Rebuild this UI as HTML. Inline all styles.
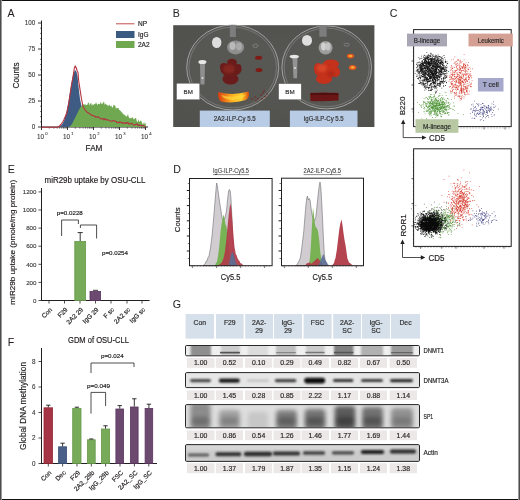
<!DOCTYPE html>
<html><head><meta charset="utf-8"><style>
html,body{margin:0;padding:0;background:#fff;}
body{width:520px;height:500px;overflow:hidden;}
svg{display:block;font-family:"Liberation Sans", sans-serif;will-change:transform;}
text:not([stroke]){stroke:#231f20;stroke-width:0.18px;}
</style></head><body>
<svg width="520" height="500" viewBox="0 0 520 500">
<rect x="0" y="0" width="520" height="500" fill="#ffffff"/>
<text x="7.6" y="16.6" font-size="10.6" text-anchor="start" fill="#231f20" font-weight="normal" stroke="#231f20" stroke-width="0.05" >A</text>
<line x1="41.5" y1="20.5" x2="41.5" y2="127" stroke="#231f20" stroke-width="1" />
<line x1="41" y1="127" x2="148" y2="127" stroke="#231f20" stroke-width="1" />
<line x1="38" y1="127.0" x2="41.5" y2="127.0" stroke="#231f20" stroke-width="0.9" />
<line x1="40" y1="121.8" x2="41.5" y2="121.8" stroke="#231f20" stroke-width="0.6" />
<line x1="40" y1="116.6" x2="41.5" y2="116.6" stroke="#231f20" stroke-width="0.6" />
<line x1="40" y1="111.4" x2="41.5" y2="111.4" stroke="#231f20" stroke-width="0.6" />
<line x1="40" y1="106.2" x2="41.5" y2="106.2" stroke="#231f20" stroke-width="0.6" />
<line x1="38" y1="101.0" x2="41.5" y2="101.0" stroke="#231f20" stroke-width="0.9" />
<line x1="40" y1="95.8" x2="41.5" y2="95.8" stroke="#231f20" stroke-width="0.6" />
<line x1="40" y1="90.6" x2="41.5" y2="90.6" stroke="#231f20" stroke-width="0.6" />
<line x1="40" y1="85.4" x2="41.5" y2="85.4" stroke="#231f20" stroke-width="0.6" />
<line x1="40" y1="80.19999999999999" x2="41.5" y2="80.19999999999999" stroke="#231f20" stroke-width="0.6" />
<line x1="38" y1="75.0" x2="41.5" y2="75.0" stroke="#231f20" stroke-width="0.9" />
<line x1="40" y1="69.8" x2="41.5" y2="69.8" stroke="#231f20" stroke-width="0.6" />
<line x1="40" y1="64.6" x2="41.5" y2="64.6" stroke="#231f20" stroke-width="0.6" />
<line x1="40" y1="59.39999999999999" x2="41.5" y2="59.39999999999999" stroke="#231f20" stroke-width="0.6" />
<line x1="40" y1="54.2" x2="41.5" y2="54.2" stroke="#231f20" stroke-width="0.6" />
<line x1="38" y1="49.0" x2="41.5" y2="49.0" stroke="#231f20" stroke-width="0.9" />
<line x1="40" y1="43.8" x2="41.5" y2="43.8" stroke="#231f20" stroke-width="0.6" />
<line x1="40" y1="38.599999999999994" x2="41.5" y2="38.599999999999994" stroke="#231f20" stroke-width="0.6" />
<line x1="40" y1="33.39999999999999" x2="41.5" y2="33.39999999999999" stroke="#231f20" stroke-width="0.6" />
<line x1="40" y1="28.200000000000003" x2="41.5" y2="28.200000000000003" stroke="#231f20" stroke-width="0.6" />
<line x1="38" y1="23.0" x2="41.5" y2="23.0" stroke="#231f20" stroke-width="0.9" />
<text x="35.2" y="25.3" font-size="6.3" text-anchor="end" fill="#333" font-weight="normal" stroke="#333" stroke-width="0.08" >100</text>
<text x="35.2" y="51.3" font-size="6.3" text-anchor="end" fill="#333" font-weight="normal" stroke="#333" stroke-width="0.08" >75</text>
<text x="35.2" y="77.3" font-size="6.3" text-anchor="end" fill="#333" font-weight="normal" stroke="#333" stroke-width="0.08" >50</text>
<text x="35.2" y="103.3" font-size="6.3" text-anchor="end" fill="#333" font-weight="normal" stroke="#333" stroke-width="0.08" >25</text>
<text x="35.2" y="129.3" font-size="6.3" text-anchor="end" fill="#333" font-weight="normal" stroke="#333" stroke-width="0.08" >0</text>
<line x1="41.5" y1="127" x2="41.5" y2="130" stroke="#231f20" stroke-width="0.9" />
<line x1="49.32677988726351" y1="127" x2="49.32677988726351" y2="128.8" stroke="#231f20" stroke-width="0.5" />
<line x1="53.90515262271123" y1="127" x2="53.90515262271123" y2="128.8" stroke="#231f20" stroke-width="0.5" />
<line x1="57.153559774527025" y1="127" x2="57.153559774527025" y2="128.8" stroke="#231f20" stroke-width="0.5" />
<line x1="59.67322011273649" y1="127" x2="59.67322011273649" y2="128.8" stroke="#231f20" stroke-width="0.5" />
<line x1="61.73193250997473" y1="127" x2="61.73193250997473" y2="128.8" stroke="#231f20" stroke-width="0.5" />
<line x1="63.47254904037068" y1="127" x2="63.47254904037068" y2="128.8" stroke="#231f20" stroke-width="0.5" />
<line x1="64.98033966179054" y1="127" x2="64.98033966179054" y2="128.8" stroke="#231f20" stroke-width="0.5" />
<line x1="66.31030524542246" y1="127" x2="66.31030524542246" y2="128.8" stroke="#231f20" stroke-width="0.5" />
<line x1="67.5" y1="127" x2="67.5" y2="130" stroke="#231f20" stroke-width="0.9" />
<line x1="75.32677988726351" y1="127" x2="75.32677988726351" y2="128.8" stroke="#231f20" stroke-width="0.5" />
<line x1="79.90515262271123" y1="127" x2="79.90515262271123" y2="128.8" stroke="#231f20" stroke-width="0.5" />
<line x1="83.15355977452703" y1="127" x2="83.15355977452703" y2="128.8" stroke="#231f20" stroke-width="0.5" />
<line x1="85.67322011273649" y1="127" x2="85.67322011273649" y2="128.8" stroke="#231f20" stroke-width="0.5" />
<line x1="87.73193250997474" y1="127" x2="87.73193250997474" y2="128.8" stroke="#231f20" stroke-width="0.5" />
<line x1="89.47254904037068" y1="127" x2="89.47254904037068" y2="128.8" stroke="#231f20" stroke-width="0.5" />
<line x1="90.98033966179054" y1="127" x2="90.98033966179054" y2="128.8" stroke="#231f20" stroke-width="0.5" />
<line x1="92.31030524542246" y1="127" x2="92.31030524542246" y2="128.8" stroke="#231f20" stroke-width="0.5" />
<line x1="93.5" y1="127" x2="93.5" y2="130" stroke="#231f20" stroke-width="0.9" />
<line x1="101.32677988726351" y1="127" x2="101.32677988726351" y2="128.8" stroke="#231f20" stroke-width="0.5" />
<line x1="105.90515262271123" y1="127" x2="105.90515262271123" y2="128.8" stroke="#231f20" stroke-width="0.5" />
<line x1="109.15355977452703" y1="127" x2="109.15355977452703" y2="128.8" stroke="#231f20" stroke-width="0.5" />
<line x1="111.67322011273649" y1="127" x2="111.67322011273649" y2="128.8" stroke="#231f20" stroke-width="0.5" />
<line x1="113.73193250997474" y1="127" x2="113.73193250997474" y2="128.8" stroke="#231f20" stroke-width="0.5" />
<line x1="115.47254904037068" y1="127" x2="115.47254904037068" y2="128.8" stroke="#231f20" stroke-width="0.5" />
<line x1="116.98033966179054" y1="127" x2="116.98033966179054" y2="128.8" stroke="#231f20" stroke-width="0.5" />
<line x1="118.31030524542246" y1="127" x2="118.31030524542246" y2="128.8" stroke="#231f20" stroke-width="0.5" />
<line x1="119.5" y1="127" x2="119.5" y2="130" stroke="#231f20" stroke-width="0.9" />
<line x1="127.32677988726351" y1="127" x2="127.32677988726351" y2="128.8" stroke="#231f20" stroke-width="0.5" />
<line x1="131.90515262271123" y1="127" x2="131.90515262271123" y2="128.8" stroke="#231f20" stroke-width="0.5" />
<line x1="135.15355977452703" y1="127" x2="135.15355977452703" y2="128.8" stroke="#231f20" stroke-width="0.5" />
<line x1="137.6732201127365" y1="127" x2="137.6732201127365" y2="128.8" stroke="#231f20" stroke-width="0.5" />
<line x1="139.73193250997474" y1="127" x2="139.73193250997474" y2="128.8" stroke="#231f20" stroke-width="0.5" />
<line x1="141.47254904037067" y1="127" x2="141.47254904037067" y2="128.8" stroke="#231f20" stroke-width="0.5" />
<line x1="142.98033966179054" y1="127" x2="142.98033966179054" y2="128.8" stroke="#231f20" stroke-width="0.5" />
<line x1="144.31030524542246" y1="127" x2="144.31030524542246" y2="128.8" stroke="#231f20" stroke-width="0.5" />
<line x1="145.5" y1="127" x2="145.5" y2="130" stroke="#231f20" stroke-width="0.9" />
<text x="40.5" y="138.5" font-size="6.3" text-anchor="middle" fill="#333" font-weight="normal" stroke="#333" stroke-width="0.08" >10</text>
<text x="45.3" y="135.2" font-size="4.2" text-anchor="start" fill="#333" font-weight="normal" stroke="#333" stroke-width="0.05" >0</text>
<text x="66.5" y="138.5" font-size="6.3" text-anchor="middle" fill="#333" font-weight="normal" stroke="#333" stroke-width="0.08" >10</text>
<text x="71.3" y="135.2" font-size="4.2" text-anchor="start" fill="#333" font-weight="normal" stroke="#333" stroke-width="0.05" >1</text>
<text x="92.5" y="138.5" font-size="6.3" text-anchor="middle" fill="#333" font-weight="normal" stroke="#333" stroke-width="0.08" >10</text>
<text x="97.3" y="135.2" font-size="4.2" text-anchor="start" fill="#333" font-weight="normal" stroke="#333" stroke-width="0.05" >2</text>
<text x="118.5" y="138.5" font-size="6.3" text-anchor="middle" fill="#333" font-weight="normal" stroke="#333" stroke-width="0.08" >10</text>
<text x="123.3" y="135.2" font-size="4.2" text-anchor="start" fill="#333" font-weight="normal" stroke="#333" stroke-width="0.05" >3</text>
<text x="144.5" y="138.5" font-size="6.3" text-anchor="middle" fill="#333" font-weight="normal" stroke="#333" stroke-width="0.08" >10</text>
<text x="149.3" y="135.2" font-size="4.2" text-anchor="start" fill="#333" font-weight="normal" stroke="#333" stroke-width="0.05" >4</text>
<text x="94" y="150.5" font-size="8.2" text-anchor="middle" fill="#231f20" font-weight="normal" stroke="#231f20" stroke-width="0.18" >FAM</text>
<text transform="translate(18.8,75.5) rotate(-90)" font-size="8.2" text-anchor="middle" fill="#231f20">Counts</text>
<line x1="116" y1="23.8" x2="134.5" y2="23.8" stroke="#c0504d" stroke-width="1" />
<rect x="116" y="31" width="18.5" height="7" fill="#3b5a82" />
<rect x="116" y="41" width="18.5" height="7" fill="#6fa84f" />
<text x="138" y="26.2" font-size="6.5" text-anchor="start" fill="#231f20" font-weight="normal" stroke="#231f20" stroke-width="0.18" >NP</text>
<text x="138" y="37" font-size="6.5" text-anchor="start" fill="#231f20" font-weight="normal" stroke="#231f20" stroke-width="0.18" >IgG</text>
<text x="138" y="47" font-size="6.5" text-anchor="start" fill="#231f20" font-weight="normal" stroke="#231f20" stroke-width="0.18" >2A2</text>
<polygon points="57.0,127.0 60.0,126.5 62.0,124.5 64.0,121.0 66.0,114.0 68.0,104.0 70.0,92.0 72.0,80.0 73.5,73.0 75.2,70.0 76.5,72.0 77.5,76.0 78.7,88.0 80.0,99.0 81.5,106.0 83.0,114.0 84.0,120.0 86.0,127.0" fill="#3d5b83"/>
<polygon points="68.0,127.0 70.0,126.5 72.0,124.0 74.5,119.0 76.0,116.0 78.0,112.0 80.0,108.0 82.0,105.5 83.0,104.8 84.0,104.0 84.8,105.1 85.6,104.3 86.4,105.1 87.2,105.1 88.0,102.8 88.8,102.5 89.6,105.6 90.4,103.2 91.2,103.0 92.0,106.0 92.8,103.8 93.6,105.2 94.4,103.7 95.2,104.2 96.0,102.2 96.8,104.1 97.6,104.9 98.4,103.5 99.2,104.2 100.0,103.9 100.8,101.5 101.6,104.3 102.4,103.7 103.2,102.6 104.0,101.5 104.8,104.9 105.6,103.4 106.4,104.5 107.2,105.5 108.0,105.1 108.8,106.2 109.6,104.4 110.4,106.4 111.2,105.2 112.0,107.5 112.8,107.6 113.6,104.7 114.4,105.2 115.2,105.8 116.0,109.1 116.8,107.3 117.6,108.4 118.4,107.8 119.2,109.8 120.0,110.5 120.8,110.9 121.6,112.3 122.4,112.8 123.2,114.5 124.0,114.1 124.8,115.6 125.6,115.7 126.4,116.7 127.2,115.8 128.0,114.2 128.8,117.3 129.6,118.2 130.4,118.3 131.2,117.4 132.0,118.4 132.8,116.7 133.6,119.6 134.4,119.0 135.2,118.2 136.0,117.8 136.8,121.3 137.6,122.3 138.4,119.1 139.2,122.3 140.0,121.1 140.8,120.5 141.6,121.5 142.4,123.8 143.2,124.6 144.0,121.7 144.8,124.4 145.6,122.5 146.0,126.5 146.5,127.0" fill="#70a852"/>
<polyline points="41.5,127.2 57.0,127.2 59.0,126.5 61.0,124.5 63.0,121.5 64.0,119.5 66.8,113.0 69.0,102.0 71.0,88.0 73.0,76.8 74.4,68.0 75.2,65.9 76.3,68.0 77.2,71.0 78.0,72.6 78.7,81.0 80.0,89.4 81.5,99.0 83.0,106.5 84.5,109.0 85.5,110.5 86.4,111.5 87.5,112.6 88.5,112.8 89.5,114.0 90.6,114.0 91.7,115.5 92.7,115.3 93.8,116.1 94.8,116.0 95.9,117.4 97.0,117.2 98.0,116.5 99.0,117.7 100.0,118.0 101.0,119.1 102.0,118.7 103.0,118.6 104.0,119.8 105.0,118.6 106.0,119.8 107.0,119.9 108.0,119.7 109.0,120.4 110.0,120.8 111.0,121.1 112.0,121.3 113.0,120.4 114.0,120.8 115.0,121.4 116.0,121.2 117.0,122.8 118.0,122.2 119.0,122.8 120.0,121.7 121.0,122.4 122.0,123.3 123.0,122.3 124.0,123.3 125.0,123.5 126.0,122.5 127.0,123.2 128.0,122.4 129.0,124.3 130.0,123.8 131.0,123.4 132.0,123.6 133.0,124.3 134.0,125.2 135.0,124.9 136.0,124.1 137.0,123.9 138.0,125.6 139.0,124.9 140.0,125.2 141.0,125.7 142.0,125.5 143.0,125.3 144.0,126.2 145.5,127.0" fill="none" stroke="#b5323f" stroke-width="1.1" stroke-linejoin="round"/>
<text x="172.8" y="16.7" font-size="10.6" text-anchor="start" fill="#231f20" font-weight="normal" stroke="#231f20" stroke-width="0.05" >B</text>
<g>
<defs><radialGradient id="phbg" cx="0.5" cy="0.5" r="0.7"><stop offset="0" stop-color="#575754"/><stop offset="1" stop-color="#50504d"/></radialGradient><filter id="bb" x="-20%" y="-20%" width="140%" height="140%"><feGaussianBlur stdDeviation="0.6"/></filter><filter id="bb2" x="-20%" y="-20%" width="140%" height="140%"><feGaussianBlur stdDeviation="1"/></filter></defs>
<rect x="173.2" y="25.2" width="201.2" height="101.8" fill="url(#phbg)"/>
<ellipse cx="232.7" cy="67.5" rx="46" ry="42.5" fill="#575754" stroke="#a9a9a9" stroke-width="0.9"/>
<ellipse cx="232.7" cy="67.5" rx="43.8" ry="40.3" fill="none" stroke="#858585" stroke-width="0.7"/>
<ellipse cx="326.7" cy="67.4" rx="44.8" ry="41.5" fill="#575754" stroke="#a9a9a9" stroke-width="0.9"/>
<ellipse cx="326.7" cy="67.4" rx="42.599999999999994" ry="39.3" fill="none" stroke="#858585" stroke-width="0.7"/>
<rect x="229.9" y="25.2" width="6" height="11.8" fill="#7d7d7d" filter="url(#bb)"/>
<ellipse cx="216.7" cy="42.5" rx="4.7" ry="5.5" fill="#dedede" filter="url(#bb)"/>
<ellipse cx="235.6" cy="47.4" rx="8.5" ry="7" fill="#8e8e8e" filter="url(#bb)"/>
<ellipse cx="232.5" cy="46" rx="3" ry="4" fill="#b9b9b9" filter="url(#bb)"/>
<ellipse cx="239" cy="46.5" rx="3" ry="4" fill="#a9a9a9" filter="url(#bb)"/>
<ellipse cx="255.4" cy="45.8" rx="2.6" ry="1.6" fill="none" stroke="#858585" stroke-width="0.8"/>
<path d="M198.5,61 L206.5,61 L205,64 L204.5,84.5 L200.5,84.5 L200,64 Z" fill="#8f8f8f" filter="url(#bb)"/>
<ellipse cx="202.4" cy="62" rx="4" ry="2" fill="#e8e8e8" filter="url(#bb)"/>
<circle cx="202.5" cy="78" r="1" fill="#ddd"/>
<g fill="#6a1f1a" filter="url(#bb)"><ellipse cx="232" cy="62.5" rx="5" ry="3.8"/><ellipse cx="231" cy="70" rx="10.5" ry="6.5"/><ellipse cx="230.5" cy="79" rx="8" ry="5.5"/><ellipse cx="224" cy="67" rx="4" ry="4"/><ellipse cx="238" cy="68" rx="3.5" ry="4"/></g>
<ellipse cx="229" cy="69" rx="6" ry="4.5" fill="#8a2c20" opacity="0.8" filter="url(#bb2)"/>
<ellipse cx="258.6" cy="57.7" rx="3.6" ry="2" fill="#7d1c12" filter="url(#bb)"/>
<ellipse cx="259" cy="70" rx="3.4" ry="2" fill="#7d1c12" filter="url(#bb)"/>
<defs><linearGradient id="bmg" x1="0" x2="1" y1="0" y2="0"><stop offset="0" stop-color="#d83c10"/><stop offset="0.45" stop-color="#ffb020"/><stop offset="0.75" stop-color="#ffd030"/><stop offset="1" stop-color="#d84a10"/></linearGradient></defs>
<path d="M218.5,92 Q233,96 248.5,91.5 Q250.5,97 246,100 Q233,104 221,101.5 Q217,98 218.5,92 Z" fill="url(#bmg)" filter="url(#bb)"/>
<path d="M221,95 Q233,98.5 246,94.5 Q245,98 233,100 Q223,99.5 221,95 Z" fill="#ffe040" opacity="0.6" filter="url(#bb)"/>
<circle cx="255" cy="97" r="0.7" fill="#7a1c10"/>
<circle cx="258" cy="98.5" r="0.7" fill="#7a1c10"/>
<circle cx="261" cy="95" r="0.7" fill="#7a1c10"/>
<circle cx="263" cy="93" r="0.7" fill="#7a1c10"/>
<circle cx="265" cy="96.5" r="0.7" fill="#7a1c10"/>
<circle cx="262" cy="99" r="0.7" fill="#7a1c10"/>
<circle cx="267" cy="94" r="0.7" fill="#7a1c10"/>
<circle cx="256" cy="100.5" r="0.7" fill="#7a1c10"/>
<circle cx="264" cy="91" r="0.7" fill="#7a1c10"/>
<circle cx="252" cy="99" r="0.7" fill="#7a1c10"/>
<rect x="319.3" y="25.2" width="7.3" height="11.5" fill="#7d7d7d" filter="url(#bb)"/>
<ellipse cx="307" cy="40.4" rx="5" ry="5.4" fill="#e0e0e0" filter="url(#bb)"/>
<ellipse cx="325.6" cy="47.7" rx="7" ry="6.7" fill="#9c9c9c" filter="url(#bb)"/>
<ellipse cx="323.5" cy="46.5" rx="2.5" ry="4" fill="#d0d0d0" filter="url(#bb)"/>
<ellipse cx="328" cy="46.5" rx="2.5" ry="4" fill="#c4c4c4" filter="url(#bb)"/>
<ellipse cx="346.7" cy="44.7" rx="2.6" ry="1.5" fill="none" stroke="#858585" stroke-width="0.8"/>
<path d="M289.5,56 L299.5,56 L297.5,59 L297,78.2 L293.5,78.2 L292.5,59 Z" fill="#939393" filter="url(#bb)"/>
<ellipse cx="294.2" cy="56.5" rx="4.5" ry="1.8" fill="#e8e8e8" filter="url(#bb)"/>
<circle cx="295" cy="68" r="1" fill="#ddd"/>
<g fill="#c4301e" filter="url(#bb)"><ellipse cx="331" cy="64" rx="8" ry="4.5"/><ellipse cx="326.5" cy="71" rx="12" ry="7"/><ellipse cx="324" cy="79" rx="8" ry="5"/><ellipse cx="318" cy="68" rx="4" ry="5"/><ellipse cx="336" cy="72" rx="4" ry="5"/></g>
<ellipse cx="322" cy="68" rx="5" ry="4" fill="#e0502e" opacity="0.7" filter="url(#bb2)"/>
<ellipse cx="331" cy="74" rx="4" ry="3" fill="#a82818" opacity="0.6" filter="url(#bb2)"/>
<ellipse cx="350.4" cy="56.1" rx="3.6" ry="2.3" fill="#e05a1a" filter="url(#bb)"/>
<ellipse cx="350.4" cy="56.1" rx="1.8" ry="1" fill="#ffb040" filter="url(#bb)"/>
<ellipse cx="352.6" cy="67.4" rx="3.8" ry="2.5" fill="#e05a1a" filter="url(#bb)"/>
<ellipse cx="352.6" cy="67.4" rx="2" ry="1.1" fill="#ffb040" filter="url(#bb)"/>
<path d="M310,93 Q324,92 338.7,93 L338.5,100.5 Q324,101.8 310.5,101 Z" fill="#6a1812" filter="url(#bb)"/>
<rect x="311" y="93" width="27" height="2" fill="#4a0e0a" opacity="0.7" filter="url(#bb)"/>
<rect x="176.5" y="83.2" width="23.3" height="16.6" fill="#ffffff" stroke="#444" stroke-width="0.4"/>
<text x="188.2" y="93.9" font-size="6.2" text-anchor="middle" fill="#333" font-weight="normal" stroke="#333" stroke-width="0.18" >BM</text>
<rect x="278.6" y="83.6" width="22.7" height="16.2" fill="#ffffff" stroke="#444" stroke-width="0.4"/>
<text x="290" y="94.1" font-size="6.2" text-anchor="middle" fill="#333" font-weight="normal" stroke="#333" stroke-width="0.18" >BM</text>
<rect x="199.8" y="110.6" width="70" height="16.4" fill="#b9cce5"/>
<text x="234.8" y="121" font-size="6.4" text-anchor="middle" fill="#333" font-weight="normal" stroke="#333" stroke-width="0.18" textLength="42" lengthAdjust="spacingAndGlyphs" >2A2-ILP-Cy 5.5</text>
<rect x="289.9" y="110.6" width="67.6" height="16.4" fill="#b9cce5"/>
<text x="323.7" y="121" font-size="6.4" text-anchor="middle" fill="#333" font-weight="normal" stroke="#333" stroke-width="0.18" textLength="40" lengthAdjust="spacingAndGlyphs" >IgG-ILP-Cy 5.5</text>
</g>
<text x="389.8" y="17.4" font-size="10.6" text-anchor="start" fill="#231f20" font-weight="normal" stroke="#231f20" stroke-width="0.05" >C</text>
<rect x="413.6" y="29.6" width="97.6" height="97" fill="none" stroke="#231f20" stroke-width="1"/>
<line x1="411.5" y1="37.5" x2="414" y2="37.5" stroke="#231f20" stroke-width="0.7" />
<line x1="411.5" y1="61" x2="414" y2="61" stroke="#231f20" stroke-width="0.7" />
<line x1="411.5" y1="85" x2="414" y2="85" stroke="#231f20" stroke-width="0.7" />
<line x1="411.5" y1="109" x2="414" y2="109" stroke="#231f20" stroke-width="0.7" />
<line x1="412.8" y1="32" x2="414" y2="32" stroke="#231f20" stroke-width="0.4" />
<line x1="412.8" y1="36" x2="414" y2="36" stroke="#231f20" stroke-width="0.4" />
<line x1="412.8" y1="40" x2="414" y2="40" stroke="#231f20" stroke-width="0.4" />
<line x1="412.8" y1="44" x2="414" y2="44" stroke="#231f20" stroke-width="0.4" />
<line x1="412.8" y1="48" x2="414" y2="48" stroke="#231f20" stroke-width="0.4" />
<line x1="412.8" y1="52" x2="414" y2="52" stroke="#231f20" stroke-width="0.4" />
<line x1="412.8" y1="56" x2="414" y2="56" stroke="#231f20" stroke-width="0.4" />
<line x1="412.8" y1="60" x2="414" y2="60" stroke="#231f20" stroke-width="0.4" />
<line x1="412.8" y1="64" x2="414" y2="64" stroke="#231f20" stroke-width="0.4" />
<line x1="412.8" y1="68" x2="414" y2="68" stroke="#231f20" stroke-width="0.4" />
<line x1="412.8" y1="72" x2="414" y2="72" stroke="#231f20" stroke-width="0.4" />
<line x1="412.8" y1="76" x2="414" y2="76" stroke="#231f20" stroke-width="0.4" />
<line x1="412.8" y1="80" x2="414" y2="80" stroke="#231f20" stroke-width="0.4" />
<line x1="412.8" y1="84" x2="414" y2="84" stroke="#231f20" stroke-width="0.4" />
<line x1="412.8" y1="88" x2="414" y2="88" stroke="#231f20" stroke-width="0.4" />
<line x1="412.8" y1="92" x2="414" y2="92" stroke="#231f20" stroke-width="0.4" />
<line x1="412.8" y1="96" x2="414" y2="96" stroke="#231f20" stroke-width="0.4" />
<line x1="412.8" y1="100" x2="414" y2="100" stroke="#231f20" stroke-width="0.4" />
<line x1="412.8" y1="104" x2="414" y2="104" stroke="#231f20" stroke-width="0.4" />
<line x1="412.8" y1="108" x2="414" y2="108" stroke="#231f20" stroke-width="0.4" />
<line x1="412.8" y1="112" x2="414" y2="112" stroke="#231f20" stroke-width="0.4" />
<line x1="412.8" y1="116" x2="414" y2="116" stroke="#231f20" stroke-width="0.4" />
<line x1="412.8" y1="120" x2="414" y2="120" stroke="#231f20" stroke-width="0.4" />
<line x1="412.8" y1="124" x2="414" y2="124" stroke="#231f20" stroke-width="0.4" />
<line x1="421" y1="127.3" x2="421" y2="129.5" stroke="#231f20" stroke-width="0.6" />
<line x1="442" y1="127.3" x2="442" y2="129.5" stroke="#231f20" stroke-width="0.6" />
<line x1="457" y1="127.3" x2="457" y2="129.5" stroke="#231f20" stroke-width="0.6" />
<line x1="484" y1="127.3" x2="484" y2="129.5" stroke="#231f20" stroke-width="0.6" />
<line x1="505" y1="127.3" x2="505" y2="129.5" stroke="#231f20" stroke-width="0.6" />
<line x1="416" y1="127.3" x2="416" y2="128.5" stroke="#231f20" stroke-width="0.4" />
<line x1="419" y1="127.3" x2="419" y2="128.5" stroke="#231f20" stroke-width="0.4" />
<line x1="422" y1="127.3" x2="422" y2="128.5" stroke="#231f20" stroke-width="0.4" />
<line x1="425" y1="127.3" x2="425" y2="128.5" stroke="#231f20" stroke-width="0.4" />
<line x1="428" y1="127.3" x2="428" y2="128.5" stroke="#231f20" stroke-width="0.4" />
<line x1="431" y1="127.3" x2="431" y2="128.5" stroke="#231f20" stroke-width="0.4" />
<line x1="434" y1="127.3" x2="434" y2="128.5" stroke="#231f20" stroke-width="0.4" />
<line x1="437" y1="127.3" x2="437" y2="128.5" stroke="#231f20" stroke-width="0.4" />
<line x1="440" y1="127.3" x2="440" y2="128.5" stroke="#231f20" stroke-width="0.4" />
<line x1="443" y1="127.3" x2="443" y2="128.5" stroke="#231f20" stroke-width="0.4" />
<line x1="446" y1="127.3" x2="446" y2="128.5" stroke="#231f20" stroke-width="0.4" />
<line x1="449" y1="127.3" x2="449" y2="128.5" stroke="#231f20" stroke-width="0.4" />
<line x1="452" y1="127.3" x2="452" y2="128.5" stroke="#231f20" stroke-width="0.4" />
<line x1="455" y1="127.3" x2="455" y2="128.5" stroke="#231f20" stroke-width="0.4" />
<line x1="458" y1="127.3" x2="458" y2="128.5" stroke="#231f20" stroke-width="0.4" />
<line x1="461" y1="127.3" x2="461" y2="128.5" stroke="#231f20" stroke-width="0.4" />
<line x1="464" y1="127.3" x2="464" y2="128.5" stroke="#231f20" stroke-width="0.4" />
<line x1="467" y1="127.3" x2="467" y2="128.5" stroke="#231f20" stroke-width="0.4" />
<line x1="470" y1="127.3" x2="470" y2="128.5" stroke="#231f20" stroke-width="0.4" />
<line x1="473" y1="127.3" x2="473" y2="128.5" stroke="#231f20" stroke-width="0.4" />
<line x1="476" y1="127.3" x2="476" y2="128.5" stroke="#231f20" stroke-width="0.4" />
<line x1="479" y1="127.3" x2="479" y2="128.5" stroke="#231f20" stroke-width="0.4" />
<line x1="482" y1="127.3" x2="482" y2="128.5" stroke="#231f20" stroke-width="0.4" />
<line x1="485" y1="127.3" x2="485" y2="128.5" stroke="#231f20" stroke-width="0.4" />
<line x1="488" y1="127.3" x2="488" y2="128.5" stroke="#231f20" stroke-width="0.4" />
<line x1="491" y1="127.3" x2="491" y2="128.5" stroke="#231f20" stroke-width="0.4" />
<line x1="494" y1="127.3" x2="494" y2="128.5" stroke="#231f20" stroke-width="0.4" />
<line x1="497" y1="127.3" x2="497" y2="128.5" stroke="#231f20" stroke-width="0.4" />
<line x1="500" y1="127.3" x2="500" y2="128.5" stroke="#231f20" stroke-width="0.4" />
<line x1="503" y1="127.3" x2="503" y2="128.5" stroke="#231f20" stroke-width="0.4" />
<line x1="506" y1="127.3" x2="506" y2="128.5" stroke="#231f20" stroke-width="0.4" />
<line x1="509" y1="127.3" x2="509" y2="128.5" stroke="#231f20" stroke-width="0.4" />
<path d="M420.2,75.7h0.8v0.8h-0.8zM420.7,70.9h0.8v0.8h-0.8zM435.2,81.7h0.8v0.8h-0.8zM437.1,76.0h0.8v0.8h-0.8zM442.9,80.2h0.8v0.8h-0.8zM446.2,69.5h0.8v0.8h-0.8zM424.9,60.0h0.8v0.8h-0.8zM428.7,70.9h0.8v0.8h-0.8zM434.1,79.5h0.8v0.8h-0.8zM418.3,77.7h0.8v0.8h-0.8zM421.1,70.0h0.8v0.8h-0.8zM424.6,73.8h0.8v0.8h-0.8zM448.0,71.2h0.8v0.8h-0.8zM429.2,77.8h0.8v0.8h-0.8zM430.7,75.2h0.8v0.8h-0.8zM436.1,63.6h0.8v0.8h-0.8zM445.8,66.9h0.8v0.8h-0.8zM439.8,65.2h0.8v0.8h-0.8zM441.2,70.1h0.8v0.8h-0.8zM432.8,62.8h0.8v0.8h-0.8zM439.2,77.1h0.8v0.8h-0.8zM436.3,76.7h0.8v0.8h-0.8zM433.8,73.6h0.8v0.8h-0.8zM423.0,67.5h0.8v0.8h-0.8zM436.5,86.9h0.8v0.8h-0.8zM438.9,79.5h0.8v0.8h-0.8zM433.4,80.9h0.8v0.8h-0.8zM426.8,87.3h0.8v0.8h-0.8zM433.8,82.5h0.8v0.8h-0.8zM442.8,81.4h0.8v0.8h-0.8zM433.1,79.6h0.8v0.8h-0.8zM430.6,74.9h0.8v0.8h-0.8zM441.0,78.7h0.8v0.8h-0.8zM424.1,80.7h0.8v0.8h-0.8zM439.8,68.9h0.8v0.8h-0.8zM433.4,76.6h0.8v0.8h-0.8zM443.0,62.6h0.8v0.8h-0.8zM430.5,52.8h0.8v0.8h-0.8zM436.8,89.8h0.8v0.8h-0.8zM428.3,73.6h0.8v0.8h-0.8zM446.3,75.9h0.8v0.8h-0.8zM430.8,90.0h0.8v0.8h-0.8zM425.0,66.2h0.8v0.8h-0.8zM438.0,75.1h0.8v0.8h-0.8zM419.0,65.7h0.8v0.8h-0.8zM436.5,68.1h0.8v0.8h-0.8zM438.3,72.4h0.8v0.8h-0.8zM435.3,80.7h0.8v0.8h-0.8zM427.8,69.4h0.8v0.8h-0.8zM445.0,69.5h0.8v0.8h-0.8zM427.4,58.8h0.8v0.8h-0.8zM446.3,73.5h0.8v0.8h-0.8zM426.4,52.3h0.8v0.8h-0.8zM418.5,73.2h0.8v0.8h-0.8zM424.4,89.8h0.8v0.8h-0.8zM430.3,53.4h0.8v0.8h-0.8zM430.4,55.9h0.8v0.8h-0.8zM425.4,81.3h0.8v0.8h-0.8zM441.7,62.8h0.8v0.8h-0.8zM439.3,60.8h0.8v0.8h-0.8zM425.9,64.9h0.8v0.8h-0.8zM441.3,78.0h0.8v0.8h-0.8zM445.7,70.8h0.8v0.8h-0.8zM430.5,59.2h0.8v0.8h-0.8zM417.0,78.3h0.8v0.8h-0.8zM443.5,74.2h0.8v0.8h-0.8zM425.3,72.4h0.8v0.8h-0.8zM421.4,60.9h0.8v0.8h-0.8zM431.5,72.7h0.8v0.8h-0.8zM433.2,78.3h0.8v0.8h-0.8zM439.9,64.7h0.8v0.8h-0.8zM425.5,85.1h0.8v0.8h-0.8zM434.7,82.7h0.8v0.8h-0.8zM436.8,65.6h0.8v0.8h-0.8zM424.3,66.6h0.8v0.8h-0.8zM439.3,56.2h0.8v0.8h-0.8zM427.9,54.2h0.8v0.8h-0.8zM424.4,74.2h0.8v0.8h-0.8zM433.4,81.4h0.8v0.8h-0.8zM426.3,85.8h0.8v0.8h-0.8zM441.2,70.2h0.8v0.8h-0.8zM433.1,69.5h0.8v0.8h-0.8zM428.8,59.4h0.8v0.8h-0.8zM436.8,72.3h0.8v0.8h-0.8zM429.8,72.1h0.8v0.8h-0.8zM433.0,73.7h0.8v0.8h-0.8zM425.4,63.9h0.8v0.8h-0.8zM436.4,56.1h0.8v0.8h-0.8zM429.3,65.4h0.8v0.8h-0.8zM441.4,72.3h0.8v0.8h-0.8zM430.3,65.1h0.8v0.8h-0.8zM427.8,58.8h0.8v0.8h-0.8zM422.7,62.3h0.8v0.8h-0.8zM434.7,68.9h0.8v0.8h-0.8zM443.8,64.9h0.8v0.8h-0.8zM420.5,58.3h0.8v0.8h-0.8zM422.8,81.7h0.8v0.8h-0.8zM439.8,67.9h0.8v0.8h-0.8zM428.1,65.8h0.8v0.8h-0.8zM424.7,61.4h0.8v0.8h-0.8zM435.6,92.1h0.8v0.8h-0.8zM418.8,67.9h0.8v0.8h-0.8zM424.9,88.0h0.8v0.8h-0.8zM439.2,76.8h0.8v0.8h-0.8zM419.2,66.7h0.8v0.8h-0.8zM432.6,68.2h0.8v0.8h-0.8zM433.0,65.8h0.8v0.8h-0.8zM435.0,76.6h0.8v0.8h-0.8zM418.0,69.8h0.8v0.8h-0.8zM440.1,67.9h0.8v0.8h-0.8zM434.9,70.1h0.8v0.8h-0.8zM428.0,87.7h0.8v0.8h-0.8zM424.4,61.4h0.8v0.8h-0.8zM428.5,80.3h0.8v0.8h-0.8zM440.0,56.6h0.8v0.8h-0.8zM443.4,68.7h0.8v0.8h-0.8zM426.7,68.7h0.8v0.8h-0.8zM430.1,70.2h0.8v0.8h-0.8zM440.5,69.4h0.8v0.8h-0.8zM421.4,66.5h0.8v0.8h-0.8zM430.5,68.4h0.8v0.8h-0.8zM445.5,66.9h0.8v0.8h-0.8zM430.2,83.9h0.8v0.8h-0.8zM437.7,54.6h0.8v0.8h-0.8zM423.5,72.9h0.8v0.8h-0.8zM436.0,68.8h0.8v0.8h-0.8zM431.8,69.6h0.8v0.8h-0.8zM428.3,62.4h0.8v0.8h-0.8zM423.6,83.6h0.8v0.8h-0.8zM439.5,80.8h0.8v0.8h-0.8zM431.5,77.9h0.8v0.8h-0.8zM425.1,79.0h0.8v0.8h-0.8zM426.3,70.3h0.8v0.8h-0.8zM423.9,60.8h0.8v0.8h-0.8zM438.6,60.0h0.8v0.8h-0.8zM430.7,56.0h0.8v0.8h-0.8zM437.4,66.6h0.8v0.8h-0.8zM435.1,92.6h0.8v0.8h-0.8zM435.1,67.9h0.8v0.8h-0.8zM431.2,76.6h0.8v0.8h-0.8zM436.1,61.8h0.8v0.8h-0.8zM421.8,79.6h0.8v0.8h-0.8zM437.0,72.2h0.8v0.8h-0.8zM435.0,70.7h0.8v0.8h-0.8zM420.0,71.0h0.8v0.8h-0.8zM432.7,75.0h0.8v0.8h-0.8zM433.0,72.9h0.8v0.8h-0.8zM427.2,69.1h0.8v0.8h-0.8zM434.2,78.9h0.8v0.8h-0.8zM434.2,69.9h0.8v0.8h-0.8zM443.6,77.4h0.8v0.8h-0.8zM426.8,82.2h0.8v0.8h-0.8zM422.3,70.4h0.8v0.8h-0.8zM427.3,55.7h0.8v0.8h-0.8zM435.5,81.9h0.8v0.8h-0.8zM433.1,76.9h0.8v0.8h-0.8zM430.1,71.4h0.8v0.8h-0.8zM427.9,56.7h0.8v0.8h-0.8zM425.8,64.3h0.8v0.8h-0.8zM444.3,69.8h0.8v0.8h-0.8zM430.7,88.9h0.8v0.8h-0.8zM434.6,63.0h0.8v0.8h-0.8zM442.4,61.6h0.8v0.8h-0.8zM432.3,62.2h0.8v0.8h-0.8zM431.0,68.0h0.8v0.8h-0.8zM440.4,72.2h0.8v0.8h-0.8zM423.8,60.6h0.8v0.8h-0.8zM426.7,61.6h0.8v0.8h-0.8zM426.0,61.2h0.8v0.8h-0.8zM443.2,71.5h0.8v0.8h-0.8zM427.5,56.3h0.8v0.8h-0.8zM421.8,61.3h0.8v0.8h-0.8zM431.1,82.7h0.8v0.8h-0.8zM428.7,74.8h0.8v0.8h-0.8zM431.4,87.4h0.8v0.8h-0.8zM442.0,68.9h0.8v0.8h-0.8zM443.5,71.1h0.8v0.8h-0.8zM421.1,62.7h0.8v0.8h-0.8zM446.4,76.7h0.8v0.8h-0.8zM436.8,82.9h0.8v0.8h-0.8zM429.2,69.2h0.8v0.8h-0.8zM420.6,69.3h0.8v0.8h-0.8zM426.9,77.6h0.8v0.8h-0.8zM429.1,85.1h0.8v0.8h-0.8zM431.2,72.9h0.8v0.8h-0.8zM438.9,84.8h0.8v0.8h-0.8zM420.3,82.6h0.8v0.8h-0.8zM446.1,70.3h0.8v0.8h-0.8zM443.5,78.6h0.8v0.8h-0.8zM438.3,70.1h0.8v0.8h-0.8zM417.0,68.9h0.8v0.8h-0.8zM443.9,69.5h0.8v0.8h-0.8zM428.3,68.6h0.8v0.8h-0.8zM432.2,74.3h0.8v0.8h-0.8zM427.6,70.7h0.8v0.8h-0.8zM424.5,73.9h0.8v0.8h-0.8zM423.4,66.0h0.8v0.8h-0.8zM445.1,71.3h0.8v0.8h-0.8zM430.8,62.7h0.8v0.8h-0.8zM434.3,56.4h0.8v0.8h-0.8zM427.2,77.8h0.8v0.8h-0.8zM422.6,64.6h0.8v0.8h-0.8zM431.6,64.7h0.8v0.8h-0.8zM446.6,60.9h0.8v0.8h-0.8zM434.3,72.3h0.8v0.8h-0.8zM428.4,67.9h0.8v0.8h-0.8zM428.1,70.4h0.8v0.8h-0.8zM419.6,66.8h0.8v0.8h-0.8zM424.4,80.2h0.8v0.8h-0.8zM431.0,53.7h0.8v0.8h-0.8zM435.5,73.9h0.8v0.8h-0.8zM432.1,65.0h0.8v0.8h-0.8zM425.2,75.4h0.8v0.8h-0.8zM423.4,57.5h0.8v0.8h-0.8zM426.6,82.9h0.8v0.8h-0.8zM425.2,75.2h0.8v0.8h-0.8zM443.6,81.6h0.8v0.8h-0.8zM422.1,66.7h0.8v0.8h-0.8zM428.5,63.2h0.8v0.8h-0.8zM434.2,85.1h0.8v0.8h-0.8zM438.0,75.9h0.8v0.8h-0.8zM430.6,76.4h0.8v0.8h-0.8zM423.7,83.1h0.8v0.8h-0.8zM428.6,58.4h0.8v0.8h-0.8zM445.5,62.1h0.8v0.8h-0.8zM433.9,63.3h0.8v0.8h-0.8zM427.2,82.7h0.8v0.8h-0.8zM431.6,80.9h0.8v0.8h-0.8zM426.2,78.6h0.8v0.8h-0.8zM435.4,84.4h0.8v0.8h-0.8zM434.8,58.6h0.8v0.8h-0.8zM436.8,84.3h0.8v0.8h-0.8zM437.3,65.1h0.8v0.8h-0.8zM420.7,67.8h0.8v0.8h-0.8zM443.3,68.5h0.8v0.8h-0.8zM419.0,67.0h0.8v0.8h-0.8zM434.4,73.5h0.8v0.8h-0.8zM439.9,77.4h0.8v0.8h-0.8zM439.3,83.3h0.8v0.8h-0.8zM433.8,86.2h0.8v0.8h-0.8zM419.2,69.5h0.8v0.8h-0.8zM444.0,68.5h0.8v0.8h-0.8zM421.1,72.0h0.8v0.8h-0.8zM438.4,66.7h0.8v0.8h-0.8zM437.6,57.5h0.8v0.8h-0.8zM437.9,58.3h0.8v0.8h-0.8zM441.5,68.3h0.8v0.8h-0.8zM434.4,61.3h0.8v0.8h-0.8zM427.3,74.3h0.8v0.8h-0.8zM428.7,74.9h0.8v0.8h-0.8zM434.0,81.5h0.8v0.8h-0.8zM440.1,75.5h0.8v0.8h-0.8zM440.5,81.0h0.8v0.8h-0.8zM440.0,75.7h0.8v0.8h-0.8zM418.4,62.4h0.8v0.8h-0.8zM434.0,78.3h0.8v0.8h-0.8zM432.6,85.9h0.8v0.8h-0.8zM434.3,79.2h0.8v0.8h-0.8zM437.4,84.8h0.8v0.8h-0.8zM436.0,59.6h0.8v0.8h-0.8zM430.5,89.8h0.8v0.8h-0.8zM417.6,66.4h0.8v0.8h-0.8zM424.1,72.5h0.8v0.8h-0.8zM434.4,61.0h0.8v0.8h-0.8zM421.6,69.4h0.8v0.8h-0.8zM427.0,63.4h0.8v0.8h-0.8zM440.4,72.2h0.8v0.8h-0.8zM428.6,56.8h0.8v0.8h-0.8zM434.2,76.4h0.8v0.8h-0.8zM439.0,61.9h0.8v0.8h-0.8zM421.5,57.7h0.8v0.8h-0.8zM440.0,85.6h0.8v0.8h-0.8zM446.4,71.7h0.8v0.8h-0.8zM436.9,75.2h0.8v0.8h-0.8zM430.8,67.4h0.8v0.8h-0.8zM442.4,67.8h0.8v0.8h-0.8zM436.3,64.3h0.8v0.8h-0.8zM434.4,69.5h0.8v0.8h-0.8zM434.0,65.7h0.8v0.8h-0.8zM438.9,85.0h0.8v0.8h-0.8zM428.4,80.5h0.8v0.8h-0.8zM418.7,74.7h0.8v0.8h-0.8zM423.1,83.6h0.8v0.8h-0.8zM416.0,76.0h0.8v0.8h-0.8zM437.7,57.9h0.8v0.8h-0.8zM429.9,63.9h0.8v0.8h-0.8zM420.4,65.8h0.8v0.8h-0.8zM433.4,64.5h0.8v0.8h-0.8zM426.4,66.0h0.8v0.8h-0.8zM428.9,81.3h0.8v0.8h-0.8zM422.1,80.6h0.8v0.8h-0.8zM430.5,61.6h0.8v0.8h-0.8zM441.7,67.1h0.8v0.8h-0.8zM433.1,67.9h0.8v0.8h-0.8zM433.8,74.8h0.8v0.8h-0.8zM434.9,80.1h0.8v0.8h-0.8zM437.7,59.4h0.8v0.8h-0.8zM434.0,76.0h0.8v0.8h-0.8zM428.6,73.8h0.8v0.8h-0.8zM420.1,70.5h0.8v0.8h-0.8zM432.9,56.0h0.8v0.8h-0.8zM430.4,72.3h0.8v0.8h-0.8zM419.9,81.4h0.8v0.8h-0.8zM425.4,60.1h0.8v0.8h-0.8zM438.9,72.5h0.8v0.8h-0.8zM438.9,78.5h0.8v0.8h-0.8zM417.4,70.5h0.8v0.8h-0.8zM438.0,83.4h0.8v0.8h-0.8zM439.9,64.5h0.8v0.8h-0.8zM440.1,84.1h0.8v0.8h-0.8zM441.5,70.5h0.8v0.8h-0.8zM435.7,85.9h0.8v0.8h-0.8zM427.2,66.2h0.8v0.8h-0.8zM420.1,64.4h0.8v0.8h-0.8zM424.8,86.2h0.8v0.8h-0.8zM443.1,85.2h0.8v0.8h-0.8zM440.2,83.3h0.8v0.8h-0.8zM425.2,68.5h0.8v0.8h-0.8zM445.1,61.1h0.8v0.8h-0.8zM440.4,81.8h0.8v0.8h-0.8zM428.0,88.4h0.8v0.8h-0.8zM434.5,65.0h0.8v0.8h-0.8zM428.2,70.3h0.8v0.8h-0.8zM446.5,70.0h0.8v0.8h-0.8zM427.6,64.3h0.8v0.8h-0.8zM424.1,79.6h0.8v0.8h-0.8zM431.9,70.0h0.8v0.8h-0.8zM437.4,80.4h0.8v0.8h-0.8zM426.9,68.9h0.8v0.8h-0.8zM424.3,67.6h0.8v0.8h-0.8zM430.2,69.5h0.8v0.8h-0.8zM442.1,68.2h0.8v0.8h-0.8zM423.3,73.4h0.8v0.8h-0.8zM432.1,57.3h0.8v0.8h-0.8zM414.8,73.3h0.8v0.8h-0.8zM424.7,76.8h0.8v0.8h-0.8zM419.4,65.2h0.8v0.8h-0.8zM418.4,78.6h0.8v0.8h-0.8zM430.4,74.3h0.8v0.8h-0.8zM430.4,60.3h0.8v0.8h-0.8zM431.6,62.7h0.8v0.8h-0.8zM438.2,79.4h0.8v0.8h-0.8zM421.6,71.3h0.8v0.8h-0.8zM424.8,70.2h0.8v0.8h-0.8zM428.4,81.5h0.8v0.8h-0.8zM444.8,61.6h0.8v0.8h-0.8zM425.2,58.7h0.8v0.8h-0.8zM434.0,87.8h0.8v0.8h-0.8zM416.6,63.6h0.8v0.8h-0.8zM439.7,81.2h0.8v0.8h-0.8zM431.7,71.4h0.8v0.8h-0.8zM430.1,74.8h0.8v0.8h-0.8zM441.7,62.1h0.8v0.8h-0.8zM429.3,69.9h0.8v0.8h-0.8zM445.3,74.8h0.8v0.8h-0.8zM446.7,63.5h0.8v0.8h-0.8zM425.9,72.7h0.8v0.8h-0.8zM436.9,66.6h0.8v0.8h-0.8zM435.7,63.5h0.8v0.8h-0.8zM442.8,58.7h0.8v0.8h-0.8zM435.2,85.7h0.8v0.8h-0.8zM435.9,73.2h0.8v0.8h-0.8zM430.2,61.2h0.8v0.8h-0.8zM430.5,66.6h0.8v0.8h-0.8zM426.7,55.2h0.8v0.8h-0.8zM432.8,80.6h0.8v0.8h-0.8zM430.0,64.6h0.8v0.8h-0.8zM424.3,57.0h0.8v0.8h-0.8zM422.4,82.7h0.8v0.8h-0.8zM432.4,79.8h0.8v0.8h-0.8zM442.2,65.2h0.8v0.8h-0.8zM445.9,82.4h0.8v0.8h-0.8zM421.9,76.0h0.8v0.8h-0.8zM425.6,66.4h0.8v0.8h-0.8zM431.4,88.6h0.8v0.8h-0.8zM431.7,63.3h0.8v0.8h-0.8zM429.4,85.0h0.8v0.8h-0.8zM433.8,71.3h0.8v0.8h-0.8zM420.6,74.7h0.8v0.8h-0.8zM425.3,71.5h0.8v0.8h-0.8zM421.1,67.0h0.8v0.8h-0.8zM433.8,58.2h0.8v0.8h-0.8zM418.0,70.9h0.8v0.8h-0.8zM436.2,69.7h0.8v0.8h-0.8zM432.4,65.6h0.8v0.8h-0.8zM419.6,77.1h0.8v0.8h-0.8zM434.6,55.7h0.8v0.8h-0.8zM433.7,85.8h0.8v0.8h-0.8zM429.6,71.5h0.8v0.8h-0.8zM419.6,64.5h0.8v0.8h-0.8zM433.8,77.4h0.8v0.8h-0.8zM422.7,76.1h0.8v0.8h-0.8zM430.2,90.1h0.8v0.8h-0.8zM421.0,65.7h0.8v0.8h-0.8zM433.3,63.6h0.8v0.8h-0.8zM439.4,74.1h0.8v0.8h-0.8zM423.9,62.9h0.8v0.8h-0.8zM444.4,81.1h0.8v0.8h-0.8zM434.9,79.1h0.8v0.8h-0.8zM438.7,56.1h0.8v0.8h-0.8zM439.6,75.4h0.8v0.8h-0.8zM433.9,71.0h0.8v0.8h-0.8zM417.8,72.6h0.8v0.8h-0.8zM419.1,75.8h0.8v0.8h-0.8zM438.1,73.5h0.8v0.8h-0.8zM425.8,76.9h0.8v0.8h-0.8zM427.8,73.8h0.8v0.8h-0.8zM432.6,55.3h0.8v0.8h-0.8zM432.3,79.1h0.8v0.8h-0.8zM417.3,75.7h0.8v0.8h-0.8zM425.6,79.6h0.8v0.8h-0.8zM440.1,74.1h0.8v0.8h-0.8zM430.0,69.0h0.8v0.8h-0.8zM439.7,60.3h0.8v0.8h-0.8zM438.0,64.8h0.8v0.8h-0.8zM420.7,83.4h0.8v0.8h-0.8zM433.3,81.5h0.8v0.8h-0.8zM434.9,78.2h0.8v0.8h-0.8zM433.6,82.6h0.8v0.8h-0.8zM444.8,70.8h0.8v0.8h-0.8zM435.3,66.2h0.8v0.8h-0.8zM428.4,61.9h0.8v0.8h-0.8zM431.3,73.2h0.8v0.8h-0.8zM419.3,83.1h0.8v0.8h-0.8zM430.0,63.5h0.8v0.8h-0.8zM439.5,67.5h0.8v0.8h-0.8zM432.8,56.1h0.8v0.8h-0.8zM427.7,80.8h0.8v0.8h-0.8zM443.2,79.5h0.8v0.8h-0.8zM428.5,71.1h0.8v0.8h-0.8zM426.1,76.5h0.8v0.8h-0.8zM429.9,70.2h0.8v0.8h-0.8zM428.1,81.3h0.8v0.8h-0.8zM429.7,63.6h0.8v0.8h-0.8zM429.6,56.7h0.8v0.8h-0.8zM429.0,87.0h0.8v0.8h-0.8zM424.0,77.6h0.8v0.8h-0.8zM429.5,80.5h0.8v0.8h-0.8zM432.0,74.4h0.8v0.8h-0.8zM418.8,64.8h0.8v0.8h-0.8zM438.3,70.3h0.8v0.8h-0.8zM433.7,83.7h0.8v0.8h-0.8zM423.7,55.3h0.8v0.8h-0.8zM429.1,68.4h0.8v0.8h-0.8zM423.0,76.5h0.8v0.8h-0.8zM426.6,82.5h0.8v0.8h-0.8zM430.6,77.1h0.8v0.8h-0.8zM437.9,84.7h0.8v0.8h-0.8zM431.7,75.7h0.8v0.8h-0.8zM438.5,83.1h0.8v0.8h-0.8zM428.2,59.2h0.8v0.8h-0.8zM425.0,77.8h0.8v0.8h-0.8zM440.5,76.0h0.8v0.8h-0.8zM422.8,65.3h0.8v0.8h-0.8zM428.2,79.2h0.8v0.8h-0.8zM440.2,63.1h0.8v0.8h-0.8zM430.6,86.5h0.8v0.8h-0.8zM419.3,58.6h0.8v0.8h-0.8zM423.3,82.9h0.8v0.8h-0.8zM423.8,62.0h0.8v0.8h-0.8zM423.9,77.2h0.8v0.8h-0.8zM438.8,63.3h0.8v0.8h-0.8zM433.5,70.0h0.8v0.8h-0.8zM428.3,81.5h0.8v0.8h-0.8zM436.5,70.6h0.8v0.8h-0.8zM428.6,64.1h0.8v0.8h-0.8zM441.8,71.6h0.8v0.8h-0.8zM419.1,72.1h0.8v0.8h-0.8zM421.9,67.9h0.8v0.8h-0.8zM438.9,69.7h0.8v0.8h-0.8zM423.7,84.9h0.8v0.8h-0.8zM426.9,56.0h0.8v0.8h-0.8zM445.8,67.6h0.8v0.8h-0.8zM419.5,72.3h0.8v0.8h-0.8zM426.5,77.9h0.8v0.8h-0.8zM432.0,78.7h0.8v0.8h-0.8zM429.1,77.1h0.8v0.8h-0.8zM434.4,72.9h0.8v0.8h-0.8zM442.2,81.1h0.8v0.8h-0.8zM433.0,59.0h0.8v0.8h-0.8zM439.1,86.2h0.8v0.8h-0.8zM431.3,83.6h0.8v0.8h-0.8zM434.0,61.5h0.8v0.8h-0.8zM429.9,62.8h0.8v0.8h-0.8zM424.3,86.2h0.8v0.8h-0.8zM424.2,67.5h0.8v0.8h-0.8zM428.2,57.1h0.8v0.8h-0.8zM436.8,77.9h0.8v0.8h-0.8zM428.4,64.7h0.8v0.8h-0.8zM418.5,62.3h0.8v0.8h-0.8zM435.9,70.5h0.8v0.8h-0.8zM425.9,64.3h0.8v0.8h-0.8zM447.3,63.1h0.8v0.8h-0.8zM433.3,73.5h0.8v0.8h-0.8zM428.5,87.0h0.8v0.8h-0.8zM430.7,73.3h0.8v0.8h-0.8zM422.3,68.5h0.8v0.8h-0.8zM436.1,54.9h0.8v0.8h-0.8zM429.8,80.8h0.8v0.8h-0.8zM439.4,70.4h0.8v0.8h-0.8zM427.7,59.3h0.8v0.8h-0.8zM433.3,75.6h0.8v0.8h-0.8zM437.4,68.4h0.8v0.8h-0.8zM430.9,73.1h0.8v0.8h-0.8zM427.3,69.3h0.8v0.8h-0.8zM432.8,82.8h0.8v0.8h-0.8zM426.8,77.8h0.8v0.8h-0.8zM437.5,65.7h0.8v0.8h-0.8zM435.1,73.8h0.8v0.8h-0.8zM435.8,88.2h0.8v0.8h-0.8zM422.1,72.6h0.8v0.8h-0.8zM440.9,75.7h0.8v0.8h-0.8zM425.3,60.3h0.8v0.8h-0.8zM443.6,55.1h0.8v0.8h-0.8zM418.6,77.2h0.8v0.8h-0.8zM436.5,72.5h0.8v0.8h-0.8zM433.7,73.9h0.8v0.8h-0.8zM427.3,84.2h0.8v0.8h-0.8zM437.6,72.0h0.8v0.8h-0.8zM418.1,68.7h0.8v0.8h-0.8zM434.5,58.4h0.8v0.8h-0.8zM438.2,56.4h0.8v0.8h-0.8zM435.7,71.1h0.8v0.8h-0.8zM429.7,63.9h0.8v0.8h-0.8zM432.8,70.5h0.8v0.8h-0.8zM425.2,77.9h0.8v0.8h-0.8zM424.5,58.9h0.8v0.8h-0.8zM426.7,78.9h0.8v0.8h-0.8zM438.4,65.9h0.8v0.8h-0.8zM431.2,63.9h0.8v0.8h-0.8zM431.0,58.9h0.8v0.8h-0.8zM435.1,74.9h0.8v0.8h-0.8zM425.5,81.4h0.8v0.8h-0.8zM425.0,76.9h0.8v0.8h-0.8zM416.2,67.2h0.8v0.8h-0.8zM425.0,87.8h0.8v0.8h-0.8zM441.2,80.9h0.8v0.8h-0.8zM433.4,83.0h0.8v0.8h-0.8zM430.0,65.3h0.8v0.8h-0.8zM439.8,68.1h0.8v0.8h-0.8zM435.0,81.0h0.8v0.8h-0.8zM425.8,63.8h0.8v0.8h-0.8zM428.2,66.5h0.8v0.8h-0.8zM438.0,61.7h0.8v0.8h-0.8zM419.2,71.1h0.8v0.8h-0.8zM427.6,59.7h0.8v0.8h-0.8zM427.0,62.4h0.8v0.8h-0.8zM422.2,63.4h0.8v0.8h-0.8zM429.7,71.3h0.8v0.8h-0.8zM422.6,64.5h0.8v0.8h-0.8zM434.9,69.6h0.8v0.8h-0.8zM430.9,61.9h0.8v0.8h-0.8zM430.4,55.6h0.8v0.8h-0.8zM443.3,85.9h0.8v0.8h-0.8zM424.6,72.0h0.8v0.8h-0.8zM443.1,65.8h0.8v0.8h-0.8zM434.6,59.3h0.8v0.8h-0.8zM440.1,60.5h0.8v0.8h-0.8zM431.4,86.2h0.8v0.8h-0.8zM435.5,66.1h0.8v0.8h-0.8zM429.1,86.7h0.8v0.8h-0.8zM433.9,59.2h0.8v0.8h-0.8zM432.3,89.0h0.8v0.8h-0.8zM419.1,66.8h0.8v0.8h-0.8zM432.9,65.9h0.8v0.8h-0.8zM439.7,73.8h0.8v0.8h-0.8zM441.0,58.6h0.8v0.8h-0.8zM420.4,82.7h0.8v0.8h-0.8zM418.4,57.3h0.8v0.8h-0.8zM435.0,86.4h0.8v0.8h-0.8zM441.0,60.4h0.8v0.8h-0.8zM430.2,72.2h0.8v0.8h-0.8zM427.5,79.0h0.8v0.8h-0.8zM422.0,63.0h0.8v0.8h-0.8zM433.3,76.2h0.8v0.8h-0.8zM434.2,74.9h0.8v0.8h-0.8zM441.9,66.7h0.8v0.8h-0.8zM444.4,71.0h0.8v0.8h-0.8zM430.8,61.8h0.8v0.8h-0.8zM439.2,83.5h0.8v0.8h-0.8zM420.2,78.4h0.8v0.8h-0.8zM415.8,70.7h0.8v0.8h-0.8zM424.3,83.9h0.8v0.8h-0.8zM428.1,89.9h0.8v0.8h-0.8zM428.4,87.3h0.8v0.8h-0.8zM438.9,67.6h0.8v0.8h-0.8zM431.0,58.3h0.8v0.8h-0.8zM425.1,75.7h0.8v0.8h-0.8zM417.9,77.8h0.8v0.8h-0.8zM428.0,63.7h0.8v0.8h-0.8zM427.4,74.5h0.8v0.8h-0.8zM424.6,76.0h0.8v0.8h-0.8zM437.0,57.6h0.8v0.8h-0.8zM442.6,81.1h0.8v0.8h-0.8zM438.0,76.3h0.8v0.8h-0.8zM427.2,62.2h0.8v0.8h-0.8zM444.9,59.6h0.8v0.8h-0.8zM423.1,73.5h0.8v0.8h-0.8zM424.3,73.4h0.8v0.8h-0.8zM445.1,68.5h0.8v0.8h-0.8zM440.9,71.0h0.8v0.8h-0.8zM427.3,55.7h0.8v0.8h-0.8zM439.6,75.8h0.8v0.8h-0.8zM434.8,90.7h0.8v0.8h-0.8zM433.8,81.8h0.8v0.8h-0.8zM431.3,67.1h0.8v0.8h-0.8zM436.9,82.7h0.8v0.8h-0.8zM431.2,86.3h0.8v0.8h-0.8zM429.8,54.7h0.8v0.8h-0.8zM446.5,73.3h0.8v0.8h-0.8zM446.1,65.2h0.8v0.8h-0.8zM421.0,68.6h0.8v0.8h-0.8zM441.5,81.5h0.8v0.8h-0.8zM440.0,81.6h0.8v0.8h-0.8zM433.8,74.4h0.8v0.8h-0.8zM432.6,63.7h0.8v0.8h-0.8zM429.1,73.2h0.8v0.8h-0.8zM421.6,67.0h0.8v0.8h-0.8zM433.9,67.6h0.8v0.8h-0.8zM441.5,69.3h0.8v0.8h-0.8zM420.6,80.2h0.8v0.8h-0.8zM430.8,72.0h0.8v0.8h-0.8zM439.2,84.8h0.8v0.8h-0.8zM436.6,80.7h0.8v0.8h-0.8zM435.3,72.3h0.8v0.8h-0.8zM421.0,55.8h0.8v0.8h-0.8zM440.8,74.8h0.8v0.8h-0.8zM443.1,83.2h0.8v0.8h-0.8zM427.2,81.1h0.8v0.8h-0.8zM440.5,67.7h0.8v0.8h-0.8zM417.7,71.4h0.8v0.8h-0.8zM431.0,63.0h0.8v0.8h-0.8zM425.7,79.1h0.8v0.8h-0.8zM422.7,76.4h0.8v0.8h-0.8zM445.9,77.1h0.8v0.8h-0.8zM422.6,68.2h0.8v0.8h-0.8zM432.1,75.8h0.8v0.8h-0.8zM424.8,72.3h0.8v0.8h-0.8zM431.5,58.5h0.8v0.8h-0.8zM432.3,71.3h0.8v0.8h-0.8zM419.8,62.2h0.8v0.8h-0.8zM426.0,78.6h0.8v0.8h-0.8zM423.1,63.3h0.8v0.8h-0.8zM417.4,69.8h0.8v0.8h-0.8zM435.0,73.0h0.8v0.8h-0.8zM434.3,60.2h0.8v0.8h-0.8zM437.1,63.5h0.8v0.8h-0.8zM446.2,82.0h0.8v0.8h-0.8zM435.2,63.7h0.8v0.8h-0.8zM434.7,55.9h0.8v0.8h-0.8zM445.2,77.6h0.8v0.8h-0.8zM417.0,65.6h0.8v0.8h-0.8zM430.4,69.9h0.8v0.8h-0.8zM430.9,71.1h0.8v0.8h-0.8zM430.8,61.6h0.8v0.8h-0.8zM433.7,70.0h0.8v0.8h-0.8zM433.4,60.4h0.8v0.8h-0.8zM423.3,74.9h0.8v0.8h-0.8zM437.3,77.8h0.8v0.8h-0.8zM441.6,82.2h0.8v0.8h-0.8zM425.9,60.0h0.8v0.8h-0.8zM425.8,88.7h0.8v0.8h-0.8zM417.5,64.9h0.8v0.8h-0.8zM416.8,67.4h0.8v0.8h-0.8zM441.5,83.2h0.8v0.8h-0.8zM423.6,75.8h0.8v0.8h-0.8zM425.5,57.7h0.8v0.8h-0.8zM421.3,81.9h0.8v0.8h-0.8zM442.3,81.5h0.8v0.8h-0.8zM434.2,81.7h0.8v0.8h-0.8zM435.4,79.3h0.8v0.8h-0.8zM423.4,79.6h0.8v0.8h-0.8zM435.7,63.8h0.8v0.8h-0.8zM439.0,70.4h0.8v0.8h-0.8zM429.4,64.3h0.8v0.8h-0.8zM424.6,67.3h0.8v0.8h-0.8zM443.0,77.4h0.8v0.8h-0.8zM420.0,77.7h0.8v0.8h-0.8zM416.2,64.3h0.8v0.8h-0.8zM425.4,72.1h0.8v0.8h-0.8zM431.6,67.0h0.8v0.8h-0.8zM445.5,75.2h0.8v0.8h-0.8zM421.9,66.3h0.8v0.8h-0.8zM444.6,66.5h0.8v0.8h-0.8zM432.8,67.1h0.8v0.8h-0.8zM434.7,82.9h0.8v0.8h-0.8zM428.1,68.2h0.8v0.8h-0.8zM442.2,62.2h0.8v0.8h-0.8zM428.0,61.0h0.8v0.8h-0.8zM428.0,87.2h0.8v0.8h-0.8zM430.5,63.3h0.8v0.8h-0.8zM424.8,69.6h0.8v0.8h-0.8zM429.6,79.8h0.8v0.8h-0.8zM430.4,80.7h0.8v0.8h-0.8zM429.7,84.1h0.8v0.8h-0.8zM440.2,58.9h0.8v0.8h-0.8zM423.3,63.4h0.8v0.8h-0.8zM424.4,58.1h0.8v0.8h-0.8zM432.8,61.9h0.8v0.8h-0.8zM422.2,84.4h0.8v0.8h-0.8zM432.4,81.9h0.8v0.8h-0.8zM442.1,66.8h0.8v0.8h-0.8zM423.8,67.5h0.8v0.8h-0.8zM445.2,85.1h0.8v0.8h-0.8zM429.7,68.2h0.8v0.8h-0.8zM427.6,69.5h0.8v0.8h-0.8zM439.3,70.8h0.8v0.8h-0.8zM430.0,68.4h0.8v0.8h-0.8zM443.7,74.2h0.8v0.8h-0.8zM439.6,59.0h0.8v0.8h-0.8zM428.4,71.0h0.8v0.8h-0.8zM423.4,69.9h0.8v0.8h-0.8zM425.8,71.5h0.8v0.8h-0.8zM428.4,71.8h0.8v0.8h-0.8zM419.5,72.7h0.8v0.8h-0.8zM436.4,78.1h0.8v0.8h-0.8zM423.8,87.0h0.8v0.8h-0.8zM444.4,66.5h0.8v0.8h-0.8zM441.8,56.4h0.8v0.8h-0.8zM421.0,63.5h0.8v0.8h-0.8zM422.5,62.2h0.8v0.8h-0.8zM416.7,69.4h0.8v0.8h-0.8zM436.1,72.6h0.8v0.8h-0.8zM433.2,71.8h0.8v0.8h-0.8zM436.8,59.9h0.8v0.8h-0.8zM432.1,55.5h0.8v0.8h-0.8zM434.8,71.5h0.8v0.8h-0.8zM435.1,64.1h0.8v0.8h-0.8zM426.7,81.1h0.8v0.8h-0.8zM430.6,85.1h0.8v0.8h-0.8zM423.9,70.0h0.8v0.8h-0.8zM432.8,87.2h0.8v0.8h-0.8zM433.7,76.8h0.8v0.8h-0.8zM433.3,61.3h0.8v0.8h-0.8zM432.4,85.7h0.8v0.8h-0.8zM431.0,90.3h0.8v0.8h-0.8zM434.0,78.4h0.8v0.8h-0.8zM429.6,56.1h0.8v0.8h-0.8zM434.5,57.6h0.8v0.8h-0.8zM431.7,79.4h0.8v0.8h-0.8zM419.0,80.4h0.8v0.8h-0.8zM445.3,61.2h0.8v0.8h-0.8zM427.8,75.3h0.8v0.8h-0.8zM425.4,83.3h0.8v0.8h-0.8zM426.8,76.9h0.8v0.8h-0.8zM418.9,73.8h0.8v0.8h-0.8zM441.5,72.5h0.8v0.8h-0.8zM435.7,68.5h0.8v0.8h-0.8zM436.2,90.9h0.8v0.8h-0.8zM423.8,85.7h0.8v0.8h-0.8zM439.9,83.8h0.8v0.8h-0.8zM439.4,82.3h0.8v0.8h-0.8zM441.8,60.4h0.8v0.8h-0.8zM428.6,75.1h0.8v0.8h-0.8zM429.3,89.9h0.8v0.8h-0.8zM430.0,74.0h0.8v0.8h-0.8zM429.4,78.2h0.8v0.8h-0.8zM420.1,68.0h0.8v0.8h-0.8zM432.3,58.6h0.8v0.8h-0.8zM432.1,75.4h0.8v0.8h-0.8zM426.3,87.3h0.8v0.8h-0.8zM435.6,79.2h0.8v0.8h-0.8zM424.3,67.6h0.8v0.8h-0.8zM422.7,74.2h0.8v0.8h-0.8zM437.4,61.2h0.8v0.8h-0.8zM433.5,71.2h0.8v0.8h-0.8zM432.2,60.4h0.8v0.8h-0.8zM437.6,85.3h0.8v0.8h-0.8zM431.9,73.2h0.8v0.8h-0.8zM417.8,71.6h0.8v0.8h-0.8zM425.7,73.0h0.8v0.8h-0.8zM438.2,73.6h0.8v0.8h-0.8zM425.9,65.4h0.8v0.8h-0.8zM428.0,80.8h0.8v0.8h-0.8zM439.1,63.4h0.8v0.8h-0.8zM423.4,74.0h0.8v0.8h-0.8zM437.8,66.9h0.8v0.8h-0.8zM435.1,67.6h0.8v0.8h-0.8zM416.3,70.5h0.8v0.8h-0.8zM430.4,63.5h0.8v0.8h-0.8zM426.8,68.2h0.8v0.8h-0.8zM441.4,79.8h0.8v0.8h-0.8zM426.4,80.3h0.8v0.8h-0.8zM422.8,70.6h0.8v0.8h-0.8zM441.6,71.6h0.8v0.8h-0.8zM424.2,62.0h0.8v0.8h-0.8zM439.1,77.3h0.8v0.8h-0.8zM438.7,69.9h0.8v0.8h-0.8zM428.1,73.0h0.8v0.8h-0.8zM437.6,58.1h0.8v0.8h-0.8zM431.1,87.4h0.8v0.8h-0.8zM417.4,65.4h0.8v0.8h-0.8zM421.9,72.2h0.8v0.8h-0.8zM422.1,71.3h0.8v0.8h-0.8zM433.7,79.0h0.8v0.8h-0.8zM444.3,69.4h0.8v0.8h-0.8zM426.3,57.2h0.8v0.8h-0.8zM433.0,66.2h0.8v0.8h-0.8zM434.5,63.1h0.8v0.8h-0.8zM443.6,73.6h0.8v0.8h-0.8zM425.1,83.1h0.8v0.8h-0.8zM441.1,66.3h0.8v0.8h-0.8zM444.6,78.2h0.8v0.8h-0.8zM437.6,63.9h0.8v0.8h-0.8zM436.4,85.3h0.8v0.8h-0.8zM429.0,68.6h0.8v0.8h-0.8zM431.1,67.9h0.8v0.8h-0.8zM434.3,56.5h0.8v0.8h-0.8zM418.7,64.4h0.8v0.8h-0.8zM425.7,77.6h0.8v0.8h-0.8zM436.7,72.4h0.8v0.8h-0.8zM424.3,59.2h0.8v0.8h-0.8zM428.0,60.1h0.8v0.8h-0.8zM436.4,85.4h0.8v0.8h-0.8zM426.2,56.5h0.8v0.8h-0.8zM438.8,66.1h0.8v0.8h-0.8zM444.1,66.8h0.8v0.8h-0.8zM428.0,78.7h0.8v0.8h-0.8zM420.0,69.5h0.8v0.8h-0.8zM421.5,68.8h0.8v0.8h-0.8zM431.3,63.2h0.8v0.8h-0.8zM432.0,81.9h0.8v0.8h-0.8zM433.7,72.8h0.8v0.8h-0.8zM443.6,66.7h0.8v0.8h-0.8zM423.7,77.1h0.8v0.8h-0.8zM436.1,70.0h0.8v0.8h-0.8zM420.1,77.6h0.8v0.8h-0.8zM423.0,59.1h0.8v0.8h-0.8zM435.6,68.1h0.8v0.8h-0.8zM426.3,70.4h0.8v0.8h-0.8zM431.8,68.0h0.8v0.8h-0.8zM429.6,87.8h0.8v0.8h-0.8zM430.4,62.2h0.8v0.8h-0.8zM429.2,61.7h0.8v0.8h-0.8zM428.5,73.1h0.8v0.8h-0.8zM433.7,69.3h0.8v0.8h-0.8zM437.7,75.0h0.8v0.8h-0.8zM437.4,78.8h0.8v0.8h-0.8zM421.0,65.3h0.8v0.8h-0.8zM426.3,58.1h0.8v0.8h-0.8zM443.8,75.9h0.8v0.8h-0.8zM430.2,71.8h0.8v0.8h-0.8zM439.1,76.0h0.8v0.8h-0.8zM445.1,66.6h0.8v0.8h-0.8zM421.3,72.5h0.8v0.8h-0.8zM438.2,79.0h0.8v0.8h-0.8zM433.9,86.8h0.8v0.8h-0.8zM419.9,81.7h0.8v0.8h-0.8zM430.9,87.2h0.8v0.8h-0.8zM425.8,79.2h0.8v0.8h-0.8zM424.5,74.0h0.8v0.8h-0.8zM427.4,85.6h0.8v0.8h-0.8zM421.4,75.0h0.8v0.8h-0.8zM421.8,82.9h0.8v0.8h-0.8zM443.5,69.4h0.8v0.8h-0.8zM431.0,62.0h0.8v0.8h-0.8zM429.2,55.0h0.8v0.8h-0.8zM421.6,76.6h0.8v0.8h-0.8zM433.1,83.7h0.8v0.8h-0.8zM425.0,83.5h0.8v0.8h-0.8zM440.7,72.7h0.8v0.8h-0.8zM427.1,66.9h0.8v0.8h-0.8zM418.4,83.1h0.8v0.8h-0.8zM443.7,77.2h0.8v0.8h-0.8zM437.0,57.8h0.8v0.8h-0.8zM428.2,55.2h0.8v0.8h-0.8zM431.3,58.2h0.8v0.8h-0.8zM420.3,66.1h0.8v0.8h-0.8zM436.2,71.0h0.8v0.8h-0.8zM429.4,55.0h0.8v0.8h-0.8zM430.0,83.3h0.8v0.8h-0.8zM437.2,83.4h0.8v0.8h-0.8zM440.7,62.8h0.8v0.8h-0.8zM426.6,74.7h0.8v0.8h-0.8zM425.7,66.1h0.8v0.8h-0.8zM418.5,64.2h0.8v0.8h-0.8zM423.1,84.8h0.8v0.8h-0.8zM426.9,57.2h0.8v0.8h-0.8zM435.6,62.5h0.8v0.8h-0.8zM429.8,71.0h0.8v0.8h-0.8zM422.7,82.1h0.8v0.8h-0.8zM442.4,58.1h0.8v0.8h-0.8zM431.5,78.2h0.8v0.8h-0.8zM435.1,56.3h0.8v0.8h-0.8zM430.6,83.4h0.8v0.8h-0.8zM437.3,56.4h0.8v0.8h-0.8zM434.5,85.7h0.8v0.8h-0.8zM435.7,66.7h0.8v0.8h-0.8zM424.9,72.8h0.8v0.8h-0.8zM420.5,65.3h0.8v0.8h-0.8zM437.9,70.9h0.8v0.8h-0.8zM441.4,87.8h0.8v0.8h-0.8zM427.1,79.7h0.8v0.8h-0.8zM442.7,63.6h0.8v0.8h-0.8zM435.4,80.1h0.8v0.8h-0.8zM441.5,60.7h0.8v0.8h-0.8zM432.8,81.7h0.8v0.8h-0.8zM444.9,76.4h0.8v0.8h-0.8zM443.1,77.2h0.8v0.8h-0.8zM433.4,73.1h0.8v0.8h-0.8zM423.4,84.2h0.8v0.8h-0.8zM434.8,73.1h0.8v0.8h-0.8zM444.2,73.5h0.8v0.8h-0.8zM424.9,57.9h0.8v0.8h-0.8zM427.3,81.8h0.8v0.8h-0.8zM425.8,80.2h0.8v0.8h-0.8zM431.6,80.3h0.8v0.8h-0.8zM427.2,84.2h0.8v0.8h-0.8zM431.0,76.7h0.8v0.8h-0.8zM424.4,70.9h0.8v0.8h-0.8zM440.6,62.2h0.8v0.8h-0.8zM428.2,61.0h0.8v0.8h-0.8zM424.6,76.5h0.8v0.8h-0.8zM421.1,69.2h0.8v0.8h-0.8zM435.0,54.7h0.8v0.8h-0.8zM430.9,73.8h0.8v0.8h-0.8zM434.8,58.3h0.8v0.8h-0.8zM441.4,58.7h0.8v0.8h-0.8zM426.5,58.0h0.8v0.8h-0.8zM423.6,78.6h0.8v0.8h-0.8zM444.3,57.3h0.8v0.8h-0.8zM437.0,74.8h0.8v0.8h-0.8zM441.3,69.3h0.8v0.8h-0.8zM438.2,62.1h0.8v0.8h-0.8zM434.8,71.3h0.8v0.8h-0.8zM436.7,79.9h0.8v0.8h-0.8zM429.3,68.4h0.8v0.8h-0.8zM420.3,77.2h0.8v0.8h-0.8zM421.7,63.9h0.8v0.8h-0.8zM442.2,62.3h0.8v0.8h-0.8zM433.3,81.9h0.8v0.8h-0.8zM421.3,65.0h0.8v0.8h-0.8zM437.5,72.3h0.8v0.8h-0.8zM442.8,78.1h0.8v0.8h-0.8zM424.2,86.5h0.8v0.8h-0.8zM427.0,65.3h0.8v0.8h-0.8zM436.5,57.5h0.8v0.8h-0.8zM444.4,74.9h0.8v0.8h-0.8zM435.4,77.2h0.8v0.8h-0.8zM416.5,74.5h0.8v0.8h-0.8zM428.4,79.1h0.8v0.8h-0.8zM424.2,61.6h0.8v0.8h-0.8zM433.5,70.5h0.8v0.8h-0.8zM434.4,64.5h0.8v0.8h-0.8zM430.5,66.3h0.8v0.8h-0.8zM432.0,80.1h0.8v0.8h-0.8zM442.6,63.9h0.8v0.8h-0.8zM432.1,80.5h0.8v0.8h-0.8zM439.3,57.7h0.8v0.8h-0.8zM425.5,64.1h0.8v0.8h-0.8zM429.3,58.6h0.8v0.8h-0.8zM423.3,80.2h0.8v0.8h-0.8zM433.4,72.2h0.8v0.8h-0.8zM429.1,76.6h0.8v0.8h-0.8zM418.7,61.5h0.8v0.8h-0.8zM417.2,71.5h0.8v0.8h-0.8zM425.2,68.2h0.8v0.8h-0.8zM445.5,80.4h0.8v0.8h-0.8zM436.2,72.7h0.8v0.8h-0.8zM421.7,60.6h0.8v0.8h-0.8zM432.5,54.2h0.8v0.8h-0.8zM434.8,76.7h0.8v0.8h-0.8zM433.4,72.0h0.8v0.8h-0.8zM433.5,72.9h0.8v0.8h-0.8zM438.1,60.1h0.8v0.8h-0.8zM437.0,77.1h0.8v0.8h-0.8zM433.1,76.3h0.8v0.8h-0.8zM434.4,77.6h0.8v0.8h-0.8zM422.6,69.1h0.8v0.8h-0.8zM422.0,70.9h0.8v0.8h-0.8zM429.4,71.9h0.8v0.8h-0.8zM431.0,72.4h0.8v0.8h-0.8zM439.4,63.5h0.8v0.8h-0.8zM436.0,69.3h0.8v0.8h-0.8zM422.9,80.7h0.8v0.8h-0.8zM433.6,69.9h0.8v0.8h-0.8zM429.9,80.1h0.8v0.8h-0.8zM427.5,57.1h0.8v0.8h-0.8zM435.3,82.0h0.8v0.8h-0.8zM441.9,82.1h0.8v0.8h-0.8zM430.7,55.8h0.8v0.8h-0.8zM446.7,66.7h0.8v0.8h-0.8zM416.8,62.2h0.8v0.8h-0.8zM423.1,56.5h0.8v0.8h-0.8zM436.9,79.6h0.8v0.8h-0.8zM432.1,68.1h0.8v0.8h-0.8zM426.8,65.6h0.8v0.8h-0.8zM435.3,83.2h0.8v0.8h-0.8zM441.0,57.2h0.8v0.8h-0.8zM429.4,64.6h0.8v0.8h-0.8zM434.7,66.2h0.8v0.8h-0.8zM431.7,71.5h0.8v0.8h-0.8zM439.1,71.6h0.8v0.8h-0.8zM429.1,68.1h0.8v0.8h-0.8zM430.3,64.9h0.8v0.8h-0.8zM440.9,57.4h0.8v0.8h-0.8zM425.0,75.7h0.8v0.8h-0.8zM431.0,59.4h0.8v0.8h-0.8zM429.4,65.8h0.8v0.8h-0.8zM434.2,82.0h0.8v0.8h-0.8zM432.5,73.5h0.8v0.8h-0.8zM430.1,58.0h0.8v0.8h-0.8zM424.3,54.8h0.8v0.8h-0.8zM441.1,74.1h0.8v0.8h-0.8zM436.2,60.3h0.8v0.8h-0.8zM428.7,74.9h0.8v0.8h-0.8zM430.4,69.9h0.8v0.8h-0.8zM433.1,74.6h0.8v0.8h-0.8zM427.6,70.6h0.8v0.8h-0.8zM429.3,75.4h0.8v0.8h-0.8zM424.9,57.0h0.8v0.8h-0.8zM420.0,63.7h0.8v0.8h-0.8zM425.0,55.7h0.8v0.8h-0.8zM424.0,61.6h0.8v0.8h-0.8zM441.3,72.3h0.8v0.8h-0.8zM420.0,70.7h0.8v0.8h-0.8zM435.4,73.3h0.8v0.8h-0.8zM443.9,70.6h0.8v0.8h-0.8zM429.4,81.1h0.8v0.8h-0.8zM419.9,82.3h0.8v0.8h-0.8zM423.3,72.5h0.8v0.8h-0.8zM434.0,71.5h0.8v0.8h-0.8zM428.8,73.8h0.8v0.8h-0.8zM436.8,80.0h0.8v0.8h-0.8zM421.6,62.7h0.8v0.8h-0.8zM421.5,84.5h0.8v0.8h-0.8zM431.8,72.8h0.8v0.8h-0.8zM434.5,75.4h0.8v0.8h-0.8zM442.7,60.5h0.8v0.8h-0.8zM433.8,83.1h0.8v0.8h-0.8zM429.3,69.5h0.8v0.8h-0.8zM439.5,83.7h0.8v0.8h-0.8zM433.1,73.0h0.8v0.8h-0.8zM441.6,62.8h0.8v0.8h-0.8zM432.1,74.1h0.8v0.8h-0.8zM427.1,87.3h0.8v0.8h-0.8zM435.1,87.4h0.8v0.8h-0.8zM443.4,66.8h0.8v0.8h-0.8zM425.4,86.9h0.8v0.8h-0.8zM440.6,74.4h0.8v0.8h-0.8zM439.4,82.9h0.8v0.8h-0.8zM431.6,83.8h0.8v0.8h-0.8zM429.3,77.3h0.8v0.8h-0.8zM427.4,79.6h0.8v0.8h-0.8zM427.4,57.6h0.8v0.8h-0.8zM435.9,75.1h0.8v0.8h-0.8zM436.0,61.2h0.8v0.8h-0.8zM428.0,76.0h0.8v0.8h-0.8zM443.8,69.1h0.8v0.8h-0.8zM421.2,62.8h0.8v0.8h-0.8z" fill="#1a1a1a" opacity="1"/>
<path d="M432.3,67.7h0.9v0.9h-0.9zM432.5,67.9h0.9v0.9h-0.9zM439.7,60.5h0.9v0.9h-0.9zM431.3,72.7h0.9v0.9h-0.9zM429.4,62.4h0.9v0.9h-0.9zM438.4,59.5h0.9v0.9h-0.9zM432.8,62.6h0.9v0.9h-0.9zM431.9,75.1h0.9v0.9h-0.9zM428.3,69.4h0.9v0.9h-0.9zM420.8,63.6h0.9v0.9h-0.9zM425.5,61.5h0.9v0.9h-0.9zM421.7,68.5h0.9v0.9h-0.9zM435.9,68.5h0.9v0.9h-0.9zM426.7,57.9h0.9v0.9h-0.9zM429.0,75.7h0.9v0.9h-0.9zM432.9,69.6h0.9v0.9h-0.9zM421.0,69.8h0.9v0.9h-0.9zM426.1,67.9h0.9v0.9h-0.9zM437.8,65.9h0.9v0.9h-0.9zM434.3,62.1h0.9v0.9h-0.9zM436.6,64.5h0.9v0.9h-0.9zM440.0,62.5h0.9v0.9h-0.9zM427.3,68.6h0.9v0.9h-0.9zM437.2,59.0h0.9v0.9h-0.9zM430.6,61.2h0.9v0.9h-0.9zM435.7,66.4h0.9v0.9h-0.9zM422.5,68.0h0.9v0.9h-0.9zM441.2,71.8h0.9v0.9h-0.9zM423.5,64.8h0.9v0.9h-0.9zM429.1,63.3h0.9v0.9h-0.9zM431.9,68.5h0.9v0.9h-0.9zM425.3,72.9h0.9v0.9h-0.9zM424.0,62.1h0.9v0.9h-0.9zM435.5,59.5h0.9v0.9h-0.9zM440.9,60.8h0.9v0.9h-0.9zM426.6,73.7h0.9v0.9h-0.9zM426.5,67.5h0.9v0.9h-0.9zM424.1,79.3h0.9v0.9h-0.9zM428.4,62.6h0.9v0.9h-0.9zM428.7,61.3h0.9v0.9h-0.9zM436.0,69.8h0.9v0.9h-0.9zM438.7,73.7h0.9v0.9h-0.9zM424.6,65.0h0.9v0.9h-0.9zM436.6,71.6h0.9v0.9h-0.9zM430.4,61.3h0.9v0.9h-0.9zM422.5,74.1h0.9v0.9h-0.9zM442.3,68.3h0.9v0.9h-0.9zM436.6,59.7h0.9v0.9h-0.9zM423.2,64.1h0.9v0.9h-0.9zM431.9,75.5h0.9v0.9h-0.9zM427.3,67.6h0.9v0.9h-0.9zM436.5,75.6h0.9v0.9h-0.9zM432.4,60.7h0.9v0.9h-0.9zM427.7,63.1h0.9v0.9h-0.9zM430.4,71.8h0.9v0.9h-0.9zM444.8,73.0h0.9v0.9h-0.9zM427.2,57.9h0.9v0.9h-0.9zM433.9,77.3h0.9v0.9h-0.9zM433.3,60.5h0.9v0.9h-0.9zM431.6,72.2h0.9v0.9h-0.9zM432.7,66.2h0.9v0.9h-0.9zM436.5,63.1h0.9v0.9h-0.9zM424.0,65.0h0.9v0.9h-0.9zM421.8,69.7h0.9v0.9h-0.9zM422.5,71.5h0.9v0.9h-0.9zM431.2,77.6h0.9v0.9h-0.9zM438.1,69.0h0.9v0.9h-0.9zM425.3,58.7h0.9v0.9h-0.9zM424.3,62.8h0.9v0.9h-0.9zM420.4,70.2h0.9v0.9h-0.9zM423.5,73.7h0.9v0.9h-0.9zM431.3,63.2h0.9v0.9h-0.9zM437.1,66.3h0.9v0.9h-0.9zM423.0,64.5h0.9v0.9h-0.9zM432.3,73.1h0.9v0.9h-0.9zM426.1,61.0h0.9v0.9h-0.9zM428.0,62.0h0.9v0.9h-0.9zM435.7,76.5h0.9v0.9h-0.9zM434.7,65.6h0.9v0.9h-0.9zM430.0,75.6h0.9v0.9h-0.9zM435.0,66.0h0.9v0.9h-0.9zM437.6,76.2h0.9v0.9h-0.9zM440.9,67.7h0.9v0.9h-0.9zM423.2,71.5h0.9v0.9h-0.9zM434.5,60.5h0.9v0.9h-0.9zM422.0,73.8h0.9v0.9h-0.9zM437.9,61.1h0.9v0.9h-0.9zM438.8,67.1h0.9v0.9h-0.9zM429.0,64.9h0.9v0.9h-0.9zM428.2,63.2h0.9v0.9h-0.9zM429.3,65.6h0.9v0.9h-0.9zM430.8,72.7h0.9v0.9h-0.9zM430.9,75.9h0.9v0.9h-0.9zM435.1,57.4h0.9v0.9h-0.9zM435.1,74.0h0.9v0.9h-0.9zM424.2,65.5h0.9v0.9h-0.9zM432.4,58.6h0.9v0.9h-0.9zM431.8,66.1h0.9v0.9h-0.9zM431.6,63.1h0.9v0.9h-0.9zM421.3,66.9h0.9v0.9h-0.9zM425.7,65.0h0.9v0.9h-0.9zM438.3,64.9h0.9v0.9h-0.9zM443.4,68.6h0.9v0.9h-0.9zM426.4,63.2h0.9v0.9h-0.9zM441.2,72.1h0.9v0.9h-0.9zM429.2,66.3h0.9v0.9h-0.9zM423.7,73.6h0.9v0.9h-0.9zM433.2,73.6h0.9v0.9h-0.9zM432.6,64.9h0.9v0.9h-0.9zM442.4,64.8h0.9v0.9h-0.9zM433.5,67.5h0.9v0.9h-0.9zM421.8,63.0h0.9v0.9h-0.9zM421.5,69.0h0.9v0.9h-0.9zM426.9,71.1h0.9v0.9h-0.9zM428.4,55.4h0.9v0.9h-0.9zM436.4,61.0h0.9v0.9h-0.9zM426.8,68.1h0.9v0.9h-0.9zM440.6,63.9h0.9v0.9h-0.9zM428.6,78.3h0.9v0.9h-0.9zM435.1,71.1h0.9v0.9h-0.9zM437.6,76.9h0.9v0.9h-0.9zM431.1,60.5h0.9v0.9h-0.9zM425.4,62.4h0.9v0.9h-0.9zM425.3,58.7h0.9v0.9h-0.9zM429.8,58.7h0.9v0.9h-0.9zM435.1,66.6h0.9v0.9h-0.9zM427.2,71.8h0.9v0.9h-0.9zM426.7,69.8h0.9v0.9h-0.9zM420.3,69.1h0.9v0.9h-0.9zM424.6,58.8h0.9v0.9h-0.9zM442.0,67.9h0.9v0.9h-0.9zM428.5,72.0h0.9v0.9h-0.9zM434.8,63.3h0.9v0.9h-0.9zM419.9,70.6h0.9v0.9h-0.9zM425.8,60.6h0.9v0.9h-0.9zM427.8,60.9h0.9v0.9h-0.9zM421.8,63.4h0.9v0.9h-0.9zM429.2,69.8h0.9v0.9h-0.9zM429.1,78.3h0.9v0.9h-0.9zM442.3,72.8h0.9v0.9h-0.9zM431.8,70.9h0.9v0.9h-0.9zM429.7,58.8h0.9v0.9h-0.9zM420.7,73.0h0.9v0.9h-0.9zM424.4,60.4h0.9v0.9h-0.9zM439.0,77.1h0.9v0.9h-0.9zM427.4,75.1h0.9v0.9h-0.9zM429.3,62.2h0.9v0.9h-0.9zM429.2,61.7h0.9v0.9h-0.9zM440.8,62.3h0.9v0.9h-0.9zM428.9,73.8h0.9v0.9h-0.9zM423.8,75.0h0.9v0.9h-0.9zM435.1,69.7h0.9v0.9h-0.9zM425.3,73.2h0.9v0.9h-0.9zM424.4,66.9h0.9v0.9h-0.9zM435.9,66.6h0.9v0.9h-0.9zM435.4,61.5h0.9v0.9h-0.9zM426.1,63.0h0.9v0.9h-0.9zM440.7,72.0h0.9v0.9h-0.9zM436.3,69.0h0.9v0.9h-0.9zM433.1,62.4h0.9v0.9h-0.9zM441.4,68.5h0.9v0.9h-0.9zM436.4,73.4h0.9v0.9h-0.9zM422.0,60.5h0.9v0.9h-0.9zM432.8,65.7h0.9v0.9h-0.9zM440.6,67.3h0.9v0.9h-0.9zM420.1,67.0h0.9v0.9h-0.9zM440.3,66.1h0.9v0.9h-0.9zM435.8,71.4h0.9v0.9h-0.9zM437.0,62.5h0.9v0.9h-0.9zM426.1,67.6h0.9v0.9h-0.9zM442.0,64.2h0.9v0.9h-0.9zM419.7,67.7h0.9v0.9h-0.9zM431.7,68.7h0.9v0.9h-0.9zM441.6,74.0h0.9v0.9h-0.9zM426.6,67.0h0.9v0.9h-0.9zM421.3,75.5h0.9v0.9h-0.9zM439.9,70.7h0.9v0.9h-0.9zM429.5,75.9h0.9v0.9h-0.9zM435.7,76.3h0.9v0.9h-0.9zM436.2,76.7h0.9v0.9h-0.9zM440.1,70.9h0.9v0.9h-0.9zM422.1,76.1h0.9v0.9h-0.9zM425.4,60.3h0.9v0.9h-0.9zM431.9,77.7h0.9v0.9h-0.9zM428.5,73.0h0.9v0.9h-0.9zM435.7,72.3h0.9v0.9h-0.9zM420.0,65.6h0.9v0.9h-0.9zM436.9,65.3h0.9v0.9h-0.9zM423.7,71.3h0.9v0.9h-0.9zM428.4,64.1h0.9v0.9h-0.9zM432.5,73.8h0.9v0.9h-0.9zM428.0,66.7h0.9v0.9h-0.9zM424.1,71.3h0.9v0.9h-0.9zM426.6,62.0h0.9v0.9h-0.9zM434.5,66.4h0.9v0.9h-0.9zM441.7,63.8h0.9v0.9h-0.9zM437.2,63.3h0.9v0.9h-0.9zM424.2,60.9h0.9v0.9h-0.9zM426.1,70.3h0.9v0.9h-0.9zM431.6,77.5h0.9v0.9h-0.9zM432.7,58.8h0.9v0.9h-0.9zM426.2,63.8h0.9v0.9h-0.9zM436.9,78.4h0.9v0.9h-0.9zM426.4,77.4h0.9v0.9h-0.9zM440.9,61.3h0.9v0.9h-0.9zM431.7,73.8h0.9v0.9h-0.9zM442.9,67.0h0.9v0.9h-0.9zM430.4,77.8h0.9v0.9h-0.9zM432.3,65.3h0.9v0.9h-0.9zM438.4,76.5h0.9v0.9h-0.9zM437.7,69.2h0.9v0.9h-0.9zM420.6,70.5h0.9v0.9h-0.9zM440.6,62.8h0.9v0.9h-0.9zM430.5,60.5h0.9v0.9h-0.9zM420.9,68.6h0.9v0.9h-0.9zM437.0,66.6h0.9v0.9h-0.9zM433.6,65.5h0.9v0.9h-0.9zM430.9,59.0h0.9v0.9h-0.9zM443.3,72.8h0.9v0.9h-0.9zM430.7,67.2h0.9v0.9h-0.9zM426.1,69.7h0.9v0.9h-0.9zM437.4,60.4h0.9v0.9h-0.9zM438.9,67.0h0.9v0.9h-0.9zM437.8,62.3h0.9v0.9h-0.9zM432.0,76.7h0.9v0.9h-0.9zM421.7,62.6h0.9v0.9h-0.9zM430.7,64.8h0.9v0.9h-0.9zM429.8,70.8h0.9v0.9h-0.9zM430.5,74.2h0.9v0.9h-0.9zM433.2,74.6h0.9v0.9h-0.9zM432.1,71.8h0.9v0.9h-0.9zM435.1,62.5h0.9v0.9h-0.9zM439.7,65.3h0.9v0.9h-0.9zM430.8,69.5h0.9v0.9h-0.9zM421.9,70.2h0.9v0.9h-0.9zM440.8,68.8h0.9v0.9h-0.9zM438.5,64.4h0.9v0.9h-0.9zM435.8,73.6h0.9v0.9h-0.9zM434.5,67.2h0.9v0.9h-0.9zM441.4,69.4h0.9v0.9h-0.9zM434.7,77.2h0.9v0.9h-0.9zM432.9,74.8h0.9v0.9h-0.9zM440.3,71.1h0.9v0.9h-0.9zM433.1,77.1h0.9v0.9h-0.9zM422.9,71.4h0.9v0.9h-0.9zM431.8,75.7h0.9v0.9h-0.9zM432.5,69.7h0.9v0.9h-0.9zM441.3,70.3h0.9v0.9h-0.9zM428.6,75.5h0.9v0.9h-0.9zM426.8,74.0h0.9v0.9h-0.9zM423.1,65.7h0.9v0.9h-0.9zM438.9,74.7h0.9v0.9h-0.9zM427.0,65.7h0.9v0.9h-0.9zM425.1,68.2h0.9v0.9h-0.9zM420.6,68.8h0.9v0.9h-0.9zM431.7,61.5h0.9v0.9h-0.9zM425.0,67.3h0.9v0.9h-0.9zM433.3,58.4h0.9v0.9h-0.9zM431.9,58.8h0.9v0.9h-0.9zM424.7,73.6h0.9v0.9h-0.9zM420.7,69.3h0.9v0.9h-0.9zM425.9,72.4h0.9v0.9h-0.9zM435.3,62.3h0.9v0.9h-0.9zM428.6,67.6h0.9v0.9h-0.9zM420.4,67.7h0.9v0.9h-0.9zM430.3,60.2h0.9v0.9h-0.9zM435.8,77.5h0.9v0.9h-0.9zM440.6,67.1h0.9v0.9h-0.9zM424.2,75.5h0.9v0.9h-0.9zM434.1,65.8h0.9v0.9h-0.9zM430.7,58.7h0.9v0.9h-0.9zM429.4,64.9h0.9v0.9h-0.9zM427.0,77.8h0.9v0.9h-0.9zM425.5,69.8h0.9v0.9h-0.9zM430.7,60.1h0.9v0.9h-0.9zM436.3,65.6h0.9v0.9h-0.9zM426.9,57.5h0.9v0.9h-0.9zM421.4,65.6h0.9v0.9h-0.9zM425.0,69.7h0.9v0.9h-0.9zM425.6,60.8h0.9v0.9h-0.9zM434.1,63.8h0.9v0.9h-0.9zM427.7,72.7h0.9v0.9h-0.9zM429.3,70.7h0.9v0.9h-0.9zM428.3,73.8h0.9v0.9h-0.9zM431.4,67.4h0.9v0.9h-0.9zM428.0,71.2h0.9v0.9h-0.9zM429.2,62.6h0.9v0.9h-0.9zM433.4,65.2h0.9v0.9h-0.9zM431.9,64.2h0.9v0.9h-0.9zM438.7,72.6h0.9v0.9h-0.9zM425.8,62.8h0.9v0.9h-0.9zM440.1,70.3h0.9v0.9h-0.9zM435.8,67.3h0.9v0.9h-0.9zM425.1,62.0h0.9v0.9h-0.9zM434.5,74.6h0.9v0.9h-0.9zM438.7,64.6h0.9v0.9h-0.9zM442.9,67.8h0.9v0.9h-0.9zM434.5,71.2h0.9v0.9h-0.9zM428.5,67.1h0.9v0.9h-0.9zM440.0,66.9h0.9v0.9h-0.9zM434.9,62.4h0.9v0.9h-0.9zM440.9,62.7h0.9v0.9h-0.9zM431.3,57.7h0.9v0.9h-0.9zM432.6,73.7h0.9v0.9h-0.9zM440.2,73.2h0.9v0.9h-0.9zM435.0,69.0h0.9v0.9h-0.9zM434.7,60.1h0.9v0.9h-0.9zM428.4,67.1h0.9v0.9h-0.9zM436.8,67.6h0.9v0.9h-0.9zM436.8,65.4h0.9v0.9h-0.9zM435.9,64.3h0.9v0.9h-0.9zM435.8,75.1h0.9v0.9h-0.9zM429.8,77.8h0.9v0.9h-0.9zM427.3,68.1h0.9v0.9h-0.9zM442.9,68.5h0.9v0.9h-0.9zM430.7,71.9h0.9v0.9h-0.9zM422.7,71.3h0.9v0.9h-0.9zM435.9,69.5h0.9v0.9h-0.9zM430.2,76.6h0.9v0.9h-0.9zM427.0,68.7h0.9v0.9h-0.9zM426.1,73.9h0.9v0.9h-0.9zM423.2,68.6h0.9v0.9h-0.9zM429.8,58.0h0.9v0.9h-0.9zM431.4,57.7h0.9v0.9h-0.9zM435.3,65.3h0.9v0.9h-0.9zM440.0,61.9h0.9v0.9h-0.9zM437.2,60.4h0.9v0.9h-0.9zM427.4,66.1h0.9v0.9h-0.9zM422.1,64.0h0.9v0.9h-0.9zM422.7,72.1h0.9v0.9h-0.9zM424.6,68.7h0.9v0.9h-0.9zM422.5,62.4h0.9v0.9h-0.9zM422.5,65.2h0.9v0.9h-0.9zM429.5,76.8h0.9v0.9h-0.9zM439.2,62.8h0.9v0.9h-0.9zM424.5,59.8h0.9v0.9h-0.9zM421.7,66.3h0.9v0.9h-0.9zM430.7,76.9h0.9v0.9h-0.9zM432.0,60.4h0.9v0.9h-0.9zM422.5,64.5h0.9v0.9h-0.9zM429.2,63.9h0.9v0.9h-0.9zM426.2,66.5h0.9v0.9h-0.9zM435.9,61.5h0.9v0.9h-0.9zM424.8,63.0h0.9v0.9h-0.9zM425.0,71.5h0.9v0.9h-0.9zM433.8,69.6h0.9v0.9h-0.9zM428.4,62.2h0.9v0.9h-0.9zM442.7,65.0h0.9v0.9h-0.9zM430.1,78.5h0.9v0.9h-0.9zM420.6,69.1h0.9v0.9h-0.9zM433.2,77.1h0.9v0.9h-0.9zM426.2,78.9h0.9v0.9h-0.9zM436.0,72.5h0.9v0.9h-0.9zM435.9,69.7h0.9v0.9h-0.9zM431.1,70.0h0.9v0.9h-0.9zM437.6,66.6h0.9v0.9h-0.9zM425.1,74.4h0.9v0.9h-0.9zM422.6,74.2h0.9v0.9h-0.9zM430.8,73.3h0.9v0.9h-0.9zM426.4,73.6h0.9v0.9h-0.9zM431.4,72.9h0.9v0.9h-0.9zM433.6,61.3h0.9v0.9h-0.9zM427.7,75.6h0.9v0.9h-0.9zM426.6,58.8h0.9v0.9h-0.9zM426.9,61.6h0.9v0.9h-0.9zM427.0,63.6h0.9v0.9h-0.9zM433.5,78.0h0.9v0.9h-0.9zM429.0,78.3h0.9v0.9h-0.9zM436.0,57.4h0.9v0.9h-0.9zM423.2,62.5h0.9v0.9h-0.9zM420.2,63.8h0.9v0.9h-0.9zM431.3,59.8h0.9v0.9h-0.9zM437.5,63.9h0.9v0.9h-0.9zM426.6,69.9h0.9v0.9h-0.9zM434.7,68.3h0.9v0.9h-0.9zM439.5,71.1h0.9v0.9h-0.9zM421.2,65.7h0.9v0.9h-0.9zM428.1,64.4h0.9v0.9h-0.9zM424.1,67.9h0.9v0.9h-0.9zM439.1,66.1h0.9v0.9h-0.9z" fill="#111" opacity="1"/>
<path d="M451.4,81.4h0.75v0.75h-0.75zM466.1,79.7h0.75v0.75h-0.75zM458.5,95.3h0.75v0.75h-0.75zM452.5,74.1h0.75v0.75h-0.75zM464.7,89.3h0.75v0.75h-0.75zM470.9,86.2h0.75v0.75h-0.75zM467.8,85.7h0.75v0.75h-0.75zM460.6,77.4h0.75v0.75h-0.75zM469.8,85.7h0.75v0.75h-0.75zM471.1,77.5h0.75v0.75h-0.75zM465.5,86.9h0.75v0.75h-0.75zM457.1,74.2h0.75v0.75h-0.75zM459.3,75.7h0.75v0.75h-0.75zM453.8,86.6h0.75v0.75h-0.75zM454.0,72.0h0.75v0.75h-0.75zM458.3,59.8h0.75v0.75h-0.75zM468.5,76.8h0.75v0.75h-0.75zM456.5,63.8h0.75v0.75h-0.75zM463.4,84.0h0.75v0.75h-0.75zM463.0,66.2h0.75v0.75h-0.75zM469.2,81.8h0.75v0.75h-0.75zM461.3,91.0h0.75v0.75h-0.75zM451.9,90.7h0.75v0.75h-0.75zM464.3,94.0h0.75v0.75h-0.75zM464.8,80.9h0.75v0.75h-0.75zM467.5,83.3h0.75v0.75h-0.75zM461.1,86.1h0.75v0.75h-0.75zM448.6,81.3h0.75v0.75h-0.75zM465.2,94.6h0.75v0.75h-0.75zM459.9,59.8h0.75v0.75h-0.75zM465.3,79.4h0.75v0.75h-0.75zM460.0,80.0h0.75v0.75h-0.75zM470.8,83.7h0.75v0.75h-0.75zM458.8,79.0h0.75v0.75h-0.75zM455.4,95.0h0.75v0.75h-0.75zM460.9,90.9h0.75v0.75h-0.75zM451.5,81.1h0.75v0.75h-0.75zM463.6,74.2h0.75v0.75h-0.75zM457.4,95.8h0.75v0.75h-0.75zM449.0,77.2h0.75v0.75h-0.75zM458.7,71.7h0.75v0.75h-0.75zM456.0,63.8h0.75v0.75h-0.75zM466.9,91.7h0.75v0.75h-0.75zM449.3,86.8h0.75v0.75h-0.75zM450.5,72.6h0.75v0.75h-0.75zM460.4,68.6h0.75v0.75h-0.75zM450.6,69.1h0.75v0.75h-0.75zM456.7,86.9h0.75v0.75h-0.75zM459.2,63.5h0.75v0.75h-0.75zM468.4,69.2h0.75v0.75h-0.75zM467.5,69.5h0.75v0.75h-0.75zM458.0,82.2h0.75v0.75h-0.75zM456.2,87.6h0.75v0.75h-0.75zM452.1,75.4h0.75v0.75h-0.75zM465.5,88.2h0.75v0.75h-0.75zM460.2,89.5h0.75v0.75h-0.75zM455.8,93.2h0.75v0.75h-0.75zM456.4,93.9h0.75v0.75h-0.75zM460.6,62.8h0.75v0.75h-0.75zM467.1,81.3h0.75v0.75h-0.75zM456.3,81.3h0.75v0.75h-0.75zM460.4,88.3h0.75v0.75h-0.75zM460.6,78.7h0.75v0.75h-0.75zM462.2,90.8h0.75v0.75h-0.75zM461.8,95.0h0.75v0.75h-0.75zM463.8,89.5h0.75v0.75h-0.75zM451.9,68.1h0.75v0.75h-0.75zM466.9,64.0h0.75v0.75h-0.75zM461.1,92.4h0.75v0.75h-0.75zM456.2,66.6h0.75v0.75h-0.75zM467.7,76.7h0.75v0.75h-0.75zM459.4,69.8h0.75v0.75h-0.75zM453.9,79.0h0.75v0.75h-0.75zM461.3,92.9h0.75v0.75h-0.75zM460.0,82.1h0.75v0.75h-0.75zM467.3,73.7h0.75v0.75h-0.75zM451.4,91.2h0.75v0.75h-0.75zM465.9,89.2h0.75v0.75h-0.75zM464.8,66.7h0.75v0.75h-0.75zM456.5,73.6h0.75v0.75h-0.75zM455.0,84.7h0.75v0.75h-0.75zM461.5,72.4h0.75v0.75h-0.75zM461.5,88.0h0.75v0.75h-0.75zM469.6,84.6h0.75v0.75h-0.75zM466.6,67.7h0.75v0.75h-0.75zM458.7,85.1h0.75v0.75h-0.75zM467.1,65.4h0.75v0.75h-0.75zM466.5,80.7h0.75v0.75h-0.75zM464.2,79.6h0.75v0.75h-0.75zM458.6,86.6h0.75v0.75h-0.75zM462.5,88.5h0.75v0.75h-0.75zM466.7,87.5h0.75v0.75h-0.75zM453.9,76.6h0.75v0.75h-0.75zM462.3,67.0h0.75v0.75h-0.75zM455.5,70.2h0.75v0.75h-0.75zM453.7,85.3h0.75v0.75h-0.75zM458.7,69.4h0.75v0.75h-0.75zM465.4,67.2h0.75v0.75h-0.75zM468.2,75.1h0.75v0.75h-0.75zM452.2,68.3h0.75v0.75h-0.75zM461.9,74.0h0.75v0.75h-0.75zM461.8,80.8h0.75v0.75h-0.75zM465.5,79.5h0.75v0.75h-0.75zM450.9,65.3h0.75v0.75h-0.75zM469.5,74.9h0.75v0.75h-0.75zM461.5,97.3h0.75v0.75h-0.75zM455.6,80.2h0.75v0.75h-0.75zM454.9,76.6h0.75v0.75h-0.75zM460.1,82.8h0.75v0.75h-0.75zM468.6,77.8h0.75v0.75h-0.75zM465.4,74.9h0.75v0.75h-0.75zM451.4,68.4h0.75v0.75h-0.75zM464.1,79.6h0.75v0.75h-0.75zM464.5,64.1h0.75v0.75h-0.75zM456.0,89.7h0.75v0.75h-0.75zM456.5,79.6h0.75v0.75h-0.75zM454.6,69.9h0.75v0.75h-0.75zM453.3,89.0h0.75v0.75h-0.75zM466.3,89.9h0.75v0.75h-0.75zM459.9,90.1h0.75v0.75h-0.75zM467.4,88.4h0.75v0.75h-0.75zM452.2,74.9h0.75v0.75h-0.75zM454.5,74.1h0.75v0.75h-0.75zM466.3,78.8h0.75v0.75h-0.75zM452.5,78.8h0.75v0.75h-0.75zM461.7,89.2h0.75v0.75h-0.75zM455.6,87.2h0.75v0.75h-0.75zM455.7,91.8h0.75v0.75h-0.75zM453.9,86.7h0.75v0.75h-0.75zM458.7,74.8h0.75v0.75h-0.75zM460.0,98.2h0.75v0.75h-0.75zM463.3,89.4h0.75v0.75h-0.75zM457.9,96.3h0.75v0.75h-0.75zM454.0,67.1h0.75v0.75h-0.75zM453.2,71.7h0.75v0.75h-0.75zM465.9,74.8h0.75v0.75h-0.75zM454.1,81.2h0.75v0.75h-0.75zM460.5,90.5h0.75v0.75h-0.75zM458.9,67.0h0.75v0.75h-0.75zM458.8,69.7h0.75v0.75h-0.75zM459.5,81.2h0.75v0.75h-0.75zM452.1,90.1h0.75v0.75h-0.75zM463.2,75.2h0.75v0.75h-0.75zM458.1,86.4h0.75v0.75h-0.75zM458.3,80.8h0.75v0.75h-0.75zM458.6,85.1h0.75v0.75h-0.75zM466.9,90.3h0.75v0.75h-0.75zM450.6,67.2h0.75v0.75h-0.75zM463.2,86.1h0.75v0.75h-0.75zM466.2,74.2h0.75v0.75h-0.75zM456.8,84.9h0.75v0.75h-0.75zM451.2,74.0h0.75v0.75h-0.75zM459.5,92.8h0.75v0.75h-0.75zM457.0,74.3h0.75v0.75h-0.75zM465.1,64.8h0.75v0.75h-0.75zM467.0,80.6h0.75v0.75h-0.75zM455.1,89.1h0.75v0.75h-0.75zM451.3,76.9h0.75v0.75h-0.75zM465.3,65.2h0.75v0.75h-0.75zM463.5,70.4h0.75v0.75h-0.75zM461.0,77.7h0.75v0.75h-0.75zM452.6,66.8h0.75v0.75h-0.75zM461.3,90.6h0.75v0.75h-0.75zM451.5,76.8h0.75v0.75h-0.75zM455.5,63.6h0.75v0.75h-0.75zM459.4,83.0h0.75v0.75h-0.75zM461.3,81.1h0.75v0.75h-0.75zM457.3,75.5h0.75v0.75h-0.75zM468.2,76.0h0.75v0.75h-0.75zM468.2,62.2h0.75v0.75h-0.75zM461.1,89.8h0.75v0.75h-0.75zM452.0,72.7h0.75v0.75h-0.75zM460.1,61.6h0.75v0.75h-0.75zM460.2,68.0h0.75v0.75h-0.75zM460.5,80.6h0.75v0.75h-0.75zM465.9,85.7h0.75v0.75h-0.75zM455.4,83.6h0.75v0.75h-0.75zM449.2,75.5h0.75v0.75h-0.75zM464.8,73.4h0.75v0.75h-0.75zM461.8,77.7h0.75v0.75h-0.75zM455.7,94.9h0.75v0.75h-0.75zM460.8,83.7h0.75v0.75h-0.75zM462.3,78.0h0.75v0.75h-0.75zM464.1,63.9h0.75v0.75h-0.75zM468.3,78.9h0.75v0.75h-0.75zM459.2,82.2h0.75v0.75h-0.75zM469.8,74.7h0.75v0.75h-0.75zM461.2,85.9h0.75v0.75h-0.75zM462.1,80.6h0.75v0.75h-0.75zM467.2,73.5h0.75v0.75h-0.75zM456.6,67.8h0.75v0.75h-0.75zM469.1,77.5h0.75v0.75h-0.75zM456.2,65.7h0.75v0.75h-0.75zM456.2,81.2h0.75v0.75h-0.75zM462.1,90.5h0.75v0.75h-0.75zM454.1,97.8h0.75v0.75h-0.75zM457.1,67.9h0.75v0.75h-0.75zM463.6,97.7h0.75v0.75h-0.75zM467.4,71.4h0.75v0.75h-0.75zM456.3,77.3h0.75v0.75h-0.75zM456.1,92.0h0.75v0.75h-0.75zM459.0,65.8h0.75v0.75h-0.75zM463.4,74.2h0.75v0.75h-0.75zM452.1,68.1h0.75v0.75h-0.75zM456.2,76.6h0.75v0.75h-0.75zM463.0,75.7h0.75v0.75h-0.75zM458.7,92.5h0.75v0.75h-0.75zM459.8,83.9h0.75v0.75h-0.75zM463.2,87.8h0.75v0.75h-0.75zM456.8,69.3h0.75v0.75h-0.75zM470.3,83.7h0.75v0.75h-0.75zM450.0,86.3h0.75v0.75h-0.75zM460.9,82.4h0.75v0.75h-0.75zM459.7,73.1h0.75v0.75h-0.75zM458.9,85.0h0.75v0.75h-0.75zM464.5,66.9h0.75v0.75h-0.75zM463.3,82.5h0.75v0.75h-0.75zM461.2,77.8h0.75v0.75h-0.75zM454.2,95.7h0.75v0.75h-0.75zM458.9,97.6h0.75v0.75h-0.75zM459.2,96.3h0.75v0.75h-0.75zM464.4,92.5h0.75v0.75h-0.75zM459.6,64.8h0.75v0.75h-0.75zM449.9,90.4h0.75v0.75h-0.75zM470.3,68.5h0.75v0.75h-0.75zM456.3,61.2h0.75v0.75h-0.75zM459.6,95.5h0.75v0.75h-0.75zM460.5,79.5h0.75v0.75h-0.75zM461.4,96.3h0.75v0.75h-0.75zM464.9,74.2h0.75v0.75h-0.75zM457.1,64.9h0.75v0.75h-0.75zM462.8,75.0h0.75v0.75h-0.75zM451.4,84.2h0.75v0.75h-0.75zM458.2,86.4h0.75v0.75h-0.75zM459.7,75.8h0.75v0.75h-0.75zM455.8,84.8h0.75v0.75h-0.75zM459.1,72.2h0.75v0.75h-0.75zM466.0,90.0h0.75v0.75h-0.75zM460.5,78.9h0.75v0.75h-0.75zM457.7,88.7h0.75v0.75h-0.75zM465.3,86.3h0.75v0.75h-0.75zM467.5,93.4h0.75v0.75h-0.75zM457.6,59.1h0.75v0.75h-0.75zM460.4,83.5h0.75v0.75h-0.75zM469.0,77.5h0.75v0.75h-0.75zM462.0,66.6h0.75v0.75h-0.75zM464.3,83.5h0.75v0.75h-0.75zM462.1,81.3h0.75v0.75h-0.75zM460.0,69.0h0.75v0.75h-0.75zM463.3,90.6h0.75v0.75h-0.75zM456.0,82.3h0.75v0.75h-0.75zM461.8,81.6h0.75v0.75h-0.75zM458.1,79.5h0.75v0.75h-0.75zM457.3,63.3h0.75v0.75h-0.75zM463.4,88.8h0.75v0.75h-0.75zM461.1,76.8h0.75v0.75h-0.75zM469.3,77.3h0.75v0.75h-0.75zM468.8,67.2h0.75v0.75h-0.75zM461.4,65.9h0.75v0.75h-0.75zM464.6,68.6h0.75v0.75h-0.75zM454.1,75.9h0.75v0.75h-0.75zM468.5,73.3h0.75v0.75h-0.75zM455.4,93.2h0.75v0.75h-0.75zM449.8,76.1h0.75v0.75h-0.75zM463.4,81.8h0.75v0.75h-0.75zM464.3,92.3h0.75v0.75h-0.75zM465.2,70.9h0.75v0.75h-0.75zM453.4,85.9h0.75v0.75h-0.75zM463.5,91.1h0.75v0.75h-0.75zM449.1,79.4h0.75v0.75h-0.75zM472.0,68.6h0.75v0.75h-0.75zM469.1,90.7h0.75v0.75h-0.75zM461.2,70.8h0.75v0.75h-0.75zM452.5,82.9h0.75v0.75h-0.75zM451.4,83.1h0.75v0.75h-0.75zM454.1,67.0h0.75v0.75h-0.75zM465.1,69.5h0.75v0.75h-0.75zM463.6,96.0h0.75v0.75h-0.75zM470.5,86.4h0.75v0.75h-0.75zM458.9,77.3h0.75v0.75h-0.75zM450.9,84.4h0.75v0.75h-0.75zM470.7,86.1h0.75v0.75h-0.75zM466.9,88.0h0.75v0.75h-0.75zM451.8,73.7h0.75v0.75h-0.75zM461.4,87.5h0.75v0.75h-0.75zM453.0,79.8h0.75v0.75h-0.75zM461.8,61.3h0.75v0.75h-0.75zM457.6,78.0h0.75v0.75h-0.75zM453.8,73.7h0.75v0.75h-0.75zM464.3,86.0h0.75v0.75h-0.75zM463.6,68.0h0.75v0.75h-0.75zM460.9,87.5h0.75v0.75h-0.75zM456.6,79.6h0.75v0.75h-0.75zM464.8,79.0h0.75v0.75h-0.75zM451.3,78.8h0.75v0.75h-0.75zM470.0,75.8h0.75v0.75h-0.75zM451.3,77.7h0.75v0.75h-0.75zM471.7,80.3h0.75v0.75h-0.75zM465.1,71.9h0.75v0.75h-0.75zM459.0,74.7h0.75v0.75h-0.75zM460.1,72.8h0.75v0.75h-0.75zM464.7,67.8h0.75v0.75h-0.75zM464.1,93.4h0.75v0.75h-0.75zM463.8,59.4h0.75v0.75h-0.75zM465.3,85.9h0.75v0.75h-0.75zM450.1,91.6h0.75v0.75h-0.75zM461.9,67.7h0.75v0.75h-0.75zM463.6,84.6h0.75v0.75h-0.75zM466.4,91.4h0.75v0.75h-0.75zM457.6,59.3h0.75v0.75h-0.75zM465.9,91.3h0.75v0.75h-0.75zM459.7,60.0h0.75v0.75h-0.75zM457.1,76.2h0.75v0.75h-0.75zM450.5,70.1h0.75v0.75h-0.75zM459.2,90.8h0.75v0.75h-0.75zM457.3,88.3h0.75v0.75h-0.75zM467.9,68.8h0.75v0.75h-0.75zM465.6,66.2h0.75v0.75h-0.75zM463.9,73.8h0.75v0.75h-0.75zM459.8,85.5h0.75v0.75h-0.75zM466.5,93.9h0.75v0.75h-0.75zM459.8,72.0h0.75v0.75h-0.75zM459.5,78.2h0.75v0.75h-0.75zM451.8,78.6h0.75v0.75h-0.75zM465.4,87.4h0.75v0.75h-0.75zM459.7,65.8h0.75v0.75h-0.75zM463.2,64.6h0.75v0.75h-0.75zM463.2,66.8h0.75v0.75h-0.75zM458.8,68.4h0.75v0.75h-0.75zM454.7,81.2h0.75v0.75h-0.75zM466.3,70.7h0.75v0.75h-0.75zM456.3,80.4h0.75v0.75h-0.75zM456.0,69.9h0.75v0.75h-0.75zM466.5,90.9h0.75v0.75h-0.75zM461.4,67.4h0.75v0.75h-0.75zM455.0,71.1h0.75v0.75h-0.75zM467.2,86.7h0.75v0.75h-0.75zM458.7,68.7h0.75v0.75h-0.75zM457.8,81.5h0.75v0.75h-0.75zM465.6,70.3h0.75v0.75h-0.75zM465.5,76.8h0.75v0.75h-0.75zM455.8,85.9h0.75v0.75h-0.75zM451.9,84.0h0.75v0.75h-0.75zM452.4,70.0h0.75v0.75h-0.75zM456.3,76.5h0.75v0.75h-0.75zM450.4,74.6h0.75v0.75h-0.75zM464.5,87.6h0.75v0.75h-0.75zM460.8,87.6h0.75v0.75h-0.75zM461.1,91.8h0.75v0.75h-0.75zM467.7,65.3h0.75v0.75h-0.75zM452.5,87.4h0.75v0.75h-0.75zM462.9,77.6h0.75v0.75h-0.75zM460.7,61.8h0.75v0.75h-0.75zM471.0,82.7h0.75v0.75h-0.75zM460.2,80.2h0.75v0.75h-0.75zM455.3,61.4h0.75v0.75h-0.75zM458.3,74.1h0.75v0.75h-0.75zM463.5,63.0h0.75v0.75h-0.75zM464.7,65.6h0.75v0.75h-0.75zM460.4,79.0h0.75v0.75h-0.75zM453.2,84.8h0.75v0.75h-0.75zM454.3,78.5h0.75v0.75h-0.75zM459.3,77.1h0.75v0.75h-0.75zM458.8,79.5h0.75v0.75h-0.75zM450.7,83.1h0.75v0.75h-0.75zM451.7,91.7h0.75v0.75h-0.75zM451.0,76.6h0.75v0.75h-0.75zM452.3,89.5h0.75v0.75h-0.75zM471.4,77.5h0.75v0.75h-0.75zM454.6,93.8h0.75v0.75h-0.75zM463.8,66.5h0.75v0.75h-0.75zM458.1,77.7h0.75v0.75h-0.75zM455.6,77.7h0.75v0.75h-0.75zM455.5,93.3h0.75v0.75h-0.75zM456.9,76.2h0.75v0.75h-0.75zM452.0,87.3h0.75v0.75h-0.75zM452.0,71.4h0.75v0.75h-0.75zM455.1,78.6h0.75v0.75h-0.75zM454.7,72.5h0.75v0.75h-0.75zM453.9,78.9h0.75v0.75h-0.75zM456.0,76.5h0.75v0.75h-0.75zM450.1,79.1h0.75v0.75h-0.75zM465.6,62.6h0.75v0.75h-0.75zM451.9,85.5h0.75v0.75h-0.75zM459.5,78.2h0.75v0.75h-0.75zM453.8,91.9h0.75v0.75h-0.75zM459.4,61.5h0.75v0.75h-0.75zM453.8,74.7h0.75v0.75h-0.75zM459.2,83.5h0.75v0.75h-0.75zM457.3,85.7h0.75v0.75h-0.75zM452.8,74.4h0.75v0.75h-0.75zM454.4,93.2h0.75v0.75h-0.75zM460.5,76.3h0.75v0.75h-0.75zM466.2,77.6h0.75v0.75h-0.75zM459.7,67.4h0.75v0.75h-0.75zM468.6,93.7h0.75v0.75h-0.75zM451.7,83.4h0.75v0.75h-0.75zM459.9,72.0h0.75v0.75h-0.75zM463.8,80.0h0.75v0.75h-0.75zM465.6,83.8h0.75v0.75h-0.75zM465.1,82.0h0.75v0.75h-0.75zM461.2,70.9h0.75v0.75h-0.75zM455.5,87.6h0.75v0.75h-0.75zM461.0,74.7h0.75v0.75h-0.75zM467.9,76.5h0.75v0.75h-0.75zM456.0,66.7h0.75v0.75h-0.75zM462.7,85.1h0.75v0.75h-0.75zM460.1,82.2h0.75v0.75h-0.75zM457.4,60.0h0.75v0.75h-0.75zM465.9,87.8h0.75v0.75h-0.75zM455.2,78.3h0.75v0.75h-0.75zM461.1,69.9h0.75v0.75h-0.75zM461.2,98.0h0.75v0.75h-0.75zM470.3,70.9h0.75v0.75h-0.75zM461.8,92.6h0.75v0.75h-0.75zM459.8,79.6h0.75v0.75h-0.75zM464.9,87.8h0.75v0.75h-0.75zM455.0,82.0h0.75v0.75h-0.75zM457.6,82.3h0.75v0.75h-0.75zM463.4,92.1h0.75v0.75h-0.75zM468.8,78.8h0.75v0.75h-0.75zM462.6,82.6h0.75v0.75h-0.75zM463.1,65.3h0.75v0.75h-0.75zM454.3,92.1h0.75v0.75h-0.75zM449.9,77.4h0.75v0.75h-0.75zM462.3,70.2h0.75v0.75h-0.75zM451.4,66.0h0.75v0.75h-0.75zM461.2,85.0h0.75v0.75h-0.75zM462.9,70.0h0.75v0.75h-0.75zM451.0,87.7h0.75v0.75h-0.75z" fill="#d63a2c" opacity="1"/>
<path d="M455.6,87.2h0.75v0.75h-0.75zM454.3,83.9h0.75v0.75h-0.75zM452.6,86.4h0.75v0.75h-0.75zM459.5,92.7h0.75v0.75h-0.75zM465.1,79.0h0.75v0.75h-0.75zM458.3,83.3h0.75v0.75h-0.75zM459.8,69.9h0.75v0.75h-0.75zM463.7,54.2h0.75v0.75h-0.75zM459.7,99.7h0.75v0.75h-0.75zM463.2,64.6h0.75v0.75h-0.75zM466.5,80.4h0.75v0.75h-0.75zM456.5,72.5h0.75v0.75h-0.75zM460.8,87.0h0.75v0.75h-0.75zM459.5,96.1h0.75v0.75h-0.75zM456.4,87.1h0.75v0.75h-0.75zM450.9,59.4h0.75v0.75h-0.75zM459.5,81.4h0.75v0.75h-0.75zM471.2,75.4h0.75v0.75h-0.75zM461.8,66.7h0.75v0.75h-0.75zM460.3,84.3h0.75v0.75h-0.75zM457.8,89.0h0.75v0.75h-0.75zM468.5,84.7h0.75v0.75h-0.75zM459.9,76.9h0.75v0.75h-0.75zM463.8,68.8h0.75v0.75h-0.75zM465.9,73.0h0.75v0.75h-0.75zM461.9,67.9h0.75v0.75h-0.75zM454.6,70.8h0.75v0.75h-0.75zM463.3,79.3h0.75v0.75h-0.75zM460.7,88.6h0.75v0.75h-0.75zM454.9,87.6h0.75v0.75h-0.75zM456.7,70.0h0.75v0.75h-0.75zM457.0,89.3h0.75v0.75h-0.75zM470.0,73.4h0.75v0.75h-0.75zM453.8,63.2h0.75v0.75h-0.75zM460.4,83.1h0.75v0.75h-0.75zM462.5,81.3h0.75v0.75h-0.75zM468.4,79.3h0.75v0.75h-0.75zM462.6,76.1h0.75v0.75h-0.75zM454.5,56.6h0.75v0.75h-0.75zM460.3,72.8h0.75v0.75h-0.75zM457.0,72.6h0.75v0.75h-0.75zM460.4,79.8h0.75v0.75h-0.75zM446.7,74.9h0.75v0.75h-0.75zM462.7,81.9h0.75v0.75h-0.75zM458.7,80.3h0.75v0.75h-0.75zM450.5,82.1h0.75v0.75h-0.75zM458.4,79.2h0.75v0.75h-0.75zM463.9,79.8h0.75v0.75h-0.75zM453.2,58.8h0.75v0.75h-0.75zM457.2,78.4h0.75v0.75h-0.75zM461.3,88.6h0.75v0.75h-0.75zM462.3,81.6h0.75v0.75h-0.75zM449.5,86.2h0.75v0.75h-0.75zM461.0,99.1h0.75v0.75h-0.75zM464.5,71.0h0.75v0.75h-0.75zM460.6,84.8h0.75v0.75h-0.75zM454.4,62.3h0.75v0.75h-0.75zM462.6,73.2h0.75v0.75h-0.75zM458.9,79.4h0.75v0.75h-0.75zM458.3,86.4h0.75v0.75h-0.75zM461.7,81.3h0.75v0.75h-0.75zM465.1,78.1h0.75v0.75h-0.75zM452.6,78.6h0.75v0.75h-0.75zM452.1,80.8h0.75v0.75h-0.75zM453.0,78.3h0.75v0.75h-0.75zM467.5,85.3h0.75v0.75h-0.75zM455.3,64.5h0.75v0.75h-0.75zM457.4,88.8h0.75v0.75h-0.75zM463.4,63.4h0.75v0.75h-0.75zM465.1,81.4h0.75v0.75h-0.75zM464.5,92.4h0.75v0.75h-0.75zM455.1,84.2h0.75v0.75h-0.75zM461.1,89.3h0.75v0.75h-0.75zM458.3,64.7h0.75v0.75h-0.75zM461.1,88.4h0.75v0.75h-0.75zM458.5,76.1h0.75v0.75h-0.75zM461.1,77.3h0.75v0.75h-0.75zM457.6,74.5h0.75v0.75h-0.75zM468.9,74.3h0.75v0.75h-0.75zM461.2,90.2h0.75v0.75h-0.75z" fill="#d63a2c" opacity="1"/>
<path d="M436.4,112.9h0.75v0.75h-0.75zM431.9,97.1h0.75v0.75h-0.75zM438.8,108.8h0.75v0.75h-0.75zM439.8,108.3h0.75v0.75h-0.75zM436.7,103.1h0.75v0.75h-0.75zM432.6,104.9h0.75v0.75h-0.75zM435.1,110.5h0.75v0.75h-0.75zM441.7,100.0h0.75v0.75h-0.75zM442.2,105.9h0.75v0.75h-0.75zM445.0,113.3h0.75v0.75h-0.75zM441.3,97.5h0.75v0.75h-0.75zM442.0,98.6h0.75v0.75h-0.75zM448.0,102.9h0.75v0.75h-0.75zM436.5,114.9h0.75v0.75h-0.75zM426.1,106.3h0.75v0.75h-0.75zM430.7,103.6h0.75v0.75h-0.75zM432.5,109.4h0.75v0.75h-0.75zM435.7,107.8h0.75v0.75h-0.75zM441.9,97.8h0.75v0.75h-0.75zM446.9,104.9h0.75v0.75h-0.75zM426.8,102.9h0.75v0.75h-0.75zM443.5,111.0h0.75v0.75h-0.75zM433.2,106.6h0.75v0.75h-0.75zM439.3,111.2h0.75v0.75h-0.75zM436.8,110.9h0.75v0.75h-0.75zM431.9,102.6h0.75v0.75h-0.75zM442.1,109.7h0.75v0.75h-0.75zM437.4,109.1h0.75v0.75h-0.75zM439.1,109.9h0.75v0.75h-0.75zM445.5,108.7h0.75v0.75h-0.75zM443.2,104.2h0.75v0.75h-0.75zM434.1,94.7h0.75v0.75h-0.75zM440.5,106.3h0.75v0.75h-0.75zM441.3,97.0h0.75v0.75h-0.75zM434.5,103.4h0.75v0.75h-0.75zM425.8,110.6h0.75v0.75h-0.75zM445.8,99.9h0.75v0.75h-0.75zM440.7,114.6h0.75v0.75h-0.75zM429.7,111.0h0.75v0.75h-0.75zM428.7,100.9h0.75v0.75h-0.75zM439.1,112.1h0.75v0.75h-0.75zM429.4,102.5h0.75v0.75h-0.75zM430.4,111.6h0.75v0.75h-0.75zM434.0,109.0h0.75v0.75h-0.75zM442.1,111.9h0.75v0.75h-0.75zM440.5,107.8h0.75v0.75h-0.75zM445.5,108.5h0.75v0.75h-0.75zM429.4,103.5h0.75v0.75h-0.75zM443.8,106.8h0.75v0.75h-0.75zM435.4,107.4h0.75v0.75h-0.75zM441.0,108.4h0.75v0.75h-0.75zM436.0,112.0h0.75v0.75h-0.75zM443.5,108.1h0.75v0.75h-0.75zM428.7,112.4h0.75v0.75h-0.75zM442.9,105.8h0.75v0.75h-0.75zM429.7,105.0h0.75v0.75h-0.75zM434.4,102.1h0.75v0.75h-0.75zM444.5,106.7h0.75v0.75h-0.75zM446.0,101.4h0.75v0.75h-0.75zM436.5,112.9h0.75v0.75h-0.75zM439.9,102.6h0.75v0.75h-0.75zM431.8,103.2h0.75v0.75h-0.75zM437.2,109.5h0.75v0.75h-0.75zM438.7,109.9h0.75v0.75h-0.75zM443.4,106.7h0.75v0.75h-0.75zM446.4,109.8h0.75v0.75h-0.75zM436.5,105.3h0.75v0.75h-0.75zM437.6,102.5h0.75v0.75h-0.75zM428.8,106.3h0.75v0.75h-0.75zM434.3,109.0h0.75v0.75h-0.75zM433.8,106.6h0.75v0.75h-0.75zM439.1,103.8h0.75v0.75h-0.75zM439.0,102.6h0.75v0.75h-0.75zM434.9,110.1h0.75v0.75h-0.75zM440.3,106.1h0.75v0.75h-0.75zM432.5,109.6h0.75v0.75h-0.75zM444.7,107.2h0.75v0.75h-0.75zM445.1,111.9h0.75v0.75h-0.75zM430.9,114.7h0.75v0.75h-0.75zM433.8,104.9h0.75v0.75h-0.75zM441.9,105.7h0.75v0.75h-0.75zM439.5,103.6h0.75v0.75h-0.75zM430.8,106.2h0.75v0.75h-0.75zM430.4,112.7h0.75v0.75h-0.75zM439.3,113.0h0.75v0.75h-0.75zM429.4,95.9h0.75v0.75h-0.75zM422.5,104.3h0.75v0.75h-0.75zM429.1,107.9h0.75v0.75h-0.75zM428.0,99.3h0.75v0.75h-0.75zM439.6,104.2h0.75v0.75h-0.75zM442.2,110.1h0.75v0.75h-0.75zM440.1,100.1h0.75v0.75h-0.75zM431.9,117.3h0.75v0.75h-0.75zM436.2,107.6h0.75v0.75h-0.75zM438.5,106.0h0.75v0.75h-0.75zM436.6,103.3h0.75v0.75h-0.75zM434.2,96.2h0.75v0.75h-0.75zM448.8,105.6h0.75v0.75h-0.75zM428.9,108.7h0.75v0.75h-0.75zM442.1,99.0h0.75v0.75h-0.75zM434.2,113.5h0.75v0.75h-0.75zM441.3,108.2h0.75v0.75h-0.75zM444.3,105.5h0.75v0.75h-0.75zM435.7,114.0h0.75v0.75h-0.75zM436.5,105.7h0.75v0.75h-0.75zM441.9,106.3h0.75v0.75h-0.75zM429.5,115.4h0.75v0.75h-0.75zM437.2,114.9h0.75v0.75h-0.75zM441.1,101.6h0.75v0.75h-0.75zM448.0,105.3h0.75v0.75h-0.75zM432.0,106.0h0.75v0.75h-0.75zM423.4,108.1h0.75v0.75h-0.75zM432.8,104.9h0.75v0.75h-0.75zM431.8,109.4h0.75v0.75h-0.75zM440.1,111.4h0.75v0.75h-0.75zM448.8,107.5h0.75v0.75h-0.75zM438.3,107.6h0.75v0.75h-0.75zM432.3,103.4h0.75v0.75h-0.75zM442.7,101.9h0.75v0.75h-0.75zM424.8,104.4h0.75v0.75h-0.75zM439.4,113.3h0.75v0.75h-0.75zM432.9,101.5h0.75v0.75h-0.75zM438.3,105.3h0.75v0.75h-0.75zM439.3,103.6h0.75v0.75h-0.75zM439.0,103.3h0.75v0.75h-0.75zM444.2,107.5h0.75v0.75h-0.75zM441.5,103.9h0.75v0.75h-0.75zM428.1,106.2h0.75v0.75h-0.75zM437.3,111.5h0.75v0.75h-0.75zM444.1,105.9h0.75v0.75h-0.75zM437.4,101.2h0.75v0.75h-0.75zM437.4,107.1h0.75v0.75h-0.75zM434.9,100.8h0.75v0.75h-0.75zM446.2,101.5h0.75v0.75h-0.75zM448.6,111.9h0.75v0.75h-0.75zM447.9,101.9h0.75v0.75h-0.75zM441.8,99.3h0.75v0.75h-0.75zM435.2,98.6h0.75v0.75h-0.75zM432.8,103.6h0.75v0.75h-0.75zM444.0,111.3h0.75v0.75h-0.75zM435.2,104.7h0.75v0.75h-0.75zM431.4,100.5h0.75v0.75h-0.75zM425.8,105.0h0.75v0.75h-0.75zM441.5,102.3h0.75v0.75h-0.75zM440.0,100.4h0.75v0.75h-0.75zM431.0,103.4h0.75v0.75h-0.75zM443.4,103.5h0.75v0.75h-0.75zM442.6,104.3h0.75v0.75h-0.75zM430.3,96.2h0.75v0.75h-0.75zM434.4,101.3h0.75v0.75h-0.75zM443.5,108.2h0.75v0.75h-0.75zM426.8,110.1h0.75v0.75h-0.75zM430.7,107.2h0.75v0.75h-0.75zM427.0,102.5h0.75v0.75h-0.75zM441.0,107.2h0.75v0.75h-0.75zM440.5,109.0h0.75v0.75h-0.75zM441.0,116.4h0.75v0.75h-0.75zM435.8,108.7h0.75v0.75h-0.75zM439.8,105.3h0.75v0.75h-0.75zM439.6,107.2h0.75v0.75h-0.75zM442.9,107.5h0.75v0.75h-0.75zM437.9,108.3h0.75v0.75h-0.75zM447.0,106.3h0.75v0.75h-0.75zM441.5,106.7h0.75v0.75h-0.75zM424.6,101.6h0.75v0.75h-0.75zM431.5,99.2h0.75v0.75h-0.75zM433.5,97.4h0.75v0.75h-0.75zM439.3,103.4h0.75v0.75h-0.75zM445.5,107.8h0.75v0.75h-0.75zM429.2,104.9h0.75v0.75h-0.75zM437.8,102.7h0.75v0.75h-0.75zM435.1,100.7h0.75v0.75h-0.75zM432.7,107.3h0.75v0.75h-0.75zM435.3,111.8h0.75v0.75h-0.75zM423.6,102.1h0.75v0.75h-0.75zM435.1,113.1h0.75v0.75h-0.75zM444.7,109.6h0.75v0.75h-0.75zM443.8,113.6h0.75v0.75h-0.75zM441.9,104.8h0.75v0.75h-0.75zM438.6,102.4h0.75v0.75h-0.75zM436.0,107.7h0.75v0.75h-0.75zM434.2,106.4h0.75v0.75h-0.75zM434.6,99.6h0.75v0.75h-0.75zM428.0,109.2h0.75v0.75h-0.75zM437.6,109.9h0.75v0.75h-0.75zM436.7,105.8h0.75v0.75h-0.75zM439.1,104.3h0.75v0.75h-0.75zM446.4,110.7h0.75v0.75h-0.75zM440.0,100.8h0.75v0.75h-0.75zM433.9,106.8h0.75v0.75h-0.75zM444.9,105.6h0.75v0.75h-0.75zM437.1,108.3h0.75v0.75h-0.75zM438.1,105.1h0.75v0.75h-0.75zM430.0,111.7h0.75v0.75h-0.75zM436.9,103.3h0.75v0.75h-0.75zM436.6,99.4h0.75v0.75h-0.75zM426.3,97.2h0.75v0.75h-0.75zM439.6,99.4h0.75v0.75h-0.75zM437.9,100.1h0.75v0.75h-0.75zM425.6,102.8h0.75v0.75h-0.75zM432.4,102.4h0.75v0.75h-0.75zM448.4,106.7h0.75v0.75h-0.75zM433.3,109.9h0.75v0.75h-0.75zM435.1,111.5h0.75v0.75h-0.75zM427.0,110.9h0.75v0.75h-0.75zM430.1,102.2h0.75v0.75h-0.75zM438.4,100.5h0.75v0.75h-0.75zM426.5,103.8h0.75v0.75h-0.75zM435.2,97.8h0.75v0.75h-0.75zM443.4,101.7h0.75v0.75h-0.75zM433.0,104.5h0.75v0.75h-0.75zM437.4,110.7h0.75v0.75h-0.75zM423.1,105.7h0.75v0.75h-0.75zM442.8,106.8h0.75v0.75h-0.75zM436.6,100.3h0.75v0.75h-0.75zM439.2,103.3h0.75v0.75h-0.75zM437.9,100.5h0.75v0.75h-0.75zM435.0,104.9h0.75v0.75h-0.75zM427.4,110.6h0.75v0.75h-0.75zM436.2,99.4h0.75v0.75h-0.75zM435.4,106.2h0.75v0.75h-0.75zM434.8,100.6h0.75v0.75h-0.75zM435.5,99.1h0.75v0.75h-0.75zM426.2,111.2h0.75v0.75h-0.75zM448.1,114.6h0.75v0.75h-0.75zM430.9,102.9h0.75v0.75h-0.75zM444.2,103.3h0.75v0.75h-0.75zM434.7,105.5h0.75v0.75h-0.75zM439.7,99.1h0.75v0.75h-0.75zM437.2,108.0h0.75v0.75h-0.75zM423.7,111.0h0.75v0.75h-0.75zM442.0,101.7h0.75v0.75h-0.75zM448.9,107.6h0.75v0.75h-0.75zM440.1,113.0h0.75v0.75h-0.75zM420.3,105.6h0.75v0.75h-0.75zM443.9,112.4h0.75v0.75h-0.75zM436.8,104.7h0.75v0.75h-0.75zM432.0,104.0h0.75v0.75h-0.75zM431.4,94.1h0.75v0.75h-0.75zM433.2,100.8h0.75v0.75h-0.75zM433.1,103.4h0.75v0.75h-0.75zM433.8,106.1h0.75v0.75h-0.75zM436.6,103.9h0.75v0.75h-0.75zM433.0,105.1h0.75v0.75h-0.75zM435.0,105.0h0.75v0.75h-0.75zM446.0,106.8h0.75v0.75h-0.75zM434.4,95.7h0.75v0.75h-0.75zM442.7,110.9h0.75v0.75h-0.75zM434.4,103.3h0.75v0.75h-0.75zM440.1,108.3h0.75v0.75h-0.75zM425.7,104.4h0.75v0.75h-0.75zM434.9,99.5h0.75v0.75h-0.75zM446.2,109.2h0.75v0.75h-0.75zM433.0,105.4h0.75v0.75h-0.75zM433.4,103.2h0.75v0.75h-0.75zM434.4,110.5h0.75v0.75h-0.75zM437.0,103.3h0.75v0.75h-0.75zM432.5,106.8h0.75v0.75h-0.75zM431.3,97.8h0.75v0.75h-0.75zM436.1,113.2h0.75v0.75h-0.75zM432.6,106.4h0.75v0.75h-0.75zM435.7,111.5h0.75v0.75h-0.75zM440.1,99.5h0.75v0.75h-0.75zM448.3,105.6h0.75v0.75h-0.75zM431.0,103.2h0.75v0.75h-0.75zM437.4,110.8h0.75v0.75h-0.75zM435.2,102.0h0.75v0.75h-0.75zM445.6,113.1h0.75v0.75h-0.75zM434.7,106.3h0.75v0.75h-0.75zM439.4,104.1h0.75v0.75h-0.75zM431.0,110.6h0.75v0.75h-0.75zM429.9,96.8h0.75v0.75h-0.75zM440.8,111.2h0.75v0.75h-0.75zM442.3,101.9h0.75v0.75h-0.75zM435.4,100.4h0.75v0.75h-0.75zM433.6,93.8h0.75v0.75h-0.75zM431.3,112.2h0.75v0.75h-0.75zM429.4,113.9h0.75v0.75h-0.75zM438.1,96.2h0.75v0.75h-0.75zM443.1,101.0h0.75v0.75h-0.75zM440.6,104.7h0.75v0.75h-0.75zM434.7,104.8h0.75v0.75h-0.75zM428.4,101.9h0.75v0.75h-0.75zM434.4,114.2h0.75v0.75h-0.75zM433.3,107.2h0.75v0.75h-0.75zM440.0,111.5h0.75v0.75h-0.75zM435.5,106.6h0.75v0.75h-0.75zM427.3,106.9h0.75v0.75h-0.75zM434.8,106.4h0.75v0.75h-0.75zM433.6,103.5h0.75v0.75h-0.75zM443.5,110.2h0.75v0.75h-0.75zM436.6,105.0h0.75v0.75h-0.75zM438.3,105.3h0.75v0.75h-0.75zM439.9,109.3h0.75v0.75h-0.75zM440.1,98.0h0.75v0.75h-0.75zM436.7,100.5h0.75v0.75h-0.75zM440.0,104.2h0.75v0.75h-0.75zM439.0,105.2h0.75v0.75h-0.75zM443.2,112.2h0.75v0.75h-0.75zM438.2,98.5h0.75v0.75h-0.75zM437.1,115.2h0.75v0.75h-0.75zM432.6,105.3h0.75v0.75h-0.75zM441.3,106.8h0.75v0.75h-0.75zM428.5,113.6h0.75v0.75h-0.75zM443.1,97.5h0.75v0.75h-0.75zM436.3,105.1h0.75v0.75h-0.75zM436.7,102.5h0.75v0.75h-0.75zM446.6,108.7h0.75v0.75h-0.75zM437.2,107.9h0.75v0.75h-0.75zM442.0,101.9h0.75v0.75h-0.75zM434.7,111.5h0.75v0.75h-0.75zM443.3,107.6h0.75v0.75h-0.75zM429.3,97.9h0.75v0.75h-0.75zM446.9,112.7h0.75v0.75h-0.75zM440.5,107.6h0.75v0.75h-0.75zM435.0,108.1h0.75v0.75h-0.75zM445.0,109.4h0.75v0.75h-0.75zM433.6,107.4h0.75v0.75h-0.75zM433.7,105.4h0.75v0.75h-0.75zM430.0,94.3h0.75v0.75h-0.75zM430.3,106.6h0.75v0.75h-0.75zM432.0,108.3h0.75v0.75h-0.75zM433.5,107.2h0.75v0.75h-0.75zM434.2,112.6h0.75v0.75h-0.75zM434.6,105.8h0.75v0.75h-0.75zM444.6,112.9h0.75v0.75h-0.75zM429.6,112.8h0.75v0.75h-0.75zM430.2,101.1h0.75v0.75h-0.75zM431.7,110.6h0.75v0.75h-0.75zM430.3,108.5h0.75v0.75h-0.75zM439.9,104.8h0.75v0.75h-0.75zM440.2,115.7h0.75v0.75h-0.75zM447.7,101.7h0.75v0.75h-0.75zM438.9,103.9h0.75v0.75h-0.75zM436.3,103.2h0.75v0.75h-0.75zM440.8,101.7h0.75v0.75h-0.75zM429.1,106.0h0.75v0.75h-0.75zM439.3,111.6h0.75v0.75h-0.75zM441.6,101.6h0.75v0.75h-0.75zM431.2,107.3h0.75v0.75h-0.75zM438.9,109.3h0.75v0.75h-0.75zM445.8,95.0h0.75v0.75h-0.75zM433.2,108.4h0.75v0.75h-0.75zM430.2,113.8h0.75v0.75h-0.75zM436.7,108.6h0.75v0.75h-0.75zM435.9,107.5h0.75v0.75h-0.75zM439.8,108.4h0.75v0.75h-0.75zM428.3,96.6h0.75v0.75h-0.75zM436.7,109.6h0.75v0.75h-0.75zM435.6,105.0h0.75v0.75h-0.75zM444.2,108.9h0.75v0.75h-0.75zM431.1,106.6h0.75v0.75h-0.75zM435.9,106.1h0.75v0.75h-0.75zM436.8,108.6h0.75v0.75h-0.75zM437.2,107.4h0.75v0.75h-0.75zM437.5,104.8h0.75v0.75h-0.75zM433.6,107.1h0.75v0.75h-0.75zM440.2,113.4h0.75v0.75h-0.75zM453.4,102.6h0.75v0.75h-0.75zM433.0,110.8h0.75v0.75h-0.75zM434.6,106.4h0.75v0.75h-0.75zM429.1,108.7h0.75v0.75h-0.75zM427.8,110.6h0.75v0.75h-0.75zM431.9,106.9h0.75v0.75h-0.75zM443.7,101.8h0.75v0.75h-0.75zM436.5,116.0h0.75v0.75h-0.75zM428.2,106.4h0.75v0.75h-0.75zM424.4,107.5h0.75v0.75h-0.75zM436.2,100.4h0.75v0.75h-0.75zM429.6,111.8h0.75v0.75h-0.75zM441.6,100.0h0.75v0.75h-0.75zM442.6,101.4h0.75v0.75h-0.75zM432.1,107.7h0.75v0.75h-0.75zM436.5,108.3h0.75v0.75h-0.75zM444.3,102.8h0.75v0.75h-0.75zM440.8,107.2h0.75v0.75h-0.75zM426.5,109.6h0.75v0.75h-0.75zM443.8,99.2h0.75v0.75h-0.75zM435.2,110.5h0.75v0.75h-0.75zM443.1,104.1h0.75v0.75h-0.75zM435.8,104.4h0.75v0.75h-0.75zM429.3,106.3h0.75v0.75h-0.75zM450.9,99.0h0.75v0.75h-0.75zM437.1,101.3h0.75v0.75h-0.75zM447.0,97.9h0.75v0.75h-0.75zM443.1,107.9h0.75v0.75h-0.75zM431.7,104.3h0.75v0.75h-0.75zM437.7,114.0h0.75v0.75h-0.75zM439.1,111.5h0.75v0.75h-0.75zM444.2,106.3h0.75v0.75h-0.75zM437.5,105.5h0.75v0.75h-0.75zM447.9,112.1h0.75v0.75h-0.75zM443.6,102.7h0.75v0.75h-0.75zM435.5,109.5h0.75v0.75h-0.75zM436.1,99.3h0.75v0.75h-0.75zM427.6,108.0h0.75v0.75h-0.75zM442.2,108.4h0.75v0.75h-0.75zM447.3,98.3h0.75v0.75h-0.75zM425.7,106.3h0.75v0.75h-0.75zM442.9,101.7h0.75v0.75h-0.75zM438.9,107.4h0.75v0.75h-0.75zM434.2,101.7h0.75v0.75h-0.75zM435.1,105.4h0.75v0.75h-0.75zM442.0,104.3h0.75v0.75h-0.75zM431.0,100.6h0.75v0.75h-0.75zM434.2,108.2h0.75v0.75h-0.75zM431.7,104.0h0.75v0.75h-0.75zM440.6,107.0h0.75v0.75h-0.75zM450.5,108.1h0.75v0.75h-0.75zM441.3,115.9h0.75v0.75h-0.75zM425.0,97.4h0.75v0.75h-0.75zM432.1,106.3h0.75v0.75h-0.75zM444.8,109.0h0.75v0.75h-0.75zM433.7,98.8h0.75v0.75h-0.75zM439.5,104.4h0.75v0.75h-0.75zM430.8,99.7h0.75v0.75h-0.75zM441.6,104.3h0.75v0.75h-0.75zM438.3,105.1h0.75v0.75h-0.75zM432.1,103.3h0.75v0.75h-0.75zM433.0,105.3h0.75v0.75h-0.75zM432.5,108.5h0.75v0.75h-0.75zM430.5,106.7h0.75v0.75h-0.75zM437.8,108.5h0.75v0.75h-0.75zM439.1,103.4h0.75v0.75h-0.75zM434.6,103.6h0.75v0.75h-0.75zM435.4,107.5h0.75v0.75h-0.75zM429.0,103.2h0.75v0.75h-0.75zM421.3,104.8h0.75v0.75h-0.75zM430.8,105.2h0.75v0.75h-0.75zM439.2,111.7h0.75v0.75h-0.75zM436.7,99.9h0.75v0.75h-0.75zM433.2,107.9h0.75v0.75h-0.75zM428.2,101.7h0.75v0.75h-0.75zM435.3,108.1h0.75v0.75h-0.75zM445.4,107.9h0.75v0.75h-0.75zM445.6,101.9h0.75v0.75h-0.75zM431.0,97.2h0.75v0.75h-0.75zM431.1,108.3h0.75v0.75h-0.75zM436.2,114.6h0.75v0.75h-0.75zM434.1,100.2h0.75v0.75h-0.75zM439.6,95.2h0.75v0.75h-0.75zM441.4,106.6h0.75v0.75h-0.75zM426.9,107.1h0.75v0.75h-0.75zM437.4,110.8h0.75v0.75h-0.75zM434.2,102.2h0.75v0.75h-0.75zM435.9,104.1h0.75v0.75h-0.75zM429.1,109.2h0.75v0.75h-0.75zM442.1,101.3h0.75v0.75h-0.75zM432.1,99.5h0.75v0.75h-0.75zM432.7,101.4h0.75v0.75h-0.75zM435.6,107.9h0.75v0.75h-0.75zM445.5,100.2h0.75v0.75h-0.75zM430.7,99.1h0.75v0.75h-0.75zM435.4,108.4h0.75v0.75h-0.75zM429.9,104.5h0.75v0.75h-0.75zM429.2,97.8h0.75v0.75h-0.75zM432.1,108.5h0.75v0.75h-0.75zM433.2,96.1h0.75v0.75h-0.75zM429.0,103.0h0.75v0.75h-0.75zM448.4,98.8h0.75v0.75h-0.75zM443.8,109.0h0.75v0.75h-0.75zM437.2,107.0h0.75v0.75h-0.75zM443.9,104.2h0.75v0.75h-0.75zM430.4,106.9h0.75v0.75h-0.75zM436.7,106.8h0.75v0.75h-0.75zM432.7,104.4h0.75v0.75h-0.75zM442.6,105.2h0.75v0.75h-0.75zM435.3,107.7h0.75v0.75h-0.75zM433.8,103.7h0.75v0.75h-0.75zM447.1,113.2h0.75v0.75h-0.75zM424.3,102.0h0.75v0.75h-0.75zM437.9,108.5h0.75v0.75h-0.75zM428.2,102.1h0.75v0.75h-0.75zM440.3,110.7h0.75v0.75h-0.75zM429.9,103.5h0.75v0.75h-0.75zM434.2,110.4h0.75v0.75h-0.75zM439.3,107.0h0.75v0.75h-0.75zM448.5,108.9h0.75v0.75h-0.75zM437.0,112.8h0.75v0.75h-0.75zM447.1,112.2h0.75v0.75h-0.75zM448.6,107.1h0.75v0.75h-0.75zM423.1,103.5h0.75v0.75h-0.75zM437.8,105.1h0.75v0.75h-0.75zM441.7,106.7h0.75v0.75h-0.75zM449.5,108.2h0.75v0.75h-0.75zM443.0,111.3h0.75v0.75h-0.75zM446.5,103.1h0.75v0.75h-0.75zM446.4,105.4h0.75v0.75h-0.75zM438.7,111.6h0.75v0.75h-0.75zM430.0,108.7h0.75v0.75h-0.75zM432.1,117.2h0.75v0.75h-0.75zM447.1,105.2h0.75v0.75h-0.75zM421.0,105.8h0.75v0.75h-0.75zM438.9,105.1h0.75v0.75h-0.75zM439.3,104.1h0.75v0.75h-0.75zM441.1,107.6h0.75v0.75h-0.75zM431.9,109.6h0.75v0.75h-0.75zM440.5,104.8h0.75v0.75h-0.75zM432.3,101.1h0.75v0.75h-0.75zM442.2,103.4h0.75v0.75h-0.75zM441.9,101.8h0.75v0.75h-0.75zM430.1,95.8h0.75v0.75h-0.75zM433.1,102.1h0.75v0.75h-0.75zM443.9,107.3h0.75v0.75h-0.75zM432.4,103.8h0.75v0.75h-0.75zM436.0,105.2h0.75v0.75h-0.75zM436.9,111.1h0.75v0.75h-0.75zM426.9,106.4h0.75v0.75h-0.75zM437.6,109.5h0.75v0.75h-0.75zM436.4,101.7h0.75v0.75h-0.75zM442.3,111.0h0.75v0.75h-0.75zM431.9,110.8h0.75v0.75h-0.75zM438.6,101.2h0.75v0.75h-0.75zM440.1,104.6h0.75v0.75h-0.75zM439.0,111.1h0.75v0.75h-0.75zM443.3,110.2h0.75v0.75h-0.75zM432.7,104.7h0.75v0.75h-0.75zM436.9,103.6h0.75v0.75h-0.75zM431.8,105.9h0.75v0.75h-0.75zM440.4,104.6h0.75v0.75h-0.75zM429.5,110.8h0.75v0.75h-0.75zM433.0,114.1h0.75v0.75h-0.75zM439.0,106.8h0.75v0.75h-0.75zM445.3,106.1h0.75v0.75h-0.75zM429.0,106.4h0.75v0.75h-0.75zM423.9,107.3h0.75v0.75h-0.75zM437.8,108.2h0.75v0.75h-0.75zM437.1,114.7h0.75v0.75h-0.75zM438.2,103.4h0.75v0.75h-0.75zM442.1,104.8h0.75v0.75h-0.75zM435.0,105.3h0.75v0.75h-0.75zM433.0,105.4h0.75v0.75h-0.75zM435.4,103.1h0.75v0.75h-0.75zM431.7,103.9h0.75v0.75h-0.75zM421.2,106.9h0.75v0.75h-0.75zM436.1,102.2h0.75v0.75h-0.75zM436.8,114.4h0.75v0.75h-0.75zM437.6,103.0h0.75v0.75h-0.75zM439.0,101.8h0.75v0.75h-0.75zM424.5,101.5h0.75v0.75h-0.75zM440.5,104.1h0.75v0.75h-0.75zM440.2,108.6h0.75v0.75h-0.75zM423.7,97.9h0.75v0.75h-0.75zM430.7,98.9h0.75v0.75h-0.75zM440.2,100.7h0.75v0.75h-0.75zM428.7,111.6h0.75v0.75h-0.75zM427.2,98.7h0.75v0.75h-0.75zM444.3,105.5h0.75v0.75h-0.75zM435.1,107.7h0.75v0.75h-0.75zM432.1,103.5h0.75v0.75h-0.75zM433.9,110.8h0.75v0.75h-0.75zM435.7,98.4h0.75v0.75h-0.75zM427.9,107.3h0.75v0.75h-0.75zM427.0,98.0h0.75v0.75h-0.75zM431.9,97.1h0.75v0.75h-0.75zM437.7,115.0h0.75v0.75h-0.75zM448.9,105.9h0.75v0.75h-0.75zM445.9,106.2h0.75v0.75h-0.75zM436.4,108.4h0.75v0.75h-0.75zM436.8,103.0h0.75v0.75h-0.75zM435.9,103.8h0.75v0.75h-0.75zM438.7,110.3h0.75v0.75h-0.75zM428.4,102.6h0.75v0.75h-0.75zM428.7,113.0h0.75v0.75h-0.75zM441.2,106.2h0.75v0.75h-0.75zM430.0,109.7h0.75v0.75h-0.75zM429.3,97.3h0.75v0.75h-0.75zM431.5,111.2h0.75v0.75h-0.75zM435.6,103.0h0.75v0.75h-0.75zM432.3,109.4h0.75v0.75h-0.75zM430.5,102.1h0.75v0.75h-0.75zM439.8,108.1h0.75v0.75h-0.75zM435.7,107.4h0.75v0.75h-0.75zM438.8,95.5h0.75v0.75h-0.75zM436.5,102.2h0.75v0.75h-0.75zM435.6,105.0h0.75v0.75h-0.75zM438.2,109.2h0.75v0.75h-0.75zM430.0,101.9h0.75v0.75h-0.75zM433.3,104.9h0.75v0.75h-0.75zM426.2,105.5h0.75v0.75h-0.75zM441.4,102.3h0.75v0.75h-0.75zM424.5,108.7h0.75v0.75h-0.75zM445.5,107.4h0.75v0.75h-0.75zM446.4,110.8h0.75v0.75h-0.75zM435.9,103.9h0.75v0.75h-0.75zM451.9,108.7h0.75v0.75h-0.75zM434.0,111.5h0.75v0.75h-0.75zM431.4,103.3h0.75v0.75h-0.75zM445.5,110.1h0.75v0.75h-0.75zM433.5,110.0h0.75v0.75h-0.75zM441.8,94.9h0.75v0.75h-0.75zM435.7,109.8h0.75v0.75h-0.75zM438.1,100.4h0.75v0.75h-0.75zM441.9,102.7h0.75v0.75h-0.75zM442.0,106.9h0.75v0.75h-0.75zM443.9,101.8h0.75v0.75h-0.75zM448.9,104.2h0.75v0.75h-0.75zM435.3,102.9h0.75v0.75h-0.75zM435.9,106.1h0.75v0.75h-0.75zM434.7,108.5h0.75v0.75h-0.75z" fill="#55993f" opacity="1"/>
<path d="M419.0,104.0h0.75v0.75h-0.75zM445.0,104.3h0.75v0.75h-0.75zM438.6,95.5h0.75v0.75h-0.75zM434.4,102.9h0.75v0.75h-0.75zM446.7,106.7h0.75v0.75h-0.75zM436.8,100.6h0.75v0.75h-0.75zM428.3,105.5h0.75v0.75h-0.75zM450.7,92.7h0.75v0.75h-0.75zM453.9,110.1h0.75v0.75h-0.75zM441.1,103.0h0.75v0.75h-0.75zM433.5,97.6h0.75v0.75h-0.75zM443.6,104.4h0.75v0.75h-0.75zM417.0,102.3h0.75v0.75h-0.75zM431.5,101.3h0.75v0.75h-0.75zM457.6,113.2h0.75v0.75h-0.75zM448.5,114.8h0.75v0.75h-0.75zM445.7,92.1h0.75v0.75h-0.75zM446.6,106.3h0.75v0.75h-0.75zM452.8,109.1h0.75v0.75h-0.75zM421.5,118.6h0.75v0.75h-0.75zM424.8,113.5h0.75v0.75h-0.75zM442.0,102.1h0.75v0.75h-0.75zM413.5,99.9h0.75v0.75h-0.75zM427.7,104.6h0.75v0.75h-0.75zM435.1,117.0h0.75v0.75h-0.75zM441.8,113.9h0.75v0.75h-0.75zM425.1,102.8h0.75v0.75h-0.75zM447.1,112.5h0.75v0.75h-0.75zM444.6,102.7h0.75v0.75h-0.75zM426.2,118.0h0.75v0.75h-0.75zM430.0,103.1h0.75v0.75h-0.75zM453.7,106.3h0.75v0.75h-0.75zM430.5,111.6h0.75v0.75h-0.75zM435.0,114.7h0.75v0.75h-0.75zM435.9,100.1h0.75v0.75h-0.75zM463.2,114.3h0.75v0.75h-0.75zM438.7,104.9h0.75v0.75h-0.75zM423.0,101.7h0.75v0.75h-0.75zM423.7,111.6h0.75v0.75h-0.75zM449.9,103.4h0.75v0.75h-0.75zM431.9,108.3h0.75v0.75h-0.75zM436.9,109.3h0.75v0.75h-0.75zM442.3,108.5h0.75v0.75h-0.75zM443.8,98.8h0.75v0.75h-0.75zM444.6,91.8h0.75v0.75h-0.75zM438.2,103.7h0.75v0.75h-0.75zM440.9,104.3h0.75v0.75h-0.75zM439.5,93.3h0.75v0.75h-0.75zM431.4,100.1h0.75v0.75h-0.75zM440.8,106.8h0.75v0.75h-0.75zM432.1,101.9h0.75v0.75h-0.75zM429.3,104.6h0.75v0.75h-0.75zM441.3,110.3h0.75v0.75h-0.75zM435.2,98.2h0.75v0.75h-0.75zM428.0,110.3h0.75v0.75h-0.75zM425.6,103.0h0.75v0.75h-0.75zM412.4,111.4h0.75v0.75h-0.75zM437.1,100.9h0.75v0.75h-0.75zM434.3,109.4h0.75v0.75h-0.75zM435.4,106.8h0.75v0.75h-0.75zM436.6,97.2h0.75v0.75h-0.75zM418.3,112.0h0.75v0.75h-0.75zM430.8,113.1h0.75v0.75h-0.75zM448.5,102.1h0.75v0.75h-0.75zM429.7,101.5h0.75v0.75h-0.75zM453.8,105.5h0.75v0.75h-0.75zM433.9,111.4h0.75v0.75h-0.75zM426.9,101.3h0.75v0.75h-0.75zM430.5,105.0h0.75v0.75h-0.75zM423.1,101.0h0.75v0.75h-0.75z" fill="#55993f" opacity="1"/>
<path d="M490.9,113.9h0.75v0.75h-0.75zM474.1,100.8h0.75v0.75h-0.75zM482.3,112.9h0.75v0.75h-0.75zM482.0,102.9h0.75v0.75h-0.75zM479.8,116.0h0.75v0.75h-0.75zM474.0,114.2h0.75v0.75h-0.75zM486.4,111.7h0.75v0.75h-0.75zM488.0,107.0h0.75v0.75h-0.75zM482.2,117.6h0.75v0.75h-0.75zM480.5,107.6h0.75v0.75h-0.75zM473.9,107.4h0.75v0.75h-0.75zM487.8,115.1h0.75v0.75h-0.75zM487.2,112.3h0.75v0.75h-0.75zM486.8,111.0h0.75v0.75h-0.75zM489.5,108.9h0.75v0.75h-0.75zM490.0,109.2h0.75v0.75h-0.75zM472.7,103.8h0.75v0.75h-0.75zM481.8,107.5h0.75v0.75h-0.75zM475.2,106.1h0.75v0.75h-0.75zM484.2,111.3h0.75v0.75h-0.75zM488.5,105.7h0.75v0.75h-0.75zM485.5,114.1h0.75v0.75h-0.75zM485.3,117.4h0.75v0.75h-0.75zM480.0,109.5h0.75v0.75h-0.75zM484.2,107.7h0.75v0.75h-0.75zM482.7,110.6h0.75v0.75h-0.75zM482.8,107.3h0.75v0.75h-0.75zM480.2,109.2h0.75v0.75h-0.75zM473.2,110.3h0.75v0.75h-0.75zM476.0,108.4h0.75v0.75h-0.75zM476.1,110.0h0.75v0.75h-0.75zM480.6,108.4h0.75v0.75h-0.75zM478.3,110.0h0.75v0.75h-0.75zM493.2,101.5h0.75v0.75h-0.75zM486.3,110.5h0.75v0.75h-0.75zM480.6,103.9h0.75v0.75h-0.75zM493.1,110.3h0.75v0.75h-0.75zM489.4,107.9h0.75v0.75h-0.75zM478.1,114.3h0.75v0.75h-0.75zM487.7,108.2h0.75v0.75h-0.75zM481.6,112.3h0.75v0.75h-0.75zM477.9,105.8h0.75v0.75h-0.75zM482.8,114.0h0.75v0.75h-0.75zM488.5,110.3h0.75v0.75h-0.75zM491.6,108.9h0.75v0.75h-0.75zM479.9,119.8h0.75v0.75h-0.75zM479.9,112.2h0.75v0.75h-0.75zM486.6,110.1h0.75v0.75h-0.75zM484.5,112.6h0.75v0.75h-0.75zM486.6,107.0h0.75v0.75h-0.75zM483.1,115.6h0.75v0.75h-0.75zM487.7,107.6h0.75v0.75h-0.75zM483.5,105.2h0.75v0.75h-0.75zM474.9,107.2h0.75v0.75h-0.75zM493.2,106.8h0.75v0.75h-0.75zM470.5,109.1h0.75v0.75h-0.75zM478.7,112.8h0.75v0.75h-0.75zM490.9,108.1h0.75v0.75h-0.75zM483.8,105.6h0.75v0.75h-0.75zM490.7,106.4h0.75v0.75h-0.75zM483.3,120.0h0.75v0.75h-0.75zM477.2,110.3h0.75v0.75h-0.75zM482.8,111.6h0.75v0.75h-0.75zM486.0,116.1h0.75v0.75h-0.75zM486.2,112.2h0.75v0.75h-0.75zM475.3,111.3h0.75v0.75h-0.75zM474.7,114.9h0.75v0.75h-0.75zM482.7,113.8h0.75v0.75h-0.75zM480.0,110.6h0.75v0.75h-0.75zM483.6,112.0h0.75v0.75h-0.75zM482.4,107.0h0.75v0.75h-0.75zM480.7,106.7h0.75v0.75h-0.75zM477.3,104.3h0.75v0.75h-0.75zM473.8,117.8h0.75v0.75h-0.75zM478.4,104.7h0.75v0.75h-0.75zM489.4,110.8h0.75v0.75h-0.75zM482.3,114.5h0.75v0.75h-0.75zM494.9,105.8h0.75v0.75h-0.75zM492.1,112.1h0.75v0.75h-0.75zM490.4,107.2h0.75v0.75h-0.75zM493.7,114.7h0.75v0.75h-0.75zM491.6,103.5h0.75v0.75h-0.75zM485.2,108.8h0.75v0.75h-0.75zM484.5,105.8h0.75v0.75h-0.75zM487.2,112.8h0.75v0.75h-0.75zM482.5,109.3h0.75v0.75h-0.75zM472.2,112.0h0.75v0.75h-0.75zM475.0,109.7h0.75v0.75h-0.75zM483.1,116.3h0.75v0.75h-0.75zM482.9,109.4h0.75v0.75h-0.75zM487.8,109.4h0.75v0.75h-0.75zM497.9,108.8h0.75v0.75h-0.75zM493.4,104.3h0.75v0.75h-0.75zM477.3,112.4h0.75v0.75h-0.75zM474.4,118.2h0.75v0.75h-0.75zM486.5,109.9h0.75v0.75h-0.75zM494.3,107.3h0.75v0.75h-0.75zM470.8,108.2h0.75v0.75h-0.75zM469.9,112.9h0.75v0.75h-0.75zM489.3,111.5h0.75v0.75h-0.75zM472.8,105.8h0.75v0.75h-0.75zM474.3,112.7h0.75v0.75h-0.75zM489.6,108.6h0.75v0.75h-0.75zM483.5,110.6h0.75v0.75h-0.75zM487.8,105.6h0.75v0.75h-0.75zM477.0,113.0h0.75v0.75h-0.75zM486.3,111.7h0.75v0.75h-0.75zM483.4,112.9h0.75v0.75h-0.75zM486.1,106.9h0.75v0.75h-0.75zM494.0,114.4h0.75v0.75h-0.75zM481.6,109.1h0.75v0.75h-0.75zM478.5,103.4h0.75v0.75h-0.75zM476.4,103.2h0.75v0.75h-0.75zM478.9,111.0h0.75v0.75h-0.75zM482.7,103.2h0.75v0.75h-0.75zM481.8,106.8h0.75v0.75h-0.75zM476.1,114.4h0.75v0.75h-0.75zM476.4,113.6h0.75v0.75h-0.75zM472.3,110.8h0.75v0.75h-0.75zM478.6,113.8h0.75v0.75h-0.75zM485.7,106.1h0.75v0.75h-0.75zM487.2,115.2h0.75v0.75h-0.75zM491.6,116.1h0.75v0.75h-0.75zM480.8,119.1h0.75v0.75h-0.75zM479.3,109.0h0.75v0.75h-0.75zM473.2,108.6h0.75v0.75h-0.75zM473.8,110.1h0.75v0.75h-0.75zM471.8,117.8h0.75v0.75h-0.75zM488.3,116.7h0.75v0.75h-0.75zM490.6,110.3h0.75v0.75h-0.75zM486.2,110.5h0.75v0.75h-0.75zM471.0,104.4h0.75v0.75h-0.75zM480.6,113.8h0.75v0.75h-0.75zM474.2,110.4h0.75v0.75h-0.75zM479.4,112.9h0.75v0.75h-0.75zM488.0,104.9h0.75v0.75h-0.75zM475.8,116.1h0.75v0.75h-0.75zM489.9,109.5h0.75v0.75h-0.75zM488.5,109.9h0.75v0.75h-0.75zM486.2,107.8h0.75v0.75h-0.75z" fill="#35357f" opacity="1"/>
<rect x="407" y="33.6" width="40" height="12.8" fill="#a9a7b5" />
<text x="427" y="42.7" font-size="6.8" text-anchor="middle" fill="#2a2a2a" font-weight="normal" stroke="#2a2a2a" stroke-width="0.18" textLength="26.5" lengthAdjust="spacingAndGlyphs" >B-lineage</text>
<rect x="468.5" y="33.6" width="44.3" height="12.8" fill="#d5a094" />
<text x="490.8" y="42.7" font-size="6.8" text-anchor="middle" fill="#2a2a2a" font-weight="normal" stroke="#2a2a2a" stroke-width="0.18" textLength="26" lengthAdjust="spacingAndGlyphs" >Leukemic</text>
<rect x="477.9" y="78" width="25.6" height="13.5" fill="#a7a9cc" />
<text x="490.7" y="87.3" font-size="6.8" text-anchor="middle" fill="#2a2a2a" font-weight="normal" stroke="#2a2a2a" stroke-width="0.18" textLength="16" lengthAdjust="spacingAndGlyphs" >T cell</text>
<rect x="415.5" y="119.2" width="42.9" height="13.6" fill="#b8c8a3" />
<text x="437" y="128.6" font-size="6.8" text-anchor="middle" fill="#2a2a2a" font-weight="normal" stroke="#2a2a2a" stroke-width="0.18" textLength="28" lengthAdjust="spacingAndGlyphs" >M-lineage</text>
<text transform="translate(405,106) rotate(-90)" font-size="8" text-anchor="middle" fill="#231f20">B220</text>
<line x1="403.2" y1="122" x2="403.2" y2="137.6" stroke="#231f20" stroke-width="0.8" />
<line x1="403.2" y1="137.6" x2="423.5" y2="137.6" stroke="#231f20" stroke-width="0.8" />
<path d="M403.2,119.5 L401,124 L405.4,124 Z" fill="#231f20"/>
<path d="M426.5,137.6 L422,135.4 L422,139.8 Z" fill="#231f20"/>
<text x="429" y="140.5" font-size="8.2" text-anchor="start" fill="#231f20" font-weight="normal" stroke="#231f20" stroke-width="0.18" textLength="16" lengthAdjust="spacingAndGlyphs" >CD5</text>
<rect x="413.6" y="148.8" width="97.6" height="97.6" fill="none" stroke="#231f20" stroke-width="1"/>
<line x1="411.5" y1="178.7" x2="414" y2="178.7" stroke="#231f20" stroke-width="0.7" />
<line x1="411.5" y1="203.6" x2="414" y2="203.6" stroke="#231f20" stroke-width="0.7" />
<line x1="411.5" y1="225.8" x2="414" y2="225.8" stroke="#231f20" stroke-width="0.7" />
<line x1="412.8" y1="151" x2="414" y2="151" stroke="#231f20" stroke-width="0.4" />
<line x1="412.8" y1="155" x2="414" y2="155" stroke="#231f20" stroke-width="0.4" />
<line x1="412.8" y1="159" x2="414" y2="159" stroke="#231f20" stroke-width="0.4" />
<line x1="412.8" y1="163" x2="414" y2="163" stroke="#231f20" stroke-width="0.4" />
<line x1="412.8" y1="167" x2="414" y2="167" stroke="#231f20" stroke-width="0.4" />
<line x1="412.8" y1="171" x2="414" y2="171" stroke="#231f20" stroke-width="0.4" />
<line x1="412.8" y1="175" x2="414" y2="175" stroke="#231f20" stroke-width="0.4" />
<line x1="412.8" y1="179" x2="414" y2="179" stroke="#231f20" stroke-width="0.4" />
<line x1="412.8" y1="183" x2="414" y2="183" stroke="#231f20" stroke-width="0.4" />
<line x1="412.8" y1="187" x2="414" y2="187" stroke="#231f20" stroke-width="0.4" />
<line x1="412.8" y1="191" x2="414" y2="191" stroke="#231f20" stroke-width="0.4" />
<line x1="412.8" y1="195" x2="414" y2="195" stroke="#231f20" stroke-width="0.4" />
<line x1="412.8" y1="199" x2="414" y2="199" stroke="#231f20" stroke-width="0.4" />
<line x1="412.8" y1="203" x2="414" y2="203" stroke="#231f20" stroke-width="0.4" />
<line x1="412.8" y1="207" x2="414" y2="207" stroke="#231f20" stroke-width="0.4" />
<line x1="412.8" y1="211" x2="414" y2="211" stroke="#231f20" stroke-width="0.4" />
<line x1="412.8" y1="215" x2="414" y2="215" stroke="#231f20" stroke-width="0.4" />
<line x1="412.8" y1="219" x2="414" y2="219" stroke="#231f20" stroke-width="0.4" />
<line x1="412.8" y1="223" x2="414" y2="223" stroke="#231f20" stroke-width="0.4" />
<line x1="412.8" y1="227" x2="414" y2="227" stroke="#231f20" stroke-width="0.4" />
<line x1="412.8" y1="231" x2="414" y2="231" stroke="#231f20" stroke-width="0.4" />
<line x1="412.8" y1="235" x2="414" y2="235" stroke="#231f20" stroke-width="0.4" />
<line x1="412.8" y1="239" x2="414" y2="239" stroke="#231f20" stroke-width="0.4" />
<line x1="412.8" y1="243" x2="414" y2="243" stroke="#231f20" stroke-width="0.4" />
<line x1="420.6" y1="246.6" x2="420.6" y2="248.8" stroke="#231f20" stroke-width="0.6" />
<line x1="441.7" y1="246.6" x2="441.7" y2="248.8" stroke="#231f20" stroke-width="0.6" />
<line x1="456" y1="246.6" x2="456" y2="248.8" stroke="#231f20" stroke-width="0.6" />
<line x1="484" y1="246.6" x2="484" y2="248.8" stroke="#231f20" stroke-width="0.6" />
<line x1="504" y1="246.6" x2="504" y2="248.8" stroke="#231f20" stroke-width="0.6" />
<line x1="416" y1="246.6" x2="416" y2="247.8" stroke="#231f20" stroke-width="0.4" />
<line x1="419" y1="246.6" x2="419" y2="247.8" stroke="#231f20" stroke-width="0.4" />
<line x1="422" y1="246.6" x2="422" y2="247.8" stroke="#231f20" stroke-width="0.4" />
<line x1="425" y1="246.6" x2="425" y2="247.8" stroke="#231f20" stroke-width="0.4" />
<line x1="428" y1="246.6" x2="428" y2="247.8" stroke="#231f20" stroke-width="0.4" />
<line x1="431" y1="246.6" x2="431" y2="247.8" stroke="#231f20" stroke-width="0.4" />
<line x1="434" y1="246.6" x2="434" y2="247.8" stroke="#231f20" stroke-width="0.4" />
<line x1="437" y1="246.6" x2="437" y2="247.8" stroke="#231f20" stroke-width="0.4" />
<line x1="440" y1="246.6" x2="440" y2="247.8" stroke="#231f20" stroke-width="0.4" />
<line x1="443" y1="246.6" x2="443" y2="247.8" stroke="#231f20" stroke-width="0.4" />
<line x1="446" y1="246.6" x2="446" y2="247.8" stroke="#231f20" stroke-width="0.4" />
<line x1="449" y1="246.6" x2="449" y2="247.8" stroke="#231f20" stroke-width="0.4" />
<line x1="452" y1="246.6" x2="452" y2="247.8" stroke="#231f20" stroke-width="0.4" />
<line x1="455" y1="246.6" x2="455" y2="247.8" stroke="#231f20" stroke-width="0.4" />
<line x1="458" y1="246.6" x2="458" y2="247.8" stroke="#231f20" stroke-width="0.4" />
<line x1="461" y1="246.6" x2="461" y2="247.8" stroke="#231f20" stroke-width="0.4" />
<line x1="464" y1="246.6" x2="464" y2="247.8" stroke="#231f20" stroke-width="0.4" />
<line x1="467" y1="246.6" x2="467" y2="247.8" stroke="#231f20" stroke-width="0.4" />
<line x1="470" y1="246.6" x2="470" y2="247.8" stroke="#231f20" stroke-width="0.4" />
<line x1="473" y1="246.6" x2="473" y2="247.8" stroke="#231f20" stroke-width="0.4" />
<line x1="476" y1="246.6" x2="476" y2="247.8" stroke="#231f20" stroke-width="0.4" />
<line x1="479" y1="246.6" x2="479" y2="247.8" stroke="#231f20" stroke-width="0.4" />
<line x1="482" y1="246.6" x2="482" y2="247.8" stroke="#231f20" stroke-width="0.4" />
<line x1="485" y1="246.6" x2="485" y2="247.8" stroke="#231f20" stroke-width="0.4" />
<line x1="488" y1="246.6" x2="488" y2="247.8" stroke="#231f20" stroke-width="0.4" />
<line x1="491" y1="246.6" x2="491" y2="247.8" stroke="#231f20" stroke-width="0.4" />
<line x1="494" y1="246.6" x2="494" y2="247.8" stroke="#231f20" stroke-width="0.4" />
<line x1="497" y1="246.6" x2="497" y2="247.8" stroke="#231f20" stroke-width="0.4" />
<line x1="500" y1="246.6" x2="500" y2="247.8" stroke="#231f20" stroke-width="0.4" />
<line x1="503" y1="246.6" x2="503" y2="247.8" stroke="#231f20" stroke-width="0.4" />
<line x1="506" y1="246.6" x2="506" y2="247.8" stroke="#231f20" stroke-width="0.4" />
<line x1="509" y1="246.6" x2="509" y2="247.8" stroke="#231f20" stroke-width="0.4" />
<path d="M462.3,216.7h0.75v0.75h-0.75zM457.2,193.9h0.75v0.75h-0.75zM459.5,220.4h0.75v0.75h-0.75zM464.0,192.3h0.75v0.75h-0.75zM456.0,202.2h0.75v0.75h-0.75zM465.2,204.0h0.75v0.75h-0.75zM458.5,200.8h0.75v0.75h-0.75zM462.1,196.2h0.75v0.75h-0.75zM459.7,205.9h0.75v0.75h-0.75zM468.9,204.1h0.75v0.75h-0.75zM466.8,194.1h0.75v0.75h-0.75zM464.5,205.6h0.75v0.75h-0.75zM457.3,202.7h0.75v0.75h-0.75zM465.4,200.9h0.75v0.75h-0.75zM463.4,218.9h0.75v0.75h-0.75zM466.4,220.4h0.75v0.75h-0.75zM452.9,205.6h0.75v0.75h-0.75zM455.1,212.0h0.75v0.75h-0.75zM460.2,205.6h0.75v0.75h-0.75zM463.5,198.0h0.75v0.75h-0.75zM461.7,196.5h0.75v0.75h-0.75zM471.9,200.6h0.75v0.75h-0.75zM462.8,186.3h0.75v0.75h-0.75zM453.5,194.1h0.75v0.75h-0.75zM463.3,211.5h0.75v0.75h-0.75zM462.6,197.4h0.75v0.75h-0.75zM471.5,194.9h0.75v0.75h-0.75zM454.9,207.4h0.75v0.75h-0.75zM454.4,205.2h0.75v0.75h-0.75zM465.4,203.5h0.75v0.75h-0.75zM462.3,204.1h0.75v0.75h-0.75zM453.6,202.3h0.75v0.75h-0.75zM452.2,196.6h0.75v0.75h-0.75zM459.3,216.5h0.75v0.75h-0.75zM453.6,197.1h0.75v0.75h-0.75zM460.6,208.7h0.75v0.75h-0.75zM450.0,220.4h0.75v0.75h-0.75zM454.2,213.3h0.75v0.75h-0.75zM458.5,207.2h0.75v0.75h-0.75zM468.0,211.6h0.75v0.75h-0.75zM462.3,193.7h0.75v0.75h-0.75zM458.7,188.9h0.75v0.75h-0.75zM473.3,189.9h0.75v0.75h-0.75zM467.5,200.9h0.75v0.75h-0.75zM465.9,196.0h0.75v0.75h-0.75zM456.3,207.8h0.75v0.75h-0.75zM462.9,199.2h0.75v0.75h-0.75zM467.8,211.9h0.75v0.75h-0.75zM462.6,191.9h0.75v0.75h-0.75zM461.3,200.4h0.75v0.75h-0.75zM458.5,211.1h0.75v0.75h-0.75zM456.6,205.5h0.75v0.75h-0.75zM463.9,207.5h0.75v0.75h-0.75zM461.5,191.7h0.75v0.75h-0.75zM456.0,227.9h0.75v0.75h-0.75zM451.7,199.1h0.75v0.75h-0.75zM463.5,204.8h0.75v0.75h-0.75zM467.4,188.8h0.75v0.75h-0.75zM466.8,194.7h0.75v0.75h-0.75zM452.7,207.9h0.75v0.75h-0.75zM463.8,196.5h0.75v0.75h-0.75zM456.0,200.7h0.75v0.75h-0.75zM460.3,201.6h0.75v0.75h-0.75zM458.1,179.7h0.75v0.75h-0.75zM466.9,206.0h0.75v0.75h-0.75zM455.7,186.8h0.75v0.75h-0.75zM457.0,198.6h0.75v0.75h-0.75zM446.5,215.2h0.75v0.75h-0.75zM462.9,200.4h0.75v0.75h-0.75zM461.6,205.8h0.75v0.75h-0.75zM465.6,205.6h0.75v0.75h-0.75zM464.6,219.4h0.75v0.75h-0.75zM459.1,198.5h0.75v0.75h-0.75zM455.6,200.2h0.75v0.75h-0.75zM456.1,202.7h0.75v0.75h-0.75zM460.9,208.7h0.75v0.75h-0.75zM452.2,212.9h0.75v0.75h-0.75zM458.6,201.8h0.75v0.75h-0.75zM460.3,183.1h0.75v0.75h-0.75zM464.1,185.9h0.75v0.75h-0.75zM466.0,204.5h0.75v0.75h-0.75zM467.5,210.8h0.75v0.75h-0.75zM461.8,217.5h0.75v0.75h-0.75zM457.5,218.2h0.75v0.75h-0.75zM459.0,205.6h0.75v0.75h-0.75zM455.6,207.9h0.75v0.75h-0.75zM464.4,198.7h0.75v0.75h-0.75zM453.2,201.7h0.75v0.75h-0.75zM462.6,201.9h0.75v0.75h-0.75zM455.8,195.2h0.75v0.75h-0.75zM454.7,216.8h0.75v0.75h-0.75zM453.4,199.9h0.75v0.75h-0.75zM468.1,211.5h0.75v0.75h-0.75zM465.2,202.4h0.75v0.75h-0.75zM461.3,205.7h0.75v0.75h-0.75zM467.7,212.4h0.75v0.75h-0.75zM462.0,192.3h0.75v0.75h-0.75zM459.4,201.5h0.75v0.75h-0.75zM457.7,194.0h0.75v0.75h-0.75zM454.8,201.1h0.75v0.75h-0.75zM456.2,206.6h0.75v0.75h-0.75zM465.0,207.0h0.75v0.75h-0.75zM457.8,218.5h0.75v0.75h-0.75zM465.8,189.1h0.75v0.75h-0.75zM455.9,204.4h0.75v0.75h-0.75zM454.1,209.8h0.75v0.75h-0.75zM453.4,182.9h0.75v0.75h-0.75zM464.5,209.6h0.75v0.75h-0.75zM451.2,202.5h0.75v0.75h-0.75zM469.0,193.2h0.75v0.75h-0.75zM455.4,190.1h0.75v0.75h-0.75zM457.3,185.2h0.75v0.75h-0.75zM459.6,188.4h0.75v0.75h-0.75zM457.0,225.1h0.75v0.75h-0.75zM453.0,211.1h0.75v0.75h-0.75zM469.8,181.3h0.75v0.75h-0.75zM460.6,203.0h0.75v0.75h-0.75zM457.0,210.6h0.75v0.75h-0.75zM457.1,206.1h0.75v0.75h-0.75zM458.1,201.4h0.75v0.75h-0.75zM452.4,224.8h0.75v0.75h-0.75zM461.4,192.0h0.75v0.75h-0.75zM468.2,220.1h0.75v0.75h-0.75zM459.9,196.4h0.75v0.75h-0.75zM454.2,214.6h0.75v0.75h-0.75zM459.3,195.7h0.75v0.75h-0.75zM465.0,201.1h0.75v0.75h-0.75zM456.8,222.1h0.75v0.75h-0.75zM462.8,216.0h0.75v0.75h-0.75zM460.4,216.0h0.75v0.75h-0.75zM457.7,212.4h0.75v0.75h-0.75zM466.3,199.8h0.75v0.75h-0.75zM452.2,207.2h0.75v0.75h-0.75zM458.4,208.9h0.75v0.75h-0.75zM456.0,207.7h0.75v0.75h-0.75zM461.7,227.1h0.75v0.75h-0.75zM469.1,208.3h0.75v0.75h-0.75zM468.7,198.0h0.75v0.75h-0.75zM466.2,205.4h0.75v0.75h-0.75zM466.7,207.4h0.75v0.75h-0.75zM459.8,195.8h0.75v0.75h-0.75zM466.7,204.6h0.75v0.75h-0.75zM463.2,208.3h0.75v0.75h-0.75zM448.0,207.3h0.75v0.75h-0.75zM457.4,206.6h0.75v0.75h-0.75zM465.3,185.6h0.75v0.75h-0.75zM458.4,202.2h0.75v0.75h-0.75zM460.7,212.6h0.75v0.75h-0.75zM456.7,200.2h0.75v0.75h-0.75zM466.1,185.5h0.75v0.75h-0.75zM471.5,195.2h0.75v0.75h-0.75zM466.9,205.5h0.75v0.75h-0.75zM468.7,214.8h0.75v0.75h-0.75zM462.3,186.3h0.75v0.75h-0.75zM460.2,206.3h0.75v0.75h-0.75zM464.8,191.1h0.75v0.75h-0.75zM456.7,194.7h0.75v0.75h-0.75zM462.8,194.7h0.75v0.75h-0.75zM458.0,212.1h0.75v0.75h-0.75zM455.7,215.9h0.75v0.75h-0.75zM462.0,200.8h0.75v0.75h-0.75zM465.2,208.8h0.75v0.75h-0.75zM459.3,197.0h0.75v0.75h-0.75zM459.2,206.4h0.75v0.75h-0.75zM465.8,206.6h0.75v0.75h-0.75zM458.6,189.4h0.75v0.75h-0.75zM460.8,207.1h0.75v0.75h-0.75zM466.9,198.8h0.75v0.75h-0.75zM451.8,210.2h0.75v0.75h-0.75zM460.9,190.9h0.75v0.75h-0.75zM467.7,213.1h0.75v0.75h-0.75zM459.9,205.8h0.75v0.75h-0.75zM454.5,212.2h0.75v0.75h-0.75zM458.3,198.2h0.75v0.75h-0.75zM460.1,191.6h0.75v0.75h-0.75zM463.1,220.3h0.75v0.75h-0.75zM467.2,183.5h0.75v0.75h-0.75zM459.3,196.5h0.75v0.75h-0.75zM465.2,182.3h0.75v0.75h-0.75zM449.0,196.8h0.75v0.75h-0.75zM465.6,202.0h0.75v0.75h-0.75zM473.2,196.5h0.75v0.75h-0.75zM460.4,201.6h0.75v0.75h-0.75zM453.9,213.3h0.75v0.75h-0.75zM454.4,191.6h0.75v0.75h-0.75zM458.8,198.0h0.75v0.75h-0.75zM466.9,198.8h0.75v0.75h-0.75zM463.4,198.9h0.75v0.75h-0.75zM466.9,203.9h0.75v0.75h-0.75zM463.8,187.2h0.75v0.75h-0.75zM464.8,197.3h0.75v0.75h-0.75zM464.1,208.7h0.75v0.75h-0.75zM461.3,214.5h0.75v0.75h-0.75zM463.3,194.7h0.75v0.75h-0.75zM460.6,204.8h0.75v0.75h-0.75zM452.7,208.1h0.75v0.75h-0.75zM467.6,206.6h0.75v0.75h-0.75zM459.9,207.7h0.75v0.75h-0.75zM466.7,198.6h0.75v0.75h-0.75zM466.3,196.5h0.75v0.75h-0.75zM462.1,208.5h0.75v0.75h-0.75zM452.1,208.4h0.75v0.75h-0.75zM463.7,186.8h0.75v0.75h-0.75zM458.5,196.5h0.75v0.75h-0.75zM454.6,206.4h0.75v0.75h-0.75zM455.7,202.9h0.75v0.75h-0.75zM454.5,199.5h0.75v0.75h-0.75zM469.3,208.6h0.75v0.75h-0.75zM453.0,192.5h0.75v0.75h-0.75zM461.7,186.9h0.75v0.75h-0.75zM465.3,203.4h0.75v0.75h-0.75zM459.6,203.5h0.75v0.75h-0.75zM458.0,191.2h0.75v0.75h-0.75zM460.3,209.9h0.75v0.75h-0.75zM461.7,184.9h0.75v0.75h-0.75zM458.1,203.1h0.75v0.75h-0.75zM451.0,215.4h0.75v0.75h-0.75zM453.9,202.1h0.75v0.75h-0.75zM452.8,211.0h0.75v0.75h-0.75zM454.5,193.2h0.75v0.75h-0.75zM467.9,191.6h0.75v0.75h-0.75zM456.3,207.9h0.75v0.75h-0.75zM464.5,186.1h0.75v0.75h-0.75zM463.7,200.6h0.75v0.75h-0.75zM469.2,187.0h0.75v0.75h-0.75zM463.5,207.6h0.75v0.75h-0.75zM458.6,198.6h0.75v0.75h-0.75zM463.1,196.5h0.75v0.75h-0.75zM459.3,195.2h0.75v0.75h-0.75zM459.7,209.7h0.75v0.75h-0.75zM451.4,201.9h0.75v0.75h-0.75zM459.4,218.0h0.75v0.75h-0.75zM454.1,214.7h0.75v0.75h-0.75zM456.9,207.4h0.75v0.75h-0.75zM460.8,205.8h0.75v0.75h-0.75zM459.6,193.1h0.75v0.75h-0.75zM465.9,218.5h0.75v0.75h-0.75zM459.6,201.2h0.75v0.75h-0.75zM460.8,189.7h0.75v0.75h-0.75zM453.4,206.1h0.75v0.75h-0.75zM465.5,201.5h0.75v0.75h-0.75zM456.5,191.6h0.75v0.75h-0.75zM455.6,209.3h0.75v0.75h-0.75zM462.4,189.0h0.75v0.75h-0.75zM453.2,205.2h0.75v0.75h-0.75zM459.0,220.5h0.75v0.75h-0.75zM467.5,205.9h0.75v0.75h-0.75zM456.0,204.4h0.75v0.75h-0.75zM454.9,195.3h0.75v0.75h-0.75zM464.5,209.8h0.75v0.75h-0.75zM462.7,219.0h0.75v0.75h-0.75zM456.6,210.5h0.75v0.75h-0.75zM459.9,206.1h0.75v0.75h-0.75zM460.4,208.4h0.75v0.75h-0.75zM454.5,188.4h0.75v0.75h-0.75zM459.8,207.8h0.75v0.75h-0.75zM457.5,201.5h0.75v0.75h-0.75zM451.0,211.2h0.75v0.75h-0.75zM460.2,218.0h0.75v0.75h-0.75zM457.9,201.7h0.75v0.75h-0.75zM458.3,216.4h0.75v0.75h-0.75zM462.4,207.3h0.75v0.75h-0.75zM452.4,193.2h0.75v0.75h-0.75zM452.3,199.9h0.75v0.75h-0.75zM464.5,204.2h0.75v0.75h-0.75zM452.0,222.1h0.75v0.75h-0.75zM452.0,215.6h0.75v0.75h-0.75zM465.9,206.4h0.75v0.75h-0.75zM468.9,193.4h0.75v0.75h-0.75zM457.4,199.5h0.75v0.75h-0.75zM462.3,201.5h0.75v0.75h-0.75zM469.7,200.6h0.75v0.75h-0.75zM460.5,190.9h0.75v0.75h-0.75zM461.4,211.1h0.75v0.75h-0.75zM457.8,190.0h0.75v0.75h-0.75zM450.8,213.3h0.75v0.75h-0.75zM463.8,206.3h0.75v0.75h-0.75zM463.3,208.3h0.75v0.75h-0.75zM464.8,187.4h0.75v0.75h-0.75zM461.7,210.3h0.75v0.75h-0.75zM464.7,213.4h0.75v0.75h-0.75zM455.9,205.0h0.75v0.75h-0.75zM450.2,215.9h0.75v0.75h-0.75zM451.5,208.7h0.75v0.75h-0.75zM456.9,194.3h0.75v0.75h-0.75zM455.6,199.0h0.75v0.75h-0.75zM460.4,214.3h0.75v0.75h-0.75zM457.1,211.1h0.75v0.75h-0.75zM461.6,223.9h0.75v0.75h-0.75zM456.3,205.5h0.75v0.75h-0.75zM463.5,204.9h0.75v0.75h-0.75zM464.3,196.9h0.75v0.75h-0.75zM459.0,196.5h0.75v0.75h-0.75zM457.8,193.7h0.75v0.75h-0.75zM461.3,190.8h0.75v0.75h-0.75zM456.0,208.2h0.75v0.75h-0.75zM453.1,191.3h0.75v0.75h-0.75zM459.4,192.1h0.75v0.75h-0.75zM451.8,220.5h0.75v0.75h-0.75zM462.4,198.7h0.75v0.75h-0.75zM458.3,187.0h0.75v0.75h-0.75zM457.1,179.2h0.75v0.75h-0.75zM463.7,198.3h0.75v0.75h-0.75zM464.9,203.6h0.75v0.75h-0.75zM461.4,212.0h0.75v0.75h-0.75zM457.8,196.9h0.75v0.75h-0.75zM456.3,220.3h0.75v0.75h-0.75zM454.8,191.4h0.75v0.75h-0.75zM465.7,184.0h0.75v0.75h-0.75zM469.7,192.8h0.75v0.75h-0.75zM466.6,202.4h0.75v0.75h-0.75zM459.8,191.4h0.75v0.75h-0.75zM468.2,201.4h0.75v0.75h-0.75zM451.8,208.1h0.75v0.75h-0.75zM458.4,207.9h0.75v0.75h-0.75zM457.2,206.2h0.75v0.75h-0.75zM462.4,203.5h0.75v0.75h-0.75zM450.4,206.4h0.75v0.75h-0.75zM466.7,208.3h0.75v0.75h-0.75zM463.8,211.4h0.75v0.75h-0.75zM456.8,213.1h0.75v0.75h-0.75zM460.2,192.9h0.75v0.75h-0.75zM451.7,212.0h0.75v0.75h-0.75zM462.8,209.7h0.75v0.75h-0.75zM459.6,184.6h0.75v0.75h-0.75zM464.3,202.6h0.75v0.75h-0.75zM457.6,196.4h0.75v0.75h-0.75zM459.6,184.3h0.75v0.75h-0.75zM462.3,210.3h0.75v0.75h-0.75zM465.2,200.1h0.75v0.75h-0.75zM455.3,188.5h0.75v0.75h-0.75zM455.7,219.8h0.75v0.75h-0.75zM464.9,204.0h0.75v0.75h-0.75zM461.3,211.3h0.75v0.75h-0.75zM460.0,205.2h0.75v0.75h-0.75zM462.0,197.4h0.75v0.75h-0.75zM454.6,196.5h0.75v0.75h-0.75zM468.5,188.4h0.75v0.75h-0.75zM458.2,198.5h0.75v0.75h-0.75zM460.8,198.6h0.75v0.75h-0.75zM464.8,200.0h0.75v0.75h-0.75zM458.9,209.9h0.75v0.75h-0.75zM450.7,212.5h0.75v0.75h-0.75zM467.5,190.9h0.75v0.75h-0.75zM460.6,195.6h0.75v0.75h-0.75zM456.8,210.3h0.75v0.75h-0.75zM448.6,209.7h0.75v0.75h-0.75zM462.3,203.2h0.75v0.75h-0.75zM472.6,199.9h0.75v0.75h-0.75zM451.3,205.5h0.75v0.75h-0.75zM461.7,196.9h0.75v0.75h-0.75zM471.0,189.5h0.75v0.75h-0.75zM466.2,212.1h0.75v0.75h-0.75zM447.9,203.0h0.75v0.75h-0.75zM461.8,214.3h0.75v0.75h-0.75zM465.3,216.4h0.75v0.75h-0.75zM460.1,200.5h0.75v0.75h-0.75zM458.1,207.9h0.75v0.75h-0.75zM456.5,191.8h0.75v0.75h-0.75zM470.9,214.2h0.75v0.75h-0.75zM466.1,201.6h0.75v0.75h-0.75zM456.0,198.1h0.75v0.75h-0.75zM456.6,196.2h0.75v0.75h-0.75zM450.7,207.7h0.75v0.75h-0.75zM460.6,210.9h0.75v0.75h-0.75zM461.4,196.0h0.75v0.75h-0.75zM469.5,213.8h0.75v0.75h-0.75zM461.7,212.0h0.75v0.75h-0.75zM457.3,209.8h0.75v0.75h-0.75zM454.5,212.2h0.75v0.75h-0.75zM463.8,211.9h0.75v0.75h-0.75zM461.9,204.6h0.75v0.75h-0.75zM460.1,210.2h0.75v0.75h-0.75zM456.5,209.5h0.75v0.75h-0.75zM466.0,191.2h0.75v0.75h-0.75zM450.4,204.5h0.75v0.75h-0.75zM459.3,194.8h0.75v0.75h-0.75zM454.9,191.1h0.75v0.75h-0.75zM451.7,198.1h0.75v0.75h-0.75zM454.2,184.9h0.75v0.75h-0.75zM457.1,217.6h0.75v0.75h-0.75zM466.9,202.2h0.75v0.75h-0.75zM462.4,200.8h0.75v0.75h-0.75zM460.5,195.2h0.75v0.75h-0.75zM461.6,192.6h0.75v0.75h-0.75zM456.2,200.8h0.75v0.75h-0.75zM456.5,222.7h0.75v0.75h-0.75zM456.9,191.4h0.75v0.75h-0.75zM462.6,209.0h0.75v0.75h-0.75zM463.8,202.2h0.75v0.75h-0.75zM452.4,198.2h0.75v0.75h-0.75zM453.2,201.1h0.75v0.75h-0.75zM469.8,201.2h0.75v0.75h-0.75zM458.9,213.5h0.75v0.75h-0.75zM451.7,209.2h0.75v0.75h-0.75zM459.1,195.9h0.75v0.75h-0.75zM459.4,192.9h0.75v0.75h-0.75zM464.4,204.5h0.75v0.75h-0.75zM456.7,207.2h0.75v0.75h-0.75zM467.8,198.2h0.75v0.75h-0.75zM465.3,194.6h0.75v0.75h-0.75zM451.8,190.7h0.75v0.75h-0.75zM464.3,207.2h0.75v0.75h-0.75zM455.5,208.9h0.75v0.75h-0.75zM458.1,204.2h0.75v0.75h-0.75zM457.5,179.7h0.75v0.75h-0.75zM459.4,209.4h0.75v0.75h-0.75zM452.8,217.5h0.75v0.75h-0.75zM458.8,220.0h0.75v0.75h-0.75zM461.6,215.3h0.75v0.75h-0.75zM460.7,188.2h0.75v0.75h-0.75zM469.9,217.3h0.75v0.75h-0.75zM465.0,194.3h0.75v0.75h-0.75zM466.2,193.3h0.75v0.75h-0.75zM461.4,212.1h0.75v0.75h-0.75zM464.1,193.4h0.75v0.75h-0.75zM462.9,205.0h0.75v0.75h-0.75zM461.0,215.5h0.75v0.75h-0.75zM457.6,194.0h0.75v0.75h-0.75zM446.3,215.7h0.75v0.75h-0.75zM453.7,214.6h0.75v0.75h-0.75zM460.1,214.7h0.75v0.75h-0.75zM460.5,207.6h0.75v0.75h-0.75zM458.0,207.0h0.75v0.75h-0.75zM452.7,211.9h0.75v0.75h-0.75zM451.6,196.3h0.75v0.75h-0.75zM457.7,203.2h0.75v0.75h-0.75zM460.7,193.0h0.75v0.75h-0.75zM456.1,201.2h0.75v0.75h-0.75zM454.6,211.4h0.75v0.75h-0.75zM458.3,207.0h0.75v0.75h-0.75zM452.3,210.6h0.75v0.75h-0.75zM466.0,188.2h0.75v0.75h-0.75zM469.1,192.3h0.75v0.75h-0.75zM452.2,209.5h0.75v0.75h-0.75zM468.2,210.2h0.75v0.75h-0.75zM460.0,195.3h0.75v0.75h-0.75zM455.5,203.7h0.75v0.75h-0.75zM463.1,193.2h0.75v0.75h-0.75zM465.7,181.3h0.75v0.75h-0.75zM462.4,193.6h0.75v0.75h-0.75zM449.8,221.9h0.75v0.75h-0.75zM463.5,199.8h0.75v0.75h-0.75zM451.8,215.3h0.75v0.75h-0.75zM461.4,195.0h0.75v0.75h-0.75zM445.6,209.4h0.75v0.75h-0.75zM463.0,207.8h0.75v0.75h-0.75zM456.7,183.6h0.75v0.75h-0.75zM466.3,200.2h0.75v0.75h-0.75zM457.2,209.0h0.75v0.75h-0.75zM456.8,220.2h0.75v0.75h-0.75zM462.9,213.2h0.75v0.75h-0.75zM463.7,200.7h0.75v0.75h-0.75zM456.7,193.5h0.75v0.75h-0.75zM466.8,201.5h0.75v0.75h-0.75zM448.1,202.5h0.75v0.75h-0.75zM460.9,197.5h0.75v0.75h-0.75zM463.2,193.9h0.75v0.75h-0.75zM474.4,200.1h0.75v0.75h-0.75zM454.3,202.6h0.75v0.75h-0.75zM459.4,211.0h0.75v0.75h-0.75zM460.0,208.9h0.75v0.75h-0.75zM460.3,199.8h0.75v0.75h-0.75zM455.2,194.3h0.75v0.75h-0.75zM461.3,190.2h0.75v0.75h-0.75zM464.5,200.1h0.75v0.75h-0.75zM464.9,211.1h0.75v0.75h-0.75zM468.4,197.0h0.75v0.75h-0.75zM463.0,196.9h0.75v0.75h-0.75zM454.5,203.1h0.75v0.75h-0.75zM455.8,210.5h0.75v0.75h-0.75zM451.9,203.8h0.75v0.75h-0.75zM466.4,205.9h0.75v0.75h-0.75zM453.8,197.7h0.75v0.75h-0.75zM454.5,216.7h0.75v0.75h-0.75zM460.2,181.5h0.75v0.75h-0.75zM456.8,198.6h0.75v0.75h-0.75zM459.1,200.5h0.75v0.75h-0.75zM461.1,194.5h0.75v0.75h-0.75zM460.2,197.8h0.75v0.75h-0.75zM457.8,199.1h0.75v0.75h-0.75zM463.9,205.4h0.75v0.75h-0.75zM464.3,195.5h0.75v0.75h-0.75zM450.9,199.1h0.75v0.75h-0.75zM464.3,202.6h0.75v0.75h-0.75zM459.2,186.3h0.75v0.75h-0.75zM462.7,194.4h0.75v0.75h-0.75zM450.2,204.4h0.75v0.75h-0.75zM458.2,214.4h0.75v0.75h-0.75zM455.1,187.6h0.75v0.75h-0.75zM458.1,217.7h0.75v0.75h-0.75zM459.8,208.8h0.75v0.75h-0.75zM451.9,203.9h0.75v0.75h-0.75zM454.4,183.2h0.75v0.75h-0.75zM461.9,214.0h0.75v0.75h-0.75zM455.7,203.3h0.75v0.75h-0.75zM463.0,200.7h0.75v0.75h-0.75zM459.5,205.8h0.75v0.75h-0.75zM456.8,190.9h0.75v0.75h-0.75zM458.7,225.3h0.75v0.75h-0.75z" fill="#d63a2c" opacity="1"/>
<path d="M459.9,191.2h0.75v0.75h-0.75zM462.6,216.9h0.75v0.75h-0.75zM471.4,207.9h0.75v0.75h-0.75zM460.2,196.2h0.75v0.75h-0.75zM456.6,186.0h0.75v0.75h-0.75zM448.6,175.8h0.75v0.75h-0.75zM467.2,198.9h0.75v0.75h-0.75zM466.9,181.0h0.75v0.75h-0.75zM461.7,199.4h0.75v0.75h-0.75zM464.6,196.5h0.75v0.75h-0.75zM466.5,212.7h0.75v0.75h-0.75zM469.3,172.4h0.75v0.75h-0.75zM451.4,218.4h0.75v0.75h-0.75zM478.1,206.6h0.75v0.75h-0.75zM457.6,215.7h0.75v0.75h-0.75zM461.5,202.7h0.75v0.75h-0.75zM469.5,200.9h0.75v0.75h-0.75zM448.1,191.0h0.75v0.75h-0.75zM464.4,189.0h0.75v0.75h-0.75zM462.7,192.9h0.75v0.75h-0.75zM463.9,193.3h0.75v0.75h-0.75zM466.4,195.3h0.75v0.75h-0.75zM452.4,206.9h0.75v0.75h-0.75zM462.6,201.9h0.75v0.75h-0.75zM449.4,194.3h0.75v0.75h-0.75zM466.9,203.7h0.75v0.75h-0.75zM451.6,216.5h0.75v0.75h-0.75zM463.0,199.7h0.75v0.75h-0.75zM456.8,198.3h0.75v0.75h-0.75zM463.5,169.7h0.75v0.75h-0.75zM457.5,183.5h0.75v0.75h-0.75zM463.0,201.5h0.75v0.75h-0.75zM460.2,205.4h0.75v0.75h-0.75zM471.8,224.5h0.75v0.75h-0.75zM451.2,223.1h0.75v0.75h-0.75zM460.8,177.6h0.75v0.75h-0.75zM469.2,189.5h0.75v0.75h-0.75zM455.5,212.0h0.75v0.75h-0.75zM458.6,202.1h0.75v0.75h-0.75zM468.7,204.6h0.75v0.75h-0.75zM441.4,195.0h0.75v0.75h-0.75zM450.6,183.5h0.75v0.75h-0.75zM450.9,202.5h0.75v0.75h-0.75zM460.7,196.9h0.75v0.75h-0.75zM467.4,201.7h0.75v0.75h-0.75zM458.1,213.3h0.75v0.75h-0.75zM463.9,203.1h0.75v0.75h-0.75zM467.8,210.3h0.75v0.75h-0.75zM461.4,200.5h0.75v0.75h-0.75zM456.9,187.6h0.75v0.75h-0.75zM476.5,204.4h0.75v0.75h-0.75zM443.6,201.8h0.75v0.75h-0.75zM454.8,186.9h0.75v0.75h-0.75zM457.5,203.7h0.75v0.75h-0.75zM467.4,197.0h0.75v0.75h-0.75zM458.6,206.8h0.75v0.75h-0.75zM443.5,179.0h0.75v0.75h-0.75zM449.6,213.6h0.75v0.75h-0.75zM457.4,185.1h0.75v0.75h-0.75zM453.5,182.7h0.75v0.75h-0.75zM461.9,198.3h0.75v0.75h-0.75zM463.2,207.6h0.75v0.75h-0.75zM465.2,204.3h0.75v0.75h-0.75zM455.5,203.6h0.75v0.75h-0.75zM459.2,200.0h0.75v0.75h-0.75zM469.5,189.4h0.75v0.75h-0.75zM463.9,205.5h0.75v0.75h-0.75zM460.2,192.8h0.75v0.75h-0.75zM459.8,196.4h0.75v0.75h-0.75zM452.4,186.4h0.75v0.75h-0.75zM448.0,194.1h0.75v0.75h-0.75zM478.9,186.0h0.75v0.75h-0.75zM467.6,204.9h0.75v0.75h-0.75zM468.6,214.3h0.75v0.75h-0.75zM461.2,207.6h0.75v0.75h-0.75zM461.2,200.8h0.75v0.75h-0.75zM459.7,208.5h0.75v0.75h-0.75zM447.2,196.4h0.75v0.75h-0.75zM458.9,188.7h0.75v0.75h-0.75zM459.5,222.6h0.75v0.75h-0.75z" fill="#d63a2c" opacity="1"/>
<path d="M445.0,220.1h0.75v0.75h-0.75zM442.5,224.0h0.75v0.75h-0.75zM437.0,216.1h0.75v0.75h-0.75zM445.2,218.0h0.75v0.75h-0.75zM447.4,219.6h0.75v0.75h-0.75zM427.0,212.1h0.75v0.75h-0.75zM434.3,207.5h0.75v0.75h-0.75zM440.4,219.0h0.75v0.75h-0.75zM448.4,215.1h0.75v0.75h-0.75zM439.2,224.9h0.75v0.75h-0.75zM446.8,214.0h0.75v0.75h-0.75zM453.0,216.7h0.75v0.75h-0.75zM450.4,219.0h0.75v0.75h-0.75zM437.7,212.5h0.75v0.75h-0.75zM440.0,237.3h0.75v0.75h-0.75zM436.0,231.5h0.75v0.75h-0.75zM451.4,218.3h0.75v0.75h-0.75zM449.8,230.5h0.75v0.75h-0.75zM438.6,217.4h0.75v0.75h-0.75zM449.8,223.4h0.75v0.75h-0.75zM457.7,224.0h0.75v0.75h-0.75zM432.0,220.7h0.75v0.75h-0.75zM431.7,226.2h0.75v0.75h-0.75zM446.6,218.2h0.75v0.75h-0.75zM434.0,227.1h0.75v0.75h-0.75zM438.0,229.4h0.75v0.75h-0.75zM433.3,219.1h0.75v0.75h-0.75zM436.7,213.9h0.75v0.75h-0.75zM436.1,226.4h0.75v0.75h-0.75zM426.8,229.6h0.75v0.75h-0.75zM449.6,218.7h0.75v0.75h-0.75zM438.3,222.7h0.75v0.75h-0.75zM444.6,218.6h0.75v0.75h-0.75zM434.3,219.3h0.75v0.75h-0.75zM437.7,226.4h0.75v0.75h-0.75zM441.7,222.7h0.75v0.75h-0.75zM428.0,218.4h0.75v0.75h-0.75zM438.0,217.5h0.75v0.75h-0.75zM440.1,219.0h0.75v0.75h-0.75zM429.1,227.5h0.75v0.75h-0.75zM448.3,217.6h0.75v0.75h-0.75zM446.0,214.7h0.75v0.75h-0.75zM431.2,219.7h0.75v0.75h-0.75zM453.4,220.4h0.75v0.75h-0.75zM429.1,222.8h0.75v0.75h-0.75zM436.6,216.2h0.75v0.75h-0.75zM444.0,209.2h0.75v0.75h-0.75zM427.1,211.2h0.75v0.75h-0.75zM449.8,221.9h0.75v0.75h-0.75zM436.5,216.6h0.75v0.75h-0.75zM446.5,229.8h0.75v0.75h-0.75zM435.6,223.1h0.75v0.75h-0.75zM459.9,225.4h0.75v0.75h-0.75zM438.7,223.6h0.75v0.75h-0.75zM442.2,225.9h0.75v0.75h-0.75zM444.2,217.9h0.75v0.75h-0.75zM440.4,223.9h0.75v0.75h-0.75zM436.0,221.8h0.75v0.75h-0.75zM434.2,229.8h0.75v0.75h-0.75zM453.7,215.4h0.75v0.75h-0.75zM448.1,222.5h0.75v0.75h-0.75zM442.1,219.6h0.75v0.75h-0.75zM443.5,228.2h0.75v0.75h-0.75zM431.8,228.3h0.75v0.75h-0.75zM439.3,213.9h0.75v0.75h-0.75zM441.0,225.7h0.75v0.75h-0.75zM440.7,223.4h0.75v0.75h-0.75zM438.8,217.7h0.75v0.75h-0.75zM449.3,215.0h0.75v0.75h-0.75zM449.3,223.7h0.75v0.75h-0.75zM439.2,219.8h0.75v0.75h-0.75zM439.2,221.1h0.75v0.75h-0.75zM441.1,220.4h0.75v0.75h-0.75zM426.3,207.0h0.75v0.75h-0.75zM444.1,217.1h0.75v0.75h-0.75zM437.0,220.2h0.75v0.75h-0.75zM432.8,231.9h0.75v0.75h-0.75zM441.4,220.2h0.75v0.75h-0.75zM433.2,227.4h0.75v0.75h-0.75zM447.1,231.4h0.75v0.75h-0.75zM448.4,215.9h0.75v0.75h-0.75zM431.6,230.6h0.75v0.75h-0.75zM436.2,220.7h0.75v0.75h-0.75zM440.2,224.8h0.75v0.75h-0.75zM445.7,214.4h0.75v0.75h-0.75zM436.5,209.7h0.75v0.75h-0.75zM445.8,220.3h0.75v0.75h-0.75zM428.3,228.4h0.75v0.75h-0.75zM441.5,214.6h0.75v0.75h-0.75zM438.2,217.4h0.75v0.75h-0.75zM442.3,222.8h0.75v0.75h-0.75zM437.0,224.3h0.75v0.75h-0.75zM421.3,219.1h0.75v0.75h-0.75zM446.5,227.8h0.75v0.75h-0.75zM447.7,214.4h0.75v0.75h-0.75zM428.4,219.1h0.75v0.75h-0.75zM459.1,223.2h0.75v0.75h-0.75zM435.7,210.1h0.75v0.75h-0.75zM442.6,218.4h0.75v0.75h-0.75zM445.3,222.7h0.75v0.75h-0.75zM423.3,220.5h0.75v0.75h-0.75zM447.5,217.4h0.75v0.75h-0.75zM432.2,213.6h0.75v0.75h-0.75zM431.1,236.0h0.75v0.75h-0.75zM452.3,217.3h0.75v0.75h-0.75zM452.0,214.2h0.75v0.75h-0.75zM437.2,216.3h0.75v0.75h-0.75zM439.9,225.7h0.75v0.75h-0.75zM457.0,226.2h0.75v0.75h-0.75zM440.5,222.4h0.75v0.75h-0.75zM439.6,223.8h0.75v0.75h-0.75zM434.7,223.0h0.75v0.75h-0.75zM444.9,227.6h0.75v0.75h-0.75zM435.0,224.1h0.75v0.75h-0.75zM443.5,215.9h0.75v0.75h-0.75zM426.1,217.6h0.75v0.75h-0.75zM448.0,219.4h0.75v0.75h-0.75zM458.8,225.0h0.75v0.75h-0.75zM435.8,220.6h0.75v0.75h-0.75zM444.8,224.5h0.75v0.75h-0.75zM439.5,224.3h0.75v0.75h-0.75zM442.6,218.1h0.75v0.75h-0.75zM427.6,222.4h0.75v0.75h-0.75zM438.2,220.9h0.75v0.75h-0.75zM437.1,226.4h0.75v0.75h-0.75zM449.5,216.6h0.75v0.75h-0.75zM430.8,223.3h0.75v0.75h-0.75zM451.9,224.0h0.75v0.75h-0.75zM445.0,211.9h0.75v0.75h-0.75zM437.1,225.1h0.75v0.75h-0.75zM444.1,221.2h0.75v0.75h-0.75zM445.7,226.9h0.75v0.75h-0.75zM441.9,216.5h0.75v0.75h-0.75zM430.5,222.6h0.75v0.75h-0.75zM440.0,220.0h0.75v0.75h-0.75zM449.7,216.9h0.75v0.75h-0.75zM439.2,225.5h0.75v0.75h-0.75zM434.5,207.0h0.75v0.75h-0.75zM437.1,226.6h0.75v0.75h-0.75zM436.6,219.6h0.75v0.75h-0.75zM427.1,229.1h0.75v0.75h-0.75zM427.9,216.8h0.75v0.75h-0.75zM439.9,234.1h0.75v0.75h-0.75zM442.1,216.5h0.75v0.75h-0.75zM429.8,219.2h0.75v0.75h-0.75zM431.9,217.1h0.75v0.75h-0.75zM441.6,229.2h0.75v0.75h-0.75zM432.8,230.2h0.75v0.75h-0.75zM426.4,234.0h0.75v0.75h-0.75zM436.3,218.7h0.75v0.75h-0.75zM437.6,222.7h0.75v0.75h-0.75zM440.8,219.0h0.75v0.75h-0.75zM435.9,217.6h0.75v0.75h-0.75zM441.7,217.7h0.75v0.75h-0.75zM436.0,211.7h0.75v0.75h-0.75zM441.4,224.4h0.75v0.75h-0.75zM433.4,227.8h0.75v0.75h-0.75zM440.9,221.9h0.75v0.75h-0.75zM428.3,225.3h0.75v0.75h-0.75zM450.8,233.9h0.75v0.75h-0.75zM436.6,220.8h0.75v0.75h-0.75zM446.8,224.7h0.75v0.75h-0.75zM436.4,221.6h0.75v0.75h-0.75zM448.6,224.9h0.75v0.75h-0.75zM440.8,228.0h0.75v0.75h-0.75zM430.0,224.1h0.75v0.75h-0.75zM436.2,218.8h0.75v0.75h-0.75zM447.3,232.6h0.75v0.75h-0.75zM444.7,222.0h0.75v0.75h-0.75zM453.7,226.2h0.75v0.75h-0.75zM424.5,217.2h0.75v0.75h-0.75zM436.2,216.8h0.75v0.75h-0.75zM430.0,225.5h0.75v0.75h-0.75zM442.6,232.6h0.75v0.75h-0.75zM439.2,222.0h0.75v0.75h-0.75zM435.7,227.9h0.75v0.75h-0.75zM450.9,232.2h0.75v0.75h-0.75zM449.0,217.5h0.75v0.75h-0.75zM450.5,215.4h0.75v0.75h-0.75zM436.7,220.1h0.75v0.75h-0.75zM457.1,216.7h0.75v0.75h-0.75zM433.9,222.9h0.75v0.75h-0.75zM450.3,225.0h0.75v0.75h-0.75zM445.6,215.9h0.75v0.75h-0.75zM438.5,229.7h0.75v0.75h-0.75zM442.2,217.2h0.75v0.75h-0.75zM438.8,230.1h0.75v0.75h-0.75zM454.4,224.1h0.75v0.75h-0.75zM435.3,232.3h0.75v0.75h-0.75zM436.7,222.1h0.75v0.75h-0.75zM444.7,221.4h0.75v0.75h-0.75zM440.2,231.9h0.75v0.75h-0.75zM443.9,212.2h0.75v0.75h-0.75zM437.1,230.0h0.75v0.75h-0.75zM440.2,214.8h0.75v0.75h-0.75zM448.4,224.6h0.75v0.75h-0.75zM441.8,225.1h0.75v0.75h-0.75zM438.7,222.6h0.75v0.75h-0.75zM445.9,217.8h0.75v0.75h-0.75zM450.9,214.7h0.75v0.75h-0.75zM457.0,221.9h0.75v0.75h-0.75zM444.3,213.6h0.75v0.75h-0.75zM447.4,216.1h0.75v0.75h-0.75zM445.2,221.6h0.75v0.75h-0.75zM435.5,232.9h0.75v0.75h-0.75zM442.8,218.1h0.75v0.75h-0.75zM438.9,223.6h0.75v0.75h-0.75zM441.9,227.0h0.75v0.75h-0.75zM437.3,222.9h0.75v0.75h-0.75zM437.9,217.0h0.75v0.75h-0.75zM447.6,216.3h0.75v0.75h-0.75zM429.5,225.7h0.75v0.75h-0.75zM437.8,225.1h0.75v0.75h-0.75zM445.5,224.8h0.75v0.75h-0.75zM442.2,231.5h0.75v0.75h-0.75zM433.8,229.0h0.75v0.75h-0.75zM440.5,223.4h0.75v0.75h-0.75zM438.5,227.1h0.75v0.75h-0.75zM445.2,218.7h0.75v0.75h-0.75zM442.0,224.7h0.75v0.75h-0.75zM440.6,237.5h0.75v0.75h-0.75zM445.9,219.1h0.75v0.75h-0.75zM449.2,223.3h0.75v0.75h-0.75zM437.9,219.4h0.75v0.75h-0.75zM429.8,226.5h0.75v0.75h-0.75zM452.9,221.1h0.75v0.75h-0.75zM435.8,210.5h0.75v0.75h-0.75zM432.7,221.6h0.75v0.75h-0.75zM437.0,220.6h0.75v0.75h-0.75zM435.5,220.6h0.75v0.75h-0.75zM440.0,222.8h0.75v0.75h-0.75zM442.4,222.8h0.75v0.75h-0.75zM435.7,219.8h0.75v0.75h-0.75zM432.7,218.4h0.75v0.75h-0.75zM441.4,224.4h0.75v0.75h-0.75zM431.7,215.5h0.75v0.75h-0.75zM437.7,213.8h0.75v0.75h-0.75zM439.5,220.3h0.75v0.75h-0.75zM436.3,231.9h0.75v0.75h-0.75zM438.5,223.1h0.75v0.75h-0.75zM428.5,226.9h0.75v0.75h-0.75zM444.0,222.8h0.75v0.75h-0.75zM425.8,221.1h0.75v0.75h-0.75zM436.6,224.1h0.75v0.75h-0.75zM441.4,218.1h0.75v0.75h-0.75zM438.1,229.4h0.75v0.75h-0.75zM449.7,210.5h0.75v0.75h-0.75zM438.3,225.5h0.75v0.75h-0.75zM438.5,223.5h0.75v0.75h-0.75zM439.2,232.0h0.75v0.75h-0.75zM446.9,220.3h0.75v0.75h-0.75zM452.0,225.7h0.75v0.75h-0.75zM454.0,218.6h0.75v0.75h-0.75zM430.4,226.6h0.75v0.75h-0.75zM441.8,210.3h0.75v0.75h-0.75zM442.1,216.3h0.75v0.75h-0.75zM438.1,222.2h0.75v0.75h-0.75zM431.2,229.5h0.75v0.75h-0.75zM431.9,221.7h0.75v0.75h-0.75zM441.6,218.3h0.75v0.75h-0.75zM435.8,226.9h0.75v0.75h-0.75zM429.6,221.4h0.75v0.75h-0.75zM453.4,216.5h0.75v0.75h-0.75zM430.1,218.2h0.75v0.75h-0.75zM419.7,216.4h0.75v0.75h-0.75zM432.7,216.0h0.75v0.75h-0.75zM434.8,225.1h0.75v0.75h-0.75zM441.6,214.7h0.75v0.75h-0.75zM451.0,215.0h0.75v0.75h-0.75zM452.3,218.2h0.75v0.75h-0.75zM434.5,218.4h0.75v0.75h-0.75zM452.0,222.1h0.75v0.75h-0.75zM441.1,210.6h0.75v0.75h-0.75zM441.1,219.2h0.75v0.75h-0.75zM438.6,216.2h0.75v0.75h-0.75zM429.4,229.4h0.75v0.75h-0.75zM434.0,225.1h0.75v0.75h-0.75zM445.5,222.3h0.75v0.75h-0.75zM442.3,225.4h0.75v0.75h-0.75zM438.7,220.7h0.75v0.75h-0.75zM443.7,222.5h0.75v0.75h-0.75zM438.9,203.8h0.75v0.75h-0.75zM441.0,213.2h0.75v0.75h-0.75zM450.0,229.3h0.75v0.75h-0.75zM443.1,222.9h0.75v0.75h-0.75zM426.1,220.1h0.75v0.75h-0.75zM435.4,233.0h0.75v0.75h-0.75zM431.4,235.7h0.75v0.75h-0.75zM439.9,208.0h0.75v0.75h-0.75zM454.8,219.8h0.75v0.75h-0.75zM444.0,228.4h0.75v0.75h-0.75zM429.5,218.1h0.75v0.75h-0.75zM442.3,229.5h0.75v0.75h-0.75zM440.0,225.1h0.75v0.75h-0.75zM428.1,224.6h0.75v0.75h-0.75zM434.4,219.0h0.75v0.75h-0.75zM442.1,227.1h0.75v0.75h-0.75zM436.2,224.1h0.75v0.75h-0.75zM439.0,225.3h0.75v0.75h-0.75zM437.9,230.4h0.75v0.75h-0.75zM433.6,214.5h0.75v0.75h-0.75zM450.9,216.6h0.75v0.75h-0.75zM446.2,225.8h0.75v0.75h-0.75zM428.7,219.4h0.75v0.75h-0.75zM437.7,220.5h0.75v0.75h-0.75zM430.2,222.4h0.75v0.75h-0.75zM442.8,214.1h0.75v0.75h-0.75zM441.4,222.7h0.75v0.75h-0.75zM428.5,220.8h0.75v0.75h-0.75zM448.0,226.1h0.75v0.75h-0.75zM433.1,216.2h0.75v0.75h-0.75zM441.4,223.8h0.75v0.75h-0.75zM447.3,221.7h0.75v0.75h-0.75zM447.2,216.9h0.75v0.75h-0.75zM454.9,220.0h0.75v0.75h-0.75zM434.0,217.5h0.75v0.75h-0.75zM427.7,216.3h0.75v0.75h-0.75zM438.8,224.3h0.75v0.75h-0.75zM449.5,215.5h0.75v0.75h-0.75zM435.5,225.6h0.75v0.75h-0.75zM448.8,226.0h0.75v0.75h-0.75zM443.0,213.6h0.75v0.75h-0.75zM437.0,210.9h0.75v0.75h-0.75zM435.8,229.1h0.75v0.75h-0.75zM452.7,219.2h0.75v0.75h-0.75zM445.5,229.7h0.75v0.75h-0.75zM433.0,212.1h0.75v0.75h-0.75zM436.1,207.3h0.75v0.75h-0.75zM446.1,220.3h0.75v0.75h-0.75zM438.7,221.3h0.75v0.75h-0.75zM444.5,220.7h0.75v0.75h-0.75zM431.7,225.0h0.75v0.75h-0.75zM436.8,222.7h0.75v0.75h-0.75zM435.7,220.9h0.75v0.75h-0.75zM429.1,221.6h0.75v0.75h-0.75zM438.5,227.7h0.75v0.75h-0.75zM434.8,215.1h0.75v0.75h-0.75zM446.0,208.0h0.75v0.75h-0.75zM445.4,220.2h0.75v0.75h-0.75zM437.3,221.4h0.75v0.75h-0.75zM438.6,214.8h0.75v0.75h-0.75zM446.0,214.9h0.75v0.75h-0.75zM441.6,219.4h0.75v0.75h-0.75zM435.1,216.6h0.75v0.75h-0.75zM442.7,218.4h0.75v0.75h-0.75zM450.7,226.3h0.75v0.75h-0.75zM437.3,227.2h0.75v0.75h-0.75zM423.0,231.7h0.75v0.75h-0.75zM430.9,212.4h0.75v0.75h-0.75zM448.9,210.1h0.75v0.75h-0.75zM435.1,222.8h0.75v0.75h-0.75zM425.2,219.7h0.75v0.75h-0.75zM447.4,216.0h0.75v0.75h-0.75zM451.6,214.9h0.75v0.75h-0.75zM451.3,223.3h0.75v0.75h-0.75zM441.6,219.1h0.75v0.75h-0.75zM433.2,227.5h0.75v0.75h-0.75zM431.8,220.6h0.75v0.75h-0.75zM445.9,223.7h0.75v0.75h-0.75zM445.7,216.6h0.75v0.75h-0.75zM431.1,222.1h0.75v0.75h-0.75zM439.4,227.6h0.75v0.75h-0.75zM425.9,220.5h0.75v0.75h-0.75zM443.6,217.6h0.75v0.75h-0.75zM428.5,220.8h0.75v0.75h-0.75zM448.3,216.2h0.75v0.75h-0.75zM433.7,214.1h0.75v0.75h-0.75zM433.1,209.1h0.75v0.75h-0.75zM449.4,228.3h0.75v0.75h-0.75zM436.4,224.4h0.75v0.75h-0.75zM454.4,229.4h0.75v0.75h-0.75zM448.2,216.1h0.75v0.75h-0.75zM435.9,221.1h0.75v0.75h-0.75zM452.3,216.2h0.75v0.75h-0.75zM445.9,228.4h0.75v0.75h-0.75zM446.9,220.9h0.75v0.75h-0.75zM436.0,225.4h0.75v0.75h-0.75zM438.4,223.3h0.75v0.75h-0.75zM437.1,217.5h0.75v0.75h-0.75zM437.4,214.4h0.75v0.75h-0.75zM447.8,212.0h0.75v0.75h-0.75zM443.7,218.1h0.75v0.75h-0.75zM444.6,210.2h0.75v0.75h-0.75zM440.9,221.3h0.75v0.75h-0.75zM451.5,227.5h0.75v0.75h-0.75zM443.7,220.5h0.75v0.75h-0.75zM441.3,227.6h0.75v0.75h-0.75zM450.8,224.9h0.75v0.75h-0.75zM450.0,211.3h0.75v0.75h-0.75zM448.1,233.9h0.75v0.75h-0.75zM442.0,217.3h0.75v0.75h-0.75zM451.5,209.0h0.75v0.75h-0.75zM450.1,213.5h0.75v0.75h-0.75zM444.8,213.7h0.75v0.75h-0.75zM452.3,221.5h0.75v0.75h-0.75zM436.8,221.0h0.75v0.75h-0.75zM451.4,231.0h0.75v0.75h-0.75zM443.0,219.8h0.75v0.75h-0.75zM452.5,222.2h0.75v0.75h-0.75zM437.1,233.7h0.75v0.75h-0.75zM429.5,223.4h0.75v0.75h-0.75zM453.4,224.3h0.75v0.75h-0.75zM443.5,227.5h0.75v0.75h-0.75zM434.4,221.5h0.75v0.75h-0.75zM441.3,228.1h0.75v0.75h-0.75zM445.2,222.2h0.75v0.75h-0.75zM451.1,230.3h0.75v0.75h-0.75zM432.8,238.3h0.75v0.75h-0.75zM444.7,218.7h0.75v0.75h-0.75zM454.6,206.0h0.75v0.75h-0.75zM432.9,223.6h0.75v0.75h-0.75zM437.0,214.3h0.75v0.75h-0.75zM440.0,231.5h0.75v0.75h-0.75zM442.4,227.3h0.75v0.75h-0.75zM447.6,221.8h0.75v0.75h-0.75zM442.4,217.7h0.75v0.75h-0.75zM443.8,227.1h0.75v0.75h-0.75zM440.7,221.7h0.75v0.75h-0.75zM445.7,222.5h0.75v0.75h-0.75zM444.4,210.2h0.75v0.75h-0.75zM445.0,211.6h0.75v0.75h-0.75zM446.8,220.9h0.75v0.75h-0.75zM438.8,214.1h0.75v0.75h-0.75zM448.9,219.3h0.75v0.75h-0.75zM438.9,209.9h0.75v0.75h-0.75zM453.4,218.5h0.75v0.75h-0.75zM435.9,229.3h0.75v0.75h-0.75zM446.1,206.3h0.75v0.75h-0.75zM441.2,231.5h0.75v0.75h-0.75zM440.2,217.2h0.75v0.75h-0.75zM448.1,226.7h0.75v0.75h-0.75zM435.5,217.6h0.75v0.75h-0.75zM437.9,218.5h0.75v0.75h-0.75zM432.7,217.5h0.75v0.75h-0.75zM446.8,211.9h0.75v0.75h-0.75zM449.4,225.0h0.75v0.75h-0.75zM447.4,226.7h0.75v0.75h-0.75zM435.9,211.9h0.75v0.75h-0.75zM450.2,221.5h0.75v0.75h-0.75zM445.1,227.9h0.75v0.75h-0.75zM432.3,221.3h0.75v0.75h-0.75zM441.5,215.6h0.75v0.75h-0.75zM435.4,221.7h0.75v0.75h-0.75zM444.4,229.7h0.75v0.75h-0.75zM448.3,230.8h0.75v0.75h-0.75zM438.4,223.3h0.75v0.75h-0.75zM441.4,219.7h0.75v0.75h-0.75zM437.9,230.1h0.75v0.75h-0.75zM452.6,222.0h0.75v0.75h-0.75zM422.1,214.2h0.75v0.75h-0.75zM435.6,232.3h0.75v0.75h-0.75zM449.8,220.1h0.75v0.75h-0.75zM447.1,223.7h0.75v0.75h-0.75zM441.0,220.9h0.75v0.75h-0.75zM434.9,215.1h0.75v0.75h-0.75zM440.6,214.8h0.75v0.75h-0.75zM444.4,219.7h0.75v0.75h-0.75zM435.5,223.8h0.75v0.75h-0.75zM436.1,219.3h0.75v0.75h-0.75zM434.8,225.6h0.75v0.75h-0.75zM442.6,220.3h0.75v0.75h-0.75zM440.1,224.6h0.75v0.75h-0.75zM438.2,210.1h0.75v0.75h-0.75zM454.0,222.2h0.75v0.75h-0.75zM447.1,216.1h0.75v0.75h-0.75zM430.0,214.5h0.75v0.75h-0.75zM445.8,218.9h0.75v0.75h-0.75zM440.2,218.5h0.75v0.75h-0.75zM430.1,231.8h0.75v0.75h-0.75zM434.6,215.2h0.75v0.75h-0.75zM433.2,223.4h0.75v0.75h-0.75zM450.4,222.6h0.75v0.75h-0.75zM444.5,219.8h0.75v0.75h-0.75zM451.3,223.0h0.75v0.75h-0.75zM444.5,214.8h0.75v0.75h-0.75zM450.3,225.7h0.75v0.75h-0.75zM438.0,217.1h0.75v0.75h-0.75zM444.7,213.5h0.75v0.75h-0.75zM442.2,216.4h0.75v0.75h-0.75zM433.8,228.3h0.75v0.75h-0.75zM433.9,210.0h0.75v0.75h-0.75zM452.2,217.4h0.75v0.75h-0.75zM449.4,221.4h0.75v0.75h-0.75zM434.4,211.2h0.75v0.75h-0.75zM440.0,223.1h0.75v0.75h-0.75zM436.7,218.9h0.75v0.75h-0.75zM435.6,220.5h0.75v0.75h-0.75zM442.3,219.9h0.75v0.75h-0.75zM426.6,216.2h0.75v0.75h-0.75zM438.4,218.2h0.75v0.75h-0.75zM427.6,217.4h0.75v0.75h-0.75zM429.9,210.6h0.75v0.75h-0.75zM443.9,215.1h0.75v0.75h-0.75zM449.2,228.0h0.75v0.75h-0.75zM427.3,222.5h0.75v0.75h-0.75zM429.8,224.5h0.75v0.75h-0.75zM448.8,229.6h0.75v0.75h-0.75zM450.1,212.1h0.75v0.75h-0.75zM442.8,211.4h0.75v0.75h-0.75zM444.2,226.1h0.75v0.75h-0.75zM439.8,226.3h0.75v0.75h-0.75zM434.9,217.9h0.75v0.75h-0.75zM432.4,209.5h0.75v0.75h-0.75zM441.7,221.0h0.75v0.75h-0.75zM433.4,215.6h0.75v0.75h-0.75zM429.9,225.4h0.75v0.75h-0.75zM445.1,217.7h0.75v0.75h-0.75zM438.1,218.1h0.75v0.75h-0.75zM434.5,223.2h0.75v0.75h-0.75zM448.0,208.1h0.75v0.75h-0.75zM447.3,215.3h0.75v0.75h-0.75zM438.3,211.9h0.75v0.75h-0.75zM437.1,220.1h0.75v0.75h-0.75zM438.7,237.2h0.75v0.75h-0.75zM437.9,219.2h0.75v0.75h-0.75zM438.5,223.7h0.75v0.75h-0.75zM446.2,225.5h0.75v0.75h-0.75zM440.6,222.2h0.75v0.75h-0.75zM423.8,221.4h0.75v0.75h-0.75zM433.6,222.5h0.75v0.75h-0.75z" fill="#55993f" opacity="1"/>
<path d="M423.9,203.8h0.7v0.7h-0.7zM442.6,213.4h0.7v0.7h-0.7zM455.5,221.7h0.7v0.7h-0.7zM429.2,222.5h0.7v0.7h-0.7zM438.0,209.7h0.7v0.7h-0.7zM446.8,209.4h0.7v0.7h-0.7zM459.2,223.7h0.7v0.7h-0.7zM430.6,213.4h0.7v0.7h-0.7zM445.9,201.8h0.7v0.7h-0.7zM433.9,201.8h0.7v0.7h-0.7zM436.9,214.9h0.7v0.7h-0.7zM452.0,212.9h0.7v0.7h-0.7zM434.7,227.4h0.7v0.7h-0.7zM425.9,226.1h0.7v0.7h-0.7zM430.9,204.5h0.7v0.7h-0.7zM444.7,220.2h0.7v0.7h-0.7zM428.6,229.2h0.7v0.7h-0.7zM453.8,208.5h0.7v0.7h-0.7zM427.8,214.0h0.7v0.7h-0.7zM432.5,208.2h0.7v0.7h-0.7zM442.4,214.9h0.7v0.7h-0.7zM437.0,214.7h0.7v0.7h-0.7zM437.1,206.8h0.7v0.7h-0.7zM423.9,210.8h0.7v0.7h-0.7zM430.4,224.0h0.7v0.7h-0.7zM439.5,207.3h0.7v0.7h-0.7zM421.6,227.0h0.7v0.7h-0.7zM440.0,222.6h0.7v0.7h-0.7zM420.6,213.9h0.7v0.7h-0.7zM444.8,228.4h0.7v0.7h-0.7zM429.8,215.3h0.7v0.7h-0.7zM432.8,217.6h0.7v0.7h-0.7zM431.7,218.7h0.7v0.7h-0.7zM434.6,226.5h0.7v0.7h-0.7zM431.2,207.9h0.7v0.7h-0.7zM421.0,217.5h0.7v0.7h-0.7zM412.6,204.9h0.7v0.7h-0.7zM439.3,230.2h0.7v0.7h-0.7zM411.0,208.6h0.7v0.7h-0.7zM434.6,214.3h0.7v0.7h-0.7zM455.1,220.7h0.7v0.7h-0.7zM430.3,226.9h0.7v0.7h-0.7zM447.6,221.6h0.7v0.7h-0.7zM423.7,220.3h0.7v0.7h-0.7zM460.5,215.4h0.7v0.7h-0.7zM446.0,202.7h0.7v0.7h-0.7zM428.8,210.6h0.7v0.7h-0.7zM443.2,231.0h0.7v0.7h-0.7zM429.4,222.8h0.7v0.7h-0.7zM443.0,209.3h0.7v0.7h-0.7zM442.6,214.8h0.7v0.7h-0.7zM441.0,209.0h0.7v0.7h-0.7zM443.7,222.6h0.7v0.7h-0.7zM437.5,211.3h0.7v0.7h-0.7zM415.5,205.1h0.7v0.7h-0.7zM448.7,217.0h0.7v0.7h-0.7zM429.9,224.3h0.7v0.7h-0.7zM441.3,206.6h0.7v0.7h-0.7zM432.3,220.7h0.7v0.7h-0.7zM437.8,210.3h0.7v0.7h-0.7z" fill="#333" opacity="1"/>
<path d="M445.2,216.9h0.8v0.8h-0.8zM432.3,221.6h0.8v0.8h-0.8zM423.8,219.8h0.8v0.8h-0.8zM426.4,222.5h0.8v0.8h-0.8zM432.7,228.6h0.8v0.8h-0.8zM431.4,229.0h0.8v0.8h-0.8zM432.9,223.4h0.8v0.8h-0.8zM428.2,217.4h0.8v0.8h-0.8zM418.6,222.3h0.8v0.8h-0.8zM428.5,224.5h0.8v0.8h-0.8zM431.9,215.8h0.8v0.8h-0.8zM424.7,216.6h0.8v0.8h-0.8zM436.5,222.0h0.8v0.8h-0.8zM430.4,217.7h0.8v0.8h-0.8zM420.7,219.5h0.8v0.8h-0.8zM428.8,225.1h0.8v0.8h-0.8zM419.0,224.4h0.8v0.8h-0.8zM423.6,219.8h0.8v0.8h-0.8zM427.2,220.3h0.8v0.8h-0.8zM432.7,227.4h0.8v0.8h-0.8zM431.9,219.7h0.8v0.8h-0.8zM432.4,224.6h0.8v0.8h-0.8zM435.5,224.1h0.8v0.8h-0.8zM418.4,218.5h0.8v0.8h-0.8zM426.7,227.6h0.8v0.8h-0.8zM428.6,227.6h0.8v0.8h-0.8zM431.5,216.2h0.8v0.8h-0.8zM429.8,225.6h0.8v0.8h-0.8zM432.3,214.6h0.8v0.8h-0.8zM432.4,219.4h0.8v0.8h-0.8zM415.0,219.5h0.8v0.8h-0.8zM415.9,215.7h0.8v0.8h-0.8zM436.8,225.0h0.8v0.8h-0.8zM442.6,224.5h0.8v0.8h-0.8zM435.8,210.4h0.8v0.8h-0.8zM430.0,217.9h0.8v0.8h-0.8zM436.7,222.1h0.8v0.8h-0.8zM431.0,225.0h0.8v0.8h-0.8zM425.5,223.8h0.8v0.8h-0.8zM445.7,217.5h0.8v0.8h-0.8zM430.7,225.5h0.8v0.8h-0.8zM425.8,222.4h0.8v0.8h-0.8zM417.7,220.3h0.8v0.8h-0.8zM429.9,228.8h0.8v0.8h-0.8zM436.2,219.5h0.8v0.8h-0.8zM421.9,232.7h0.8v0.8h-0.8zM435.8,212.2h0.8v0.8h-0.8zM427.2,217.8h0.8v0.8h-0.8zM425.4,213.3h0.8v0.8h-0.8zM426.7,219.9h0.8v0.8h-0.8zM428.0,228.4h0.8v0.8h-0.8zM431.2,216.0h0.8v0.8h-0.8zM417.5,219.8h0.8v0.8h-0.8zM437.7,227.9h0.8v0.8h-0.8zM425.6,229.1h0.8v0.8h-0.8zM432.7,219.4h0.8v0.8h-0.8zM432.7,222.3h0.8v0.8h-0.8zM421.9,220.4h0.8v0.8h-0.8zM430.8,230.0h0.8v0.8h-0.8zM422.5,224.1h0.8v0.8h-0.8zM429.9,222.5h0.8v0.8h-0.8zM421.2,229.7h0.8v0.8h-0.8zM438.8,231.6h0.8v0.8h-0.8zM433.0,231.0h0.8v0.8h-0.8zM433.5,228.3h0.8v0.8h-0.8zM427.4,224.1h0.8v0.8h-0.8zM427.5,217.0h0.8v0.8h-0.8zM426.7,216.7h0.8v0.8h-0.8zM422.0,220.7h0.8v0.8h-0.8zM425.6,234.2h0.8v0.8h-0.8zM442.3,228.8h0.8v0.8h-0.8zM435.4,218.1h0.8v0.8h-0.8zM431.8,214.9h0.8v0.8h-0.8zM425.4,220.2h0.8v0.8h-0.8zM427.2,227.6h0.8v0.8h-0.8zM424.3,236.2h0.8v0.8h-0.8zM426.2,227.6h0.8v0.8h-0.8zM418.7,227.9h0.8v0.8h-0.8zM421.2,224.0h0.8v0.8h-0.8zM429.8,227.4h0.8v0.8h-0.8zM434.2,225.0h0.8v0.8h-0.8zM428.8,233.7h0.8v0.8h-0.8zM426.6,223.0h0.8v0.8h-0.8zM426.5,223.6h0.8v0.8h-0.8zM423.1,220.6h0.8v0.8h-0.8zM433.4,219.7h0.8v0.8h-0.8zM433.1,219.7h0.8v0.8h-0.8zM439.9,222.1h0.8v0.8h-0.8zM442.2,225.6h0.8v0.8h-0.8zM428.9,228.1h0.8v0.8h-0.8zM438.1,231.3h0.8v0.8h-0.8zM439.7,227.8h0.8v0.8h-0.8zM421.6,228.1h0.8v0.8h-0.8zM429.2,225.1h0.8v0.8h-0.8zM438.8,218.9h0.8v0.8h-0.8zM433.8,221.2h0.8v0.8h-0.8zM439.6,223.9h0.8v0.8h-0.8zM437.3,229.8h0.8v0.8h-0.8zM419.2,224.7h0.8v0.8h-0.8zM419.1,219.0h0.8v0.8h-0.8zM434.1,216.3h0.8v0.8h-0.8zM424.8,220.3h0.8v0.8h-0.8zM432.1,224.8h0.8v0.8h-0.8zM433.0,220.1h0.8v0.8h-0.8zM424.5,225.1h0.8v0.8h-0.8zM423.7,218.4h0.8v0.8h-0.8zM434.7,218.4h0.8v0.8h-0.8zM423.4,229.1h0.8v0.8h-0.8zM429.5,210.5h0.8v0.8h-0.8zM424.5,233.6h0.8v0.8h-0.8zM434.7,226.9h0.8v0.8h-0.8zM432.0,212.7h0.8v0.8h-0.8zM436.8,224.4h0.8v0.8h-0.8zM428.1,213.9h0.8v0.8h-0.8zM425.3,222.2h0.8v0.8h-0.8zM428.0,224.1h0.8v0.8h-0.8zM427.0,228.3h0.8v0.8h-0.8zM434.1,216.4h0.8v0.8h-0.8zM425.5,225.1h0.8v0.8h-0.8zM425.8,230.5h0.8v0.8h-0.8zM425.9,224.1h0.8v0.8h-0.8zM434.0,216.5h0.8v0.8h-0.8zM438.5,221.6h0.8v0.8h-0.8zM424.7,218.9h0.8v0.8h-0.8zM417.8,215.2h0.8v0.8h-0.8zM440.2,222.1h0.8v0.8h-0.8zM427.7,223.8h0.8v0.8h-0.8zM433.7,218.4h0.8v0.8h-0.8zM428.2,224.3h0.8v0.8h-0.8zM436.8,224.2h0.8v0.8h-0.8zM441.4,221.6h0.8v0.8h-0.8zM427.3,215.1h0.8v0.8h-0.8zM429.4,226.3h0.8v0.8h-0.8zM428.0,221.8h0.8v0.8h-0.8zM422.8,219.5h0.8v0.8h-0.8zM426.6,222.3h0.8v0.8h-0.8zM437.2,225.6h0.8v0.8h-0.8zM436.1,229.2h0.8v0.8h-0.8zM426.4,230.1h0.8v0.8h-0.8zM430.0,215.5h0.8v0.8h-0.8zM425.4,222.3h0.8v0.8h-0.8zM429.3,227.5h0.8v0.8h-0.8zM421.2,223.3h0.8v0.8h-0.8zM431.5,218.5h0.8v0.8h-0.8zM431.4,222.7h0.8v0.8h-0.8zM432.3,216.1h0.8v0.8h-0.8zM433.3,221.2h0.8v0.8h-0.8zM423.7,210.6h0.8v0.8h-0.8zM428.3,220.7h0.8v0.8h-0.8zM440.1,229.6h0.8v0.8h-0.8zM432.5,224.1h0.8v0.8h-0.8zM433.1,214.6h0.8v0.8h-0.8zM439.5,220.9h0.8v0.8h-0.8zM424.4,222.7h0.8v0.8h-0.8zM421.4,214.1h0.8v0.8h-0.8zM433.7,231.5h0.8v0.8h-0.8zM429.7,220.9h0.8v0.8h-0.8zM431.9,219.9h0.8v0.8h-0.8zM430.5,224.9h0.8v0.8h-0.8zM428.0,220.4h0.8v0.8h-0.8zM430.1,223.0h0.8v0.8h-0.8zM434.3,214.4h0.8v0.8h-0.8zM421.7,220.0h0.8v0.8h-0.8zM433.0,215.5h0.8v0.8h-0.8zM438.0,230.5h0.8v0.8h-0.8zM424.4,228.8h0.8v0.8h-0.8zM414.9,222.1h0.8v0.8h-0.8zM418.2,228.5h0.8v0.8h-0.8zM435.4,225.4h0.8v0.8h-0.8zM425.4,216.4h0.8v0.8h-0.8zM432.4,219.7h0.8v0.8h-0.8zM434.2,213.8h0.8v0.8h-0.8zM432.4,225.4h0.8v0.8h-0.8zM424.4,219.2h0.8v0.8h-0.8zM417.3,222.6h0.8v0.8h-0.8zM421.4,222.0h0.8v0.8h-0.8zM416.5,215.9h0.8v0.8h-0.8zM434.2,213.0h0.8v0.8h-0.8zM429.0,230.4h0.8v0.8h-0.8zM434.9,215.2h0.8v0.8h-0.8zM444.8,219.4h0.8v0.8h-0.8zM435.8,227.7h0.8v0.8h-0.8zM427.0,225.9h0.8v0.8h-0.8zM430.4,220.5h0.8v0.8h-0.8zM430.1,228.3h0.8v0.8h-0.8zM435.8,219.0h0.8v0.8h-0.8zM434.8,228.9h0.8v0.8h-0.8zM430.0,224.5h0.8v0.8h-0.8zM431.9,214.1h0.8v0.8h-0.8zM435.2,228.8h0.8v0.8h-0.8zM422.3,216.0h0.8v0.8h-0.8zM427.8,223.6h0.8v0.8h-0.8zM434.9,221.1h0.8v0.8h-0.8zM429.4,216.9h0.8v0.8h-0.8zM431.2,218.1h0.8v0.8h-0.8zM436.2,226.2h0.8v0.8h-0.8zM417.7,224.2h0.8v0.8h-0.8zM421.5,227.6h0.8v0.8h-0.8zM421.9,229.3h0.8v0.8h-0.8zM436.6,233.1h0.8v0.8h-0.8zM431.4,222.6h0.8v0.8h-0.8zM437.6,215.6h0.8v0.8h-0.8zM428.8,220.6h0.8v0.8h-0.8zM428.7,213.6h0.8v0.8h-0.8zM417.4,212.9h0.8v0.8h-0.8zM439.4,220.5h0.8v0.8h-0.8zM433.5,221.6h0.8v0.8h-0.8zM427.4,229.4h0.8v0.8h-0.8zM412.9,221.1h0.8v0.8h-0.8zM423.6,217.2h0.8v0.8h-0.8zM417.8,213.8h0.8v0.8h-0.8zM420.7,228.3h0.8v0.8h-0.8zM424.3,219.7h0.8v0.8h-0.8zM427.9,225.7h0.8v0.8h-0.8zM436.3,223.3h0.8v0.8h-0.8zM429.1,225.2h0.8v0.8h-0.8zM423.5,223.5h0.8v0.8h-0.8zM440.9,218.7h0.8v0.8h-0.8zM423.1,213.8h0.8v0.8h-0.8zM429.5,225.7h0.8v0.8h-0.8zM426.1,220.5h0.8v0.8h-0.8zM437.3,222.5h0.8v0.8h-0.8zM434.0,220.3h0.8v0.8h-0.8zM438.2,227.3h0.8v0.8h-0.8zM428.1,219.0h0.8v0.8h-0.8zM433.9,222.7h0.8v0.8h-0.8zM428.6,214.0h0.8v0.8h-0.8zM429.3,218.0h0.8v0.8h-0.8zM421.0,221.0h0.8v0.8h-0.8zM431.3,221.6h0.8v0.8h-0.8zM425.7,226.4h0.8v0.8h-0.8zM430.9,220.4h0.8v0.8h-0.8zM433.2,224.0h0.8v0.8h-0.8zM435.6,226.9h0.8v0.8h-0.8zM434.4,219.2h0.8v0.8h-0.8zM438.4,227.9h0.8v0.8h-0.8zM425.5,229.2h0.8v0.8h-0.8zM429.9,216.9h0.8v0.8h-0.8zM429.0,215.4h0.8v0.8h-0.8zM437.1,215.5h0.8v0.8h-0.8zM439.4,217.7h0.8v0.8h-0.8zM428.3,229.4h0.8v0.8h-0.8zM431.7,213.5h0.8v0.8h-0.8zM428.3,212.5h0.8v0.8h-0.8zM433.9,216.9h0.8v0.8h-0.8zM428.7,221.7h0.8v0.8h-0.8zM418.8,224.3h0.8v0.8h-0.8zM441.6,217.5h0.8v0.8h-0.8zM425.3,224.5h0.8v0.8h-0.8zM437.7,217.7h0.8v0.8h-0.8zM430.7,224.4h0.8v0.8h-0.8zM436.6,218.0h0.8v0.8h-0.8zM419.9,218.2h0.8v0.8h-0.8zM431.9,219.0h0.8v0.8h-0.8zM425.7,222.5h0.8v0.8h-0.8zM424.3,219.2h0.8v0.8h-0.8zM430.9,220.4h0.8v0.8h-0.8zM431.9,228.2h0.8v0.8h-0.8zM437.2,223.1h0.8v0.8h-0.8zM443.6,220.4h0.8v0.8h-0.8zM435.6,232.4h0.8v0.8h-0.8zM430.8,227.0h0.8v0.8h-0.8zM426.2,219.5h0.8v0.8h-0.8zM430.9,225.2h0.8v0.8h-0.8zM432.0,226.2h0.8v0.8h-0.8zM431.7,222.2h0.8v0.8h-0.8zM425.3,222.1h0.8v0.8h-0.8zM429.9,222.6h0.8v0.8h-0.8zM422.1,229.5h0.8v0.8h-0.8zM437.1,223.9h0.8v0.8h-0.8zM426.3,228.6h0.8v0.8h-0.8zM428.0,221.4h0.8v0.8h-0.8zM433.7,219.7h0.8v0.8h-0.8zM430.5,220.1h0.8v0.8h-0.8zM433.8,225.0h0.8v0.8h-0.8zM434.6,225.1h0.8v0.8h-0.8zM431.9,224.8h0.8v0.8h-0.8zM435.1,217.6h0.8v0.8h-0.8zM421.7,223.1h0.8v0.8h-0.8zM430.8,221.4h0.8v0.8h-0.8zM440.0,225.3h0.8v0.8h-0.8zM438.3,223.3h0.8v0.8h-0.8zM420.4,215.4h0.8v0.8h-0.8zM437.1,223.0h0.8v0.8h-0.8zM426.4,229.7h0.8v0.8h-0.8zM441.5,224.9h0.8v0.8h-0.8zM438.5,221.1h0.8v0.8h-0.8zM423.3,214.0h0.8v0.8h-0.8zM437.2,214.5h0.8v0.8h-0.8zM427.0,223.2h0.8v0.8h-0.8zM433.7,212.8h0.8v0.8h-0.8zM428.2,218.4h0.8v0.8h-0.8zM439.7,221.8h0.8v0.8h-0.8zM425.3,231.9h0.8v0.8h-0.8zM430.8,227.0h0.8v0.8h-0.8zM432.0,222.0h0.8v0.8h-0.8zM434.8,219.0h0.8v0.8h-0.8zM420.4,219.3h0.8v0.8h-0.8zM434.0,220.8h0.8v0.8h-0.8zM437.0,226.6h0.8v0.8h-0.8zM431.2,228.7h0.8v0.8h-0.8zM432.3,224.5h0.8v0.8h-0.8zM427.9,222.3h0.8v0.8h-0.8zM429.3,228.4h0.8v0.8h-0.8zM440.5,228.6h0.8v0.8h-0.8zM431.5,222.2h0.8v0.8h-0.8zM431.5,219.8h0.8v0.8h-0.8zM429.7,221.1h0.8v0.8h-0.8zM429.5,210.2h0.8v0.8h-0.8zM429.8,226.3h0.8v0.8h-0.8zM422.5,232.2h0.8v0.8h-0.8zM430.8,219.8h0.8v0.8h-0.8zM439.4,217.8h0.8v0.8h-0.8zM436.1,230.4h0.8v0.8h-0.8zM434.5,223.5h0.8v0.8h-0.8zM425.0,222.1h0.8v0.8h-0.8zM431.3,228.1h0.8v0.8h-0.8zM414.9,226.1h0.8v0.8h-0.8zM422.2,219.6h0.8v0.8h-0.8zM429.1,219.5h0.8v0.8h-0.8zM433.9,214.2h0.8v0.8h-0.8zM433.0,217.5h0.8v0.8h-0.8zM427.3,222.4h0.8v0.8h-0.8zM420.3,225.0h0.8v0.8h-0.8zM444.2,219.4h0.8v0.8h-0.8zM423.7,230.8h0.8v0.8h-0.8zM441.0,212.0h0.8v0.8h-0.8zM427.4,218.5h0.8v0.8h-0.8zM430.9,222.3h0.8v0.8h-0.8zM422.9,220.5h0.8v0.8h-0.8zM437.2,217.9h0.8v0.8h-0.8zM431.3,226.2h0.8v0.8h-0.8zM441.4,225.1h0.8v0.8h-0.8zM431.4,217.8h0.8v0.8h-0.8zM431.5,229.9h0.8v0.8h-0.8zM432.9,229.3h0.8v0.8h-0.8zM426.6,227.0h0.8v0.8h-0.8zM428.1,219.1h0.8v0.8h-0.8zM425.6,229.2h0.8v0.8h-0.8zM433.7,221.9h0.8v0.8h-0.8zM428.1,227.1h0.8v0.8h-0.8zM426.8,228.8h0.8v0.8h-0.8zM431.9,219.9h0.8v0.8h-0.8zM428.5,217.3h0.8v0.8h-0.8zM422.6,220.2h0.8v0.8h-0.8zM426.5,220.9h0.8v0.8h-0.8zM424.7,219.3h0.8v0.8h-0.8zM432.0,215.8h0.8v0.8h-0.8zM430.5,223.8h0.8v0.8h-0.8zM437.7,228.9h0.8v0.8h-0.8zM439.6,227.9h0.8v0.8h-0.8zM435.0,225.4h0.8v0.8h-0.8zM429.0,222.2h0.8v0.8h-0.8zM429.0,217.6h0.8v0.8h-0.8zM437.6,219.1h0.8v0.8h-0.8zM432.4,218.3h0.8v0.8h-0.8zM422.0,228.8h0.8v0.8h-0.8zM430.7,214.6h0.8v0.8h-0.8zM434.3,227.7h0.8v0.8h-0.8zM427.9,226.6h0.8v0.8h-0.8zM438.7,229.1h0.8v0.8h-0.8zM434.1,227.0h0.8v0.8h-0.8zM440.9,224.0h0.8v0.8h-0.8zM428.0,221.4h0.8v0.8h-0.8zM430.0,213.0h0.8v0.8h-0.8zM429.6,221.9h0.8v0.8h-0.8zM429.3,227.0h0.8v0.8h-0.8zM439.9,224.1h0.8v0.8h-0.8zM424.4,220.2h0.8v0.8h-0.8zM429.9,219.0h0.8v0.8h-0.8zM429.3,225.7h0.8v0.8h-0.8zM431.3,233.7h0.8v0.8h-0.8zM418.6,223.6h0.8v0.8h-0.8zM437.0,217.0h0.8v0.8h-0.8zM436.3,225.7h0.8v0.8h-0.8zM438.0,217.5h0.8v0.8h-0.8zM422.0,231.2h0.8v0.8h-0.8zM430.6,214.2h0.8v0.8h-0.8zM428.9,231.3h0.8v0.8h-0.8zM422.5,214.3h0.8v0.8h-0.8zM413.9,222.0h0.8v0.8h-0.8zM429.1,219.3h0.8v0.8h-0.8zM425.9,221.3h0.8v0.8h-0.8zM425.4,219.7h0.8v0.8h-0.8zM436.4,222.9h0.8v0.8h-0.8zM433.3,212.9h0.8v0.8h-0.8zM423.5,228.2h0.8v0.8h-0.8zM430.7,228.3h0.8v0.8h-0.8zM419.8,226.2h0.8v0.8h-0.8zM425.9,222.8h0.8v0.8h-0.8zM425.0,217.7h0.8v0.8h-0.8zM422.5,222.1h0.8v0.8h-0.8zM436.8,217.0h0.8v0.8h-0.8zM425.6,217.5h0.8v0.8h-0.8zM424.0,226.4h0.8v0.8h-0.8zM426.8,217.7h0.8v0.8h-0.8zM434.5,224.6h0.8v0.8h-0.8zM432.1,223.6h0.8v0.8h-0.8zM425.7,227.1h0.8v0.8h-0.8zM425.5,224.0h0.8v0.8h-0.8zM430.8,229.0h0.8v0.8h-0.8zM428.6,227.1h0.8v0.8h-0.8zM418.1,223.5h0.8v0.8h-0.8zM431.1,223.3h0.8v0.8h-0.8zM415.9,226.7h0.8v0.8h-0.8zM425.5,219.1h0.8v0.8h-0.8zM440.4,221.6h0.8v0.8h-0.8zM436.1,213.6h0.8v0.8h-0.8zM434.5,223.9h0.8v0.8h-0.8zM431.8,217.7h0.8v0.8h-0.8zM432.2,221.8h0.8v0.8h-0.8zM439.0,220.1h0.8v0.8h-0.8zM418.8,228.5h0.8v0.8h-0.8zM422.4,221.7h0.8v0.8h-0.8zM434.9,231.8h0.8v0.8h-0.8zM433.6,226.7h0.8v0.8h-0.8zM431.1,223.5h0.8v0.8h-0.8zM429.4,224.6h0.8v0.8h-0.8zM423.7,224.0h0.8v0.8h-0.8zM437.8,223.7h0.8v0.8h-0.8zM428.8,226.9h0.8v0.8h-0.8zM423.9,221.7h0.8v0.8h-0.8zM445.2,227.3h0.8v0.8h-0.8zM435.1,222.3h0.8v0.8h-0.8zM425.0,216.9h0.8v0.8h-0.8zM430.1,229.8h0.8v0.8h-0.8zM429.5,227.4h0.8v0.8h-0.8zM428.0,223.5h0.8v0.8h-0.8zM430.8,218.1h0.8v0.8h-0.8zM436.3,222.9h0.8v0.8h-0.8zM433.7,219.1h0.8v0.8h-0.8zM436.0,219.3h0.8v0.8h-0.8zM432.6,220.8h0.8v0.8h-0.8zM424.9,226.1h0.8v0.8h-0.8zM432.8,212.2h0.8v0.8h-0.8zM434.7,227.3h0.8v0.8h-0.8zM431.2,224.8h0.8v0.8h-0.8zM431.9,224.6h0.8v0.8h-0.8zM427.6,228.5h0.8v0.8h-0.8zM438.4,218.5h0.8v0.8h-0.8zM430.4,218.1h0.8v0.8h-0.8zM426.9,228.1h0.8v0.8h-0.8zM430.2,224.1h0.8v0.8h-0.8zM427.4,235.5h0.8v0.8h-0.8zM437.9,225.1h0.8v0.8h-0.8zM431.3,232.3h0.8v0.8h-0.8zM438.1,224.6h0.8v0.8h-0.8zM428.8,216.9h0.8v0.8h-0.8zM439.1,232.0h0.8v0.8h-0.8zM445.9,224.5h0.8v0.8h-0.8zM436.0,212.6h0.8v0.8h-0.8zM434.5,219.0h0.8v0.8h-0.8zM424.5,218.6h0.8v0.8h-0.8zM424.1,220.3h0.8v0.8h-0.8zM433.7,219.3h0.8v0.8h-0.8zM427.6,222.2h0.8v0.8h-0.8zM443.6,227.1h0.8v0.8h-0.8zM425.8,227.2h0.8v0.8h-0.8zM441.2,222.2h0.8v0.8h-0.8zM434.9,228.7h0.8v0.8h-0.8zM420.5,223.8h0.8v0.8h-0.8zM429.2,227.4h0.8v0.8h-0.8zM438.9,220.5h0.8v0.8h-0.8zM419.8,220.4h0.8v0.8h-0.8zM430.1,219.5h0.8v0.8h-0.8zM431.7,216.8h0.8v0.8h-0.8zM433.6,226.9h0.8v0.8h-0.8zM443.5,222.4h0.8v0.8h-0.8zM436.8,219.3h0.8v0.8h-0.8zM425.4,218.8h0.8v0.8h-0.8zM429.2,216.2h0.8v0.8h-0.8zM428.0,223.0h0.8v0.8h-0.8zM431.2,220.7h0.8v0.8h-0.8zM428.6,228.9h0.8v0.8h-0.8zM431.8,228.8h0.8v0.8h-0.8zM422.0,225.5h0.8v0.8h-0.8zM423.9,216.2h0.8v0.8h-0.8zM434.9,224.3h0.8v0.8h-0.8zM434.7,226.3h0.8v0.8h-0.8zM416.8,225.9h0.8v0.8h-0.8zM442.7,223.9h0.8v0.8h-0.8zM436.4,230.5h0.8v0.8h-0.8zM427.9,222.2h0.8v0.8h-0.8zM428.3,228.7h0.8v0.8h-0.8zM431.8,221.6h0.8v0.8h-0.8zM437.0,228.8h0.8v0.8h-0.8zM432.5,230.0h0.8v0.8h-0.8zM421.2,222.6h0.8v0.8h-0.8zM421.0,232.8h0.8v0.8h-0.8zM428.2,228.0h0.8v0.8h-0.8zM433.1,226.9h0.8v0.8h-0.8zM436.7,228.8h0.8v0.8h-0.8zM435.2,223.5h0.8v0.8h-0.8zM434.9,213.0h0.8v0.8h-0.8zM423.9,230.6h0.8v0.8h-0.8zM433.7,215.6h0.8v0.8h-0.8zM421.5,216.7h0.8v0.8h-0.8zM427.3,227.5h0.8v0.8h-0.8zM429.8,227.0h0.8v0.8h-0.8zM421.3,222.4h0.8v0.8h-0.8zM431.1,225.2h0.8v0.8h-0.8zM434.8,223.6h0.8v0.8h-0.8zM435.4,229.4h0.8v0.8h-0.8zM433.3,216.7h0.8v0.8h-0.8zM425.5,218.5h0.8v0.8h-0.8zM440.4,227.1h0.8v0.8h-0.8zM430.4,219.9h0.8v0.8h-0.8zM426.1,230.7h0.8v0.8h-0.8zM428.8,219.8h0.8v0.8h-0.8zM424.8,226.5h0.8v0.8h-0.8zM417.6,220.1h0.8v0.8h-0.8zM434.1,227.2h0.8v0.8h-0.8zM433.9,221.4h0.8v0.8h-0.8zM435.5,231.7h0.8v0.8h-0.8zM424.3,218.6h0.8v0.8h-0.8zM427.6,223.5h0.8v0.8h-0.8zM426.5,219.7h0.8v0.8h-0.8zM415.0,227.6h0.8v0.8h-0.8zM423.0,223.1h0.8v0.8h-0.8zM426.6,226.6h0.8v0.8h-0.8zM421.8,217.1h0.8v0.8h-0.8zM430.5,223.3h0.8v0.8h-0.8zM426.7,225.0h0.8v0.8h-0.8zM426.6,221.1h0.8v0.8h-0.8zM422.1,222.8h0.8v0.8h-0.8zM436.1,222.2h0.8v0.8h-0.8zM429.5,228.0h0.8v0.8h-0.8zM427.2,219.6h0.8v0.8h-0.8zM430.6,231.7h0.8v0.8h-0.8zM427.4,222.6h0.8v0.8h-0.8zM432.1,220.6h0.8v0.8h-0.8zM427.5,229.6h0.8v0.8h-0.8zM418.5,225.5h0.8v0.8h-0.8zM436.1,229.4h0.8v0.8h-0.8zM431.5,225.5h0.8v0.8h-0.8zM426.2,214.0h0.8v0.8h-0.8zM431.4,223.9h0.8v0.8h-0.8zM432.8,229.9h0.8v0.8h-0.8zM446.8,225.7h0.8v0.8h-0.8zM441.4,224.0h0.8v0.8h-0.8zM432.3,217.9h0.8v0.8h-0.8zM431.7,219.9h0.8v0.8h-0.8zM431.4,215.9h0.8v0.8h-0.8zM437.4,215.1h0.8v0.8h-0.8zM433.2,212.3h0.8v0.8h-0.8zM430.0,224.4h0.8v0.8h-0.8zM435.5,231.0h0.8v0.8h-0.8zM421.9,222.3h0.8v0.8h-0.8zM428.4,223.2h0.8v0.8h-0.8zM438.1,219.8h0.8v0.8h-0.8zM423.0,219.7h0.8v0.8h-0.8zM435.9,218.9h0.8v0.8h-0.8zM417.8,220.6h0.8v0.8h-0.8zM437.8,231.3h0.8v0.8h-0.8zM425.5,219.5h0.8v0.8h-0.8zM435.0,228.3h0.8v0.8h-0.8zM429.9,223.3h0.8v0.8h-0.8zM435.3,214.9h0.8v0.8h-0.8zM439.6,217.5h0.8v0.8h-0.8zM417.1,229.8h0.8v0.8h-0.8zM430.3,227.2h0.8v0.8h-0.8zM419.7,224.6h0.8v0.8h-0.8zM432.0,224.1h0.8v0.8h-0.8zM431.1,222.6h0.8v0.8h-0.8zM429.6,216.8h0.8v0.8h-0.8zM443.4,220.3h0.8v0.8h-0.8zM421.4,224.5h0.8v0.8h-0.8zM428.2,219.0h0.8v0.8h-0.8zM417.9,220.3h0.8v0.8h-0.8zM427.3,222.5h0.8v0.8h-0.8zM434.1,225.4h0.8v0.8h-0.8zM442.6,220.8h0.8v0.8h-0.8zM428.0,228.8h0.8v0.8h-0.8zM438.1,221.7h0.8v0.8h-0.8zM426.5,229.2h0.8v0.8h-0.8zM434.4,229.2h0.8v0.8h-0.8zM437.6,225.9h0.8v0.8h-0.8zM431.5,224.0h0.8v0.8h-0.8zM430.3,216.5h0.8v0.8h-0.8zM433.8,227.7h0.8v0.8h-0.8zM435.0,219.6h0.8v0.8h-0.8zM428.8,229.2h0.8v0.8h-0.8zM437.7,218.3h0.8v0.8h-0.8zM420.3,224.3h0.8v0.8h-0.8zM420.2,233.3h0.8v0.8h-0.8zM429.3,226.8h0.8v0.8h-0.8zM417.5,223.8h0.8v0.8h-0.8zM431.4,215.0h0.8v0.8h-0.8zM442.5,223.1h0.8v0.8h-0.8zM433.1,221.5h0.8v0.8h-0.8zM431.6,226.6h0.8v0.8h-0.8zM432.7,225.3h0.8v0.8h-0.8zM419.2,222.9h0.8v0.8h-0.8zM421.5,224.5h0.8v0.8h-0.8zM425.0,213.5h0.8v0.8h-0.8zM440.8,221.5h0.8v0.8h-0.8zM427.6,223.0h0.8v0.8h-0.8zM428.7,226.5h0.8v0.8h-0.8zM440.9,220.8h0.8v0.8h-0.8zM434.4,226.6h0.8v0.8h-0.8zM421.3,226.7h0.8v0.8h-0.8zM436.2,222.2h0.8v0.8h-0.8zM427.7,217.6h0.8v0.8h-0.8zM436.8,219.3h0.8v0.8h-0.8zM431.0,215.8h0.8v0.8h-0.8zM427.8,213.9h0.8v0.8h-0.8zM424.1,226.8h0.8v0.8h-0.8zM421.9,217.0h0.8v0.8h-0.8zM424.5,220.1h0.8v0.8h-0.8zM421.7,223.5h0.8v0.8h-0.8zM425.5,226.3h0.8v0.8h-0.8zM432.4,223.8h0.8v0.8h-0.8zM431.7,224.9h0.8v0.8h-0.8zM417.5,230.1h0.8v0.8h-0.8zM423.9,211.2h0.8v0.8h-0.8zM419.8,211.7h0.8v0.8h-0.8zM431.0,220.9h0.8v0.8h-0.8zM447.8,223.2h0.8v0.8h-0.8zM424.5,229.7h0.8v0.8h-0.8zM423.8,222.2h0.8v0.8h-0.8zM420.9,218.4h0.8v0.8h-0.8zM440.5,228.5h0.8v0.8h-0.8zM436.9,223.1h0.8v0.8h-0.8zM438.1,213.4h0.8v0.8h-0.8zM439.1,214.6h0.8v0.8h-0.8zM422.9,224.6h0.8v0.8h-0.8zM421.6,223.9h0.8v0.8h-0.8zM431.4,228.2h0.8v0.8h-0.8zM428.7,223.1h0.8v0.8h-0.8zM427.7,222.1h0.8v0.8h-0.8zM427.7,222.3h0.8v0.8h-0.8zM433.1,228.6h0.8v0.8h-0.8zM431.3,212.9h0.8v0.8h-0.8zM422.2,225.6h0.8v0.8h-0.8zM430.7,222.3h0.8v0.8h-0.8zM425.9,214.8h0.8v0.8h-0.8zM442.5,215.0h0.8v0.8h-0.8zM424.2,226.5h0.8v0.8h-0.8zM430.4,226.6h0.8v0.8h-0.8zM438.3,216.7h0.8v0.8h-0.8zM433.0,218.7h0.8v0.8h-0.8zM430.1,222.0h0.8v0.8h-0.8zM423.9,223.1h0.8v0.8h-0.8zM447.4,223.3h0.8v0.8h-0.8zM417.6,229.6h0.8v0.8h-0.8zM421.3,220.7h0.8v0.8h-0.8zM426.2,219.9h0.8v0.8h-0.8zM426.6,220.9h0.8v0.8h-0.8zM441.0,224.8h0.8v0.8h-0.8zM445.6,225.1h0.8v0.8h-0.8zM432.3,235.0h0.8v0.8h-0.8zM426.1,231.2h0.8v0.8h-0.8zM424.3,230.2h0.8v0.8h-0.8zM432.1,226.6h0.8v0.8h-0.8zM435.6,219.8h0.8v0.8h-0.8zM445.8,219.6h0.8v0.8h-0.8zM436.1,229.0h0.8v0.8h-0.8zM431.5,227.9h0.8v0.8h-0.8zM428.3,226.7h0.8v0.8h-0.8zM425.8,221.0h0.8v0.8h-0.8zM428.1,225.6h0.8v0.8h-0.8zM428.7,232.4h0.8v0.8h-0.8zM431.3,223.8h0.8v0.8h-0.8zM430.0,229.6h0.8v0.8h-0.8zM427.4,228.2h0.8v0.8h-0.8zM429.9,214.9h0.8v0.8h-0.8zM430.8,234.3h0.8v0.8h-0.8zM424.2,228.5h0.8v0.8h-0.8zM422.5,230.1h0.8v0.8h-0.8zM422.8,219.9h0.8v0.8h-0.8zM431.3,224.9h0.8v0.8h-0.8zM429.1,233.7h0.8v0.8h-0.8zM436.4,220.5h0.8v0.8h-0.8zM434.2,224.6h0.8v0.8h-0.8zM433.4,221.9h0.8v0.8h-0.8zM427.7,224.1h0.8v0.8h-0.8zM423.6,223.1h0.8v0.8h-0.8zM416.7,222.8h0.8v0.8h-0.8zM426.4,217.6h0.8v0.8h-0.8zM430.2,221.6h0.8v0.8h-0.8zM436.4,231.9h0.8v0.8h-0.8zM419.4,222.1h0.8v0.8h-0.8zM419.4,216.5h0.8v0.8h-0.8zM430.0,226.4h0.8v0.8h-0.8zM426.6,233.7h0.8v0.8h-0.8zM418.1,222.8h0.8v0.8h-0.8zM430.9,218.0h0.8v0.8h-0.8zM429.0,213.4h0.8v0.8h-0.8zM421.5,222.6h0.8v0.8h-0.8zM422.4,224.1h0.8v0.8h-0.8zM432.2,230.0h0.8v0.8h-0.8zM433.3,219.7h0.8v0.8h-0.8zM424.1,225.6h0.8v0.8h-0.8zM425.4,235.0h0.8v0.8h-0.8zM429.6,220.7h0.8v0.8h-0.8zM423.5,222.5h0.8v0.8h-0.8zM427.8,225.0h0.8v0.8h-0.8zM424.7,219.9h0.8v0.8h-0.8zM428.4,220.5h0.8v0.8h-0.8zM422.5,222.3h0.8v0.8h-0.8zM428.4,221.5h0.8v0.8h-0.8zM432.0,216.5h0.8v0.8h-0.8zM430.0,226.3h0.8v0.8h-0.8zM430.4,222.2h0.8v0.8h-0.8zM424.9,220.6h0.8v0.8h-0.8zM432.9,225.7h0.8v0.8h-0.8zM436.7,223.4h0.8v0.8h-0.8zM431.9,223.8h0.8v0.8h-0.8zM423.2,210.9h0.8v0.8h-0.8zM434.7,229.5h0.8v0.8h-0.8zM434.3,222.2h0.8v0.8h-0.8zM434.7,228.4h0.8v0.8h-0.8zM438.7,225.3h0.8v0.8h-0.8zM437.3,213.2h0.8v0.8h-0.8zM436.7,227.6h0.8v0.8h-0.8zM422.3,222.8h0.8v0.8h-0.8zM433.9,229.9h0.8v0.8h-0.8zM436.1,229.8h0.8v0.8h-0.8zM430.3,223.1h0.8v0.8h-0.8zM433.9,219.1h0.8v0.8h-0.8zM422.9,226.6h0.8v0.8h-0.8zM428.7,223.1h0.8v0.8h-0.8zM428.1,227.3h0.8v0.8h-0.8zM428.2,231.0h0.8v0.8h-0.8zM421.2,221.8h0.8v0.8h-0.8zM425.8,220.3h0.8v0.8h-0.8zM421.4,222.2h0.8v0.8h-0.8zM423.0,217.4h0.8v0.8h-0.8zM433.7,222.7h0.8v0.8h-0.8zM420.6,222.5h0.8v0.8h-0.8zM433.6,227.5h0.8v0.8h-0.8zM430.2,229.9h0.8v0.8h-0.8zM428.4,218.9h0.8v0.8h-0.8zM425.4,223.9h0.8v0.8h-0.8zM435.0,219.6h0.8v0.8h-0.8zM427.6,225.9h0.8v0.8h-0.8zM441.8,214.5h0.8v0.8h-0.8zM437.3,224.7h0.8v0.8h-0.8zM425.8,225.4h0.8v0.8h-0.8zM423.3,214.1h0.8v0.8h-0.8zM426.0,220.4h0.8v0.8h-0.8zM428.5,220.3h0.8v0.8h-0.8zM422.1,226.8h0.8v0.8h-0.8zM431.3,225.4h0.8v0.8h-0.8zM420.0,230.5h0.8v0.8h-0.8zM432.3,229.0h0.8v0.8h-0.8zM426.5,220.8h0.8v0.8h-0.8zM420.1,230.8h0.8v0.8h-0.8zM432.3,216.2h0.8v0.8h-0.8zM429.4,222.6h0.8v0.8h-0.8zM430.6,228.1h0.8v0.8h-0.8zM437.2,225.1h0.8v0.8h-0.8zM422.2,217.7h0.8v0.8h-0.8zM423.5,218.9h0.8v0.8h-0.8zM432.7,219.5h0.8v0.8h-0.8zM428.5,226.9h0.8v0.8h-0.8zM426.0,233.6h0.8v0.8h-0.8zM415.1,226.2h0.8v0.8h-0.8zM423.1,223.5h0.8v0.8h-0.8zM428.6,222.0h0.8v0.8h-0.8zM423.5,223.7h0.8v0.8h-0.8zM422.9,223.6h0.8v0.8h-0.8zM424.8,216.2h0.8v0.8h-0.8zM438.5,223.0h0.8v0.8h-0.8zM424.2,225.7h0.8v0.8h-0.8zM435.0,232.2h0.8v0.8h-0.8zM432.3,226.8h0.8v0.8h-0.8zM422.8,233.8h0.8v0.8h-0.8zM426.0,223.4h0.8v0.8h-0.8zM431.4,227.6h0.8v0.8h-0.8zM430.3,222.6h0.8v0.8h-0.8zM430.5,231.8h0.8v0.8h-0.8zM438.0,226.7h0.8v0.8h-0.8zM434.1,217.8h0.8v0.8h-0.8zM427.0,216.3h0.8v0.8h-0.8zM420.6,218.2h0.8v0.8h-0.8zM426.3,213.1h0.8v0.8h-0.8zM421.6,227.4h0.8v0.8h-0.8zM418.1,228.5h0.8v0.8h-0.8zM432.6,218.5h0.8v0.8h-0.8zM429.5,219.1h0.8v0.8h-0.8zM427.2,223.3h0.8v0.8h-0.8zM428.5,232.9h0.8v0.8h-0.8zM434.2,229.8h0.8v0.8h-0.8zM431.0,209.4h0.8v0.8h-0.8zM427.9,223.8h0.8v0.8h-0.8zM421.1,226.8h0.8v0.8h-0.8zM430.9,212.2h0.8v0.8h-0.8zM436.8,225.3h0.8v0.8h-0.8zM429.3,218.6h0.8v0.8h-0.8zM425.4,229.6h0.8v0.8h-0.8zM440.0,225.4h0.8v0.8h-0.8zM441.6,220.2h0.8v0.8h-0.8zM422.7,234.2h0.8v0.8h-0.8zM439.0,223.1h0.8v0.8h-0.8zM436.7,225.1h0.8v0.8h-0.8zM429.5,225.8h0.8v0.8h-0.8zM439.2,216.0h0.8v0.8h-0.8zM425.9,222.3h0.8v0.8h-0.8zM425.0,222.8h0.8v0.8h-0.8zM420.0,220.5h0.8v0.8h-0.8zM434.9,221.6h0.8v0.8h-0.8zM429.5,226.5h0.8v0.8h-0.8zM441.8,219.5h0.8v0.8h-0.8zM425.6,227.7h0.8v0.8h-0.8zM434.0,216.4h0.8v0.8h-0.8zM423.9,220.1h0.8v0.8h-0.8zM429.8,222.9h0.8v0.8h-0.8zM436.1,232.4h0.8v0.8h-0.8zM438.0,219.7h0.8v0.8h-0.8zM426.0,218.1h0.8v0.8h-0.8zM424.1,228.6h0.8v0.8h-0.8zM433.0,211.2h0.8v0.8h-0.8zM429.8,229.1h0.8v0.8h-0.8zM419.2,226.3h0.8v0.8h-0.8zM425.4,216.5h0.8v0.8h-0.8zM431.9,224.3h0.8v0.8h-0.8zM439.6,224.0h0.8v0.8h-0.8zM428.3,222.3h0.8v0.8h-0.8zM438.0,217.4h0.8v0.8h-0.8zM428.0,219.1h0.8v0.8h-0.8zM427.1,229.6h0.8v0.8h-0.8zM425.6,228.9h0.8v0.8h-0.8zM424.6,216.9h0.8v0.8h-0.8zM429.7,230.0h0.8v0.8h-0.8zM428.6,224.0h0.8v0.8h-0.8zM423.9,229.4h0.8v0.8h-0.8zM434.8,219.0h0.8v0.8h-0.8zM435.4,229.6h0.8v0.8h-0.8zM438.0,225.0h0.8v0.8h-0.8zM438.1,228.7h0.8v0.8h-0.8zM430.7,213.5h0.8v0.8h-0.8zM423.2,231.1h0.8v0.8h-0.8zM424.9,222.6h0.8v0.8h-0.8zM428.7,219.3h0.8v0.8h-0.8zM442.3,219.9h0.8v0.8h-0.8zM440.7,223.6h0.8v0.8h-0.8zM427.8,223.5h0.8v0.8h-0.8zM420.7,224.3h0.8v0.8h-0.8zM434.0,223.5h0.8v0.8h-0.8zM430.6,218.8h0.8v0.8h-0.8zM434.6,218.9h0.8v0.8h-0.8zM426.4,218.5h0.8v0.8h-0.8zM440.4,223.9h0.8v0.8h-0.8zM427.7,229.8h0.8v0.8h-0.8zM427.3,216.4h0.8v0.8h-0.8zM431.6,226.0h0.8v0.8h-0.8zM437.1,212.6h0.8v0.8h-0.8zM425.0,229.5h0.8v0.8h-0.8zM433.9,222.3h0.8v0.8h-0.8zM417.7,222.7h0.8v0.8h-0.8zM424.8,217.1h0.8v0.8h-0.8zM431.7,217.9h0.8v0.8h-0.8zM431.0,227.7h0.8v0.8h-0.8zM427.0,228.4h0.8v0.8h-0.8zM439.8,230.2h0.8v0.8h-0.8zM423.3,216.2h0.8v0.8h-0.8zM423.5,215.1h0.8v0.8h-0.8zM424.8,224.4h0.8v0.8h-0.8zM430.7,225.6h0.8v0.8h-0.8zM440.3,221.3h0.8v0.8h-0.8zM423.7,217.4h0.8v0.8h-0.8zM422.3,225.8h0.8v0.8h-0.8zM440.3,225.1h0.8v0.8h-0.8zM427.3,224.0h0.8v0.8h-0.8zM437.9,220.7h0.8v0.8h-0.8zM435.2,223.4h0.8v0.8h-0.8zM426.5,228.8h0.8v0.8h-0.8zM437.2,223.0h0.8v0.8h-0.8zM424.5,216.1h0.8v0.8h-0.8zM424.0,230.4h0.8v0.8h-0.8zM431.3,224.3h0.8v0.8h-0.8zM434.3,223.4h0.8v0.8h-0.8zM432.7,218.7h0.8v0.8h-0.8zM439.4,218.1h0.8v0.8h-0.8zM423.8,216.3h0.8v0.8h-0.8zM433.9,215.5h0.8v0.8h-0.8zM420.5,226.7h0.8v0.8h-0.8zM440.7,227.8h0.8v0.8h-0.8zM445.6,228.1h0.8v0.8h-0.8zM422.2,211.4h0.8v0.8h-0.8zM425.4,218.7h0.8v0.8h-0.8zM422.3,222.9h0.8v0.8h-0.8zM441.0,228.8h0.8v0.8h-0.8zM432.4,226.4h0.8v0.8h-0.8zM424.9,230.5h0.8v0.8h-0.8zM424.9,225.5h0.8v0.8h-0.8zM424.8,220.6h0.8v0.8h-0.8zM435.2,231.9h0.8v0.8h-0.8zM419.8,225.4h0.8v0.8h-0.8zM433.7,229.3h0.8v0.8h-0.8zM432.9,227.3h0.8v0.8h-0.8zM431.5,216.5h0.8v0.8h-0.8zM433.4,222.7h0.8v0.8h-0.8zM440.8,214.5h0.8v0.8h-0.8zM423.0,234.0h0.8v0.8h-0.8zM428.3,231.5h0.8v0.8h-0.8zM425.9,228.9h0.8v0.8h-0.8zM420.6,215.2h0.8v0.8h-0.8zM428.7,225.0h0.8v0.8h-0.8zM427.8,231.9h0.8v0.8h-0.8zM425.9,228.1h0.8v0.8h-0.8zM425.9,218.4h0.8v0.8h-0.8zM435.3,219.2h0.8v0.8h-0.8zM415.8,224.2h0.8v0.8h-0.8zM436.5,224.8h0.8v0.8h-0.8zM425.1,215.9h0.8v0.8h-0.8zM423.0,225.2h0.8v0.8h-0.8zM442.6,216.6h0.8v0.8h-0.8zM429.5,228.9h0.8v0.8h-0.8zM433.3,223.2h0.8v0.8h-0.8zM426.1,227.3h0.8v0.8h-0.8zM428.8,220.1h0.8v0.8h-0.8zM417.2,226.1h0.8v0.8h-0.8zM433.6,225.6h0.8v0.8h-0.8zM424.4,228.7h0.8v0.8h-0.8zM434.4,221.7h0.8v0.8h-0.8zM420.9,225.1h0.8v0.8h-0.8zM436.8,211.9h0.8v0.8h-0.8zM433.4,221.1h0.8v0.8h-0.8zM428.9,224.5h0.8v0.8h-0.8zM436.9,224.2h0.8v0.8h-0.8zM421.1,226.0h0.8v0.8h-0.8zM433.3,222.0h0.8v0.8h-0.8zM440.7,221.2h0.8v0.8h-0.8zM437.1,229.3h0.8v0.8h-0.8zM432.0,224.5h0.8v0.8h-0.8zM427.9,220.5h0.8v0.8h-0.8zM426.2,218.0h0.8v0.8h-0.8zM426.9,218.9h0.8v0.8h-0.8zM427.6,221.4h0.8v0.8h-0.8zM438.0,215.5h0.8v0.8h-0.8zM423.4,229.0h0.8v0.8h-0.8zM438.2,227.3h0.8v0.8h-0.8zM431.3,237.0h0.8v0.8h-0.8zM431.3,223.9h0.8v0.8h-0.8zM438.2,217.7h0.8v0.8h-0.8zM427.8,221.4h0.8v0.8h-0.8zM419.4,226.2h0.8v0.8h-0.8zM441.3,227.2h0.8v0.8h-0.8zM427.0,221.5h0.8v0.8h-0.8zM422.8,222.2h0.8v0.8h-0.8zM432.7,216.2h0.8v0.8h-0.8zM436.1,215.0h0.8v0.8h-0.8zM425.3,223.0h0.8v0.8h-0.8zM436.1,222.7h0.8v0.8h-0.8zM420.9,215.4h0.8v0.8h-0.8zM430.9,224.6h0.8v0.8h-0.8zM432.7,214.3h0.8v0.8h-0.8zM433.1,227.0h0.8v0.8h-0.8zM423.4,218.2h0.8v0.8h-0.8zM434.7,217.9h0.8v0.8h-0.8zM434.5,231.7h0.8v0.8h-0.8zM425.2,225.2h0.8v0.8h-0.8zM433.4,226.2h0.8v0.8h-0.8zM432.9,225.2h0.8v0.8h-0.8zM426.6,222.7h0.8v0.8h-0.8zM434.7,230.7h0.8v0.8h-0.8zM435.0,231.4h0.8v0.8h-0.8zM435.9,223.6h0.8v0.8h-0.8zM435.2,228.5h0.8v0.8h-0.8zM418.4,223.8h0.8v0.8h-0.8zM417.4,227.3h0.8v0.8h-0.8zM438.8,225.7h0.8v0.8h-0.8zM435.9,224.8h0.8v0.8h-0.8zM434.3,220.8h0.8v0.8h-0.8zM439.5,223.6h0.8v0.8h-0.8zM435.7,229.1h0.8v0.8h-0.8zM431.6,220.5h0.8v0.8h-0.8zM439.2,219.0h0.8v0.8h-0.8zM433.3,225.4h0.8v0.8h-0.8zM420.5,229.1h0.8v0.8h-0.8zM433.0,220.4h0.8v0.8h-0.8zM436.6,217.5h0.8v0.8h-0.8zM438.5,224.5h0.8v0.8h-0.8zM428.2,230.0h0.8v0.8h-0.8zM430.5,220.3h0.8v0.8h-0.8zM432.1,223.9h0.8v0.8h-0.8zM418.9,220.9h0.8v0.8h-0.8zM428.6,231.7h0.8v0.8h-0.8zM435.5,218.4h0.8v0.8h-0.8zM430.9,223.5h0.8v0.8h-0.8zM439.1,228.7h0.8v0.8h-0.8zM430.4,222.4h0.8v0.8h-0.8zM419.8,213.8h0.8v0.8h-0.8zM424.8,236.3h0.8v0.8h-0.8zM431.0,219.5h0.8v0.8h-0.8zM435.2,232.7h0.8v0.8h-0.8zM429.5,224.3h0.8v0.8h-0.8zM440.5,223.9h0.8v0.8h-0.8zM428.2,219.9h0.8v0.8h-0.8zM435.4,220.2h0.8v0.8h-0.8zM430.0,227.1h0.8v0.8h-0.8zM423.1,215.4h0.8v0.8h-0.8zM431.7,221.4h0.8v0.8h-0.8zM425.8,219.4h0.8v0.8h-0.8zM438.8,227.1h0.8v0.8h-0.8zM431.4,225.0h0.8v0.8h-0.8zM432.3,222.7h0.8v0.8h-0.8zM423.1,223.5h0.8v0.8h-0.8zM432.3,223.8h0.8v0.8h-0.8zM426.0,229.6h0.8v0.8h-0.8zM419.8,219.8h0.8v0.8h-0.8zM423.0,220.2h0.8v0.8h-0.8zM433.3,222.7h0.8v0.8h-0.8zM423.9,224.0h0.8v0.8h-0.8zM438.1,222.1h0.8v0.8h-0.8zM417.7,223.0h0.8v0.8h-0.8zM440.4,222.4h0.8v0.8h-0.8zM433.9,223.8h0.8v0.8h-0.8zM431.6,224.3h0.8v0.8h-0.8zM446.8,226.0h0.8v0.8h-0.8zM420.2,227.9h0.8v0.8h-0.8zM429.7,226.8h0.8v0.8h-0.8zM433.0,222.8h0.8v0.8h-0.8zM431.6,221.6h0.8v0.8h-0.8zM422.5,223.8h0.8v0.8h-0.8zM421.2,220.0h0.8v0.8h-0.8zM439.9,230.9h0.8v0.8h-0.8zM431.6,227.0h0.8v0.8h-0.8zM434.7,224.2h0.8v0.8h-0.8zM423.2,219.8h0.8v0.8h-0.8zM442.4,220.1h0.8v0.8h-0.8zM426.3,226.7h0.8v0.8h-0.8zM424.4,222.9h0.8v0.8h-0.8zM423.6,229.2h0.8v0.8h-0.8zM432.7,236.1h0.8v0.8h-0.8zM437.8,217.5h0.8v0.8h-0.8zM422.8,223.8h0.8v0.8h-0.8zM422.8,215.3h0.8v0.8h-0.8zM425.4,224.4h0.8v0.8h-0.8zM441.1,222.8h0.8v0.8h-0.8zM428.7,220.9h0.8v0.8h-0.8zM421.8,227.1h0.8v0.8h-0.8zM434.2,219.6h0.8v0.8h-0.8zM439.5,227.6h0.8v0.8h-0.8zM435.6,217.6h0.8v0.8h-0.8zM428.6,218.2h0.8v0.8h-0.8zM428.6,225.5h0.8v0.8h-0.8zM439.9,228.9h0.8v0.8h-0.8zM433.7,216.5h0.8v0.8h-0.8zM421.9,221.1h0.8v0.8h-0.8zM430.9,220.8h0.8v0.8h-0.8zM430.8,226.1h0.8v0.8h-0.8zM438.1,222.3h0.8v0.8h-0.8zM428.4,218.5h0.8v0.8h-0.8zM434.5,214.1h0.8v0.8h-0.8zM441.8,222.2h0.8v0.8h-0.8zM420.8,234.2h0.8v0.8h-0.8zM438.9,221.5h0.8v0.8h-0.8zM423.7,228.9h0.8v0.8h-0.8zM428.6,225.5h0.8v0.8h-0.8zM427.7,228.1h0.8v0.8h-0.8zM421.4,223.7h0.8v0.8h-0.8zM439.0,219.5h0.8v0.8h-0.8zM422.3,224.9h0.8v0.8h-0.8zM432.7,215.5h0.8v0.8h-0.8zM424.1,225.6h0.8v0.8h-0.8zM429.4,215.0h0.8v0.8h-0.8zM427.8,225.5h0.8v0.8h-0.8zM430.8,224.2h0.8v0.8h-0.8zM427.3,212.7h0.8v0.8h-0.8zM428.4,222.4h0.8v0.8h-0.8zM427.0,226.1h0.8v0.8h-0.8zM437.9,227.3h0.8v0.8h-0.8zM438.2,214.7h0.8v0.8h-0.8zM432.0,219.1h0.8v0.8h-0.8zM429.4,218.4h0.8v0.8h-0.8zM423.1,230.7h0.8v0.8h-0.8zM439.6,223.9h0.8v0.8h-0.8zM426.7,228.7h0.8v0.8h-0.8zM430.6,226.6h0.8v0.8h-0.8zM437.6,221.6h0.8v0.8h-0.8zM432.4,230.7h0.8v0.8h-0.8zM436.0,218.6h0.8v0.8h-0.8zM418.8,217.8h0.8v0.8h-0.8zM435.8,218.9h0.8v0.8h-0.8zM426.3,221.7h0.8v0.8h-0.8zM440.1,234.7h0.8v0.8h-0.8zM430.4,229.9h0.8v0.8h-0.8zM430.7,225.6h0.8v0.8h-0.8zM429.3,228.7h0.8v0.8h-0.8zM430.5,235.4h0.8v0.8h-0.8zM425.7,234.6h0.8v0.8h-0.8zM421.7,213.0h0.8v0.8h-0.8zM428.6,223.3h0.8v0.8h-0.8zM431.7,224.8h0.8v0.8h-0.8zM431.6,224.3h0.8v0.8h-0.8zM430.3,229.4h0.8v0.8h-0.8zM427.7,219.9h0.8v0.8h-0.8zM420.3,227.8h0.8v0.8h-0.8zM438.5,228.2h0.8v0.8h-0.8zM431.0,223.5h0.8v0.8h-0.8zM431.4,216.3h0.8v0.8h-0.8zM425.3,220.3h0.8v0.8h-0.8zM435.2,228.8h0.8v0.8h-0.8zM434.2,211.8h0.8v0.8h-0.8zM432.9,227.8h0.8v0.8h-0.8zM427.4,224.9h0.8v0.8h-0.8zM420.6,223.9h0.8v0.8h-0.8zM428.7,226.3h0.8v0.8h-0.8zM435.0,223.7h0.8v0.8h-0.8zM428.8,218.9h0.8v0.8h-0.8zM429.5,226.7h0.8v0.8h-0.8zM430.6,222.6h0.8v0.8h-0.8zM440.2,218.0h0.8v0.8h-0.8zM427.3,229.7h0.8v0.8h-0.8zM438.3,228.5h0.8v0.8h-0.8zM421.5,227.1h0.8v0.8h-0.8zM444.7,220.4h0.8v0.8h-0.8zM434.2,216.1h0.8v0.8h-0.8zM424.0,227.8h0.8v0.8h-0.8zM430.2,218.2h0.8v0.8h-0.8zM439.0,220.2h0.8v0.8h-0.8zM433.6,221.6h0.8v0.8h-0.8zM421.6,223.2h0.8v0.8h-0.8zM427.4,229.7h0.8v0.8h-0.8zM423.3,223.0h0.8v0.8h-0.8zM429.4,229.6h0.8v0.8h-0.8zM425.9,225.6h0.8v0.8h-0.8zM437.3,224.9h0.8v0.8h-0.8zM428.3,220.4h0.8v0.8h-0.8zM433.0,221.2h0.8v0.8h-0.8zM431.7,224.1h0.8v0.8h-0.8zM431.7,219.7h0.8v0.8h-0.8zM440.0,226.2h0.8v0.8h-0.8zM430.4,228.1h0.8v0.8h-0.8zM424.9,221.0h0.8v0.8h-0.8zM435.5,219.2h0.8v0.8h-0.8zM423.0,217.0h0.8v0.8h-0.8zM418.9,220.3h0.8v0.8h-0.8zM428.7,226.2h0.8v0.8h-0.8zM417.3,226.0h0.8v0.8h-0.8zM422.1,223.9h0.8v0.8h-0.8zM440.7,216.5h0.8v0.8h-0.8zM440.5,220.3h0.8v0.8h-0.8zM426.8,217.9h0.8v0.8h-0.8zM431.3,233.9h0.8v0.8h-0.8zM431.0,235.4h0.8v0.8h-0.8zM433.1,231.8h0.8v0.8h-0.8zM417.8,227.0h0.8v0.8h-0.8zM425.6,220.0h0.8v0.8h-0.8zM431.6,219.6h0.8v0.8h-0.8zM429.0,215.3h0.8v0.8h-0.8zM429.5,212.0h0.8v0.8h-0.8zM439.2,231.6h0.8v0.8h-0.8zM430.3,213.1h0.8v0.8h-0.8zM439.2,221.4h0.8v0.8h-0.8zM431.5,216.7h0.8v0.8h-0.8zM437.7,220.8h0.8v0.8h-0.8zM428.7,222.8h0.8v0.8h-0.8zM427.0,224.5h0.8v0.8h-0.8zM438.5,223.3h0.8v0.8h-0.8zM432.9,224.1h0.8v0.8h-0.8zM434.8,222.2h0.8v0.8h-0.8zM424.2,230.6h0.8v0.8h-0.8zM443.6,225.4h0.8v0.8h-0.8zM427.3,223.3h0.8v0.8h-0.8zM435.0,225.7h0.8v0.8h-0.8zM425.5,217.4h0.8v0.8h-0.8zM429.1,224.9h0.8v0.8h-0.8zM429.0,218.9h0.8v0.8h-0.8zM423.0,224.7h0.8v0.8h-0.8zM415.0,217.4h0.8v0.8h-0.8zM434.4,212.0h0.8v0.8h-0.8zM428.6,230.8h0.8v0.8h-0.8zM424.6,214.7h0.8v0.8h-0.8zM416.3,229.2h0.8v0.8h-0.8zM415.7,224.3h0.8v0.8h-0.8zM419.0,224.4h0.8v0.8h-0.8zM430.9,226.9h0.8v0.8h-0.8zM420.4,221.1h0.8v0.8h-0.8zM416.5,222.6h0.8v0.8h-0.8zM434.7,218.5h0.8v0.8h-0.8zM436.0,225.4h0.8v0.8h-0.8zM437.1,231.7h0.8v0.8h-0.8zM428.7,231.2h0.8v0.8h-0.8zM428.8,217.0h0.8v0.8h-0.8zM434.9,219.4h0.8v0.8h-0.8zM413.6,225.8h0.8v0.8h-0.8zM433.8,230.9h0.8v0.8h-0.8zM435.1,223.8h0.8v0.8h-0.8zM414.0,223.9h0.8v0.8h-0.8zM438.5,216.0h0.8v0.8h-0.8zM436.0,228.5h0.8v0.8h-0.8zM429.4,225.4h0.8v0.8h-0.8zM429.1,212.9h0.8v0.8h-0.8zM421.4,225.7h0.8v0.8h-0.8zM426.4,227.1h0.8v0.8h-0.8zM440.1,227.4h0.8v0.8h-0.8zM429.0,218.5h0.8v0.8h-0.8zM431.7,229.4h0.8v0.8h-0.8zM444.3,228.5h0.8v0.8h-0.8zM430.4,216.2h0.8v0.8h-0.8zM427.1,225.3h0.8v0.8h-0.8zM435.2,229.9h0.8v0.8h-0.8zM423.6,224.2h0.8v0.8h-0.8zM425.3,222.1h0.8v0.8h-0.8zM434.5,216.3h0.8v0.8h-0.8zM434.5,226.8h0.8v0.8h-0.8zM436.1,227.3h0.8v0.8h-0.8zM425.5,224.2h0.8v0.8h-0.8zM440.9,222.1h0.8v0.8h-0.8zM423.1,228.4h0.8v0.8h-0.8zM428.1,221.2h0.8v0.8h-0.8zM420.6,222.3h0.8v0.8h-0.8zM427.9,228.1h0.8v0.8h-0.8zM424.1,216.6h0.8v0.8h-0.8zM433.7,220.8h0.8v0.8h-0.8zM420.8,231.5h0.8v0.8h-0.8zM432.5,224.2h0.8v0.8h-0.8zM435.2,224.7h0.8v0.8h-0.8zM433.6,227.5h0.8v0.8h-0.8zM424.7,223.3h0.8v0.8h-0.8zM420.5,218.9h0.8v0.8h-0.8zM428.4,225.8h0.8v0.8h-0.8zM437.4,222.4h0.8v0.8h-0.8zM433.0,224.3h0.8v0.8h-0.8zM428.9,217.2h0.8v0.8h-0.8zM440.7,219.5h0.8v0.8h-0.8zM440.2,227.6h0.8v0.8h-0.8zM435.8,216.8h0.8v0.8h-0.8zM441.0,218.4h0.8v0.8h-0.8zM425.0,225.2h0.8v0.8h-0.8zM433.0,223.2h0.8v0.8h-0.8zM427.6,224.4h0.8v0.8h-0.8zM435.2,227.4h0.8v0.8h-0.8zM429.3,237.2h0.8v0.8h-0.8zM433.5,229.4h0.8v0.8h-0.8zM422.9,222.3h0.8v0.8h-0.8zM434.3,209.8h0.8v0.8h-0.8zM431.3,221.3h0.8v0.8h-0.8zM425.6,227.5h0.8v0.8h-0.8zM439.1,218.6h0.8v0.8h-0.8zM422.3,229.3h0.8v0.8h-0.8zM432.9,222.6h0.8v0.8h-0.8zM433.2,222.6h0.8v0.8h-0.8zM432.2,223.1h0.8v0.8h-0.8zM433.9,219.4h0.8v0.8h-0.8zM436.6,217.4h0.8v0.8h-0.8zM439.0,234.3h0.8v0.8h-0.8zM436.8,218.6h0.8v0.8h-0.8zM432.6,224.1h0.8v0.8h-0.8zM430.5,226.6h0.8v0.8h-0.8zM430.0,219.2h0.8v0.8h-0.8zM427.2,223.9h0.8v0.8h-0.8zM433.5,218.8h0.8v0.8h-0.8zM441.2,224.4h0.8v0.8h-0.8zM426.9,217.0h0.8v0.8h-0.8zM430.3,218.1h0.8v0.8h-0.8zM434.6,213.7h0.8v0.8h-0.8zM418.4,224.7h0.8v0.8h-0.8zM427.5,229.6h0.8v0.8h-0.8zM428.3,221.7h0.8v0.8h-0.8zM419.6,217.2h0.8v0.8h-0.8zM422.0,226.8h0.8v0.8h-0.8zM439.6,225.3h0.8v0.8h-0.8zM417.8,226.0h0.8v0.8h-0.8zM444.6,217.5h0.8v0.8h-0.8zM445.2,221.0h0.8v0.8h-0.8zM433.3,223.3h0.8v0.8h-0.8zM419.7,224.0h0.8v0.8h-0.8zM437.9,214.9h0.8v0.8h-0.8zM430.0,216.8h0.8v0.8h-0.8zM431.5,226.7h0.8v0.8h-0.8zM430.1,218.1h0.8v0.8h-0.8zM439.4,226.6h0.8v0.8h-0.8zM420.7,219.0h0.8v0.8h-0.8zM424.9,223.6h0.8v0.8h-0.8zM438.2,221.9h0.8v0.8h-0.8zM420.7,219.5h0.8v0.8h-0.8zM434.4,223.2h0.8v0.8h-0.8zM420.7,234.2h0.8v0.8h-0.8zM446.4,226.5h0.8v0.8h-0.8zM424.2,219.5h0.8v0.8h-0.8zM429.1,211.8h0.8v0.8h-0.8zM430.2,222.1h0.8v0.8h-0.8zM434.3,219.1h0.8v0.8h-0.8zM434.4,217.6h0.8v0.8h-0.8zM431.7,221.4h0.8v0.8h-0.8zM416.8,222.9h0.8v0.8h-0.8zM424.7,232.5h0.8v0.8h-0.8zM435.4,228.6h0.8v0.8h-0.8zM441.4,224.2h0.8v0.8h-0.8zM428.8,231.3h0.8v0.8h-0.8zM436.3,226.0h0.8v0.8h-0.8zM426.2,221.8h0.8v0.8h-0.8zM426.7,231.0h0.8v0.8h-0.8zM421.2,220.5h0.8v0.8h-0.8zM441.2,225.6h0.8v0.8h-0.8zM420.4,223.9h0.8v0.8h-0.8zM445.2,225.0h0.8v0.8h-0.8zM438.3,224.7h0.8v0.8h-0.8zM425.2,225.2h0.8v0.8h-0.8zM434.2,225.4h0.8v0.8h-0.8zM431.6,220.0h0.8v0.8h-0.8zM417.6,229.1h0.8v0.8h-0.8zM426.3,233.3h0.8v0.8h-0.8zM434.7,226.3h0.8v0.8h-0.8zM428.3,224.3h0.8v0.8h-0.8zM435.0,229.1h0.8v0.8h-0.8zM429.7,223.2h0.8v0.8h-0.8zM430.0,227.3h0.8v0.8h-0.8zM422.4,226.6h0.8v0.8h-0.8zM417.5,227.1h0.8v0.8h-0.8zM436.0,215.8h0.8v0.8h-0.8zM414.8,226.4h0.8v0.8h-0.8zM428.2,228.5h0.8v0.8h-0.8zM436.2,226.1h0.8v0.8h-0.8zM427.4,228.7h0.8v0.8h-0.8zM430.3,229.2h0.8v0.8h-0.8zM431.1,218.6h0.8v0.8h-0.8zM429.9,220.0h0.8v0.8h-0.8zM439.6,221.5h0.8v0.8h-0.8zM429.6,227.2h0.8v0.8h-0.8zM432.5,220.4h0.8v0.8h-0.8zM425.8,222.9h0.8v0.8h-0.8zM435.4,233.6h0.8v0.8h-0.8zM437.5,218.4h0.8v0.8h-0.8zM426.7,225.7h0.8v0.8h-0.8zM433.1,224.4h0.8v0.8h-0.8zM429.4,224.9h0.8v0.8h-0.8zM428.9,226.0h0.8v0.8h-0.8zM424.5,215.4h0.8v0.8h-0.8zM434.0,222.2h0.8v0.8h-0.8zM436.2,213.9h0.8v0.8h-0.8zM438.1,217.9h0.8v0.8h-0.8zM434.6,213.0h0.8v0.8h-0.8zM441.1,225.9h0.8v0.8h-0.8zM439.9,212.7h0.8v0.8h-0.8zM424.9,218.5h0.8v0.8h-0.8zM423.8,227.9h0.8v0.8h-0.8zM424.4,226.6h0.8v0.8h-0.8zM435.5,215.5h0.8v0.8h-0.8zM419.8,226.1h0.8v0.8h-0.8zM441.3,225.6h0.8v0.8h-0.8zM423.3,223.4h0.8v0.8h-0.8zM435.2,222.8h0.8v0.8h-0.8zM430.1,218.7h0.8v0.8h-0.8zM428.0,211.5h0.8v0.8h-0.8zM425.8,220.2h0.8v0.8h-0.8zM428.8,229.6h0.8v0.8h-0.8zM422.0,229.1h0.8v0.8h-0.8zM429.1,224.3h0.8v0.8h-0.8zM445.7,228.5h0.8v0.8h-0.8zM420.7,227.3h0.8v0.8h-0.8zM426.8,225.5h0.8v0.8h-0.8zM423.9,229.1h0.8v0.8h-0.8zM422.5,221.7h0.8v0.8h-0.8zM422.6,223.1h0.8v0.8h-0.8zM432.4,220.7h0.8v0.8h-0.8zM429.2,224.8h0.8v0.8h-0.8zM434.3,219.6h0.8v0.8h-0.8zM430.1,221.7h0.8v0.8h-0.8zM430.0,220.3h0.8v0.8h-0.8zM426.6,227.6h0.8v0.8h-0.8zM417.6,220.2h0.8v0.8h-0.8zM440.2,218.8h0.8v0.8h-0.8zM420.9,213.1h0.8v0.8h-0.8zM425.2,226.5h0.8v0.8h-0.8zM437.6,225.6h0.8v0.8h-0.8zM430.8,221.0h0.8v0.8h-0.8zM419.7,221.6h0.8v0.8h-0.8zM424.9,224.4h0.8v0.8h-0.8zM440.9,219.0h0.8v0.8h-0.8zM435.4,224.3h0.8v0.8h-0.8zM422.9,223.3h0.8v0.8h-0.8zM426.8,218.8h0.8v0.8h-0.8zM430.1,226.8h0.8v0.8h-0.8zM418.2,228.7h0.8v0.8h-0.8zM425.2,222.4h0.8v0.8h-0.8zM425.9,223.6h0.8v0.8h-0.8zM432.5,229.7h0.8v0.8h-0.8zM440.0,216.2h0.8v0.8h-0.8zM444.2,218.3h0.8v0.8h-0.8zM429.7,224.3h0.8v0.8h-0.8zM441.8,215.8h0.8v0.8h-0.8zM433.9,225.1h0.8v0.8h-0.8zM428.1,232.7h0.8v0.8h-0.8zM429.7,226.0h0.8v0.8h-0.8zM434.0,222.2h0.8v0.8h-0.8zM436.2,210.6h0.8v0.8h-0.8zM424.4,225.8h0.8v0.8h-0.8zM435.6,226.2h0.8v0.8h-0.8zM430.3,218.9h0.8v0.8h-0.8zM437.7,228.9h0.8v0.8h-0.8zM431.0,219.2h0.8v0.8h-0.8zM427.9,217.5h0.8v0.8h-0.8zM424.3,225.8h0.8v0.8h-0.8zM422.3,217.8h0.8v0.8h-0.8zM438.7,218.6h0.8v0.8h-0.8zM434.7,224.5h0.8v0.8h-0.8zM431.6,223.8h0.8v0.8h-0.8zM438.3,228.1h0.8v0.8h-0.8zM425.9,219.1h0.8v0.8h-0.8zM432.0,222.3h0.8v0.8h-0.8zM441.4,217.2h0.8v0.8h-0.8zM425.1,215.6h0.8v0.8h-0.8zM431.8,221.0h0.8v0.8h-0.8zM423.1,224.6h0.8v0.8h-0.8z" fill="#151515" opacity="1"/>
<path d="M422.6,228.4h0.9v0.9h-0.9zM433.7,219.7h0.9v0.9h-0.9zM437.5,225.3h0.9v0.9h-0.9zM422.4,226.1h0.9v0.9h-0.9zM434.5,227.8h0.9v0.9h-0.9zM430.8,218.6h0.9v0.9h-0.9zM430.6,221.0h0.9v0.9h-0.9zM436.5,228.0h0.9v0.9h-0.9zM427.3,222.0h0.9v0.9h-0.9zM430.3,226.0h0.9v0.9h-0.9zM426.9,223.9h0.9v0.9h-0.9zM434.7,228.0h0.9v0.9h-0.9zM432.7,224.2h0.9v0.9h-0.9zM423.3,225.8h0.9v0.9h-0.9zM423.7,225.3h0.9v0.9h-0.9zM436.6,225.7h0.9v0.9h-0.9zM428.6,224.8h0.9v0.9h-0.9zM424.5,219.8h0.9v0.9h-0.9zM425.1,223.9h0.9v0.9h-0.9zM431.8,224.4h0.9v0.9h-0.9zM435.8,227.0h0.9v0.9h-0.9zM429.6,225.9h0.9v0.9h-0.9zM434.5,222.1h0.9v0.9h-0.9zM423.7,219.7h0.9v0.9h-0.9zM424.7,224.5h0.9v0.9h-0.9zM426.5,219.2h0.9v0.9h-0.9zM423.0,229.6h0.9v0.9h-0.9zM421.4,226.9h0.9v0.9h-0.9zM427.3,218.6h0.9v0.9h-0.9zM436.5,224.1h0.9v0.9h-0.9zM428.8,225.9h0.9v0.9h-0.9zM434.7,224.4h0.9v0.9h-0.9zM433.2,228.9h0.9v0.9h-0.9zM426.7,222.0h0.9v0.9h-0.9zM421.7,227.2h0.9v0.9h-0.9zM426.0,226.1h0.9v0.9h-0.9zM434.7,226.4h0.9v0.9h-0.9zM421.5,221.5h0.9v0.9h-0.9zM432.4,221.4h0.9v0.9h-0.9zM427.2,226.2h0.9v0.9h-0.9zM430.4,220.2h0.9v0.9h-0.9zM427.6,227.5h0.9v0.9h-0.9zM427.0,229.5h0.9v0.9h-0.9zM432.1,220.4h0.9v0.9h-0.9zM422.6,225.6h0.9v0.9h-0.9zM428.6,216.6h0.9v0.9h-0.9zM425.3,227.9h0.9v0.9h-0.9zM424.8,227.5h0.9v0.9h-0.9zM427.3,227.7h0.9v0.9h-0.9zM427.6,224.8h0.9v0.9h-0.9zM431.8,224.2h0.9v0.9h-0.9zM425.5,223.1h0.9v0.9h-0.9zM434.1,219.7h0.9v0.9h-0.9zM426.2,228.6h0.9v0.9h-0.9zM438.8,222.4h0.9v0.9h-0.9zM432.1,223.3h0.9v0.9h-0.9zM435.1,218.2h0.9v0.9h-0.9zM429.5,217.3h0.9v0.9h-0.9zM437.5,226.0h0.9v0.9h-0.9zM435.0,221.9h0.9v0.9h-0.9zM431.3,227.3h0.9v0.9h-0.9zM435.1,220.7h0.9v0.9h-0.9zM424.2,226.8h0.9v0.9h-0.9zM425.5,230.8h0.9v0.9h-0.9zM422.3,222.2h0.9v0.9h-0.9zM434.3,226.5h0.9v0.9h-0.9zM422.4,219.1h0.9v0.9h-0.9zM429.8,220.9h0.9v0.9h-0.9zM430.6,227.0h0.9v0.9h-0.9zM437.6,226.4h0.9v0.9h-0.9zM425.7,224.1h0.9v0.9h-0.9zM432.1,228.3h0.9v0.9h-0.9zM434.8,224.6h0.9v0.9h-0.9zM426.2,226.9h0.9v0.9h-0.9zM432.8,217.8h0.9v0.9h-0.9zM433.9,221.9h0.9v0.9h-0.9zM427.0,223.7h0.9v0.9h-0.9zM424.6,222.5h0.9v0.9h-0.9zM429.9,221.0h0.9v0.9h-0.9zM423.5,228.7h0.9v0.9h-0.9zM428.7,228.0h0.9v0.9h-0.9zM424.4,223.7h0.9v0.9h-0.9zM424.4,222.1h0.9v0.9h-0.9zM432.6,224.8h0.9v0.9h-0.9zM437.0,225.7h0.9v0.9h-0.9zM426.6,222.2h0.9v0.9h-0.9zM423.7,218.5h0.9v0.9h-0.9zM435.0,222.9h0.9v0.9h-0.9zM422.7,223.9h0.9v0.9h-0.9zM435.9,223.5h0.9v0.9h-0.9zM431.6,220.8h0.9v0.9h-0.9zM434.7,222.7h0.9v0.9h-0.9zM429.2,220.8h0.9v0.9h-0.9zM430.1,223.5h0.9v0.9h-0.9zM428.4,229.7h0.9v0.9h-0.9zM433.1,220.1h0.9v0.9h-0.9zM434.0,219.8h0.9v0.9h-0.9zM434.9,218.5h0.9v0.9h-0.9zM433.6,229.9h0.9v0.9h-0.9zM429.8,218.9h0.9v0.9h-0.9zM433.3,224.2h0.9v0.9h-0.9zM427.7,230.1h0.9v0.9h-0.9zM427.1,221.9h0.9v0.9h-0.9zM428.2,219.3h0.9v0.9h-0.9zM438.4,222.9h0.9v0.9h-0.9zM422.1,219.0h0.9v0.9h-0.9zM430.0,229.5h0.9v0.9h-0.9zM425.1,227.5h0.9v0.9h-0.9zM435.8,222.8h0.9v0.9h-0.9zM432.4,219.4h0.9v0.9h-0.9zM428.5,222.0h0.9v0.9h-0.9zM423.9,221.4h0.9v0.9h-0.9zM435.7,221.2h0.9v0.9h-0.9zM421.7,220.8h0.9v0.9h-0.9zM434.6,221.3h0.9v0.9h-0.9zM423.8,224.3h0.9v0.9h-0.9zM429.7,227.3h0.9v0.9h-0.9zM420.7,227.8h0.9v0.9h-0.9zM420.7,224.7h0.9v0.9h-0.9zM425.0,225.1h0.9v0.9h-0.9zM426.8,226.8h0.9v0.9h-0.9zM438.3,224.7h0.9v0.9h-0.9zM430.9,219.6h0.9v0.9h-0.9zM424.0,220.0h0.9v0.9h-0.9zM434.8,219.4h0.9v0.9h-0.9zM428.2,221.7h0.9v0.9h-0.9zM431.4,225.0h0.9v0.9h-0.9zM425.5,227.1h0.9v0.9h-0.9zM435.0,221.6h0.9v0.9h-0.9zM424.8,218.7h0.9v0.9h-0.9zM432.6,229.7h0.9v0.9h-0.9zM433.5,222.8h0.9v0.9h-0.9zM420.9,226.5h0.9v0.9h-0.9zM428.4,221.4h0.9v0.9h-0.9zM436.1,228.3h0.9v0.9h-0.9zM425.2,220.3h0.9v0.9h-0.9zM430.2,222.9h0.9v0.9h-0.9zM423.1,217.9h0.9v0.9h-0.9zM429.0,225.8h0.9v0.9h-0.9zM426.1,221.4h0.9v0.9h-0.9zM427.4,218.9h0.9v0.9h-0.9zM434.5,217.9h0.9v0.9h-0.9zM422.7,227.6h0.9v0.9h-0.9zM430.9,227.2h0.9v0.9h-0.9zM425.3,228.7h0.9v0.9h-0.9zM427.9,228.4h0.9v0.9h-0.9zM428.6,221.1h0.9v0.9h-0.9zM429.7,219.5h0.9v0.9h-0.9zM426.3,228.0h0.9v0.9h-0.9zM430.6,216.3h0.9v0.9h-0.9zM432.4,223.4h0.9v0.9h-0.9zM425.3,222.5h0.9v0.9h-0.9zM426.4,227.6h0.9v0.9h-0.9zM435.7,220.1h0.9v0.9h-0.9zM431.2,226.1h0.9v0.9h-0.9zM431.9,224.0h0.9v0.9h-0.9zM432.1,219.8h0.9v0.9h-0.9zM437.0,225.1h0.9v0.9h-0.9zM430.4,222.6h0.9v0.9h-0.9zM427.2,226.9h0.9v0.9h-0.9zM429.3,223.3h0.9v0.9h-0.9zM432.2,218.7h0.9v0.9h-0.9zM426.6,219.1h0.9v0.9h-0.9zM425.6,222.4h0.9v0.9h-0.9zM426.4,229.3h0.9v0.9h-0.9zM429.5,230.1h0.9v0.9h-0.9zM433.4,227.4h0.9v0.9h-0.9zM430.7,217.8h0.9v0.9h-0.9zM424.1,226.1h0.9v0.9h-0.9zM431.1,223.9h0.9v0.9h-0.9zM426.7,222.7h0.9v0.9h-0.9zM429.3,226.1h0.9v0.9h-0.9zM430.6,222.2h0.9v0.9h-0.9zM434.8,223.3h0.9v0.9h-0.9zM426.6,219.9h0.9v0.9h-0.9zM431.3,223.6h0.9v0.9h-0.9zM427.1,227.7h0.9v0.9h-0.9zM435.6,224.3h0.9v0.9h-0.9zM429.0,220.0h0.9v0.9h-0.9zM430.1,216.5h0.9v0.9h-0.9zM432.5,225.4h0.9v0.9h-0.9zM429.4,216.4h0.9v0.9h-0.9zM426.7,222.6h0.9v0.9h-0.9zM431.4,222.8h0.9v0.9h-0.9zM430.1,223.4h0.9v0.9h-0.9zM433.8,225.3h0.9v0.9h-0.9zM438.1,222.6h0.9v0.9h-0.9zM425.9,226.6h0.9v0.9h-0.9zM424.0,222.8h0.9v0.9h-0.9zM423.5,223.0h0.9v0.9h-0.9zM431.3,225.5h0.9v0.9h-0.9zM422.3,228.0h0.9v0.9h-0.9zM428.0,227.1h0.9v0.9h-0.9zM437.8,223.0h0.9v0.9h-0.9zM435.9,223.6h0.9v0.9h-0.9zM429.6,217.9h0.9v0.9h-0.9zM420.8,221.8h0.9v0.9h-0.9zM426.0,230.9h0.9v0.9h-0.9zM426.6,218.8h0.9v0.9h-0.9zM424.2,229.0h0.9v0.9h-0.9zM426.0,222.9h0.9v0.9h-0.9zM435.1,219.4h0.9v0.9h-0.9zM431.3,221.8h0.9v0.9h-0.9zM421.4,226.2h0.9v0.9h-0.9zM432.1,222.7h0.9v0.9h-0.9zM427.9,224.1h0.9v0.9h-0.9zM422.0,223.1h0.9v0.9h-0.9zM427.5,228.3h0.9v0.9h-0.9zM428.0,229.9h0.9v0.9h-0.9zM425.4,222.7h0.9v0.9h-0.9zM428.4,218.9h0.9v0.9h-0.9zM426.7,218.1h0.9v0.9h-0.9zM423.0,228.8h0.9v0.9h-0.9zM426.3,221.9h0.9v0.9h-0.9zM430.9,220.9h0.9v0.9h-0.9zM425.4,225.9h0.9v0.9h-0.9zM422.8,219.1h0.9v0.9h-0.9zM433.4,218.9h0.9v0.9h-0.9zM423.0,227.9h0.9v0.9h-0.9zM437.3,221.5h0.9v0.9h-0.9zM426.0,227.0h0.9v0.9h-0.9zM434.1,229.3h0.9v0.9h-0.9zM426.5,226.3h0.9v0.9h-0.9zM437.3,226.0h0.9v0.9h-0.9zM432.4,220.1h0.9v0.9h-0.9zM420.0,227.8h0.9v0.9h-0.9zM426.2,218.5h0.9v0.9h-0.9zM433.7,228.2h0.9v0.9h-0.9zM425.8,226.7h0.9v0.9h-0.9zM423.0,223.3h0.9v0.9h-0.9zM431.2,221.1h0.9v0.9h-0.9zM432.8,227.6h0.9v0.9h-0.9zM429.3,217.8h0.9v0.9h-0.9zM423.0,224.1h0.9v0.9h-0.9zM428.8,217.8h0.9v0.9h-0.9zM426.1,220.3h0.9v0.9h-0.9zM425.9,221.6h0.9v0.9h-0.9zM431.7,218.9h0.9v0.9h-0.9zM434.2,227.1h0.9v0.9h-0.9zM431.5,222.8h0.9v0.9h-0.9zM435.0,222.0h0.9v0.9h-0.9zM424.5,218.5h0.9v0.9h-0.9zM434.6,229.2h0.9v0.9h-0.9zM422.0,226.8h0.9v0.9h-0.9zM433.3,222.1h0.9v0.9h-0.9zM424.6,217.1h0.9v0.9h-0.9zM429.7,220.2h0.9v0.9h-0.9zM431.2,225.0h0.9v0.9h-0.9zM425.0,226.9h0.9v0.9h-0.9zM429.0,222.9h0.9v0.9h-0.9zM428.1,221.0h0.9v0.9h-0.9zM433.9,226.1h0.9v0.9h-0.9zM432.9,227.9h0.9v0.9h-0.9zM423.0,229.6h0.9v0.9h-0.9zM421.5,221.7h0.9v0.9h-0.9zM436.2,227.8h0.9v0.9h-0.9zM430.5,222.0h0.9v0.9h-0.9zM431.2,229.6h0.9v0.9h-0.9zM434.7,227.5h0.9v0.9h-0.9zM427.9,228.9h0.9v0.9h-0.9zM432.3,230.2h0.9v0.9h-0.9zM430.4,224.4h0.9v0.9h-0.9zM423.0,228.5h0.9v0.9h-0.9zM426.1,226.3h0.9v0.9h-0.9zM430.8,218.5h0.9v0.9h-0.9zM420.3,224.0h0.9v0.9h-0.9zM434.9,218.2h0.9v0.9h-0.9zM430.2,220.7h0.9v0.9h-0.9zM430.5,220.8h0.9v0.9h-0.9zM432.7,228.4h0.9v0.9h-0.9zM423.4,226.6h0.9v0.9h-0.9zM422.3,224.4h0.9v0.9h-0.9zM428.3,223.8h0.9v0.9h-0.9zM424.2,226.3h0.9v0.9h-0.9zM429.2,220.8h0.9v0.9h-0.9zM433.1,219.0h0.9v0.9h-0.9zM424.8,222.5h0.9v0.9h-0.9zM434.4,218.2h0.9v0.9h-0.9zM429.6,229.6h0.9v0.9h-0.9zM432.7,227.7h0.9v0.9h-0.9zM434.3,227.6h0.9v0.9h-0.9zM432.3,221.4h0.9v0.9h-0.9zM427.2,229.0h0.9v0.9h-0.9zM426.3,225.6h0.9v0.9h-0.9zM430.4,227.3h0.9v0.9h-0.9zM428.2,224.9h0.9v0.9h-0.9zM437.1,221.2h0.9v0.9h-0.9zM427.2,228.2h0.9v0.9h-0.9zM430.8,224.3h0.9v0.9h-0.9zM424.5,219.9h0.9v0.9h-0.9zM427.8,221.2h0.9v0.9h-0.9zM422.3,226.9h0.9v0.9h-0.9zM425.7,228.6h0.9v0.9h-0.9zM421.1,222.6h0.9v0.9h-0.9zM433.6,218.4h0.9v0.9h-0.9zM434.7,218.4h0.9v0.9h-0.9zM424.2,226.7h0.9v0.9h-0.9zM429.0,224.6h0.9v0.9h-0.9zM433.0,220.5h0.9v0.9h-0.9zM427.6,225.0h0.9v0.9h-0.9zM428.4,219.0h0.9v0.9h-0.9zM427.9,220.6h0.9v0.9h-0.9zM430.7,217.0h0.9v0.9h-0.9zM426.9,224.5h0.9v0.9h-0.9zM430.7,217.5h0.9v0.9h-0.9zM421.7,226.4h0.9v0.9h-0.9zM431.3,229.8h0.9v0.9h-0.9zM429.5,225.5h0.9v0.9h-0.9zM421.1,225.0h0.9v0.9h-0.9zM425.2,227.1h0.9v0.9h-0.9zM427.4,224.2h0.9v0.9h-0.9zM431.1,224.2h0.9v0.9h-0.9zM434.7,229.0h0.9v0.9h-0.9zM424.6,229.3h0.9v0.9h-0.9zM424.5,229.2h0.9v0.9h-0.9zM431.1,228.3h0.9v0.9h-0.9zM435.8,220.6h0.9v0.9h-0.9zM435.3,226.7h0.9v0.9h-0.9zM431.4,219.2h0.9v0.9h-0.9zM430.4,225.3h0.9v0.9h-0.9zM426.1,223.4h0.9v0.9h-0.9zM427.4,229.2h0.9v0.9h-0.9zM435.9,223.6h0.9v0.9h-0.9zM424.2,228.7h0.9v0.9h-0.9zM435.7,225.1h0.9v0.9h-0.9zM434.9,227.4h0.9v0.9h-0.9zM425.7,224.6h0.9v0.9h-0.9zM423.1,217.9h0.9v0.9h-0.9zM422.7,217.5h0.9v0.9h-0.9zM432.9,220.5h0.9v0.9h-0.9zM429.8,224.8h0.9v0.9h-0.9zM431.8,227.4h0.9v0.9h-0.9zM427.1,224.1h0.9v0.9h-0.9zM430.4,217.1h0.9v0.9h-0.9zM426.1,226.7h0.9v0.9h-0.9zM424.7,217.3h0.9v0.9h-0.9zM434.0,222.4h0.9v0.9h-0.9zM426.5,223.7h0.9v0.9h-0.9zM428.0,224.9h0.9v0.9h-0.9zM420.6,228.1h0.9v0.9h-0.9zM433.5,218.5h0.9v0.9h-0.9zM432.3,221.4h0.9v0.9h-0.9zM427.7,229.6h0.9v0.9h-0.9zM428.5,228.1h0.9v0.9h-0.9zM428.5,225.0h0.9v0.9h-0.9zM421.4,224.2h0.9v0.9h-0.9zM436.4,226.5h0.9v0.9h-0.9zM430.0,223.0h0.9v0.9h-0.9zM434.6,220.6h0.9v0.9h-0.9zM430.4,223.8h0.9v0.9h-0.9zM426.1,221.8h0.9v0.9h-0.9zM420.8,222.5h0.9v0.9h-0.9zM425.2,218.1h0.9v0.9h-0.9zM438.0,224.1h0.9v0.9h-0.9zM422.0,224.6h0.9v0.9h-0.9zM424.8,218.7h0.9v0.9h-0.9zM428.9,229.5h0.9v0.9h-0.9zM426.4,229.1h0.9v0.9h-0.9zM429.5,227.6h0.9v0.9h-0.9zM434.4,221.9h0.9v0.9h-0.9zM434.6,219.1h0.9v0.9h-0.9zM420.9,223.5h0.9v0.9h-0.9zM425.3,226.1h0.9v0.9h-0.9zM428.4,220.3h0.9v0.9h-0.9zM430.2,218.8h0.9v0.9h-0.9zM426.2,224.7h0.9v0.9h-0.9zM431.3,220.4h0.9v0.9h-0.9zM423.5,224.4h0.9v0.9h-0.9zM428.9,225.4h0.9v0.9h-0.9zM430.0,230.6h0.9v0.9h-0.9zM434.5,221.6h0.9v0.9h-0.9zM434.6,225.7h0.9v0.9h-0.9zM429.5,228.8h0.9v0.9h-0.9zM437.2,226.3h0.9v0.9h-0.9zM426.9,229.2h0.9v0.9h-0.9zM431.1,220.7h0.9v0.9h-0.9zM428.8,224.9h0.9v0.9h-0.9zM432.6,224.8h0.9v0.9h-0.9zM423.3,226.7h0.9v0.9h-0.9zM427.9,231.0h0.9v0.9h-0.9zM424.2,229.0h0.9v0.9h-0.9zM421.5,217.5h0.9v0.9h-0.9zM431.0,224.3h0.9v0.9h-0.9zM427.9,230.3h0.9v0.9h-0.9zM434.5,227.4h0.9v0.9h-0.9zM433.3,229.2h0.9v0.9h-0.9zM431.8,228.1h0.9v0.9h-0.9zM433.9,219.8h0.9v0.9h-0.9zM431.1,218.3h0.9v0.9h-0.9zM433.7,223.5h0.9v0.9h-0.9zM421.1,225.1h0.9v0.9h-0.9zM429.2,222.7h0.9v0.9h-0.9zM437.6,221.9h0.9v0.9h-0.9zM423.5,228.0h0.9v0.9h-0.9zM425.8,223.1h0.9v0.9h-0.9zM424.5,220.6h0.9v0.9h-0.9zM428.5,221.9h0.9v0.9h-0.9zM434.9,217.7h0.9v0.9h-0.9zM421.6,220.8h0.9v0.9h-0.9zM430.7,227.2h0.9v0.9h-0.9zM429.9,217.6h0.9v0.9h-0.9zM425.8,220.3h0.9v0.9h-0.9zM428.1,228.7h0.9v0.9h-0.9zM437.0,224.7h0.9v0.9h-0.9zM435.5,223.3h0.9v0.9h-0.9zM429.1,221.8h0.9v0.9h-0.9zM427.4,228.2h0.9v0.9h-0.9zM428.3,230.5h0.9v0.9h-0.9zM427.6,226.0h0.9v0.9h-0.9zM422.1,221.5h0.9v0.9h-0.9zM428.3,220.4h0.9v0.9h-0.9zM432.5,219.1h0.9v0.9h-0.9zM435.0,220.0h0.9v0.9h-0.9zM429.9,228.6h0.9v0.9h-0.9zM430.2,229.0h0.9v0.9h-0.9zM427.9,219.4h0.9v0.9h-0.9zM436.3,219.7h0.9v0.9h-0.9zM422.2,226.8h0.9v0.9h-0.9zM436.3,222.9h0.9v0.9h-0.9zM427.6,228.1h0.9v0.9h-0.9zM429.5,222.8h0.9v0.9h-0.9zM429.7,227.1h0.9v0.9h-0.9zM432.4,220.9h0.9v0.9h-0.9zM431.4,227.0h0.9v0.9h-0.9zM425.8,218.9h0.9v0.9h-0.9zM429.7,226.6h0.9v0.9h-0.9zM435.6,219.8h0.9v0.9h-0.9zM429.6,219.1h0.9v0.9h-0.9zM428.5,230.5h0.9v0.9h-0.9zM425.6,220.6h0.9v0.9h-0.9zM435.4,219.2h0.9v0.9h-0.9zM427.9,230.3h0.9v0.9h-0.9zM423.4,219.6h0.9v0.9h-0.9zM426.4,225.5h0.9v0.9h-0.9zM433.4,224.6h0.9v0.9h-0.9zM433.4,223.4h0.9v0.9h-0.9zM419.9,223.6h0.9v0.9h-0.9zM423.1,222.2h0.9v0.9h-0.9zM421.5,218.3h0.9v0.9h-0.9zM434.3,221.5h0.9v0.9h-0.9zM420.3,222.3h0.9v0.9h-0.9zM434.4,222.7h0.9v0.9h-0.9zM424.6,227.7h0.9v0.9h-0.9zM434.8,224.3h0.9v0.9h-0.9zM422.6,226.7h0.9v0.9h-0.9zM424.1,220.0h0.9v0.9h-0.9zM421.6,222.8h0.9v0.9h-0.9zM434.5,220.1h0.9v0.9h-0.9zM435.1,222.2h0.9v0.9h-0.9zM429.5,220.4h0.9v0.9h-0.9zM429.3,228.0h0.9v0.9h-0.9zM425.0,228.2h0.9v0.9h-0.9zM427.7,228.0h0.9v0.9h-0.9zM420.1,225.8h0.9v0.9h-0.9zM429.5,221.9h0.9v0.9h-0.9zM434.1,223.4h0.9v0.9h-0.9zM433.7,222.6h0.9v0.9h-0.9zM432.1,224.6h0.9v0.9h-0.9zM420.3,225.4h0.9v0.9h-0.9zM432.8,228.8h0.9v0.9h-0.9zM429.9,223.1h0.9v0.9h-0.9zM433.0,229.0h0.9v0.9h-0.9zM424.4,217.9h0.9v0.9h-0.9zM424.9,226.2h0.9v0.9h-0.9zM429.0,227.2h0.9v0.9h-0.9zM427.2,222.2h0.9v0.9h-0.9zM430.9,225.4h0.9v0.9h-0.9zM436.4,222.1h0.9v0.9h-0.9zM426.4,225.8h0.9v0.9h-0.9zM436.1,226.5h0.9v0.9h-0.9zM432.6,223.1h0.9v0.9h-0.9zM430.6,227.1h0.9v0.9h-0.9zM437.3,226.4h0.9v0.9h-0.9zM430.2,223.8h0.9v0.9h-0.9zM428.1,224.5h0.9v0.9h-0.9zM433.2,226.8h0.9v0.9h-0.9zM428.5,223.1h0.9v0.9h-0.9zM428.0,219.4h0.9v0.9h-0.9zM423.4,224.0h0.9v0.9h-0.9zM428.6,220.5h0.9v0.9h-0.9zM424.5,225.5h0.9v0.9h-0.9zM426.3,218.9h0.9v0.9h-0.9zM431.2,219.8h0.9v0.9h-0.9zM429.0,231.3h0.9v0.9h-0.9zM430.4,220.7h0.9v0.9h-0.9zM429.1,219.8h0.9v0.9h-0.9zM437.1,224.6h0.9v0.9h-0.9zM430.5,223.3h0.9v0.9h-0.9zM427.8,218.7h0.9v0.9h-0.9zM425.5,225.2h0.9v0.9h-0.9zM434.4,223.5h0.9v0.9h-0.9zM428.6,219.5h0.9v0.9h-0.9zM420.0,223.9h0.9v0.9h-0.9zM429.2,218.5h0.9v0.9h-0.9zM434.7,224.5h0.9v0.9h-0.9zM423.1,224.8h0.9v0.9h-0.9zM430.4,223.2h0.9v0.9h-0.9zM425.3,229.2h0.9v0.9h-0.9zM431.9,219.9h0.9v0.9h-0.9zM428.9,218.4h0.9v0.9h-0.9z" fill="#0a0a0a" opacity="1"/>
<path d="M479.1,209.6h0.75v0.75h-0.75zM485.3,222.6h0.75v0.75h-0.75zM491.2,220.7h0.75v0.75h-0.75zM487.9,222.1h0.75v0.75h-0.75zM480.2,210.3h0.75v0.75h-0.75zM469.8,219.9h0.75v0.75h-0.75zM485.2,216.8h0.75v0.75h-0.75zM465.7,215.9h0.75v0.75h-0.75zM481.5,212.7h0.75v0.75h-0.75zM476.6,226.3h0.75v0.75h-0.75zM491.5,220.4h0.75v0.75h-0.75zM484.1,215.0h0.75v0.75h-0.75zM479.4,220.0h0.75v0.75h-0.75zM476.0,216.0h0.75v0.75h-0.75zM493.6,211.4h0.75v0.75h-0.75zM476.4,224.8h0.75v0.75h-0.75zM484.7,217.8h0.75v0.75h-0.75zM476.1,210.8h0.75v0.75h-0.75zM485.3,214.6h0.75v0.75h-0.75zM481.3,207.9h0.75v0.75h-0.75zM488.3,219.6h0.75v0.75h-0.75zM484.0,218.8h0.75v0.75h-0.75zM472.4,217.8h0.75v0.75h-0.75zM485.4,216.7h0.75v0.75h-0.75zM482.8,212.1h0.75v0.75h-0.75zM482.4,222.6h0.75v0.75h-0.75zM481.4,222.7h0.75v0.75h-0.75zM478.2,213.8h0.75v0.75h-0.75zM483.8,213.1h0.75v0.75h-0.75zM470.0,218.5h0.75v0.75h-0.75zM482.0,219.6h0.75v0.75h-0.75zM475.8,215.1h0.75v0.75h-0.75zM485.5,214.8h0.75v0.75h-0.75zM480.5,218.0h0.75v0.75h-0.75zM476.6,218.1h0.75v0.75h-0.75zM471.5,219.2h0.75v0.75h-0.75zM479.2,209.9h0.75v0.75h-0.75zM473.7,215.7h0.75v0.75h-0.75zM476.5,219.2h0.75v0.75h-0.75zM483.0,220.3h0.75v0.75h-0.75zM480.4,220.5h0.75v0.75h-0.75zM491.7,213.1h0.75v0.75h-0.75zM481.2,216.4h0.75v0.75h-0.75zM481.4,222.0h0.75v0.75h-0.75zM479.6,213.1h0.75v0.75h-0.75zM472.5,210.6h0.75v0.75h-0.75zM481.3,220.9h0.75v0.75h-0.75zM482.4,213.5h0.75v0.75h-0.75zM480.8,213.0h0.75v0.75h-0.75zM489.2,217.5h0.75v0.75h-0.75zM492.4,219.9h0.75v0.75h-0.75zM486.5,212.9h0.75v0.75h-0.75zM485.6,215.4h0.75v0.75h-0.75zM478.2,217.8h0.75v0.75h-0.75zM493.6,219.2h0.75v0.75h-0.75zM496.4,220.0h0.75v0.75h-0.75zM472.5,214.8h0.75v0.75h-0.75zM495.5,219.7h0.75v0.75h-0.75zM482.8,215.2h0.75v0.75h-0.75zM483.5,219.0h0.75v0.75h-0.75zM479.4,217.0h0.75v0.75h-0.75zM484.3,212.5h0.75v0.75h-0.75zM480.6,214.1h0.75v0.75h-0.75zM477.9,213.4h0.75v0.75h-0.75zM478.0,213.7h0.75v0.75h-0.75zM494.6,216.5h0.75v0.75h-0.75zM484.9,213.8h0.75v0.75h-0.75zM483.4,219.2h0.75v0.75h-0.75zM479.4,224.9h0.75v0.75h-0.75zM483.0,222.5h0.75v0.75h-0.75zM482.0,220.4h0.75v0.75h-0.75zM481.9,211.5h0.75v0.75h-0.75zM486.5,216.0h0.75v0.75h-0.75zM481.7,218.4h0.75v0.75h-0.75zM475.2,215.2h0.75v0.75h-0.75zM476.1,222.7h0.75v0.75h-0.75zM480.6,214.8h0.75v0.75h-0.75zM485.8,217.7h0.75v0.75h-0.75zM486.3,211.1h0.75v0.75h-0.75zM482.7,219.9h0.75v0.75h-0.75zM478.5,222.6h0.75v0.75h-0.75zM482.0,214.0h0.75v0.75h-0.75zM479.7,219.6h0.75v0.75h-0.75zM489.8,215.3h0.75v0.75h-0.75zM486.5,215.9h0.75v0.75h-0.75zM476.3,213.2h0.75v0.75h-0.75zM487.6,215.4h0.75v0.75h-0.75zM483.6,224.3h0.75v0.75h-0.75zM489.4,215.6h0.75v0.75h-0.75zM480.6,218.5h0.75v0.75h-0.75zM468.1,220.1h0.75v0.75h-0.75zM477.6,220.4h0.75v0.75h-0.75zM477.6,215.8h0.75v0.75h-0.75zM488.1,220.0h0.75v0.75h-0.75zM494.9,215.3h0.75v0.75h-0.75zM478.3,223.6h0.75v0.75h-0.75zM486.2,212.4h0.75v0.75h-0.75zM479.3,219.0h0.75v0.75h-0.75zM479.2,211.2h0.75v0.75h-0.75zM482.8,219.2h0.75v0.75h-0.75zM491.2,221.9h0.75v0.75h-0.75zM487.9,213.8h0.75v0.75h-0.75zM474.2,213.0h0.75v0.75h-0.75zM486.3,221.0h0.75v0.75h-0.75zM469.6,219.6h0.75v0.75h-0.75zM488.5,223.6h0.75v0.75h-0.75zM487.6,221.3h0.75v0.75h-0.75zM484.0,216.0h0.75v0.75h-0.75zM481.4,217.0h0.75v0.75h-0.75zM474.5,216.7h0.75v0.75h-0.75z" fill="#35357f" opacity="1"/>
<text transform="translate(405.5,225.5) rotate(-90)" font-size="8" text-anchor="middle" fill="#231f20">ROR1</text>
<line x1="402.5" y1="242" x2="402.5" y2="257.5" stroke="#231f20" stroke-width="0.8" />
<line x1="402.5" y1="257.5" x2="422" y2="257.5" stroke="#231f20" stroke-width="0.8" />
<path d="M402.5,239.5 L400.3,244 L404.7,244 Z" fill="#231f20"/>
<path d="M425.3,257.5 L420.8,255.3 L420.8,259.7 Z" fill="#231f20"/>
<text x="428.5" y="260.5" font-size="8.2" text-anchor="start" fill="#231f20" font-weight="normal" stroke="#231f20" stroke-width="0.18" textLength="16" lengthAdjust="spacingAndGlyphs" >CD5</text>
<text x="173.2" y="172.6" font-size="10.6" text-anchor="start" fill="#231f20" font-weight="normal" stroke="#231f20" stroke-width="0.05" >D</text>
<text transform="translate(180.3,219.8) rotate(-90)" font-size="7.8" text-anchor="middle" fill="#231f20">Counts</text>
<line x1="186.8" y1="190.5" x2="189.3" y2="190.5" stroke="#231f20" stroke-width="1" />
<line x1="186.8" y1="205.6" x2="189.3" y2="205.6" stroke="#231f20" stroke-width="1" />
<line x1="186.8" y1="220.8" x2="189.3" y2="220.8" stroke="#231f20" stroke-width="1" />
<line x1="186.8" y1="236" x2="189.3" y2="236" stroke="#231f20" stroke-width="1" />
<line x1="186.8" y1="251" x2="189.3" y2="251" stroke="#231f20" stroke-width="1" />
<line x1="187.8" y1="183.5" x2="189.3" y2="183.5" stroke="#231f20" stroke-width="0.6" />
<line x1="187.8" y1="198.5" x2="189.3" y2="198.5" stroke="#231f20" stroke-width="0.6" />
<line x1="187.8" y1="213.5" x2="189.3" y2="213.5" stroke="#231f20" stroke-width="0.6" />
<line x1="187.8" y1="228.5" x2="189.3" y2="228.5" stroke="#231f20" stroke-width="0.6" />
<line x1="187.8" y1="243.5" x2="189.3" y2="243.5" stroke="#231f20" stroke-width="0.6" />
<line x1="187.8" y1="258.5" x2="189.3" y2="258.5" stroke="#231f20" stroke-width="0.6" />
<line x1="192.60000000000002" y1="265.6" x2="192.60000000000002" y2="268" stroke="#231f20" stroke-width="0.6" />
<line x1="216.60000000000002" y1="265.6" x2="216.60000000000002" y2="268" stroke="#231f20" stroke-width="0.6" />
<line x1="240.60000000000002" y1="265.6" x2="240.60000000000002" y2="268" stroke="#231f20" stroke-width="0.6" />
<line x1="264.6" y1="265.6" x2="264.6" y2="268" stroke="#231f20" stroke-width="0.6" />
<line x1="191.3" y1="265.6" x2="191.3" y2="266.8" stroke="#231f20" stroke-width="0.4" />
<line x1="194.3" y1="265.6" x2="194.3" y2="266.8" stroke="#231f20" stroke-width="0.4" />
<line x1="197.3" y1="265.6" x2="197.3" y2="266.8" stroke="#231f20" stroke-width="0.4" />
<line x1="200.3" y1="265.6" x2="200.3" y2="266.8" stroke="#231f20" stroke-width="0.4" />
<line x1="203.3" y1="265.6" x2="203.3" y2="266.8" stroke="#231f20" stroke-width="0.4" />
<line x1="206.3" y1="265.6" x2="206.3" y2="266.8" stroke="#231f20" stroke-width="0.4" />
<line x1="209.3" y1="265.6" x2="209.3" y2="266.8" stroke="#231f20" stroke-width="0.4" />
<line x1="212.3" y1="265.6" x2="212.3" y2="266.8" stroke="#231f20" stroke-width="0.4" />
<line x1="215.3" y1="265.6" x2="215.3" y2="266.8" stroke="#231f20" stroke-width="0.4" />
<line x1="218.3" y1="265.6" x2="218.3" y2="266.8" stroke="#231f20" stroke-width="0.4" />
<line x1="221.3" y1="265.6" x2="221.3" y2="266.8" stroke="#231f20" stroke-width="0.4" />
<line x1="224.3" y1="265.6" x2="224.3" y2="266.8" stroke="#231f20" stroke-width="0.4" />
<line x1="227.3" y1="265.6" x2="227.3" y2="266.8" stroke="#231f20" stroke-width="0.4" />
<line x1="230.3" y1="265.6" x2="230.3" y2="266.8" stroke="#231f20" stroke-width="0.4" />
<line x1="233.3" y1="265.6" x2="233.3" y2="266.8" stroke="#231f20" stroke-width="0.4" />
<line x1="236.3" y1="265.6" x2="236.3" y2="266.8" stroke="#231f20" stroke-width="0.4" />
<line x1="239.3" y1="265.6" x2="239.3" y2="266.8" stroke="#231f20" stroke-width="0.4" />
<line x1="242.3" y1="265.6" x2="242.3" y2="266.8" stroke="#231f20" stroke-width="0.4" />
<line x1="245.3" y1="265.6" x2="245.3" y2="266.8" stroke="#231f20" stroke-width="0.4" />
<line x1="248.3" y1="265.6" x2="248.3" y2="266.8" stroke="#231f20" stroke-width="0.4" />
<line x1="251.3" y1="265.6" x2="251.3" y2="266.8" stroke="#231f20" stroke-width="0.4" />
<line x1="254.3" y1="265.6" x2="254.3" y2="266.8" stroke="#231f20" stroke-width="0.4" />
<line x1="257.3" y1="265.6" x2="257.3" y2="266.8" stroke="#231f20" stroke-width="0.4" />
<line x1="260.3" y1="265.6" x2="260.3" y2="266.8" stroke="#231f20" stroke-width="0.4" />
<line x1="263.3" y1="265.6" x2="263.3" y2="266.8" stroke="#231f20" stroke-width="0.4" />
<line x1="266.3" y1="265.6" x2="266.3" y2="266.8" stroke="#231f20" stroke-width="0.4" />
<line x1="269.3" y1="265.6" x2="269.3" y2="266.8" stroke="#231f20" stroke-width="0.4" />
<text x="231.0" y="173.3" font-size="6.3" text-anchor="middle" fill="#333" font-weight="normal" stroke="#333" stroke-width="0.05" textLength="36" lengthAdjust="spacingAndGlyphs" >IgG-ILP-Cy5.5</text>
<line x1="213" y1="174.6" x2="249" y2="174.6" stroke="#231f20" stroke-width="0.5" />
<text x="230.60000000000002" y="280" font-size="8.2" text-anchor="middle" fill="#231f20" font-weight="normal" stroke="#231f20" stroke-width="0.18" textLength="19.5" lengthAdjust="spacingAndGlyphs" >Cy5.5</text>
<line x1="278.5" y1="190.5" x2="281" y2="190.5" stroke="#231f20" stroke-width="1" />
<line x1="278.5" y1="205.6" x2="281" y2="205.6" stroke="#231f20" stroke-width="1" />
<line x1="278.5" y1="220.8" x2="281" y2="220.8" stroke="#231f20" stroke-width="1" />
<line x1="278.5" y1="236" x2="281" y2="236" stroke="#231f20" stroke-width="1" />
<line x1="278.5" y1="251" x2="281" y2="251" stroke="#231f20" stroke-width="1" />
<line x1="279.5" y1="183.5" x2="281" y2="183.5" stroke="#231f20" stroke-width="0.6" />
<line x1="279.5" y1="198.5" x2="281" y2="198.5" stroke="#231f20" stroke-width="0.6" />
<line x1="279.5" y1="213.5" x2="281" y2="213.5" stroke="#231f20" stroke-width="0.6" />
<line x1="279.5" y1="228.5" x2="281" y2="228.5" stroke="#231f20" stroke-width="0.6" />
<line x1="279.5" y1="243.5" x2="281" y2="243.5" stroke="#231f20" stroke-width="0.6" />
<line x1="279.5" y1="258.5" x2="281" y2="258.5" stroke="#231f20" stroke-width="0.6" />
<line x1="284.3" y1="265.6" x2="284.3" y2="268" stroke="#231f20" stroke-width="0.6" />
<line x1="308.3" y1="265.6" x2="308.3" y2="268" stroke="#231f20" stroke-width="0.6" />
<line x1="332.3" y1="265.6" x2="332.3" y2="268" stroke="#231f20" stroke-width="0.6" />
<line x1="356.3" y1="265.6" x2="356.3" y2="268" stroke="#231f20" stroke-width="0.6" />
<line x1="283" y1="265.6" x2="283" y2="266.8" stroke="#231f20" stroke-width="0.4" />
<line x1="286" y1="265.6" x2="286" y2="266.8" stroke="#231f20" stroke-width="0.4" />
<line x1="289" y1="265.6" x2="289" y2="266.8" stroke="#231f20" stroke-width="0.4" />
<line x1="292" y1="265.6" x2="292" y2="266.8" stroke="#231f20" stroke-width="0.4" />
<line x1="295" y1="265.6" x2="295" y2="266.8" stroke="#231f20" stroke-width="0.4" />
<line x1="298" y1="265.6" x2="298" y2="266.8" stroke="#231f20" stroke-width="0.4" />
<line x1="301" y1="265.6" x2="301" y2="266.8" stroke="#231f20" stroke-width="0.4" />
<line x1="304" y1="265.6" x2="304" y2="266.8" stroke="#231f20" stroke-width="0.4" />
<line x1="307" y1="265.6" x2="307" y2="266.8" stroke="#231f20" stroke-width="0.4" />
<line x1="310" y1="265.6" x2="310" y2="266.8" stroke="#231f20" stroke-width="0.4" />
<line x1="313" y1="265.6" x2="313" y2="266.8" stroke="#231f20" stroke-width="0.4" />
<line x1="316" y1="265.6" x2="316" y2="266.8" stroke="#231f20" stroke-width="0.4" />
<line x1="319" y1="265.6" x2="319" y2="266.8" stroke="#231f20" stroke-width="0.4" />
<line x1="322" y1="265.6" x2="322" y2="266.8" stroke="#231f20" stroke-width="0.4" />
<line x1="325" y1="265.6" x2="325" y2="266.8" stroke="#231f20" stroke-width="0.4" />
<line x1="328" y1="265.6" x2="328" y2="266.8" stroke="#231f20" stroke-width="0.4" />
<line x1="331" y1="265.6" x2="331" y2="266.8" stroke="#231f20" stroke-width="0.4" />
<line x1="334" y1="265.6" x2="334" y2="266.8" stroke="#231f20" stroke-width="0.4" />
<line x1="337" y1="265.6" x2="337" y2="266.8" stroke="#231f20" stroke-width="0.4" />
<line x1="340" y1="265.6" x2="340" y2="266.8" stroke="#231f20" stroke-width="0.4" />
<line x1="343" y1="265.6" x2="343" y2="266.8" stroke="#231f20" stroke-width="0.4" />
<line x1="346" y1="265.6" x2="346" y2="266.8" stroke="#231f20" stroke-width="0.4" />
<line x1="349" y1="265.6" x2="349" y2="266.8" stroke="#231f20" stroke-width="0.4" />
<line x1="352" y1="265.6" x2="352" y2="266.8" stroke="#231f20" stroke-width="0.4" />
<line x1="355" y1="265.6" x2="355" y2="266.8" stroke="#231f20" stroke-width="0.4" />
<line x1="358" y1="265.6" x2="358" y2="266.8" stroke="#231f20" stroke-width="0.4" />
<line x1="361" y1="265.6" x2="361" y2="266.8" stroke="#231f20" stroke-width="0.4" />
<text x="322.3" y="173.3" font-size="6.3" text-anchor="middle" fill="#333" font-weight="normal" stroke="#333" stroke-width="0.05" textLength="37.39999999999998" lengthAdjust="spacingAndGlyphs" >2A2-ILP-Cy5.5</text>
<line x1="303.6" y1="174.6" x2="341" y2="174.6" stroke="#231f20" stroke-width="0.5" />
<text x="322.3" y="280" font-size="8.2" text-anchor="middle" fill="#231f20" font-weight="normal" stroke="#231f20" stroke-width="0.18" textLength="19.5" lengthAdjust="spacingAndGlyphs" >Cy5.5</text>
<polygon points="203.0,265.6 204.0,264.8 205.0,264.0 206.0,261.3 207.0,261.0 208.0,257.6 209.0,256.0 209.8,251.7 210.5,248.0 211.2,242.4 212.0,236.0 212.8,227.1 213.5,220.0 214.8,204.0 215.8,192.0 216.6,183.0 217.4,186.0 218.2,192.0 219.3,200.0 220.5,208.0 221.5,214.0 222.3,219.0 223.5,221.0 224.2,218.6 225.0,218.0 225.8,213.9 226.5,211.0 227.5,200.0 228.6,191.0 229.4,189.5 230.2,191.0 231.0,199.0 231.8,215.0 232.6,235.0 233.4,252.0 234.3,263.0 235.0,265.6" fill="#d0ccd0" stroke="#6e6e74" stroke-width="0.6"/>
<polygon points="215.0,265.6 216.0,262.8 217.0,262.0 218.3,254.0 219.5,244.0 220.5,232.0 221.6,224.0 222.5,219.0 223.6,214.5 224.5,218.0 225.3,224.0 226.3,226.0 227.3,232.0 228.3,242.0 229.2,254.0 230.0,262.0 231.0,265.6" fill="#73b04e" opacity="0.95"/>
<polygon points="218.0,265.6 219.0,264.8 220.0,264.0 221.0,263.2 222.0,262.0 222.8,260.3 223.5,258.0 224.2,255.3 225.0,251.0 226.3,240.0 227.4,228.0 228.6,216.0 229.7,207.0 230.6,203.5 231.5,210.0 232.5,222.0 233.5,236.0 234.5,247.0 235.8,254.0 236.7,255.5 237.5,258.0 238.5,259.9 239.5,261.0 240.5,263.2 241.5,263.5 242.5,264.6 243.5,265.6" fill="#b13a48" opacity="0.92"/>
<polygon points="228.5,265.6 229.8,260.0 231.0,255.0 232.2,251.5 233.5,254.0 234.8,259.0 236.0,263.0 236.8,264.3 237.5,265.6" fill="#5b6d95" opacity="0.9"/>
<polygon points="296.0,265.6 297.0,264.3 298.0,263.0 299.0,261.1 300.0,259.0 300.8,255.1 301.5,250.0 302.2,244.6 303.0,238.0 303.8,230.9 304.5,222.0 305.8,206.0 306.8,198.0 307.4,196.0 308.3,200.0 309.3,198.5 310.2,201.0 311.0,208.0 312.0,214.0 313.0,219.0 313.8,219.5 314.5,221.0 315.8,217.0 317.0,206.0 318.2,194.0 319.2,186.0 320.0,182.0 320.8,187.0 321.6,200.0 322.5,218.0 323.4,238.0 324.4,255.0 325.5,263.0 326.2,264.3 327.0,265.6" fill="#d0ccd0" stroke="#6e6e74" stroke-width="0.6"/>
<polygon points="308.0,265.6 308.8,263.4 309.5,262.0 310.5,252.0 311.3,238.0 312.2,222.0 313.0,207.5 313.8,214.0 314.6,222.0 315.6,227.0 316.8,228.0 318.0,231.0 319.2,240.0 320.3,252.0 321.5,261.0 322.2,264.5 323.0,265.6" fill="#73b04e" opacity="0.95"/>
<polygon points="305.0,265.6 306.0,264.3 307.0,263.0 308.0,263.2 309.0,262.5 310.0,262.3 311.0,264.0 312.0,263.3 313.0,262.0 314.0,261.8 315.0,260.0 316.0,259.8 317.0,258.0 318.0,258.8 319.0,259.5 320.0,261.1 321.0,262.0 322.0,263.5 323.0,265.6" fill="#b13a48" opacity="0.9"/>
<polygon points="318.0,265.6 319.0,264.1 320.0,262.0 320.8,259.8 321.5,258.0 322.2,256.8 323.0,254.5 323.8,254.7 324.5,257.0 325.2,259.5 326.0,261.0 327.0,262.4 328.0,264.5 329.0,265.1 330.0,265.6" fill="#5b6d95" opacity="0.9"/>
<polygon points="332.0,265.6 333.0,264.3 334.0,263.0 334.8,259.8 335.5,258.0 336.8,250.0 338.0,240.0 339.2,230.0 340.2,224.0 340.9,221.5 341.6,219.5 342.6,226.0 343.5,233.0 344.5,240.0 345.5,245.0 346.5,252.0 347.5,259.0 348.2,260.0 349.0,262.5 350.0,263.0 351.0,264.0 352.0,264.8 353.0,265.6" fill="#b13a48" opacity="0.95"/>
<rect x="189.5" y="178.5" width="82.6" height="87.2" fill="none" stroke="#231f20" stroke-width="1"/>
<rect x="281.5" y="178.2" width="82" height="87.5" fill="none" stroke="#231f20" stroke-width="1"/>
<text x="7.8" y="173" font-size="10.6" text-anchor="start" fill="#231f20" font-weight="normal" stroke="#231f20" stroke-width="0.05" >E</text>
<text x="95" y="183" font-size="8.3" text-anchor="middle" fill="#231f20" font-weight="normal" stroke="#231f20" stroke-width="0.18" textLength="101" lengthAdjust="spacingAndGlyphs" >miR29b uptake by OSU-CLL</text>
<text transform="translate(15.2,242.2) rotate(-90)" font-size="8" text-anchor="middle" fill="#231f20" textLength="125" lengthAdjust="spacingAndGlyphs">miR29b uptake (pmole/mg protein)</text>
<line x1="41.5" y1="188" x2="41.5" y2="301.0" stroke="#231f20" stroke-width="1" />
<line x1="41" y1="300.5" x2="149.6" y2="300.5" stroke="#231f20" stroke-width="1" />
<line x1="38.5" y1="300.5" x2="41.6" y2="300.5" stroke="#231f20" stroke-width="0.8" />
<text x="36.5" y="302.7" font-size="6.2" text-anchor="end" fill="#333" font-weight="normal" stroke="#333" stroke-width="0.1" >0</text>
<line x1="38.5" y1="282.4" x2="41.6" y2="282.4" stroke="#231f20" stroke-width="0.8" />
<text x="36.5" y="284.59999999999997" font-size="6.2" text-anchor="end" fill="#333" font-weight="normal" stroke="#333" stroke-width="0.1" >200</text>
<line x1="38.5" y1="264.3" x2="41.6" y2="264.3" stroke="#231f20" stroke-width="0.8" />
<text x="36.5" y="266.5" font-size="6.2" text-anchor="end" fill="#333" font-weight="normal" stroke="#333" stroke-width="0.1" >400</text>
<line x1="38.5" y1="246.2" x2="41.6" y2="246.2" stroke="#231f20" stroke-width="0.8" />
<text x="36.5" y="248.39999999999998" font-size="6.2" text-anchor="end" fill="#333" font-weight="normal" stroke="#333" stroke-width="0.1" >600</text>
<line x1="38.5" y1="228.1" x2="41.6" y2="228.1" stroke="#231f20" stroke-width="0.8" />
<text x="36.5" y="230.29999999999998" font-size="6.2" text-anchor="end" fill="#333" font-weight="normal" stroke="#333" stroke-width="0.1" >800</text>
<line x1="38.5" y1="210.0" x2="41.6" y2="210.0" stroke="#231f20" stroke-width="0.8" />
<text x="36.5" y="212.2" font-size="6.2" text-anchor="end" fill="#333" font-weight="normal" stroke="#333" stroke-width="0.1" >1000</text>
<line x1="38.5" y1="191.89999999999998" x2="41.6" y2="191.89999999999998" stroke="#231f20" stroke-width="0.8" />
<text x="36.5" y="194.09999999999997" font-size="6.2" text-anchor="end" fill="#333" font-weight="normal" stroke="#333" stroke-width="0.1" >1200</text>
<line x1="49" y1="300.5" x2="49" y2="303.5" stroke="#231f20" stroke-width="0.8" />
<line x1="64.5" y1="300.5" x2="64.5" y2="303.5" stroke="#231f20" stroke-width="0.8" />
<line x1="80" y1="300.5" x2="80" y2="303.5" stroke="#231f20" stroke-width="0.8" />
<line x1="95.5" y1="300.5" x2="95.5" y2="303.5" stroke="#231f20" stroke-width="0.8" />
<line x1="111" y1="300.5" x2="111" y2="303.5" stroke="#231f20" stroke-width="0.8" />
<line x1="127" y1="300.5" x2="127" y2="303.5" stroke="#231f20" stroke-width="0.8" />
<line x1="142" y1="300.5" x2="142" y2="303.5" stroke="#231f20" stroke-width="0.8" />
<rect x="74.8" y="241.4" width="10.8" height="59.099999999999994" fill="#77aa59" stroke="#67994a" stroke-width="0.8"/>
<line x1="80.2" y1="232.4" x2="80.2" y2="241" stroke="#231f20" stroke-width="0.9" />
<line x1="77.6" y1="232.6" x2="82.8" y2="232.6" stroke="#231f20" stroke-width="0.9" />
<rect x="90" y="291.4" width="10.6" height="9.100000000000023" fill="#6c4a6f" stroke="#5a3462" stroke-width="0.8"/>
<line x1="93" y1="290.3" x2="98" y2="290.3" stroke="#231f20" stroke-width="0.9" />
<path d="M61.6,236 V220 H78.4 V224" fill="none" stroke="#231f20" stroke-width="0.8"/>
<path d="M80.4,228 V225 H96.6 V238.5" fill="none" stroke="#231f20" stroke-width="0.8"/>
<text x="69.8" y="214.5" font-size="5.8" text-anchor="middle" fill="#231f20" font-weight="normal" stroke="#231f20" stroke-width="0.18" textLength="26" lengthAdjust="spacingAndGlyphs" >p=0.0228</text>
<text x="115" y="254.5" font-size="5.8" text-anchor="middle" fill="#231f20" font-weight="normal" stroke="#231f20" stroke-width="0.18" textLength="26" lengthAdjust="spacingAndGlyphs" >p=0.0254</text>
<text transform="translate(52.6,310.1) rotate(-45)" font-size="6.5" text-anchor="end" fill="#231f20">Con</text>
<text transform="translate(68.1,310.1) rotate(-45)" font-size="6.5" text-anchor="end" fill="#231f20">F29</text>
<text transform="translate(83.6,310.1) rotate(-45)" font-size="6.5" text-anchor="end" fill="#231f20">2A2 29</text>
<text transform="translate(99.1,310.1) rotate(-45)" font-size="6.5" text-anchor="end" fill="#231f20">IgG 29</text>
<text transform="translate(114.6,310.1) rotate(-45)" font-size="6.5" text-anchor="end" fill="#231f20">F sc</text>
<text transform="translate(130.6,310.1) rotate(-45)" font-size="6.5" text-anchor="end" fill="#231f20">2A2 sc</text>
<text transform="translate(145.6,310.1) rotate(-45)" font-size="6.5" text-anchor="end" fill="#231f20">IgG sc</text>
<text x="7.8" y="345.5" font-size="10.6" text-anchor="start" fill="#231f20" font-weight="normal" stroke="#231f20" stroke-width="0.05" >F</text>
<text x="98.5" y="343" font-size="8.3" text-anchor="middle" fill="#231f20" font-weight="normal" stroke="#231f20" stroke-width="0.18" textLength="61" lengthAdjust="spacingAndGlyphs" >GDM of OSU-CLL</text>
<text transform="translate(26,406) rotate(-90)" font-size="8.3" text-anchor="middle" fill="#231f20" textLength="88" lengthAdjust="spacingAndGlyphs">Global DNA methylation</text>
<line x1="41.5" y1="348" x2="41.5" y2="464.0" stroke="#231f20" stroke-width="1" />
<line x1="41" y1="463.5" x2="157" y2="463.5" stroke="#231f20" stroke-width="1" />
<line x1="38.5" y1="463.5" x2="41.4" y2="463.5" stroke="#231f20" stroke-width="0.8" />
<text x="35.5" y="465.8" font-size="6.3" text-anchor="end" fill="#333" font-weight="normal" stroke="#333" stroke-width="0.1" >0</text>
<line x1="38.5" y1="438.0" x2="41.4" y2="438.0" stroke="#231f20" stroke-width="0.8" />
<text x="35.5" y="440.3" font-size="6.3" text-anchor="end" fill="#333" font-weight="normal" stroke="#333" stroke-width="0.1" >2</text>
<line x1="38.5" y1="412.5" x2="41.4" y2="412.5" stroke="#231f20" stroke-width="0.8" />
<text x="35.5" y="414.8" font-size="6.3" text-anchor="end" fill="#333" font-weight="normal" stroke="#333" stroke-width="0.1" >4</text>
<line x1="38.5" y1="387.0" x2="41.4" y2="387.0" stroke="#231f20" stroke-width="0.8" />
<text x="35.5" y="389.3" font-size="6.3" text-anchor="end" fill="#333" font-weight="normal" stroke="#333" stroke-width="0.1" >6</text>
<line x1="38.5" y1="361.5" x2="41.4" y2="361.5" stroke="#231f20" stroke-width="0.8" />
<text x="35.5" y="363.8" font-size="6.3" text-anchor="end" fill="#333" font-weight="normal" stroke="#333" stroke-width="0.1" >8</text>
<line x1="48.3" y1="463.5" x2="48.3" y2="466.5" stroke="#231f20" stroke-width="0.8" />
<line x1="62.6" y1="463.5" x2="62.6" y2="466.5" stroke="#231f20" stroke-width="0.8" />
<line x1="77" y1="463.5" x2="77" y2="466.5" stroke="#231f20" stroke-width="0.8" />
<line x1="91.3" y1="463.5" x2="91.3" y2="466.5" stroke="#231f20" stroke-width="0.8" />
<line x1="105.6" y1="463.5" x2="105.6" y2="466.5" stroke="#231f20" stroke-width="0.8" />
<line x1="120" y1="463.5" x2="120" y2="466.5" stroke="#231f20" stroke-width="0.8" />
<line x1="134.4" y1="463.5" x2="134.4" y2="466.5" stroke="#231f20" stroke-width="0.8" />
<line x1="148.8" y1="463.5" x2="148.8" y2="466.5" stroke="#231f20" stroke-width="0.8" />
<rect x="44.0" y="407.79999999999995" width="8.599999999999998" height="55.700000000000024" fill="#a53545" stroke="#962838" stroke-width="0.8"/>
<line x1="48.3" y1="405" x2="48.3" y2="407.4" stroke="#231f20" stroke-width="0.9" />
<line x1="46.099999999999994" y1="405.2" x2="50.5" y2="405.2" stroke="#231f20" stroke-width="0.9" />
<rect x="58.6" y="446.79999999999995" width="7.999999999999997" height="16.700000000000024" fill="#4a6088" stroke="#3a5078" stroke-width="0.8"/>
<line x1="62.6" y1="443" x2="62.6" y2="446.4" stroke="#231f20" stroke-width="0.9" />
<line x1="60.4" y1="443.2" x2="64.8" y2="443.2" stroke="#231f20" stroke-width="0.9" />
<rect x="72.7" y="408.4" width="8.300000000000008" height="55.1" fill="#77aa59" stroke="#67994a" stroke-width="0.8"/>
<line x1="76.85" y1="407" x2="76.85" y2="408" stroke="#231f20" stroke-width="0.9" />
<line x1="74.64999999999999" y1="407.2" x2="79.05" y2="407.2" stroke="#231f20" stroke-width="0.9" />
<rect x="87.4" y="439.79999999999995" width="7.7999999999999945" height="23.700000000000024" fill="#77aa59" stroke="#67994a" stroke-width="0.8"/>
<line x1="91.3" y1="438.8" x2="91.3" y2="439.4" stroke="#231f20" stroke-width="0.9" />
<line x1="89.1" y1="439.0" x2="93.5" y2="439.0" stroke="#231f20" stroke-width="0.9" />
<rect x="101.4" y="429.0" width="8.2" height="34.49999999999998" fill="#77aa59" stroke="#67994a" stroke-width="0.8"/>
<line x1="105.5" y1="425.6" x2="105.5" y2="428.6" stroke="#231f20" stroke-width="0.9" />
<line x1="103.3" y1="425.8" x2="107.7" y2="425.8" stroke="#231f20" stroke-width="0.9" />
<rect x="115.9" y="409.0" width="7.7" height="54.49999999999998" fill="#6c4a6f" stroke="#5a3462" stroke-width="0.8"/>
<line x1="119.75" y1="405.4" x2="119.75" y2="408.6" stroke="#231f20" stroke-width="0.9" />
<line x1="117.55" y1="405.59999999999997" x2="121.95" y2="405.59999999999997" stroke="#231f20" stroke-width="0.9" />
<rect x="130.5" y="407.0" width="7.600000000000006" height="56.49999999999998" fill="#6c4a6f" stroke="#5a3462" stroke-width="0.8"/>
<line x1="134.3" y1="398.6" x2="134.3" y2="406.6" stroke="#231f20" stroke-width="0.9" />
<line x1="132.10000000000002" y1="398.8" x2="136.5" y2="398.8" stroke="#231f20" stroke-width="0.9" />
<rect x="145.1" y="408.4" width="7.600000000000006" height="55.1" fill="#6c4a6f" stroke="#5a3462" stroke-width="0.8"/>
<line x1="148.89999999999998" y1="404" x2="148.89999999999998" y2="408" stroke="#231f20" stroke-width="0.9" />
<line x1="146.7" y1="404.2" x2="151.09999999999997" y2="404.2" stroke="#231f20" stroke-width="0.9" />
<path d="M91,373 V363 H134 V367" fill="none" stroke="#231f20" stroke-width="0.8"/>
<path d="M91,413.6 V392.4 H105.6 V406" fill="none" stroke="#231f20" stroke-width="0.8"/>
<text x="112.3" y="357.8" font-size="5.8" text-anchor="middle" fill="#231f20" font-weight="normal" stroke="#231f20" stroke-width="0.18" textLength="22.6" lengthAdjust="spacingAndGlyphs" >p=0.024</text>
<text x="98.5" y="388.2" font-size="5.8" text-anchor="middle" fill="#231f20" font-weight="normal" stroke="#231f20" stroke-width="0.18" textLength="23" lengthAdjust="spacingAndGlyphs" >p=0.049</text>
<text transform="translate(51.9,473.1) rotate(-45)" font-size="6.5" text-anchor="end" fill="#231f20">Con</text>
<text transform="translate(66.2,473.1) rotate(-45)" font-size="6.5" text-anchor="end" fill="#231f20">Dec</text>
<text transform="translate(80.6,473.1) rotate(-45)" font-size="6.5" text-anchor="end" fill="#231f20">F29</text>
<text transform="translate(94.89999999999999,473.1) rotate(-45)" font-size="6.5" text-anchor="end" fill="#231f20">2A2_29b</text>
<text transform="translate(109.19999999999999,473.1) rotate(-45)" font-size="6.5" text-anchor="end" fill="#231f20">IgG_29b</text>
<text transform="translate(123.6,473.1) rotate(-45)" font-size="6.5" text-anchor="end" fill="#231f20">FSC</text>
<text transform="translate(138.0,473.1) rotate(-45)" font-size="6.5" text-anchor="end" fill="#231f20">2A2_SC</text>
<text transform="translate(152.4,473.1) rotate(-45)" font-size="6.5" text-anchor="end" fill="#231f20">IgG_SC</text>
<text x="172.8" y="308" font-size="10.6" text-anchor="start" fill="#231f20" font-weight="normal" stroke="#231f20" stroke-width="0.05" >G</text>
<rect x="185.6" y="314" width="28.400000000000006" height="24.6" fill="#d6e0ea" />
<text x="199.8" y="325" font-size="6.8" text-anchor="middle" fill="#2e2e2e" font-weight="normal" stroke="#2e2e2e" stroke-width="0.18" >Con</text>
<rect x="216" y="314" width="27.599999999999994" height="24.6" fill="#d6e0ea" />
<text x="229.8" y="325" font-size="6.8" text-anchor="middle" fill="#2e2e2e" font-weight="normal" stroke="#2e2e2e" stroke-width="0.18" >F29</text>
<rect x="245.2" y="314" width="27.80000000000001" height="24.6" fill="#d6e0ea" />
<text x="259.1" y="325" font-size="6.8" text-anchor="middle" fill="#2e2e2e" font-weight="normal" stroke="#2e2e2e" stroke-width="0.18" >2A2-</text>
<text x="259.1" y="333.2" font-size="6.8" text-anchor="middle" fill="#2e2e2e" font-weight="normal" stroke="#2e2e2e" stroke-width="0.18" >29</text>
<rect x="274" y="314" width="28" height="24.6" fill="#d6e0ea" />
<text x="288.0" y="325" font-size="6.8" text-anchor="middle" fill="#2e2e2e" font-weight="normal" stroke="#2e2e2e" stroke-width="0.18" >IgG-</text>
<text x="288.0" y="333.2" font-size="6.8" text-anchor="middle" fill="#2e2e2e" font-weight="normal" stroke="#2e2e2e" stroke-width="0.18" >29</text>
<rect x="303.6" y="314" width="28.0" height="24.6" fill="#d6e0ea" />
<text x="317.6" y="325" font-size="6.8" text-anchor="middle" fill="#2e2e2e" font-weight="normal" stroke="#2e2e2e" stroke-width="0.18" >FSC</text>
<rect x="333.2" y="314" width="27.80000000000001" height="24.6" fill="#d6e0ea" />
<text x="347.1" y="325" font-size="6.8" text-anchor="middle" fill="#2e2e2e" font-weight="normal" stroke="#2e2e2e" stroke-width="0.18" >2A2-</text>
<text x="347.1" y="333.2" font-size="6.8" text-anchor="middle" fill="#2e2e2e" font-weight="normal" stroke="#2e2e2e" stroke-width="0.18" >SC</text>
<rect x="362" y="314" width="28" height="24.6" fill="#d6e0ea" />
<text x="376.0" y="325" font-size="6.8" text-anchor="middle" fill="#2e2e2e" font-weight="normal" stroke="#2e2e2e" stroke-width="0.18" >IgG-</text>
<text x="376.0" y="333.2" font-size="6.8" text-anchor="middle" fill="#2e2e2e" font-weight="normal" stroke="#2e2e2e" stroke-width="0.18" >SC</text>
<rect x="391" y="314" width="29" height="24.6" fill="#d6e0ea" />
<text x="405.5" y="325" font-size="6.8" text-anchor="middle" fill="#2e2e2e" font-weight="normal" stroke="#2e2e2e" stroke-width="0.18" >Dec</text>
<defs><filter id="bl07" x="-30%" y="-80%" width="160%" height="260%"><feGaussianBlur stdDeviation="0.7"/></filter><filter id="bl10" x="-30%" y="-80%" width="160%" height="260%"><feGaussianBlur stdDeviation="1.0"/></filter><filter id="bl20" x="-30%" y="-50%" width="160%" height="200%"><feGaussianBlur stdDeviation="2.0"/></filter></defs>
<rect x="185.5" y="345.5" width="234" height="10.300000000000011" rx="1.2" fill="#efefef"/>
<text x="423.5" y="353" font-size="7.5" text-anchor="start" fill="#222" font-weight="normal" stroke="#222" stroke-width="0.18" textLength="20.3" lengthAdjust="spacingAndGlyphs" >DNMT1</text>
<rect x="187" y="358" width="27.5" height="9.800000000000011" fill="#ece8e8" />
<text x="200.75" y="365.29999999999995" font-size="6.9" text-anchor="middle" fill="#2a2a2a" font-weight="normal" stroke="#2a2a2a" stroke-width="0.18" >1.00</text>
<rect x="215.8" y="358" width="27.19999999999999" height="9.800000000000011" fill="#ece8e8" />
<text x="229.4" y="365.29999999999995" font-size="6.9" text-anchor="middle" fill="#2a2a2a" font-weight="normal" stroke="#2a2a2a" stroke-width="0.18" >0.52</text>
<rect x="245" y="358" width="27.19999999999999" height="9.800000000000011" fill="#ece8e8" />
<text x="258.6" y="365.29999999999995" font-size="6.9" text-anchor="middle" fill="#2a2a2a" font-weight="normal" stroke="#2a2a2a" stroke-width="0.18" >0.10</text>
<rect x="273.5" y="358" width="27.0" height="9.800000000000011" fill="#ece8e8" />
<text x="287.0" y="365.29999999999995" font-size="6.9" text-anchor="middle" fill="#2a2a2a" font-weight="normal" stroke="#2a2a2a" stroke-width="0.18" >0.29</text>
<rect x="301.5" y="358" width="27.5" height="9.800000000000011" fill="#ece8e8" />
<text x="315.25" y="365.29999999999995" font-size="6.9" text-anchor="middle" fill="#2a2a2a" font-weight="normal" stroke="#2a2a2a" stroke-width="0.18" >0.49</text>
<rect x="331" y="358" width="27" height="9.800000000000011" fill="#ece8e8" />
<text x="344.5" y="365.29999999999995" font-size="6.9" text-anchor="middle" fill="#2a2a2a" font-weight="normal" stroke="#2a2a2a" stroke-width="0.18" >0.82</text>
<rect x="360" y="358" width="27" height="9.800000000000011" fill="#ece8e8" />
<text x="373.5" y="365.29999999999995" font-size="6.9" text-anchor="middle" fill="#2a2a2a" font-weight="normal" stroke="#2a2a2a" stroke-width="0.18" >0.67</text>
<rect x="389.6" y="358" width="27.399999999999977" height="9.800000000000011" fill="#ece8e8" />
<text x="403.3" y="365.29999999999995" font-size="6.9" text-anchor="middle" fill="#2a2a2a" font-weight="normal" stroke="#2a2a2a" stroke-width="0.18" >0.50</text>
<rect x="185.5" y="372.6" width="234" height="15.0" rx="1.2" fill="#e6e6e6"/>
<text x="423.5" y="383" font-size="7.5" text-anchor="start" fill="#222" font-weight="normal" stroke="#222" stroke-width="0.18" textLength="25" lengthAdjust="spacingAndGlyphs" >DNMT3A</text>
<rect x="187" y="390.4" width="27.5" height="9.600000000000023" fill="#ece8e8" />
<text x="200.75" y="397.59999999999997" font-size="6.9" text-anchor="middle" fill="#2a2a2a" font-weight="normal" stroke="#2a2a2a" stroke-width="0.18" >1.00</text>
<rect x="215.8" y="390.4" width="27.19999999999999" height="9.600000000000023" fill="#ece8e8" />
<text x="229.4" y="397.59999999999997" font-size="6.9" text-anchor="middle" fill="#2a2a2a" font-weight="normal" stroke="#2a2a2a" stroke-width="0.18" >1.45</text>
<rect x="245" y="390.4" width="27.19999999999999" height="9.600000000000023" fill="#ece8e8" />
<text x="258.6" y="397.59999999999997" font-size="6.9" text-anchor="middle" fill="#2a2a2a" font-weight="normal" stroke="#2a2a2a" stroke-width="0.18" >0.28</text>
<rect x="273.5" y="390.4" width="27.0" height="9.600000000000023" fill="#ece8e8" />
<text x="287.0" y="397.59999999999997" font-size="6.9" text-anchor="middle" fill="#2a2a2a" font-weight="normal" stroke="#2a2a2a" stroke-width="0.18" >0.85</text>
<rect x="301.5" y="390.4" width="27.5" height="9.600000000000023" fill="#ece8e8" />
<text x="315.25" y="397.59999999999997" font-size="6.9" text-anchor="middle" fill="#2a2a2a" font-weight="normal" stroke="#2a2a2a" stroke-width="0.18" >2.22</text>
<rect x="331" y="390.4" width="27" height="9.600000000000023" fill="#ece8e8" />
<text x="344.5" y="397.59999999999997" font-size="6.9" text-anchor="middle" fill="#2a2a2a" font-weight="normal" stroke="#2a2a2a" stroke-width="0.18" >1.17</text>
<rect x="360" y="390.4" width="27" height="9.600000000000023" fill="#ece8e8" />
<text x="373.5" y="397.59999999999997" font-size="6.9" text-anchor="middle" fill="#2a2a2a" font-weight="normal" stroke="#2a2a2a" stroke-width="0.18" >0.88</text>
<rect x="389.6" y="390.4" width="27.399999999999977" height="9.600000000000023" fill="#ece8e8" />
<text x="403.3" y="397.59999999999997" font-size="6.9" text-anchor="middle" fill="#2a2a2a" font-weight="normal" stroke="#2a2a2a" stroke-width="0.18" >1.14</text>
<rect x="185.5" y="404.6" width="234" height="23.19999999999999" rx="1.2" fill="#dedede"/>
<text x="423.5" y="419.2" font-size="7.5" text-anchor="start" fill="#222" font-weight="normal" stroke="#222" stroke-width="0.18" textLength="9.6" lengthAdjust="spacingAndGlyphs" >SP1</text>
<rect x="187" y="430.4" width="27.5" height="9.800000000000011" fill="#ece8e8" />
<text x="200.75" y="437.69999999999993" font-size="6.9" text-anchor="middle" fill="#2a2a2a" font-weight="normal" stroke="#2a2a2a" stroke-width="0.18" >1.00</text>
<rect x="215.8" y="430.4" width="27.19999999999999" height="9.800000000000011" fill="#ece8e8" />
<text x="229.4" y="437.69999999999993" font-size="6.9" text-anchor="middle" fill="#2a2a2a" font-weight="normal" stroke="#2a2a2a" stroke-width="0.18" >0.86</text>
<rect x="245" y="430.4" width="27.19999999999999" height="9.800000000000011" fill="#ece8e8" />
<text x="258.6" y="437.69999999999993" font-size="6.9" text-anchor="middle" fill="#2a2a2a" font-weight="normal" stroke="#2a2a2a" stroke-width="0.18" >0.54</text>
<rect x="273.5" y="430.4" width="27.0" height="9.800000000000011" fill="#ece8e8" />
<text x="287.0" y="437.69999999999993" font-size="6.9" text-anchor="middle" fill="#2a2a2a" font-weight="normal" stroke="#2a2a2a" stroke-width="0.18" >1.26</text>
<rect x="301.5" y="430.4" width="27.5" height="9.800000000000011" fill="#ece8e8" />
<text x="315.25" y="437.69999999999993" font-size="6.9" text-anchor="middle" fill="#2a2a2a" font-weight="normal" stroke="#2a2a2a" stroke-width="0.18" >1.46</text>
<rect x="331" y="430.4" width="27" height="9.800000000000011" fill="#ece8e8" />
<text x="344.5" y="437.69999999999993" font-size="6.9" text-anchor="middle" fill="#2a2a2a" font-weight="normal" stroke="#2a2a2a" stroke-width="0.18" >1.77</text>
<rect x="360" y="430.4" width="27" height="9.800000000000011" fill="#ece8e8" />
<text x="373.5" y="437.69999999999993" font-size="6.9" text-anchor="middle" fill="#2a2a2a" font-weight="normal" stroke="#2a2a2a" stroke-width="0.18" >1.69</text>
<rect x="389.6" y="430.4" width="27.399999999999977" height="9.800000000000011" fill="#ece8e8" />
<text x="403.3" y="437.69999999999993" font-size="6.9" text-anchor="middle" fill="#2a2a2a" font-weight="normal" stroke="#2a2a2a" stroke-width="0.18" >1.44</text>
<rect x="185.5" y="444.6" width="234" height="16.799999999999955" rx="1.2" fill="#cbcbcb"/>
<text x="423.5" y="455.2" font-size="7.5" text-anchor="start" fill="#222" font-weight="normal" stroke="#222" stroke-width="0.18" textLength="14.4" lengthAdjust="spacingAndGlyphs" >Actin</text>
<rect x="187" y="463.2" width="27.5" height="10.0" fill="#ece8e8" />
<text x="200.75" y="470.59999999999997" font-size="6.9" text-anchor="middle" fill="#2a2a2a" font-weight="normal" stroke="#2a2a2a" stroke-width="0.18" >1.00</text>
<rect x="215.8" y="463.2" width="27.19999999999999" height="10.0" fill="#ece8e8" />
<text x="229.4" y="470.59999999999997" font-size="6.9" text-anchor="middle" fill="#2a2a2a" font-weight="normal" stroke="#2a2a2a" stroke-width="0.18" >1.37</text>
<rect x="245" y="463.2" width="27.19999999999999" height="10.0" fill="#ece8e8" />
<text x="258.6" y="470.59999999999997" font-size="6.9" text-anchor="middle" fill="#2a2a2a" font-weight="normal" stroke="#2a2a2a" stroke-width="0.18" >1.79</text>
<rect x="273.5" y="463.2" width="27.0" height="10.0" fill="#ece8e8" />
<text x="287.0" y="470.59999999999997" font-size="6.9" text-anchor="middle" fill="#2a2a2a" font-weight="normal" stroke="#2a2a2a" stroke-width="0.18" >1.87</text>
<rect x="301.5" y="463.2" width="27.5" height="10.0" fill="#ece8e8" />
<text x="315.25" y="470.59999999999997" font-size="6.9" text-anchor="middle" fill="#2a2a2a" font-weight="normal" stroke="#2a2a2a" stroke-width="0.18" >1.35</text>
<rect x="331" y="463.2" width="27" height="10.0" fill="#ece8e8" />
<text x="344.5" y="470.59999999999997" font-size="6.9" text-anchor="middle" fill="#2a2a2a" font-weight="normal" stroke="#2a2a2a" stroke-width="0.18" >1.15</text>
<rect x="360" y="463.2" width="27" height="10.0" fill="#ece8e8" />
<text x="373.5" y="470.59999999999997" font-size="6.9" text-anchor="middle" fill="#2a2a2a" font-weight="normal" stroke="#2a2a2a" stroke-width="0.18" >1.24</text>
<rect x="389.6" y="463.2" width="27.399999999999977" height="10.0" fill="#ece8e8" />
<text x="403.3" y="470.59999999999997" font-size="6.9" text-anchor="middle" fill="#2a2a2a" font-weight="normal" stroke="#2a2a2a" stroke-width="0.18" >1.38</text>
<clipPath id="c1"><rect x="186" y="346" width="233" height="9.3"/></clipPath>
<g clip-path="url(#c1)">
<rect x="190.6" y="344" width="20.400000000000006" height="14" fill="#777" opacity="0.8" filter="url(#bl10)"/>
<rect x="221" y="344" width="19" height="14" fill="#aaa" opacity="0.5" filter="url(#bl10)"/>
<rect x="248" y="344" width="20" height="14" fill="#bbb" opacity="0.35" filter="url(#bl10)"/>
<rect x="276" y="344" width="20" height="14" fill="#999" opacity="0.55" filter="url(#bl10)"/>
<rect x="306" y="344" width="18.600000000000023" height="14" fill="#aaa" opacity="0.5" filter="url(#bl10)"/>
<rect x="334" y="344" width="19.399999999999977" height="14" fill="#666" opacity="0.8" filter="url(#bl10)"/>
<rect x="361" y="344" width="22" height="14" fill="#888" opacity="0.6" filter="url(#bl10)"/>
<rect x="391" y="344" width="22" height="14" fill="#777" opacity="0.7" filter="url(#bl10)"/>
<rect x="220" y="351.8" width="20" height="1.6" rx="0.7" fill="#555" filter="url(#bl07)"/>
<rect x="305.4" y="351.85" width="19.200000000000045" height="1.5" rx="0.7" fill="#777" filter="url(#bl07)"/>
<rect x="276" y="352.0" width="20" height="1.2" rx="0.7" fill="#888" filter="url(#bl07)"/>
<rect x="334" y="351.85" width="19.399999999999977" height="1.5" rx="0.7" fill="#555" filter="url(#bl07)"/>
<rect x="391" y="351.95000000000005" width="22" height="1.3" rx="0.7" fill="#666" filter="url(#bl07)"/>
</g>
<clipPath id="c2"><rect x="186" y="373" width="233" height="14.2"/></clipPath>
<g clip-path="url(#c2)">
<rect x="190" y="378.90000000000003" width="21" height="3.4" rx="1.7" fill="#4a4a4a" filter="url(#bl10)"/>
<rect x="218.8" y="378.40000000000003" width="21.0" height="4.4" rx="2.2" fill="#1e1e1e" filter="url(#bl10)"/>
<rect x="247" y="379.40000000000003" width="22" height="2.4" rx="1.2" fill="#c0c0c0" filter="url(#bl10)"/>
<rect x="274.8" y="378.90000000000003" width="21.599999999999966" height="3.4" rx="1.7" fill="#404040" filter="url(#bl10)"/>
<rect x="304.2" y="377.8" width="21.0" height="5.6" rx="2.8" fill="#0a0a0a" filter="url(#bl10)"/>
<rect x="333" y="379.1" width="20.399999999999977" height="3.0" rx="1.5" fill="#2e2e2e" filter="url(#bl10)"/>
<rect x="361" y="379.1" width="22" height="3.0" rx="1.5" fill="#3a3a3a" filter="url(#bl10)"/>
<rect x="390" y="378.90000000000003" width="23" height="3.4" rx="1.7" fill="#2a2a2a" filter="url(#bl10)"/>
</g>
<clipPath id="c3"><rect x="186" y="405" width="233" height="22.3"/></clipPath>
<g clip-path="url(#c3)">
<rect x="190.3" y="403" width="20.299999999999983" height="27" rx="4" fill="#777" opacity="0.8" filter="url(#bl20)"/>
<rect x="219" y="410" width="21" height="20" rx="4" fill="#888" opacity="0.7" filter="url(#bl20)"/>
<rect x="248" y="412" width="20" height="18" rx="4" fill="#aaa" opacity="0.45" filter="url(#bl20)"/>
<rect x="276" y="410" width="21" height="20" rx="4" fill="#666" opacity="0.8" filter="url(#bl20)"/>
<rect x="304.6" y="409" width="20.799999999999955" height="21" rx="4" fill="#5a5a5a" opacity="0.8" filter="url(#bl20)"/>
<rect x="334.6" y="406" width="20.799999999999955" height="24" rx="4" fill="#444" opacity="0.85" filter="url(#bl20)"/>
<rect x="362" y="407" width="21" height="23" rx="4" fill="#555" opacity="0.8" filter="url(#bl20)"/>
<rect x="391" y="408" width="22" height="22" rx="4" fill="#777" opacity="0.75" filter="url(#bl20)"/>
<rect x="192.3" y="417" width="16.299999999999983" height="8" rx="3" fill="#555" opacity="0.55" filter="url(#bl20)"/>
<rect x="221" y="417" width="17" height="8" rx="3" fill="#666" opacity="0.55" filter="url(#bl20)"/>
<rect x="278" y="417" width="17" height="8" rx="3" fill="#444" opacity="0.55" filter="url(#bl20)"/>
<rect x="306.6" y="417" width="16.799999999999955" height="8" rx="3" fill="#3a3a3a" opacity="0.55" filter="url(#bl20)"/>
<rect x="336.6" y="417" width="16.799999999999955" height="8" rx="3" fill="#2a2a2a" opacity="0.55" filter="url(#bl20)"/>
<rect x="364" y="417" width="17" height="8" rx="3" fill="#3a3a3a" opacity="0.55" filter="url(#bl20)"/>
<rect x="393" y="417" width="18" height="8" rx="3" fill="#666" opacity="0.55" filter="url(#bl20)"/>
</g>
<clipPath id="c4"><rect x="186" y="445" width="233" height="16"/></clipPath>
<g clip-path="url(#c4)">
<rect x="186" y="445" width="233" height="5" fill="#d6d6d6" filter="url(#bl10)"/>
<rect x="188" y="453.5" width="21" height="3.0" rx="1.2" fill="#505050" opacity="0.9" filter="url(#bl10)"/>
<rect x="215.5" y="452.3" width="25.80000000000001" height="4.0" rx="1.7" fill="#222" opacity="0.9" filter="url(#bl10)"/>
<rect x="244" y="451.7" width="28" height="4.6" rx="2.0" fill="#1c1c1c" opacity="0.9" filter="url(#bl10)"/>
<rect x="273" y="451.4" width="27" height="4.2" rx="1.8" fill="#222" opacity="0.9" filter="url(#bl10)"/>
<rect x="303" y="451.2" width="22" height="3.6" rx="1.5" fill="#303030" opacity="0.9" filter="url(#bl10)"/>
<rect x="332" y="451.2" width="22" height="3.2" rx="1.3" fill="#3a3a3a" opacity="0.9" filter="url(#bl10)"/>
<rect x="361" y="450.09999999999997" width="23" height="3.8000000000000003" rx="1.6" fill="#101010" opacity="0.9" filter="url(#bl10)"/>
<rect x="390" y="449.59999999999997" width="26" height="3.8000000000000003" rx="1.6" fill="#1a1a1a" opacity="0.9" filter="url(#bl10)"/>
</g>
<rect x="185.5" y="345.5" width="234" height="10.300000000000011" rx="1.2" fill="none" stroke="#262626" stroke-width="1"/>
<rect x="185.5" y="372.6" width="234" height="15.0" rx="1.2" fill="none" stroke="#262626" stroke-width="1"/>
<rect x="185.5" y="404.6" width="234" height="23.19999999999999" rx="1.2" fill="none" stroke="#262626" stroke-width="1"/>
<rect x="185.5" y="444.6" width="234" height="16.799999999999955" rx="1.2" fill="none" stroke="#262626" stroke-width="1"/>
<rect x="0" y="0" width="520" height="1" fill="#111"/>
<rect x="0" y="499" width="520" height="1" fill="#111"/>
<rect x="0" y="0" width="1" height="500" fill="#4d4d4d"/>
<rect x="1" y="0" width="1" height="500" fill="#9a9a9a"/>
<rect x="519" y="0" width="1" height="500" fill="#4d4d4d"/>
<rect x="518" y="0" width="1" height="500" fill="#9a9a9a"/>
</svg>
</body></html>
